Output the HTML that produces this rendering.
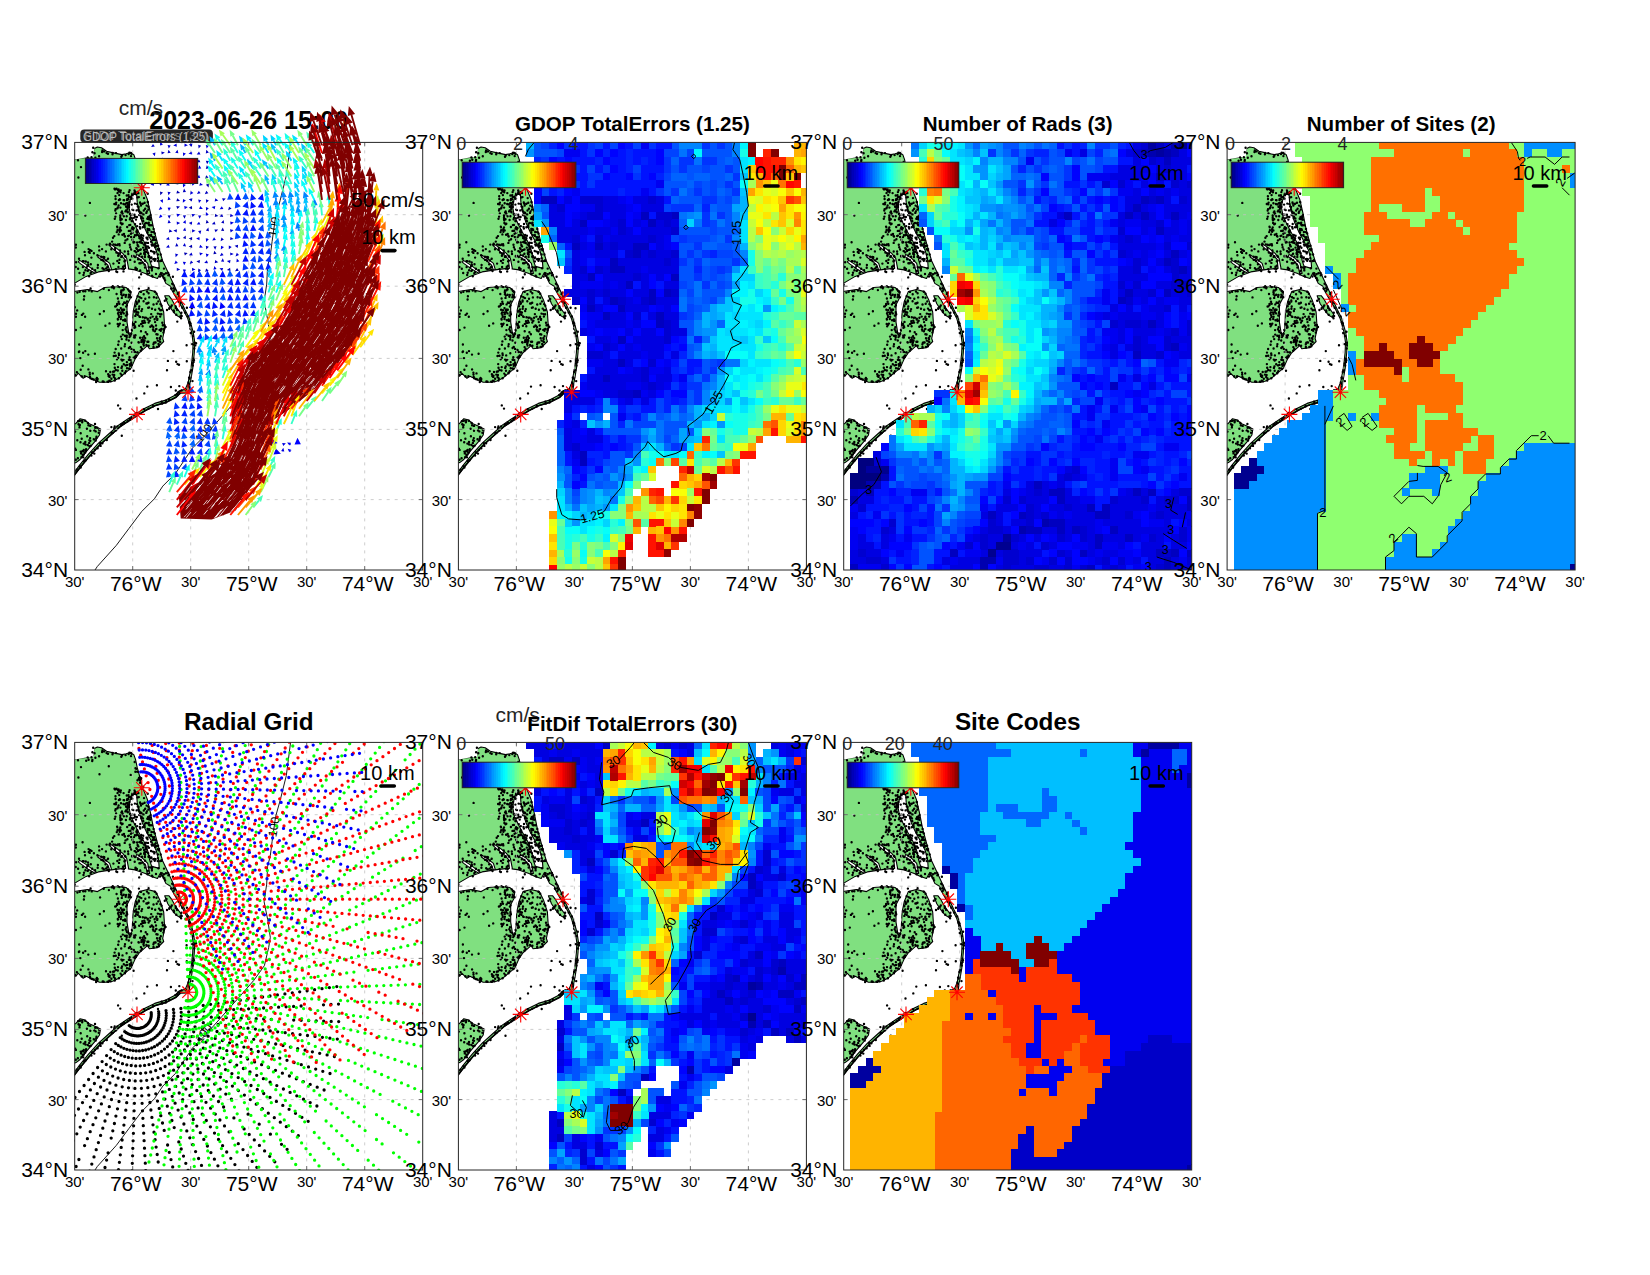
<!DOCTYPE html><html><head><meta charset="utf-8"><style>html,body{margin:0;padding:0;background:#fff;}svg{display:block}</style></head><body>
<svg width="1650" height="1275" viewBox="0 0 1650 1275" font-family="'Liberation Sans', Arial, Helvetica, sans-serif">
<rect width="1650" height="1275" fill="#fff"/>
<defs><clipPath id="pc"><rect x="0" y="0" width="348" height="427.6"/></clipPath><clipPath id="pc1"><rect x="0" y="-60" width="368" height="487.6"/></clipPath></defs>
<text x="248.7" y="129.3" font-size="25" font-weight="bold" text-anchor="middle">2023-06-26 15:00</text>
<text x="118.7" y="114.6" font-size="21" fill="#262626">cm/s</text>
<rect x="80.3" y="129.4" width="132.6" height="13.2" rx="4" fill="#262626"/>
<g font-size="13.5" fill="#d8d8d8" opacity="0.85"><text x="83" y="140.6" textLength="126" lengthAdjust="spacingAndGlyphs">GDOP TotalErrors (1.25)</text><text x="84" y="140.2" textLength="124" lengthAdjust="spacingAndGlyphs" opacity="0.6">FitDif TotalErrors (30)</text></g>
<text x="495.5" y="722.3" font-size="21" fill="#262626">cm/s</text>
<g transform="translate(74.7,142.4)">
<g clip-path="url(#pc)">
<path d="M51 126.1L50 117L46 112.5L40 108L35 103.5L36 102L42 106L48 111L52 116L54 126.5L53.6 126.5L60.4 127.5L70.6 131L76.7 134L82.8 136L86 130L88 134L91.1 141L96.2 144.1L96.2 146L101.3 155L108.5 167L113 176L117 190L118.4 200.2L118 210.4L116.3 225.5L113.5 240L110.5 247L104.5 248.5L100.3 252.9L90.2 258L80 261L69.7 266.1L61.5 271.2L53.4 276.3L44.2 282.5L34 291.6L23.8 300.8L13.6 312L4.5 323.2L-1 331L-1 333.6L5.4 325.2L14.6 314L24.8 302.8L35 293.6L45.2 284.5L54.4 278.3L62.5 273.2L70.7 268.1L80.9 263L91.1 260L101.3 254.9L105.3 250.8L114 250.5L114.4 248.6L115.5 241L118.1 225.7L119.6 210.4L120.1 200.2L118.6 190L114.5 175.7L110.4 167.5L106 158L102.3 149.2L99 142L99 142L96.2 136L92 127L88 118.6L86 112L82.9 101L78.8 85.7L75.8 70.4L72.7 57.1L70 50.5L67.6 44.9L66.5 40L64.6 32.6L62.5 25L60.8 17L59.1 12.2L55.7 10.1L51.4 11.4L47.2 12.2L38.7 10.5L31.9 8.8L26.8 5.4L22.6 4.6L19.2 6.3L18.4 13.1L13.3 14.8L9.5 15.3L4.8 15.6L-1 17.4L-1 141L1.3 140L11.5 134L23.7 129.5L36.7 127.5L35 127.5L33 122.5L29 119L23 114.6L24 113L30 117L35 121L37 127.5L40 127L50.2 126L51 126.1ZM72 90L77 99L81.5 108L84 118L84.5 126L77 124L75 118L73.5 110L71 102L67 95L63 88L59 80L56 74L54.5 66L55 60L57 52L62 52L62.5 60L64.5 70L67.5 80L72 90ZM22 130L20 130.6L13 126.5L6 121.5L3.5 119.5L5 118L12 122.5L18 127L22 130ZM68 116L73 121L75 131L72.5 131L71 123L67 118.5L61 114L62 112L68 116ZM94.1 153.3L90 153.3L93.1 161.4L97.2 167.5L101.3 172.6L106.4 175.7L106.4 171.6L101.3 164.5L97.2 157.3L94.1 153.3ZM24.8 239.9L31.9 239.9L38 238.9L44.2 235.9L50.3 230.8L56.4 225.7L60.5 216.5L64.6 210.4L72.7 203.2L74.7 206.3L82.9 205.3L89 199.1L88 196.1L90 185.9L89 169.6L85 157.3L80.9 149.2L72.7 147.1L64.6 149.2L60.5 159.4L58.4 169.6L57.4 189L54.4 193L52.3 179.8L52.3 162.4L55.4 156.3L56.4 149.2L51.3 145.1L42.1 144.1L29.9 145.1L22.8 149.2L12.6 147.1L-1 149.2L-1 233.8L1.3 233.8L3.4 230.8L8.5 235.9L11.5 233.8L17.7 236.9L24.8 239.9ZM19.7 283.5L14.6 281.4L9.5 277.3L5.4 276.3L0.8 281.4L-1 281.4L-1 321L1.3 320.2L5.4 317.1L12.6 307.9L19.7 299.8L24.8 292.6L25.8 286.5L19.7 283.5Z" fill="#80e080" fill-rule="evenodd" stroke="#000" stroke-width="1.1" stroke-linejoin="round"/>
<polygon points="-1,-1 20,-1 19.7,5.1 18.7,14.3 9.5,15.3 -1,17.4" fill="#fff"/>
<polyline points="105.3,250.8 101.3,254.9 91.1,260 80.9,263 70.7,268.1 62.5,273.2 54.4,278.3 45.2,284.5 35,293.6 24.8,302.8 14.6,314 5.4,325.2 -1,333.6" fill="none" stroke="#000" stroke-width="1.6"/>
<path d="M18.5 5.4h0m9.2 2.6h0m-14.7 7h0m3.8-0.2h0m0.9-5h0m2.2 1h0m4.5 3h0m3-4.2h0m2.1-0.6h0m2.4 1.7h0m1.4 0.6h0m4.5 0.6h0m0.2-1.3h0m3.3 0.1h0m5.3 3.6h0m0.7-1.2h0m3.6-0.4h0m3-1h0m0.8-1.4h0m1.5 0.3h0m0.1 3.1h0m0.7-2.4h0m-53.7 6.5h0m8.2 0.5h0m2.4-1h0m3.6 1.3h0m0.2-1h0m3-2.2h0m39.3 4.2h0m-53.7 5.1h0m27.8-0.9h0m26.7 2h0m0.7 0.5h0m-36.7 5.6h0m31.2 0.6h0m4.7-3.1h0m2.1-0.1h0m-59.1 5.8h0m59.1 2.8h0m1.1-1h0m0.4-1.4h0m0.8-0.7h0m0.3 3.1h0m0.8-1.1h0m0.3-0.9h0m-1.1 4.4h0m3.2 4.2h0m-28.8 1.8h0m0.6 0.7h0m1.4-0.6h0m1 4.3h0m0.2-3.4h0m0.9-0.2h0m0.1 1.8h0m1.8 1h0m0.3-1.8h0m2.8 2.6h0m5.3-1h0m0.7-1.9h0m4.9 0.2h0m0.2 2h0m0.2-0.9h0m1.5 1.8h0m1.1-1.4h0m0.9 1.2h0m3.3-4.4h0m-26.2 7.6h0m0.1 2.7h0m3.6-3.9h0m0.6 4.2h0m6.9-3.8h0m0.6 3.4h0m1.2 0.4h0m0-4h0m0.5 1.6h0m1.7 0h0m1.1 1.9h0m0.5-0.1h0m0.1-4.9h0m0.2 1.4h0m1.5-1.8h0m2.1 0.8h0m1.3 3.2h0m1.3-0.3h0m5.2 1h0m3.7-4.4h0m-57.8 9.2h0m24.5 1.1h0m1.5 0.2h0m0.3-1.6h0m2.4 2.8h0m0.3-5.4h0m1.2-0.4h0m0.9 3.7h0m2.5 0.7h0m0.1-3.9h0m0.5 0.2h0m0.9 4.1h0m1.4-1.1h0m0.6-3.3h0m0.1 3h0m0.2 0.3h0m0.3-0.1h0m0.6 1.3h0m1.2-2.5h0m2.3 2.6h0m3.2-1h0m2.1 0.5h0m3.1-1.7h0m0.3 1.1h0m2.3 0.3h0m1.9-1h0m3.1-0.8h0m0.2 0.3h0m-32.6 8.3h0m0.3-1.3h0m1.9-1.1h0m0.3-0.8h0m2.6 0.2h0m5.6 2.8h0m0.1-3.7h0m1 0h0m0.5 2h0m0-3h0m1.4 1.2h0m3.4 2.7h0m0.9 0.5h0m3.3 0.3h0m1.2-4h0m0.8 0.5h0m0 2.3h0m0.6 2.1h0m1.8-5.8h0m2.8 5h0m1.4-1.8h0m1.4-3.1h0m1.8 1.1h0m0 2.8h0m-63.1 6.1h0m30.1 1h0m0.7-3.1h0m4.2 3.9h0m0-2h0m1.1-3h0m0.6-0.9h0m0.4 1.8h0m0.4 0.9h0m1.1 2.1h0m1.5-4.9h0m0.5 0h0m0.8 4.8h0m1-4.8h0m0.1 0.9h0m2.2 1.7h0m0.7 0.6h0m1.7 0.1h0m2.1 0.1h0m0.6 1.8h0m1.8 0.4h0m2.3-2h0m0.8-0.2h0m0.5-2.4h0m0.8 0.2h0m0.2 0.6h0m0.1 3.6h0m1.9-2.4h0m2.8-1.5h0m0.5-1.5h0m1.2 5.9h0m1.1-0.5h0m0.2-0.4h0m0.2 0.5h0m1-1.9h0m-35.7 3.7h0m5.5 0.4h0m0.2 1.2h0m0.2 2.7h0m1.1-3.7h0m4.1 0.7h0m4-0.8h0m0.5-1.4h0m1.3 3.3h0m0.8 0.2h0m0.1-3.1h0m1.7-0.6h0m1.7 2h0m5.3-1.3h0m0.5-0.2h0m1.2 0.4h0m0 2.6h0m0.3 0.2h0m2.8 1.7h0m1.2-4.3h0m0.7 4.6h0m0.6-5.1h0m0.2 4.5h0m0.2-3.4h0m0.9-1.9h0m0.6 2.4h0m-33.4 6.9h0m0.2 0.5h0m2.3 1.9h0m0.7-1.6h0m1.5-3.2h0m0.8-0.6h0m4.6 3.3h0m2-1.9h0m1-0.2h0m1.7 3.6h0m0.5-1.3h0m0.2 0.3h0m1.2 0.6h0m1.3-4h0m2 2h0m2.7 0.8h0m0.4 1.6h0m0.1-4.6h0m2.4 3.4h0m1.8-1.8h0m0.2 1.4h0m0.2-3.3h0m2.7 5.3h0m1.3-4.2h0m0.2 4.5h0m0.6-3.8h0m0.5-0.2h0m1.8 0.1h0m1.6 3.6h0m-36.8 3.2h0m0.7-1.9h0m1.2 4.2h0m1-4.3h0m0 1.7h0m1.3-1.4h0m1.4 4.3h0m1.6-0.8h0m4.8-3h0m1.6-0.2h0m0.5 3h0m1.7-0.9h0m0.5-3.3h0m1.8 5.7h0m1.5-3.5h0m0.5-1.3h0m0 3.7h0m0.3-2.8h0m0.1 3.2h0m0.1-4.1h0m0 1.7h0m0.3 2.7h0m3.7 0.2h0m6.2-2.2h0m0-2.4h0m1.4 4.7h0m0.5-5h0m1.6 4.9h0m0.4-3h0m2 0.1h0m1.3 1.3h0m-41.8 4.4h0m1.3-1.7h0m10.3-0.2h0m0.4 0.6h0m0.5 3.9h0m1.9-1.1h0m0.8-3.3h0m0.7-0.4h0m2.2 1.4h0m1.3 2.7h0m1.6-2.6h0m1.8-1.7h0m3.3 0.9h0m0.3 1.7h0m0.8 0.5h0m0.6 2.6h0m0.1-4h0m1 2.9h0m0.8-1.8h0m0.5-2.4h0m3.3 1.9h0m1-0.1h0m0 1.6h0m3.7-3.3h0m1.6 3.9h0m0.1-2.5h0m0.9 0.8h0m0.4 1.7h0m0.1-2.7h0m1 2.6h0m0.7 0.7h0m-80.1 4.3h0m6.7-2.5h0m16.5 4.2h0m7.5-1.8h0m2.9 0.1h0m0.5-1.1h0m2.1-2h0m1.3 2.9h0m1.9 0.2h0m1.8 0.4h0m0.8-0.7h0m1.5-0.1h0m0.2 1.1h0m5.1-2.5h0m5.1 1.9h0m0.4 2.5h0m3.1-5.7h0m0.2 0.9h0m0.8-0.3h0m2.8 0.3h0m0.5 2.4h0m0.2 0.8h0m0.6 0.7h0m1-4.3h0m1.2 0.4h0m1.5 0.5h0m1.8 1.6h0m0.9-1.4h0m0.7 2.8h0m0.5-3.2h0m0.5 4.3h0m1.4-0.7h0m0.1-3.5h0m3.1-1.2h0m0.5 2.8h0m0.4 1h0m0.9-0.1h0m1.8-1.1h0m0.5 2.6h0m0.2-1.2h0m0.4-2.4h0m0.6 3h0m1.7-0.5h0m-82.3 1.7h0m8.8 4.4h0m4-2.8h0m0.2 2.8h0m0.9 1h0m0.5-2.7h0m1.3 0.7h0m2.4 2.3h0m5.4-2.8h0m2.8-1.3h0m3.8 2.3h0m5.4-2.1h0m3.8-1.4h0m0 2h0m1.3 2.6h0m3.6-2h0m0.1 2.6h0m4.6-1.6h0m3.4 0h0m3.1-2h0m3.4 1.6h0m0.4 0.1h0m1.3-3h0m0 4.2h0m0.6-3.3h0m1.1 1.8h0m1.1-0.8h0m1.1-0.4h0m0.6-0.3h0m2.3-1.8h0m1 5.5h0m0-3.2h0m0.6 1.9h0m1-3.7h0m0.4 1.3h0m0.3-1h0m0.1 3.5h0m1.7 1.4h0m0.8-5.5h0m2 3.2h0m1.9 0.6h0m1.8 0.7h0m2.9-3h0m1.2 0.9h0m0.3-1.1h0m-80.1 9.6h0m6-3.5h0m6.4 2.4h0m6-2.3h0m3.8 1.5h0m2.2 0.2h0m0.7 1.1h0m0.2-0.9h0m3.7 1.5h0m10.2-2.9h0m0.1-2.3h0m0.3 1.9h0m2.7 1.5h0m0.7-0.6h0m3-0.4h0m0.5 0.8h0m2.8-2.7h0m3.8 2h0m0 0.4h0m1.6-0.4h0m1.4 1.1h0m3 2.1h0m0.4-0.4h0m0.6-3.4h0m1.6-1.6h0m1.4 2.9h0m2.2-2.6h0m0.5-0.5h0m0.1 3.4h0m0.1-2.3h0m3.5 2.1h0m0.3-0.6h0m0.3-0.2h0m0.3 0.9h0m1.6 1.4h0m0.4-0.8h0m1.9 1.7h0m1-5.8h0m0.2 5.5h0m1 0.4h0m2.4-1h0m0-3.9h0m2.8 0.1h0m-84.6 7.7h0m6.7-1.1h0m0.7 0h0m2.3 0.4h0m2.2 1h0m0.2 2.4h0m2.6-0.7h0m7.1 0.8h0m3.4-5.2h0m1.5 0.3h0m0.8 0.9h0m1.9 3.3h0m0.7-3.8h0m7.2 3.1h0m3.9-2.6h0m1.7 1.9h0m0.5-3.1h0m4.9 1.5h0m0.9-0.7h0m4.9-0.7h0m4.5 1.8h0m4.7 1.6h0m1.2-0.1h0m0.1-3.2h0m1.9 2.6h0m1.9 1.9h0m0.6-3.7h0m6.1 0.6h0m3.6-0.6h0m2.9 0.3h0m2.5 0h0m1.3-0.9h0m0.3 0.6h0m-86.1 6.2h0m2.4 1.7h0m4.8-1.6h0m2.5 3.1h0m1.1-2.6h0m0.9-1.6h0m0.3 4.9h0m0.7-0.8h0m3.8-1.3h0m2.9 1.5h0m2.6-2.6h0m4.8 0.5h0m1.3 1.2h0m2.1-0.8h0m1.4-1.5h0m0.6 2.7h0m0-3h0m0.9 4.3h0m7.1-2h0m2.5-2.1h0m3.8 1.6h0m0.9-1.8h0m0.4 4.6h0m0.5-2.5h0m0.5-3.2h0m11 2.6h0m0-0.5h0m0 1.3h0m0.2-0.1h0m1.2 0h0m3.3 1.5h0m4.8-3h0m2.9 3.7h0m0.2-0.5h0m0.6-3.5h0m2 0.2h0m1.2 3h0m0-1.6h0m0.4-1.9h0m6.1 1.4h0m5.6 0.3h0m-84.5 4.4h0m4 2h0m0.5-2.2h0m5.1 3.5h0m1.5-3h0m0.7-1.1h0m25-0.7h0m0.9 0.5h0m22 5.4h0m1.9-3.2h0m6.5 0.1h0m4.4 1.5h0m0.6 0.8h0m3.4-2.6h0m4 2.6h0m1.1-2h0m0-0.5h0m0.7-0.8h0m0.7 2.7h0m1.5-1.7h0m2-1.1h0m2.2-0.3h0m0.1 2.3h0m0.7-0.4h0m3.9 1.9h0m-9.3 1h0m0.8 0.5h0m0.7 2.1h0m-90.4 4.4h0m15.9 3.8h0m13.1 0.3h0m8.2-1.6h0m0.9-0.9h0m1.1 1.9h0m0.2-0.5h0m3.7-1.4h0m1.6 0.8h0m3.1-0.7h0m0.8 0.5h0m0.3 0.6h0m15.3 1.1h0m9.7-0.3h0m22.6 0.3h0m0.3 0.2h0m0.7-5.1h0m1.4 2.9h0m0-1.1h0m0.2 3h0m0.1-2.3h0m-96.5 6.4h0m2.3-0.8h0m3.5-0.6h0m2.1 0h0m3.7-0.7h0m2.7 0.8h0m0 0.1h0m17.2-1.3h0m7.7 3.9h0m4.4-1.9h0m0.2 2.1h0m0.1-3.8h0m0 2.5h0m1.3-2.5h0m1.2-0.9h0m0 5.3h0m2.3 0.2h0m1.9-5.6h0m0.9 5.3h0m0.3-3.6h0m0.6 0.4h0m0.6 0.8h0m10.5-0.4h0m2.8 2.4h0m3.3-2.8h0m1.6 1.8h0m6.2-1.5h0m1.7 2h0m17.2-2.7h0m1.2-1.7h0m2.9 4.7h0m0.9-1.3h0m-94.8 6.7h0m0.3-3.2h0m15.9 1.1h0m17.8 1.1h0m3.9-0.6h0m0.5-2.3h0m3.4 1.1h0m1.3 4.7h0m1.6-4.2h0m0.7-1.4h0m0 0.8h0m1.6 0.7h0m6.7-1h0m1.3 4.2h0m0.8-3.2h0m1.6 0.8h0m2.3 3.2h0m1.7-2.6h0m3.9-1.3h0m4.7-0.1h0m2.6 0.4h0m1.8 3.7h0m6.5-0.7h0m1.7-1.8h0m12.8-2.5h0m0.9 3.7h0m-105.4 7.2h0m40.4-0.8h0m0.8-0.3h0m1.1-1.3h0m0-0.9h0m1.5-2.2h0m0.7 1.9h0m3.6 0.7h0m1.3-1.9h0m0.3 0.4h0m1.2 0h0m0.5 3.7h0m0.7-1.4h0m8.4 1h0m1.1-4.5h0m0.1 2.4h0m0.3-1.1h0m0.4 0.5h0m1.7-1.9h0m0.4 4.8h0m7.1-2.9h0m0.9 0.1h0m1.2-0.9h0m5 1.7h0m0.1 0.2h0m3.1-0.9h0m3.7 0.4h0m1.2 1.7h0m9.4 1h0m0.8-1.3h0m3.9 1h0m2.7-4.9h0m0.7 0.1h0m1.3 1.2h0m-103.2 7.5h0m26.7 0.8h0m13.5-1.4h0m0-0.2h0m1 2.9h0m0.9-2.4h0m1.3 2.3h0m0.2-4.3h0m1.3 1.8h0m0.3 2.2h0m0.4-2.3h0m0 0.6h0m0.4-0.8h0m0.6 3.8h0m0.3-3.7h0m2.6 2.5h0m0.1 1h0m7.2-1.7h0m0.7-0.6h0m0.9 0.6h0m0.7-2.1h0m0.7 2.7h0m1.2 0.4h0m0.8-3.8h0m2.5 2.3h0m0.6-1.9h0m6.1-1.3h0m0.9-0.4h0m2.9 1.4h0m3.2 0.9h0m3.8-1.1h0m1.3 1.7h0m1.5-0.2h0m5.2-0.1h0m2.2-1.2h0m0.1-0.7h0m4.5 2.4h0m0.1 1.5h0m0-0.7h0m1.8-3.4h0m1.3 1.8h0m4.4 3h0m0.9-4.9h0m2.7 4.8h0m0.2 0h0m1.7-4.9h0m4.9 0.5h0m-115.9 8.6h0m0.1-3.1h0m5.9 1.2h0m1.4-1.3h0m1.8 3.1h0m14.7-2.7h0m18 5h0m0.2-5.4h0m0.8 1.5h0m0.2 1.8h0m1.8 2.1h0m0.3-5.1h0m0.1 2.9h0m4.7-1.3h0m0.4 0.1h0m0.9-1.4h0m8.1 1.7h0m0.8-1.8h0m1.6 0.7h0m1.7 1.7h0m0.6 0.4h0m2.8 0.3h0m2.1 0.5h0m1-0.1h0m1.9 1h0m2.6-0.9h0m0.8-3.6h0m1.5 2.5h0m1.9 2.6h0m1.7-1.8h0m0.1-0.6h0m1 2.1h0m0.4-5.3h0m2 0.5h0m0.4 2.5h0m1.2-2.3h0m14.9 0.4h0m4 1.7h0m0.8 1.9h0m0.6-2.4h0m6.5 0.5h0m-78.7 7h0m8.2 0.5h0m0.2-4.3h0m1.2 5.2h0m0.8-1.2h0m3.2-3.3h0m0.3 4.6h0m1.6-5.4h0m0.2 1.4h0m0.3-0.1h0m7.5 3.1h0m0.9 0.7h0m0.2 0.6h0m0-1.2h0m1.4-2.1h0m5.6 2h0m0.8-0.3h0m0.4-2.3h0m1 1.6h0m1-2.3h0m0.8 1.9h0m2.6-2.9h0m0.9 2.9h0m1.1-1.7h0m2.1 4.6h0m3.3-3.3h0m2.1-2.2h0m5.1 2.9h0m0.5 2.5h0m1.6-0.3h0m0.1 0.2h0m12.8-3.6h0m12.1 0.8h0m0.2-0.4h0m0.2 1.3h0m0.2-0.3h0m0.5 0.5h0m-114.6 6.5h0m4.9-2.4h0m24.6-1.8h0m12.8 0.5h0m4.5 3.8h0m2.9-0.9h0m0.7-2h0m0.2 3.6h0m5.4-0.9h0m2.4-2.1h0m0.6-1.6h0m0.3 1h0m4-1.4h0m1.8 5.4h0m1.6-5h0m7.7 0.5h0m1.8-0.7h0m0.9 3.5h0m0.3-2.5h0m0 3.6h0m1.6 0.7h0m0.9-2h0m0.2-3.8h0m0.4 3.4h0m3.2 1h0m0.7-0.3h0m0.5 1.1h0m0.8-1.7h0m2.3 0.1h0m0 1.4h0m0.4-1.7h0m1.3-1.8h0m24.8 1.7h0m0.2-2.8h0m-69.6 10.7h0m1.8-2h0m2.1 1.1h0m1.8 1.5h0m0.1-1.5h0m0.2-3.6h0m1.7 1h0m0.8 4h0m0.9-1.3h0m0.9-1.8h0m2.6 3.3h0m0-1.5h0m1.6-0.6h0m8.6 1h0m1.6-3.9h0m1.5 2h0m9.2 0h0m1.2 0.2h0m3.2 1.8h0m2.6-3.7h0m27.4 0.3h0m0.2 0.4h0m2 2.8h0m1.1-4.4h0m-75.4 9.7h0m3.1-2.3h0m4.6 0.4h0m2.4 1h0m2.8 2.2h0m3.2-5.2h0m3.7 4.8h0m0.3 0.2h0m1.3-4.8h0m1.2 4.4h0m0.2-1.8h0m1.1-2.6h0m0.2 1.5h0m0.4 2.6h0m0.1-0.8h0m0.6 1.7h0m0.4-2.6h0m0.3 0.6h0m0.6-2.6h0m2.2 3.7h0m1 0h0m5.5 0.8h0m1.1-0.1h0m0.6 0h0m1.4-4.2h0m0.8 2.3h0m1.8-2.5h0m0.2 3.3h0m0.2-2.3h0m0.3 3h0m34.3 0.5h0m1.5 0.6h0m-116.9 1.3h0m36.5 4.5h0m2.5-4.2h0m3 3.7h0m3.5-2.3h0m0.3-2.1h0m3.9 3.9h0m1.2-1.1h0m1.3 2h0m9.5-1.8h0m1 1.6h0m1.5-4.6h0m0.4 1.4h0m2.6-0.5h0m2.3 0.8h0m4.7-1.6h0m0.1 3.3h0m0-0.6h0m0.2 0.7h0m3.2-0.7h0m1.6-2.9h0m0.4 2.2h0m0.1-0.9h0m27.6-0.1h0m5.5-1.1h0m1.8 0.5h0m0.4 3.9h0m1-3.1h0m-116.4 6.6h0m0.4-0.5h0m3.8 1.2h0m2.2-1.6h0m3 3.5h0m6.6-0.8h0m19.7-1.2h0m4.2 0.8h0m0.2 1.6h0m7.6-1.8h0m5.8-1.3h0m1.4-2h0m1.3 2.1h0m1 3.4h0m1.2-2.9h0m0.4-0.1h0m3-1.7h0m32.7 0.4h0m-93.1 7h0m33.5-2.1h0m2-0.3h0m1.2 3.5h0m1.2-1.5h0m3.2 1.9h0m0.9 0.9h0m0.2-5.1h0m1 4.2h0m5.4 0.2h0m0.7-2.5h0m0 0.3h0m1 2.5h0m3.1-2.4h0m0.8 0.3h0m0.6-1.6h0m0.8 0.4h0m32 4.1h0m18.9 0.3h0m6.3-0.6h0m0.4-1.8h0m0.5 1.5h0m-111.3 5.4h0m31.8-1.6h0m3.5 3h0m4-0.7h0m1.8-2.2h0m1.9 1.2h0m1.2-3.3h0m0.2 2.8h0m2.6-0.6h0m0.3 1.5h0m1.3-3.3h0m0.2 1.9h0m0.1 0.8h0m44.6-3.4h0m1.3 2.3h0m1.5 0.6h0m13.4-1.2h0m0.4 2.1h0m0.8-3.7h0m-116.7 10.3h0m3.8-2.4h0m7.7-0.4h0m1.3 3.3h0m16.3-1.5h0m4.3 0.8h0m2.8-0.2h0m1-0.3h0m0.7-3.8h0m1 2.3h0m2 0.5h0m3.7-2.6h0m0.8 2.8h0m2.4 2.3h0m0.2 0.3h0m1-2h0m1.1-3.1h0m2.1 0.3h0m0.6 0.5h0m3.9 1.8h0m33.4-0.5h0m23.4 1.7h0m0.5-1.9h0m0.7 0.1h0m-116.3 4.7h0m6.5 1.5h0m0.1 0h0m2.8-0.1h0m5.1-1.7h0m0.2 2.3h0m0.5 1.3h0m1.6 0.9h0m0.1-0.1h0m0.6-5.6h0m3.6 5.6h0m0.5-1h0m0.7 0.9h0m10.6-4.6h0m0.4 1.8h0m0.9 0.8h0m0.3-1.2h0m1.6 3h0m1.2-4.1h0m1.2 2.4h0m0.4-2.1h0m0.9 3.5h0m3.8-0.2h0m1.7-4.6h0m1.1 1.3h0m0 0.4h0m67.4 2.4h0m0.3 0.9h0m0.1-0.8h0m0.9-0.6h0m-96.7 2.3h0m2.4 2.5h0m1.2-1.2h0m5.4 0.7h0m1 0.3h0m0 0.1h0m3.8-0.3h0m0.6 0.3h0m1.2-1.2h0m1.3 0.7h0m4.2-0.8h0m42.1 4.7h0m31.2-0.3h0m0.3-2.5h0m0.8 1.4h0m3.3-2.8h0m-45.2 5.5h0m23.6 0.4h0m4.9 3.5h0m3.5-4.4h0m2.3 4.4h0m4.2-1.1h0m0 0.9h0m2.6-3.7h0m0.4 4.8h0m-44.5 2h0m31 1.7h0m1.7-1.1h0m0.7 1h0m0.4-2.6h0m1.5 0.8h0m0.4-0.9h0m-43.5 6.2h0m25.1 3.3h0m4.2 0.7h0m0.1-1.7h0m3.2-1.6h0m-51 6.2h0m2.2 3.2h0m23.8 0.5h0m4.5-0.5h0m4.5-2.2h0m0.1-0.8h0m4.8 3.4h0m4.2-5.5h0m-27.6 11.1h0m1.1-1.2h0m0.7-0.4h0m3.1 0.6h0m-61.4 7.7h0m1.9-0.6h0m2 0h0m0.4 0.2h0m2.8-0.1h0m42.5 0.5h0m1.9-2.4h0m1.9-1.3h0m1.4-2h0m-54.4 8.6h0m1 3.2h0m0.1-2h0m0.3-0.5h0m2.3-2.6h0m5.7 0.6h0m0.5 2.4h0m1.9 0.6h0m4.7-2h0m16.4 3.2h0m3.3-0.7h0m2.7 0h0m3.5-1.3h0m0.6-0.9h0m0.8-0.3h0m1.8-1.8h0m0.3 0.9h0m-49.3 8.6h0m5.6 1.6h0m6.2-4.5h0m3.4 2.1h0m4-0.4h0m0.9-2.6h0m0.5 3.6h0m0-4h0m1.5 0.4h0m1.5 4.9h0m0.4-3h0m12.5 3.6h0m1.2-0.6h0m1.4-4.6h0m0.7 1.1h0m1.2 1.1h0m-34.4 8.4h0m5.5-2.5h0m2.9 1.9h0m3.7 1.2h0m2.4-1.1h0m0.3-1.6h0m25.3-0.8h0m-44.5 4.5h0m3.2 2h0m3.2 1.3h0m1.6-1.6h0m0.2 2.5h0m2.3 0.5h0m1.4-2.1h0m0.2-2.7h0m0.9 0.5h0m5.4-0.2h0m4.4 2.5h0m2.3 0.2h0m4.4-3.2h0m-31.6 8.6h0m0.7 1.3h0m6.5 1.3h0m1.4-1.2h0m2.3 0.2h0m0-0.9h0m3.4-3.1h0m1.5-0.6h0m4 4.4h0m2.6-1.8h0m3-2.3h0m-19.9 5.7h0m0.4 1.8h0m0.3 3.9h0m1.3-2.3h0m0.6 2.3h0m0.5-2.9h0m0.7-2.1h0m0.7 0.2h0m6.2 3.1h0m0.7-3.2h0m0.1 0h0m2.1 1.2h0m-19.5 6.4h0m1-0.2h0m2.1-1.6h0m6.2 2.8h0m1.7-0.8h0m-5.8 6.1h0m0.5 0.7h0m0.2 0.5h0m-4 2.1h0" stroke="#000" stroke-width="2.4" stroke-linecap="round" fill="none"/>
<g stroke="#c0c0c0" stroke-width="0.8" stroke-dasharray="3,5" fill="none">
<line x1="0" y1="72.3" x2="348" y2="72.3"/>
<line x1="0" y1="143.8" x2="348" y2="143.8"/>
<line x1="0" y1="216" x2="348" y2="216"/>
<line x1="0" y1="287" x2="348" y2="287"/>
<line x1="0" y1="357.2" x2="348" y2="357.2"/>
<line x1="58" y1="0" x2="58" y2="427.6"/>
<line x1="116" y1="0" x2="116" y2="427.6"/>
<line x1="174" y1="0" x2="174" y2="427.6"/>
<line x1="232" y1="0" x2="232" y2="427.6"/>
<line x1="290" y1="0" x2="290" y2="427.6"/>
</g>
<g stroke="#555" stroke-width="0.8">
<line x1="0" y1="72.3" x2="4" y2="72.3"/><line x1="344" y1="72.3" x2="348" y2="72.3"/>
<line x1="0" y1="143.8" x2="4" y2="143.8"/><line x1="344" y1="143.8" x2="348" y2="143.8"/>
<line x1="0" y1="216" x2="4" y2="216"/><line x1="344" y1="216" x2="348" y2="216"/>
<line x1="0" y1="287" x2="4" y2="287"/><line x1="344" y1="287" x2="348" y2="287"/>
<line x1="0" y1="357.2" x2="4" y2="357.2"/><line x1="344" y1="357.2" x2="348" y2="357.2"/>
<line x1="58" y1="0" x2="58" y2="4"/><line x1="58" y1="423.6" x2="58" y2="427.6"/>
<line x1="116" y1="0" x2="116" y2="4"/><line x1="116" y1="423.6" x2="116" y2="427.6"/>
<line x1="174" y1="0" x2="174" y2="4"/><line x1="174" y1="423.6" x2="174" y2="427.6"/>
<line x1="232" y1="0" x2="232" y2="4"/><line x1="232" y1="423.6" x2="232" y2="427.6"/>
<line x1="290" y1="0" x2="290" y2="4"/><line x1="290" y1="423.6" x2="290" y2="427.6"/>
</g>
<polyline points="216,-1 211.6,33.3 205.4,58.2 200.9,74.2 197.4,99.1 195.6,113.3 192.9,123.9 192,141.7 189.4,159.4 193,177.2 195.6,195 194,205 189.7,223.2 179.1,238 164.3,254.9 147.4,273.9 130.4,293 117.7,305.7 100.8,331 88.1,343.7 79.7,356.4 67,369.1 54.3,386 41.6,403 22.6,424.1 19.4,429" fill="none" stroke="#000" stroke-width="0.9"/><text x="0" y="0" font-size="12" transform="translate(201.5,95) rotate(-80)" fill="#000">100</text><text x="0" y="0" font-size="12" transform="translate(126,301) rotate(-52)" fill="#000">100</text>
</g><g clip-path="url(#pc1)">
<polygon points="106,376 104,352 125,340 150,325 157,300 157,250 170,230 182,213 200,193 213,175 220,150 228,136 248,105 264,80 272,64 292,62 296,70 293,100 289,137 288,175 278,200 268,213 253,235 236,250 213,268 195,280 186,290 185,317 178,340 172,351 161,368 137,377" fill="#800000"/>
<path d="M276.5 87.5l1.5 -9.4M176.8 283.6l3.4 -7.8M177.7 297l2 -4.6M159.9 274.4l4.4 -10.3M158 317l2.4 -5.5M275.9 126l1.7 -3.7M233.4 247.9l7 -9.4M175.6 332.9l3.1 -7M265.9 143.6l2 -4M178.7 254.6l5.8 -12.4M190.7 283.7l4.6 -10.7M211.4 184.3l3.2 -4.8M109.5 374.8l8.1 -10M208.5 226.9l5.6 -7.5M278.6 82.7l1 -10.4M191.1 216.4l6.2 -8.3M175.6 338.8l2.6 -5.8M252.9 167.2l5.3 -10.6M105.6 362.5l6.2 -7.7M263.9 95.5l3.1 -6.8M175.5 295.4l3.5 -7.9M285.2 69l0.5 -5M152.2 330.3l4.1 -9.2M264.7 187.7l3.4 -5.1M221.2 241.1l5 -6.7M210.1 210.2l7.2 -10.4M166.1 324.6l3.7 -8.4M280.8 75.2l0.5 -5.5M228.6 186.6l7.1 -10.7M236.5 175.1l3.7 -5.6M190.7 276.1l2.5 -5.8M167.6 297.7l3 -6.8M219.4 233.8l8 -10.6M277.3 130.2l2.5 -5.5M235.7 195.3l6.9 -10.4M241.4 218.3l2.6 -3.8M259.2 187.5l4.8 -7.2M289.1 88.7l1.2 -7.4M290.1 120.7l3.8 -8.5M181.9 307.6l3.5 -7.8M289.2 75.2l0.6 -5.7M204.5 245l7.5 -10M286.3 171.3l1.9 -3.7M267.5 127l1.7 -3.8M283.8 178.6l4.6 -9.3M166 350.2l5.6 -7.7M240.3 174.8l5.3 -8M284.9 80.6l1 -9.7M173.9 270.7l5.1 -11.9M275.6 72.7l1.4 -13.7M159.2 313.3l3.8 -8.5M234.6 132.2l2.9 -5.9M287 119.6l4.3 -9.6M290.1 120.7l5.3 -11.7M205.2 270.8l2.1 -5M229.4 211.5l6.4 -9.6M227.7 160.9l5.8 -9.1M252.4 208l5.5 -8.2M225.8 212.2l2.7 -4.1M182.3 307.1l4.6 -10.3M216.8 229.9l3.3 -4.4M158.7 283.1l1.9 -4.4M250.9 115.5l1.7 -3.7M188.9 225.3l7 -9.3M175.5 305.4l2.3 -5.1M273.2 164.6l4.9 -9.8M270.3 152.5l3.9 -7.9M244.9 112.1l2 -4.4M278.6 92.4l4.8 -10.6M260.5 141l3.5 -6.9M198.7 231.3l4.8 -6.5M241.2 146.9l2.9 -5.8M237.7 142.3l6.2 -12.4M243.6 119.9l1.8 -3.8M200 251.1l7.3 -9.7M178.5 234l7.3 -9.7M259.3 174.8l6.2 -11.8M256.6 146.1l2.5 -5M261.4 100.6l2.6 -5.8M133.1 343.1l6.8 -8.4M278.1 102.5l4.6 -10.2M236.5 247.3l5.3 -7M174.6 342.6l3.9 -8.8M285.3 149.2l2.5 -5M227.6 233.4l5 -6.7M276.5 126.5l2 -4.5M263.5 120.2l4 -8.9M215.2 196.5l6.1 -9.2M243.9 203l5 -7.4M189 210.4l3.6 -4.9M190 210.3l5 -6.6M246.9 167.5l4.6 -9.1M262 84.1l0.7 -6.5M263.6 99.5l2.8 -6.2M116.9 357l8.7 -10.8M247.1 119.5l4.7 -10.3M279 187.2l3.1 -5.3M241.4 169.5l7.2 -11.5M225.5 171.6l4.9 -7.3M178.4 221.4l4.3 -5.8M217 233.8l3.5 -4.7M263.5 168.6l2.7 -5.4M234.2 242.6l6 -8M257.5 133.3l3.4 -6.8M157.9 334.4l1.6 -3.7M162.6 267.8l4.1 -9.5M262.9 208.7l5.8 -8.8M173.5 329.2l2 -4.6M270.4 139.7l4.1 -8.2M200.1 257.2l3 -4.1M233.9 232.3l6.7 -9M164.6 287.5l2.6 -5.9M248.9 112.4l4.3 -9.6M286.9 90.6l3.6 -13.5M217.1 206.4l5 -7.4M202.5 245.5l3.3 -4.4M242.1 144.6l1.9 -3.8M287.8 92.9l3.5 -11.5M251.3 196.9l5.6 -8.4M251.5 206.3l2.4 -3.6M165 259l2.2 -5M233.8 199.3l5.5 -8.2M252.6 219.3l4.8 -7.2M243.6 191.4l2.6 -3.9M257.7 108.5l2.8 -6.1M290.9 116.9l2.3 -5M256.7 136.3l4.4 -8.7M264.8 155.7l4.7 -9.4M118.1 372.9l3.1 -3.8M278.4 181.6l2.9 -5.8M176.2 339.9l4.3 -9.6M170.5 322l3.7 -8.2M204.3 252l6.5 -8.6M156.1 355.1l5.2 -6.4M215.4 242.9l4.4 -5.9M204.3 199.8l6.9 -10.4M248.9 221.5l4.8 -7.2M216.1 204.4l7.7 -11.5M268.3 189.9l5.7 -8.6M218.6 255.5l7.7 -10.3M179.8 274.1l5.3 -12.3M236.6 200.7l2.4 -3.6M220.2 157.8l5.6 -8.4M147.6 355.9l5.4 -6.6M231.3 232.1l5.2 -6.9M162.3 256.6l4.9 -11.5M165.6 241.1l2.2 -3.7M154.1 321l5.1 -11.4M225.1 186l5.4 -8.1M174.6 283.9l5 -11.8M162.1 293.7l2 -4.6M193.8 202.2l5.8 -7.8M257.3 120.4l3.3 -7.3M274.6 140.7l2 -4M269.6 118.3l2.1 -4.7M214.5 201.9l3.6 -5.4M232.7 202.7l3.7 -5.6M248.9 210.1l4.7 -7M187.2 280.6l3.4 -8M243.6 115.5l4.2 -9.2M167.2 309.1l3.7 -8.3M149.8 343.5l6.8 -8.4M207.3 229.1l8.3 -11.1M199.6 239l7.5 -10.1M214.1 233.3l7.1 -9.4M188.4 232.8l5.6 -7.5M254 113.4l5.2 -11.6M284.8 131.5l5.7 -12.7M169.5 271.2l5.3 -12.3M241 129.7l3.3 -6.5M283.2 66.9l0.9 -8.9M156.8 322.2l4.5 -10.1M258.7 210.9l5 -7.5M201.7 260l2.8 -3.7M204.4 272l2.7 -6.3M255.4 223.9l4.7 -7.1M280.4 71.9l1.3 -13.3M197.5 200l3.7 -5.6M169.2 278.6l2.7 -6.2M244.4 141.3l2.4 -4.8M277.8 176.8l4.2 -8.4M232.3 187.4l4.4 -6.5M168.8 276l5 -11.7M143.1 333.8l5.4 -6.6M257.5 115.5l4.7 -10.5M175.3 247.6l4.4 -7.6M274.4 182.1l5.1 -9.8M165.2 239.5l7 -11.5M137.7 341.2l7.5 -9.2M246.7 212.3l4.9 -7.3M274.7 65.3l1.3 -12.8M250 229l3.8 -5.7M144 347.1l5.5 -6.7M169.9 350.7l3 -4.9M218.5 184.9l3 -4.4M199.7 208.5l5.4 -7.2M171.5 347.5l5.1 -8.3M236.9 220.8l6.1 -9.1M190.8 282.2l4.8 -11.2M239.6 196.2l5 -7.6M183.7 214.4l2.5 -3.3M203.2 221.2l6.6 -8.8M227.8 170l2.4 -3.6M184.9 237.9l2.7 -3.6M281.6 78.8l0.9 -8.7M259.9 130.6l3 -6.1M202 193.6l5 -7.4M214.9 173.8l3 -4.5M164.8 342l4.5 -7.4M244.3 208l2.5 -3.8M258 157.8l3.6 -7.2M230.8 207.3l2.5 -3.8M270.9 119.1l5 -11M164.9 286.6l2.4 -5.6M210.3 196.7l2.9 -4.3M224.8 256.7l2.7 -3.6M246.2 139.6l3.4 -6.8M158.9 305l4.6 -10.3M170.2 275.3l4.1 -9.5M225.8 238.1l5.7 -7.7M126.1 362.6l4.1 -5.1M276.3 140l6.2 -12.3M246 156.6l2.4 -4.7M126.4 354.5l5 -6.2M231.6 240.2l5.5 -7.4M234.8 198.9l5.1 -7.7M218.9 244.8l6.9 -9.3M165.8 326.4l4.6 -10.4M206.1 212.8l2.6 -3.5M182.8 306.3l2.3 -5.2M151.8 350.8l2.8 -3.5M277 145.3l1.8 -3.6M252 229.7l3.2 -4.7M274.5 157.7l2.5 -5M264.8 118.8l5.5 -12.2M239 245.9l5.6 -7.5M217 185.9l4.1 -6.2M221.8 223l7.4 -10M232.3 197.5l3.4 -5.1M148.7 339l7.9 -9.7M263.6 134.3l3.1 -6.2M157.4 337.8l2.2 -3.8M192.8 221.6l8.1 -10.8M157.3 368.4l8.7 -10.7M153.5 316.3l4.7 -10.6M285.7 126.4l4 -8.8M219.2 201.1l7.1 -10.7M271.7 114.5l5.1 -11.2M164.3 318.7l2.6 -5.9M221.8 249l2.4 -3.2M111.1 350.4l2.9 -3.6M165 281.1l2.4 -5.7M123.7 358.3l6.2 -7.6M122.4 347.1l6 -7.4M263.3 150.7l4.6 -9.2M174.2 298l2 -4.5M260.3 183.5l7 -10.7M248.4 107.7l2.8 -6.3M182.3 214.9l2.8 -3.8M191.6 230.7l3.4 -4.5M254.6 172.3l6 -11.6M189.8 282.2l4.4 -10.2M132.3 349.4l6.3 -7.7M215.3 210.3l6.8 -10.1M206.7 212.7l6 -8.1M282.2 172l4 -8M236.9 149.9l4.3 -8.5M190.7 259l5.6 -11.1M287.4 101.1l4.8 -10.7M215.7 258.8l5.2 -6.9M231 147.6l1.9 -3.9M256.3 128.1l4.8 -9.7M251.1 206.6l4 -6M197.7 239.2l7.4 -9.8M207.2 242l3.2 -4.2M185 304.4l3 -6.7M241.7 120l3.5 -7.1M191.5 268.5l1.8 -4.3M233.3 232.9l4.2 -5.6M242.3 209.1l2.6 -3.9M290.4 98.5l4.4 -9.8M154.3 324.2l2.5 -5.6M280.1 82.1l0.7 -7M130.4 339l6.7 -8.2M163.8 254.3l2.3 -5.4M187.5 222.6l3.9 -5.3M154.5 359.3l7.7 -9.4M188.6 271l1.6 -3.7M213.5 255.8l6 -8M110.8 349.3l4.2 -5.2M276.8 156.7l2.7 -5.5M171.4 334.2l3.7 -8.3M214.2 177.6l4.5 -6.8M166.4 303.2l3 -6.6M184.6 301.1l3.7 -8.3M173.7 241.6l2.5 -3.4M238.6 129.3l2.3 -4.6M208.5 263.2l7.6 -10.1M257.8 100.9l2.6 -5.8M185.5 269.7l2.9 -6.8M163.7 254.1l4.5 -10.6M202.3 252.3l7.4 -9.9M228.8 235.3l7.7 -10.3M246.3 236.5l3.2 -4.5M230.4 252.2l4.3 -5.7M228 188.2l2.5 -3.7M224 189.3l6.6 -9.9M271.7 162.8l2.4 -4.9M158.9 314l2.1 -4.8M107.9 361.1l8.7 -10.7M166 288l2.8 -6.5M253.4 213.5l4.3 -6.5M286.4 63.3l0.5 -4.7M285.5 127.9l5.3 -11.7M181.2 222.1l3.5 -4.7M229.5 198.4l5.3 -7.9M282.3 166.8l3.8 -7.6M265.2 105.4l4.1 -9M271.3 103.4l1.9 -4.1M148.3 344.6l3.2 -4M267.3 159l2.7 -5.3M221.2 191.9l3.2 -4.8M264.1 96l2.6 -5.9M188.9 266.4l1.8 -4.1M173.8 282.9l2.3 -5.3M196.8 223.2l3.3 -4.4M148.1 340l7.2 -8.9M230 172.5l3.3 -4.9M256.4 139.3l5.1 -10.3M248.4 208.9l7.6 -11.3M154.4 332.7l4.7 -10.5M162.3 275.6l4.4 -10.3M281.6 64.3l1.2 -11.7M242.9 218l2.3 -3.4M272.5 111.6l2.6 -5.7M123.9 356.3l6.2 -7.7M176 330.7l2.3 -5.3M270.3 78.6l0.9 -8.8M220 163.9l2.8 -4.3M242.9 151.2l5.9 -11.8M164.3 339.7l2.7 -5.2M242.2 174.6l6.1 -9.1M262.6 193.3l6.6 -9.9M270.4 84.4l1 -10.2M169.3 343.1l5.1 -8.6M176.3 221.1l3.8 -5M167.2 320.7l3 -6.7M227.6 243.2l7.4 -9.8M223.9 197.1l5.3 -7.9M250.6 153.2l2.7 -5.4M255.3 115.6l3.5 -7.8M219.9 156.1l5.4 -8.4M183.1 298.3l3.5 -8M286.3 95l2.9 -6.5M275.9 102.3l4.5 -10.1M111.3 367l6.4 -7.9M155.1 335l2.3 -4.6M236.5 241.3l7.4 -9.8M146.5 351.5l7.1 -8.7M117.3 353.6l7.8 -9.6M233.1 135.3l3.9 -7.9M270.9 158.6l5.9 -11.9M267.6 114.3l3.1 -6.8M233.8 153.4l6 -12.1M273.2 93.8l2.2 -5M140.4 375.1l3.9 -4.8M227 162.8l5.2 -7.9M243.1 140.4l4.9 -9.8M181.3 220l4.4 -5.9M180.5 242.1l3.6 -4.8M249.1 145.2l4.5 -9M243.8 166.6l5.5 -10.7M279.9 153l4.6 -9.2M176.4 336.1l5.3 -12M239.8 158.1l2.7 -5.5M271.3 123.7l3.2 -7.1M227.9 183.2l6.2 -9.3M277.4 146.5l5.6 -11.2M160 287.3l5.4 -12.3M135.6 367l4.1 -5.1M282.2 170.6l4.2 -8.3M208.2 264.3l3.8 -5.1M180.8 288.4l3.6 -8.4M243 117.3l4.7 -10.3M276.1 83.7l1.2 -11.9M235.9 231.2l6.8 -9.5M128.7 362.6l4.1 -5M174.3 307.4l4.4 -9.8M228.2 250.4l3.7 -4.9M279.4 154.1l2.9 -5.8M214.8 204.6l4 -6M233.5 153.9l5.9 -11.9M141.8 359.3l3.8 -4.7M154.4 329.3l3.8 -8.6M230.6 150.2l3.6 -7.2M203 206.4l7.5 -10.8M204 260.8l4.2 -5.6M251 186.4l4.2 -6.3M126 345.7l4 -5M276.3 193.1l5.2 -8.2M186.3 209.2l5.9 -7.8M154.7 310l3.1 -7M111.7 375.3l4.5 -5.5M290.2 89l1.7 -9.8M235.8 245.7l5.5 -7.3M235.8 228.7l4.4 -6.3M282 176.5l2.9 -5.9M178.6 286.4l4.2 -9.9M240.6 148.1l5.7 -11.4M199.2 215.4l6.9 -9.2M157.3 300.2l3.9 -8.8M168.4 325.2l2.6 -5.9M251.4 126.6l3.7 -7.4M147.5 358.8l3.5 -4.3M287 99.3l5.6 -12.5M224.1 159.8l5.2 -7.9M225.9 169.5l7.6 -11.5M225 218.3l4 -6M291.2 79.1l0.9 -9.3M183 288.3l4.8 -11.3M224.9 178.1l5.1 -7.7M177.9 297.3l4.1 -9.2M173.3 282.3l5.3 -12.5M214.1 247.9l3.8 -5M247.2 237.6l2.5 -3.6M157 315.2l2.2 -4.9M254.7 218.7l2.3 -3.5M118.4 363.1l2.8 -3.4M111.6 364.5l2.7 -3.4M265.3 203.8l7 -10.6M291.4 93.3l2.3 -8.8M203.7 196.2l2.5 -3.7M276.6 71.1l0.7 -6.9M145.4 360.6l8.4 -10.3M152.5 358.5l5.9 -7.3M213.2 175.6l5.5 -8.3M230.1 232.5l4.5 -6M274.8 173.8l3 -6.1M179.3 252.4l2.8 -4.9M215.3 246.8l6.7 -9M211.3 217.7l3.4 -4.6M181.9 273.4l4 -9.3M269.9 192.6l4 -6.1M261.1 193.8l2.6 -3.9M236.9 175.9l7.1 -10.6M226.5 168.6l3.2 -4.8M230.7 152.9l2.5 -5M167.4 272.3l3.4 -7.9M281.1 118.3l3 -6.7M218.7 225.8l8.2 -10.9M283 108.1l2.6 -5.8M217.4 204.3l7.7 -11.5M229.4 203.5l4.7 -7.1M283.2 162l3 -5.9M281.9 171.6l6.2 -12.4M238.2 146.5l4.7 -9.3M192.2 239.8l5.3 -7.1M247.5 222.3l3 -4.5M216.4 251.6l4.4 -5.8M218.1 197.2l4.8 -7.2M232.8 177.3l2.4 -3.6M180.9 294.2l5.3 -12.3M272 64.8l1.1 -10.7M169.7 237l7.2 -9.6M160 308.4l4.4 -9.9M248.1 163.3l3.6 -7.3M190.3 276.6l2.1 -4.9M275.3 78.8l1.4 -13.6M181.6 319.5l3.5 -7.9M267.2 148.3l2.6 -5.2M287.6 149.7l5.5 -11M254.6 160.7l5.8 -11.6M105.1 364.1l8.7 -10.8M241.7 220l2.4 -3.6M224.2 237.4l3.7 -5M273.6 68.5l0.6 -6.4M269.5 165.1l3.3 -6.7M163.7 256.4l4 -9.3M234.3 170.3l5.9 -8.8M132.1 361.3l6.4 -7.9M269.4 207.4l2.4 -3.6M276.4 112.2l2.3 -5.2M248 175.6l7.1 -10.7M216.4 190l4.4 -6.6M260.6 156.3l4 -8M132.5 341l4.2 -5.2M124.6 358.3l4.5 -5.6M226.9 139.9l2.5 -5M204.7 203.9l5.1 -7.6M252.8 234.9l3 -4.5M260.4 148.1l4 -7.9M159.3 256.4l5.4 -12.5M279.8 102.8l3 -6.7M136.8 364.8l7.9 -9.7M141.4 374.8l7 -8.7M123.9 345.2l6.3 -7.8M227.9 148.2l2.9 -5.8M217.2 185.7l6.3 -9.4M166.9 267.1l1.7 -4M246.8 158.4l5 -10M118.3 344.7l6.7 -8.3M185.4 258.3l1.9 -4.4M241.9 141.2l5.7 -11.5M274 133.4l4.7 -10M194.7 210.8l3.6 -4.7M232.9 214.1l3.9 -5.9M238.2 185.1l5.6 -8.3M167.7 286.8l5.2 -12M294 69.5l0.8 -8.3M226.1 151.7l3.9 -7.8M265.3 215.4l6.1 -9.2M133.7 354.9l2.6 -3.2M123.1 343.1l4.2 -5.2M177.2 303.4l5.2 -11.7M252.8 178.5l4.3 -6.5M166.8 310.6l4.9 -11M276.2 169.3l4.1 -8.3M152.8 337.7l5 -7.9M231.8 149.7l4.4 -8.8M238.8 201.4l6.3 -9.4M284.7 101.2l4.7 -10.5M193.6 254.5l6 -8M277.2 186.4l4.5 -7.7M243.8 193.1l5.8 -8.8M195.9 215.2l3.2 -4.3M152 357.8l8.2 -10.1M234.5 227.2l2.7 -3.8M225.7 229.1l7.7 -10.3M245.5 202.7l4.5 -6.7M218.3 237.2l4.6 -6.1M278.6 108.1l3.3 -7.4M163.3 324l4.9 -11M209.2 189.8l5.9 -8.8M260.1 127.4l4.1 -8.8M291.8 66.8l1.2 -11.7M251.2 171.1l4.5 -8.5M277.5 91.2l4 -8.9M248.9 216.7l2.8 -4.1M200 242.3l5.7 -7.5M251.3 184.5l5.6 -8.4M240.5 205.1l2.7 -4M290.6 99.8l3.1 -6.9M133.1 365.9l5.1 -6.3M163.7 357l5.2 -6.4M221.7 246.6l2.8 -3.7M253.8 208.9l7.2 -10.8M122.3 343.9l7.2 -8.8M176.7 272.6l3.2 -7.4M176.7 311.9l4.6 -10.4M211.7 264.4l5 -6.7M239.4 125.7l5.5 -11M157.6 305.4l4.1 -9.2M171.6 325.9l3.8 -8.6M270.2 89.1l4.8 -10.7M286.5 73.9l1 -10.5M271.4 113.7l2.4 -5.4M284.6 95l5.3 -11.7M206.9 249.9l5.5 -7.4M275.1 109.3l2.2 -4.9M233.6 127.6l5 -10M283.9 133.2l2.2 -4.9M249.6 182l7 -10.5M270.5 164.5l4.9 -9.8M270.1 153.5l3.1 -6.3M265.4 156.5l4.9 -9.8M268.6 159.1l4 -7.9M248.4 178.3l3.9 -5.9M279 79.3l1.3 -12.9M272 132.5l2.5 -5.4M108.8 357.1l7.8 -9.6M230.5 216.3l5 -7.5M214.4 246.8l4.7 -6.3M188.1 234.3l4.2 -5.6M168.2 236.3l6.6 -8.8M271.5 167.2l2.1 -4.3M263 194.9l5 -7.5M209.5 220.8l5.3 -7M227.6 247.4l6.9 -9.2M240.1 181.3l2.2 -3.4M220.1 239.7l7.9 -10.5M249 177.8l4.1 -6.2M217.6 221.4l4.1 -5.5M257.7 213.4l6.6 -10M246.5 224.1l4 -5.9M168.6 269.2l4.8 -11.3M172.4 252.8l2.7 -6.1M239.9 212.1l7.3 -10.9M180.8 297.9l2.7 -6.1M231 141.4l2.6 -5.1M161.3 301.9l4.8 -10.7M144.2 329.5l4.9 -10.5M251.4 193.2l2.7 -4.1M211.1 221.2l4.8 -6.4M159.1 357.5l3.4 -4.2M171.2 325.2l3.8 -8.4M174.5 272.2l2 -4.7M280.2 179.7l4.2 -8.5M134.4 335.4l6.9 -8.5M171 247.6l6.8 -11.8M257.5 119l2 -4.3M151.4 346.8l6.5 -8M211.9 234l5.8 -7.7M106.4 367.7l7.7 -9.5M178.8 248.1l6.7 -9.8M271.3 193.1l5.3 -7.9M277.8 182.4l5.6 -11.1M218.5 228.7l7.9 -10.6M263 128.9l5 -10.5M172.9 237.7l6.7 -8.9M175.4 320.6l3 -6.8M154.4 343.4l2.9 -3.6M239.8 153.3l4.4 -8.8M170.9 258.7l4.8 -11.2M168.9 344.8l6.2 -10.1M240.4 177.9l4.2 -6.4M117.3 354.4l2.8 -3.5M250.4 189.3l5.8 -8.8M200.8 250.2l5.2 -7M241.6 137.1l2.5 -5.1M247.1 179.8l4.5 -6.7M274.2 190l6.8 -11.5M177.3 272.3l2.2 -5.2M278 161.7l3.3 -6.5M224.8 241.2l4.8 -6.4M144.3 374.2l8.4 -10.3M233 242.9l2.7 -3.6M204.2 219.4l3.7 -4.9M264 182.9l6.6 -11.3M251.3 147.6l3.2 -6.3M228.5 247l3 -4M279.2 178.9l6 -12.1M172.5 228.2l5.3 -7M189.3 265l4.7 -10.9M288.3 110.8l2.5 -5.5M116.7 356.7l7.6 -9.4M247.8 234.6l3.8 -5.6M155.8 369.9l3.8 -4.6M289.7 64.5l1.1 -10.5M287.2 141.1l4.7 -10M241.9 206l7.3 -11M200.2 240.3l4 -5.4M278.8 94l2.6 -5.8M248.2 153l2.4 -4.8M269.6 183.9l6.8 -11.7M205.4 222l6.1 -8.1M115 360.5l3.8 -4.7M199.9 203.6l6.1 -8.8M169 320.6l5.2 -11.7M234 214.3l6.2 -9.3M153.9 350.6l5.6 -6.9M225.1 145.2l4.2 -8.4M202.7 268.3l3.5 -8.1M227.9 207.7l7.3 -11M249.8 196.1l6.9 -10.4M176.9 241.7l4.5 -6M242.6 237.2l8.2 -11.3M232.7 194.7l5.1 -7.7M169.7 320.8l3.1 -7M275.7 152.3l6 -12.1M282.4 106.7l1.7 -3.8M227.3 140.1l2.9 -5.7M250.4 182.8l2.6 -3.9M150.7 322.5l5.5 -12.3M207.2 260.7l5.2 -6.9M241 165.6l5.5 -10.5M168.9 317.4l2.4 -5.4M268.2 207.5l5.6 -8.4M260 207.7l3.7 -5.5M265.1 154.1l3.1 -6.2M265.6 124.6l3.1 -6.9M229.6 191.7l2.7 -4.1M265.2 80.2l0.8 -8.2M233.5 127.7l4.6 -9.1M159.4 250.1l1.9 -4.5M222.2 248.5l4.5 -6M256.1 136.8l3 -6M283.4 175.2l5.7 -11.4M226.5 211.1l7.2 -10.8M231.7 217.6l6.6 -9.9M266 160.6l2.2 -4.3M168 305.3l3.8 -8.6M228.5 151.8l3.2 -6.3M256.1 191.1l2.7 -4M173.7 291.8l4.6 -10.6M284.4 107.9l5.6 -12.4M186.9 235.2l2.9 -3.8M278.8 147.1l4.1 -8.2M226.5 240.8l5 -6.6M259.8 128.4l5.2 -10.8M171.3 269.4l3.2 -7.4M231.8 172.2l4.2 -6.3M218.4 210.6l5.4 -8.1M144.7 337.9l8 -9.9M250.5 188.1l5.1 -7.6M232.7 192.7l4.5 -6.8M204.3 224.8l6.2 -8.3M258.6 148.9l2.3 -4.6M251.7 184.1l2.5 -3.8M261.9 139.6l4.1 -8.2M216.3 215.5l4.5 -6.4M246.4 176.3l5.3 -7.9M139.7 347.2l8.3 -10.3M135.6 354.1l5 -6.2M197.3 233.4l5.5 -7.4M132.8 347.2l4 -4.9M129.2 372.1l3.8 -4.6M198.7 251.7l6.7 -9M263.1 128.2l3.3 -7M256.6 167.6l6.2 -12.5M278.8 63.4l1.2 -12.5M141.8 350.4l8.1 -9.9M197.8 251.3l3.3 -4.4M143.8 362.4l6.5 -8M271.6 130l4.4 -9.8M139.8 331.6l4.9 -6.1M246.5 133.2l4 -8M209.1 211.8l7.2 -10M251.8 227.6l4.1 -6.2M268.9 180.6l4.1 -7.5M183.5 226.4l6.8 -9M167 356l4.2 -5.2M205.5 268.9l3.8 -8.9M172.7 234.7l2.7 -3.6M216.3 207.1l7.7 -11.5M258.2 186.7l6.9 -10.3M164.9 241.1l2.1 -3.7M278.5 75.1l0.8 -8.5M115.1 355.5l4.8 -6M168.7 351.4l4.7 -7M154.3 338.7l6.7 -10.8M229.3 226.4l8 -11.2M217.8 230.3l4 -5.3M217.5 178.5l3 -4.6M223.6 194.1l3.2 -4.8M240.2 132.4l3.5 -7.1M276.8 90.7l3.2 -7.2M211 209.8l6.8 -10M166.7 269.9l1.7 -4M207.6 231.9l3.3 -4.3M274 111.4l2.1 -4.6M139.8 375.5l6.7 -8.3M250.1 221.5l7.1 -10.6M121 349.2l4.7 -5.8M166.1 301.9l4.8 -10.9M142.9 352.7l3.4 -4.1M216.1 216.2l7.1 -10M193.7 238.6l5.6 -7.4M281.7 76.9l0.5 -4.7M229 210.3l7.7 -11.5M222.8 234.4l2.8 -3.7M273.2 170.9l4.1 -8.3" stroke="#fff" stroke-width="0.8" fill="none"/><path d="M121.7 118.8L125.3 117.7L124.8 120.9zM113 110.6L110.2 113.1L109.3 110.1zM87 30.6L88.4 34.1L85.2 33.9zM131.9 77.4L134.2 80.4L131.1 81.1zM97.8 25.8L94.7 27.8L94.3 24.6zM114 104.1L117.3 102.3L117.5 105.5zM132.1 22.8L134.2 25.9L131.1 26.5zM78.3 37.3L77.6 33.6L80.7 34.4zM85.6 52.8L85.3 49.1L88.3 50.2zM80.2 29.4L77.7 26.7L80.7 25.7zM139.6 108.3L141.9 111.3L138.7 111.9zM133.9 45L131.2 42.4L134.2 41.2zM153.5 67.9L154.3 64.3L156.9 66.2zM105.3 58.5L101.6 58.9L102.6 55.9zM105.4 50.5L101.7 51.2L102.5 48.1zM160.3 128.8L162.4 125.7L164.1 128.4zM130.5 129.7L131.4 126L133.9 128zM148.1 85L149.5 88.5L146.3 88.4zM152.2 127.5L155.4 125.4L155.8 128.6zM111 93L111.2 96.7L108.2 95.6zM102.5 38.4L103.7 42L100.5 41.6zM130.3 36.4L131.5 32.9L133.8 35.1zM143.7 73.5L140.1 74.6L140.5 71.4zM114 65.3L117.3 63.6L117.4 66.8zM114 96.2L117.4 94.6L117.4 97.8zM105.3 64.1L102.6 66.7L101.6 63.7z" fill="#0000b0"/>
<path d="M109.4 46.2L111.3 49.5L108.1 49.8zM140.5 107.3L138.7 104L141.9 103.8zM97.8 89.2L94.1 90L94.8 86.9zM94.6 76.4L92.9 73.1L96.1 72.9zM131.5 60.6L131.2 56.9L134.2 58zM145.9 98.9L146.7 95.2L149.2 97.1zM144.8 74.2L147.4 71.5L148.5 74.5zM98.7 88.2L102.2 86.8L102 90zM108.6 29.4L108.2 25.7L111.2 26.7zM97.8 34.8L94.1 35.6L94.8 32.4zM99.2 35.8L101.3 32.6L102.9 35.4zM90.2 10.2L87 12.2L86.6 9zM123.2 129.9L123.7 126.2L126.4 127.9zM122 19.9L124.3 17L125.7 19.8zM105.5 127L102.1 128.6L102.1 125.4zM151.1 56.2L148.5 58.9L147.4 55.9zM133.7 85.2L134.2 88.9L131.1 88zM137.1 81.8L139.8 79.2L140.8 82.2zM159 96.5L155.4 97.7L155.8 94.6zM109.9 76.4L108.1 73L111.3 72.9zM143.5 87.2L140.9 89.9L139.7 87zM131.6 7.4L134.2 10.1L131.1 11.1zM132.4 21.8L131.1 18.3L134.3 18.5zM93.8 7.3L96 10.3L92.9 10.9zM148.9 77.5L149.5 81.2L146.4 80.3zM114 56.8L117.7 55.8L117.1 59zM159.9 103.4L163.4 102.3L163 105.5zM130.1 51.8L131.6 48.4L133.7 50.8zM131.6 107.1L131.1 103.4L134.2 104.4zM101.9 100.5L103.7 103.8L100.5 104zM114.5 28L116.6 24.8L118.2 27.6zM123.9 6L123.5 2.3L126.5 3.3zM143.6 119.9L140 120.9L140.6 117.7z" fill="#0000c0"/>
<path d="M120.8 88.4L117.4 90L117.4 86.8zM154.1 106.9L154.1 103.2L157 104.6zM93.8 52.9L92.9 49.3L96 49.9zM83.7 40.5L87.4 40.3L86.2 43.3zM120.6 71.8L117.9 74.5L116.8 71.5zM102.8 7.3L103.7 10.9L100.5 10.3zM94.1 6.2L92.9 2.6L96 3zM91.3 105.1L93.9 102.4L95 105.4zM105.5 80.6L102.2 82.3L102 79.1zM114.2 112.9L116.8 110.1L118 113.1zM87.6 15.1L88.4 18.8L85.3 18zM122 12.2L124.3 9.2L125.8 12zM152.2 118.7L155.8 117.7L155.3 120.9zM159 111.5L155.6 113.2L155.5 110zM158.9 87.6L156 90L155.2 86.9zM115 121.7L116.3 118.2L118.5 120.4zM100.9 114.8L100.6 111L103.6 112.1zM114 2.2L117.7 1.2L117.1 4.4zM158.9 73.5L155.3 74.6L155.8 71.4zM110.1 100.5L111.3 104L108.1 103.7zM125.6 91.8L123.4 88.7L126.6 88.2zM120.8 34.1L117.4 35.6L117.4 32.4zM94.1 77.3L96.1 80.6L92.9 80.9zM128.3 42.6L124.6 43.4L125.4 40.3zM129.5 120.6L132.1 117.8L133.3 120.8zM148.1 115.9L149.5 119.4L146.3 119.2zM122.2 51.5L124.1 48.3L125.9 50.9zM76.4 4.7L78.3 1.5L80.1 4.1zM80.2 13.8L77.7 11.1L80.7 10.1zM110.4 85.1L111.3 88.7L108.2 88.2zM144.8 125.8L148.5 125.5L147.4 128.5zM143.6 58L140 59L140.6 55.8zM160.8 114L162.1 110.4L164.3 112.7zM120.8 127.2L117.3 128.6L117.4 125.4zM98.7 26L102.2 24.6L102 27.8zM75.8 42.3L79 40.2L79.4 43.4zM107.7 21.1L108.4 17.5L111 19.3zM131.4 68.4L131.2 64.6L134.1 65.8zM124.9 76.4L123.4 73L126.6 73zM91.1 96.8L94.1 94.6L94.8 97.7zM145.1 113.5L147 110.3L148.9 112.9zM114 80.6L117.4 79.1L117.3 82.3z" fill="#0000d0"/>
<path d="M117.4 49.6L117.4 49.6M140.3 127L140.3 127M125 34L125 34M125 26.2L125 26.1M94.5 18.4L94.4 18.5M109.7 2.8L109.8 2.8M109.7 119.3L109.7 119.4M94.5 65.2L94.5 65.3M102.1 2.8L102 2.8M86.8 65.2L86.7 65.3M79.2 18.4L79.1 18.6M132.7 96.2L132.6 96.4M102.1 73L102.3 72.9M208 309L208 308.8M155.6 80.7L155.8 80.7M102.1 96.2L102.3 96.1M86.8 2.8L86.7 2.6M117.4 10.6L117.2 10.6M109.7 127L109.7 127.3M109.7 41.8L109.6 42M125 96.2L124.8 96.2M86.8 26.2L87.1 26.1M132.7 73L132.6 72.7M147.9 103.9L147.8 104.1" stroke="#0000e1" stroke-width="1.9" fill="none"/>
<path d="M128.2 66.5L124.4 66.7L125.6 63.7zM136.9 64.7L140.6 63.6L140 66.8zM91.2 42.8L94 40.3L94.9 43.3zM114.5 20.2L116.5 17L118.2 19.8zM120.6 40.9L117.8 43.3L116.9 40.3zM108.1 60.4L108.3 56.7L111.2 58.2zM93.7 54.1L96 57.1L92.9 57.8zM131.9 114.9L131.1 111.2L134.2 112zM124.3 60.7L123.5 57.1L126.6 57.8zM162.1 116.1L164.7 118.8L161.7 119.8zM107.9 36.9L108.4 33.1L111.1 34.9zM128.2 105L124.5 105.4L125.5 102.4zM88.1 60.6L85.3 58L88.3 56.8zM132 6.1L131.1 2.5L134.2 3.1zM128.3 110.9L125.4 113.2L124.7 110zM113.1 64.7L110 66.8L109.5 63.6zM110.9 77.5L111.2 81.3L108.2 80.2zM99.6 121.6L101 118.1L103.2 120.5zM99.4 20.5L101.1 17.1L103.1 19.6zM145 66.9L147.1 63.8L148.7 66.6zM108.5 13.8L108.2 10L111.2 11.2zM122 82.2L124.3 79.3L125.7 82.2zM137.5 98.2L139.4 94.9L141.2 97.5zM211.2 300.8L208.6 303.5L207.4 300.5zM115.4 52.4L116.1 48.7L118.7 50.5zM139.7 123.7L141.9 126.7L138.7 127.3zM121.8 35.3L124.4 32.5L125.6 35.5zM124.7 22.8L126.6 26L123.4 26.3zM93.1 21.6L93 17.9L95.9 19.1zM113.2 2.9L109.8 4.4L109.9 1.2zM109.5 122.8L108.1 119.3L111.3 119.5zM94.3 68.7L92.9 65.3L96.1 65.4zM98.6 3.2L101.8 1.2L102.1 4.4zM84 67.5L85.7 64.1L87.7 66.6zM77.5 21.6L77.7 17.8L80.5 19.3zM131.4 99.5L131.1 95.8L134.1 96.9zM105.5 71.9L102.8 74.5L101.8 71.4zM208.6 305.4L209.6 309.1L206.5 308.5zM159.2 80.2L156 82.3L155.5 79.1zM105.7 95.8L102.5 97.7L102.2 94.5zM85.5 -0.6L88.2 2L85.3 3.2zM113.8 11.4L116.8 9.1L117.5 12.2zM109.6 130.7L108.1 127.2L111.3 127.3zM108.3 45.2L108.2 41.4L111.1 42.6zM121.4 96.2L124.7 94.6L124.8 97.8zM90.4 25.3L87.5 27.7L86.7 24.6zM131.2 69.6L134 72.1L131.1 73.4zM146.1 107.1L146.4 103.3L149.2 104.9z" fill="#0000e1"/>
<path d="M86.8 73L86.6 73.2M216 309L215.6 308.6M216 302L215.4 301.7" stroke="#0000f1" stroke-width="1.9" fill="none"/>
<path d="M84.3 75.7L85.5 72.1L87.8 74.3zM213 306.4L216.6 307.4L214.5 309.8zM212.4 300.2L216.2 300.3L214.7 303.1zM206.2 311.4L198.8 312L201.2 306z" fill="#0000f1"/>
<path d="M197.2 296L202.9 300.7L197.1 303.3zM222.8 295.4L226.2 301.9L219.8 302.1zM117.6 159.2L120.6 165.9L114.2 165.7zM145.9 159.5L151 164.8L144.9 166.8zM133.4 143.7L135.8 150.6L129.5 149.9z" fill="#0002ff"/>
<path d="M170.7 151.4L174.1 157.9L167.7 158.1zM163.4 50.8L166.4 57.5L160 57.3zM188.1 128.4L189.2 135.7L183.1 133.8zM178.4 81.8L181.7 88.4L175.3 88.5zM170.7 112.7L174.1 119.2L167.7 119.4zM188 51.1L189.2 58.3L183.1 56.5zM138.7 159.4L143.4 165L137.2 166.6zM119.6 128.5L120.4 135.8L114.4 133.7zM170.1 167.1L174 173.3L167.7 174zM170.4 89.6L174.1 96L167.7 96.4zM109.9 128.1L112.9 134.8L106.5 134.7zM169.3 97.5L174 103.1L167.7 104.6zM179.2 135.9L181.7 142.8L175.3 142.1zM176.4 59L181.5 64.2L175.5 66.3zM162.9 135.9L166.4 142.3L160 142.6zM126.8 298L128.1 305.2L121.9 303.5zM187 58.7L189.3 65.6L183 64.8zM110.6 259.7L112.9 266.7L106.6 265.8zM116.4 167.1L120.5 173.1L114.2 174.1zM122.9 260L128 265.2L122 267.3zM109.9 282.6L112.9 289.3L106.5 289.1zM142.4 151.8L143.3 159L137.3 157zM130.9 175L135.7 180.5L129.6 182.3zM146 175.1L151 180.5L144.9 182.3zM172.3 66.6L174 73.7L167.7 72.3zM179.3 167.1L181.7 174L175.3 173.2zM148 128.1L151.1 134.8L144.7 134.7zM117.5 312.9L120.6 319.6L114.2 319.5zM155.1 151.4L158.8 157.8L152.4 158.2zM115.1 151.8L120.4 156.9L114.4 159.1zM124 143.7L128.2 149.7L121.9 150.7z" fill="#0012ff"/>
<path d="M108 298L112.8 303.5L106.7 305.2zM101 328.2L105.3 334.1L98.9 335.2zM110.1 267.3L112.9 274.1L106.5 273.7zM109.5 312.9L112.9 319.4L106.5 319.7zM187.7 143.8L189.2 151L183 149.5zM193.4 120.4L197 126.8L190.6 127.2zM132.9 128.1L135.9 134.9L129.5 134.6zM171.2 105L174.1 111.8L167.7 111.4zM172.9 58.9L173.9 66.2L167.8 64.2zM134.6 305.6L135.7 312.9L129.6 311zM138.4 167.3L143.4 172.7L137.2 174.5zM153.7 167.3L158.7 172.7L152.5 174.5zM149.9 167.3L151 174.6L144.9 172.7zM178.6 66.4L181.7 73L175.3 73zM156.7 143.7L158.7 150.8L152.4 149.7zM126 190.5L128.2 197.5L121.9 196.5zM172.3 128.3L174 135.4L167.7 134zM134.6 159.5L135.7 166.8L129.6 164.9zM157.3 136.1L158.7 143.3L152.5 141.6zM126.4 282.8L128.1 289.9L121.9 288.5zM165.2 167.3L166.3 174.6L160.2 172.6zM176.6 51.1L181.6 56.5L175.4 58.3zM163.1 66.4L166.4 72.9L160 73.1zM107.7 136.2L112.8 141.5L106.7 143.5zM123.3 252.2L128.1 257.7L121.9 259.5zM163.7 143.6L166.4 150.5L160 150zM117.6 305.4L120.6 312.1L114.2 311.8zM187.7 105.2L189.2 112.4L183 110.8zM188 97.5L189.2 104.8L183.1 103zM126.1 275.1L128.2 282.1L121.9 281.1zM118 143.7L120.6 150.6L114.2 149.9zM147.9 182.6L151.1 189.2L144.7 189.2zM100.5 313.1L105.2 318.7L99 320.3zM126.3 313L128.2 320.1L121.9 318.9zM173 136.2L173.9 143.5L167.8 141.4zM100.2 267.6L105.2 273L99 274.9zM124.1 151.5L128.2 157.6L121.9 158.5zM184.9 89.7L189.3 95.5L183 96.8zM99.8 275.4L105.1 280.5L99.1 282.7z" fill="#0022ff"/>
<path d="M130.6 182.9L135.7 188.2L129.6 190.2zM123.1 167.3L128.1 172.7L122 174.6zM162.8 151.4L166.4 157.8L160 158.2zM172.8 159.5L173.9 166.7L167.8 164.9zM176.6 97.6L181.6 102.9L175.4 104.8zM139.1 275.1L143.4 281L137.2 282.2zM141.9 190.6L143.4 197.8L137.2 196.2zM164.6 159.4L166.3 166.5L160.1 165.1zM142 136.1L143.4 143.3L137.2 141.6zM141.1 282.7L143.5 289.6L137.1 288.8zM116.3 259.8L120.5 265.7L114.2 266.8zM147.6 143.6L151.1 150.1L144.7 150.4zM176.9 128.3L181.6 133.9L175.4 135.5zM124.7 128.1L128.2 134.6L121.8 134.9zM94.3 305.4L97.7 311.9L91.3 312zM141.4 143.7L143.5 150.8L137.1 149.7zM168.8 120.7L173.9 126L167.8 128zM194.6 105L197 112L190.6 111.2zM133.3 135.9L135.8 142.8L129.5 142.2zM100.5 259.9L105.2 265.5L99 267zM178 105L181.7 111.3L175.3 111.8zM93.9 320.5L97.6 326.8L91.3 327.4zM163.9 81.9L166.4 88.8L160 88.1zM156.8 159.3L158.7 166.4L152.4 165.2zM103.9 282.9L105.2 290.1L99 288.4zM126.8 305.6L128.1 312.8L121.9 311.1zM116 252.2L120.5 257.9L114.3 259.3zM178.7 159.2L181.7 165.9L175.3 165.7zM133 275L135.9 281.8L129.5 281.4zM126.1 174.9L128.2 181.9L121.9 180.9zM165.1 128.4L166.3 135.7L160.2 133.8zM187.2 120.5L189.3 127.5L183 126.5zM169.3 175L174 180.7L167.7 182.2zM195.4 112.9L196.9 120.1L190.7 118.5z" fill="#0033ff"/>
<path d="M132.7 197L132.7 197M178.5 150.2L178.5 150.2M170.9 88.4L170.9 88.4M94.5 319.5L94.4 319.4M170.9 80.7L170.8 80.6M117.4 142.5L117.3 142.4M186.1 119.3L186.1 119.2M132.7 289.2L132.7 289.1M132.7 158L132.6 157.9M94.5 334.7L94.4 334.5M178.5 80.7L178.5 80.5M186.1 142.5L186.2 142.3M170.9 150.2L170.9 150M102.1 304.4L102.2 304.2M125 142.5L125 142.2M186.1 73L186.2 72.8M163.2 96.2L163.2 95.9M178.5 158L178.5 157.8M163.2 65.2L163.1 65M94.5 304.4L94.5 304.1M155.6 189.2L155.6 188.9M155.6 57.4L155.6 57.1M102.1 327.1L102 326.8M117.4 281.6L117.5 281.3M109.7 281.6L109.8 281.3M140.3 296.8L140.2 296.5M125 296.8L125 296.5M109.7 312L109.7 311.6M117.4 273.9L117.5 273.6M132.7 304.4L132.7 304M132.7 296.8L132.8 296.5M125 189.2L125 188.8M125 273.9L125.1 273.5M109.7 150.2L109.8 149.8M155.6 181.4L155.5 181M186.1 88.4L186.3 88" stroke="#0043ff" stroke-width="1.9" fill="none"/>
<path d="M180.3 113L181.6 120.2L175.4 118.4zM111.5 320.8L112.8 328L106.7 326.2zM110.8 252.1L112.9 259.1L106.6 258.1zM131.5 167.1L135.8 173L129.5 174.2zM130.4 190.8L135.7 195.9L129.6 198.1zM176.5 143.9L181.5 149.2L175.4 151.2zM171.9 81.9L174 88.9L167.7 87.9zM93.5 312.9L97.6 319L91.3 319.9zM168.9 74.3L173.9 79.7L167.8 81.6zM115.6 136L120.4 141.5L114.3 143.2zM184.1 112.9L189.2 118.2L183 120.1zM134.7 282.8L135.8 290L129.6 288.1zM132.1 151.3L135.8 157.6L129.5 158.1zM93.3 328L97.6 333.9L91.3 335zM179.3 74L181.7 80.9L175.3 80.1zM187.2 135.7L189.3 142.8L183 141.7zM170.6 143.4L174 149.9L167.7 150.1zM103.6 297.7L105.3 304.9L99 303.4zM124.2 135.7L128.2 141.9L121.8 142.6zM187.5 66.3L189.3 73.4L183.1 72.1zM161.3 89.6L166.2 95L160.1 96.8zM179.4 151.2L181.7 158.2L175.4 157.3zM160.9 58.8L166.1 63.9L160.1 66.1zM95.1 297.5L97.7 304.4L91.3 303.8zM155.6 182.3L158.8 188.9L152.4 188.9zM155.1 50.5L158.8 56.9L152.4 57.3zM99.8 320.6L105 325.8L99 327.9zM119.7 275.1L120.5 282.4L114.5 280.2zM111.1 274.8L112.9 281.9L106.7 280.6zM138.6 290.1L143.3 295.7L137.1 297.3zM123.7 290L128.1 295.9L121.8 297.1zM108.3 305.2L112.8 311L106.5 312.3zM119.7 267.4L120.5 274.7L114.5 272.6zM134.4 297.6L135.9 304.8L129.6 303.2zM134.8 290.2L135.8 297.5L129.7 295.4zM124.8 182.2L128.2 188.7L121.8 188.9zM126.7 267.1L128.2 274.3L122 272.8zM110.5 143.3L113 150.2L106.6 149.5zM154.5 174.5L158.7 180.5L152.4 181.5zM188.4 81.8L189.3 89L183.2 87z" fill="#0043ff"/>
<path d="M186.1 158L186.2 157.5M163.2 181.4L163.1 180.9M94.5 281.6L94.5 281M193.8 103.9L193.7 103.3M109.7 296.8L109.6 296.2M102.1 312L102 311.4M147.9 158L148 157.4M155.6 134.7L155.5 134.1M147.9 142.5L147.8 141.8M163.2 80.7L163.1 80M178.5 96.2L178.3 95.5M117.4 296.8L117.6 296.1M155.6 197L155.8 196.3M186.1 80.7L186.3 80M125 165.8L125.2 165.1M94.5 289.2L94.6 288.4M178.5 127L178.4 126.2M140.3 134.7L140.3 133.9M140.3 181.4L140.5 180.6M193.8 96.2L193.6 95.3M170.9 57.4L170.9 56.6M117.4 250.9L117.2 250.1M140.3 189.2L140.4 188.2" stroke="#0053ff" stroke-width="1.9" fill="none"/>
<path d="M187 151L189.4 157.9L183 157.1zM160.9 174.7L166.1 179.9L160 181.9zM95.4 274.5L97.7 281.5L91.4 280.6zM192.3 96.9L196.8 102.6L190.5 104zM108.6 289.7L112.8 295.7L106.5 296.7zM101 304.8L105.2 310.9L98.8 311.9zM148.9 150.9L151.2 157.9L144.8 157zM155 127.5L158.7 133.8L152.3 134.3zM146.8 135.3L151 141.3L144.7 142.3zM162.1 73.5L166.3 79.5L160 80.5zM176.3 89.2L181.3 94.5L175.2 96.4zM119.4 289.8L120.7 297L114.5 295.2zM157.7 189.9L158.9 197.2L152.7 195.4zM188.2 73.6L189.4 80.9L183.3 79.1zM126.7 158.7L128.3 165.8L122.1 164.3zM95.4 281.9L97.7 288.8L91.4 288zM177.9 119.6L181.6 126L175.2 126.5zM139.9 127.3L143.5 133.8L137.1 134.1zM142.4 174.3L143.6 181.5L137.5 179.7zM192.6 88.8L196.8 94.8L190.5 95.8zM171 50L174.1 56.6L167.7 56.5zM115.5 243.7L120.2 249.3L114.1 250.9zM141.1 181.6L143.6 188.6L137.2 187.8z" fill="#0053ff"/>
<path d="M147.9 197L148.1 195.9M117.4 289.2L117.7 288.1M117.4 304.4L117.6 303.3M163.2 189.2L163.5 188M102.1 296.8L102.4 295.6M125 250.9L125.4 249.6M94.5 296.8L94.1 295.3" stroke="#0063ff" stroke-width="1.9" fill="none"/>
<path d="M149.2 189.4L151.3 196.4L145 195.4zM119.4 281.8L120.8 289L114.6 287.3zM119.2 296.8L120.8 304L114.5 302.5zM164.7 181.5L166.6 188.6L160.3 187.3zM104.2 289.2L105.5 296.4L99.4 294.7zM127 243.2L128.5 250.4L122.3 248.8zM92.7 288.9L97.3 294.6L91 296z" fill="#0063ff"/>
<path d="M201.4 103.9L202 101.6M140.3 212.6L139.9 210.3M239.6 65.2L239.7 62.8M132.7 235.6L133.3 233.3M201.4 65.2L201.3 62.8M209.1 57.4L208.9 54.9M232 57.4L231.2 55.1M201.4 57.4L201 55M216.7 57.4L216.3 54.9M125 212.6L124.7 210M224.3 88.4L223.8 85.8M209.1 65.2L209.6 62.5" stroke="#0084ff" stroke-width="1.9" fill="none"/>
<path d="M203.5 95.2L205.1 102.3L198.8 100.9zM138.6 203.8L143 209.7L136.7 210.9zM239.9 56.2L242.9 62.9L236.5 62.7zM135.1 226.9L136.4 234.1L130.3 232.4zM201 56.2L204.5 62.6L198.1 62.9zM208.4 48.4L212.1 54.7L205.7 55.2zM229.1 48.8L234.2 54L228.2 56.1zM199.8 48.5L204.1 54.4L197.8 55.5zM215.1 48.4L219.4 54.4L213.1 55.5zM124.1 203.4L127.9 209.6L121.6 210.3zM222.4 79.3L226.9 85.1L220.6 86.5zM211 56.1L212.8 63.2L206.5 61.9z" fill="#0084ff"/>
<path d="M201.4 119.3L201.9 116.5M224.3 73L223.8 70.1M209.1 80.7L209.1 77.5M209.1 111.6L209.3 108.4" stroke="#0094ff" stroke-width="1.9" fill="none"/>
<path d="M203.1 110L205.1 117.1L198.8 116zM222.6 63.6L227 69.5L220.7 70.7zM209.2 70.9L212.3 77.5L205.9 77.5zM209.9 101.8L212.5 108.6L206.1 108.1z" fill="#0094ff"/>
<path d="M209.1 88.4L209.5 85.1M147.9 212.6L148.9 209.1M224.3 65.2L223.6 61.6M140.3 18.4L138.4 15.2M125 235.6L125.8 232M193.8 88.4L194.6 84.8" stroke="#00a4ff" stroke-width="1.9" fill="none"/>
<path d="M210.4 78.6L212.7 85.6L206.3 84.7zM150.7 202.8L152 210L145.8 208.2zM222.3 55.1L226.2 61.1L221 62.1zM134.9 9.6L140.6 13.9L136.1 16.6zM127.3 225.5L128.4 232.5L123.3 231.4zM196.1 78.3L197.2 85.4L192 84.2z" fill="#00a4ff"/>
<path d="M193.8 73L194.6 69.1M232 73L231.1 69M193.8 41.8L192.3 38M224.3 57.4L222.6 53.6M140.3 2.8L138.1 -0.9M147.9 41.8L145.4 38.3M216.7 96.2L217.2 91.9M170.9 10.6L168.6 6.9" stroke="#00b4ff" stroke-width="1.9" fill="none"/>
<path d="M196 62.7L197.2 69.7L192.1 68.5zM229.8 62.6L233.7 68.5L228.6 69.6zM189.9 31.8L194.7 37L189.8 38.9zM219.9 47.6L225 52.5L220.2 54.7zM134.7 -6.5L140.3 -2.2L135.8 0.5zM141.6 33L147.6 36.8L143.3 39.9zM218.1 85.3L219.9 92.2L214.6 91.6zM165.2 1.2L170.8 5.5L166.3 8.2z" fill="#00b4ff"/>
<path d="M193.8 134.7L194.7 130.4M170.9 49.6L168.8 45.6M193.8 57.4L192.3 53.1M216.7 73L217.4 68.5M232 65.2L231.2 60.7M132.7 228L133.6 223.4M140.3 41.8L137.8 37.9M125 243.3L125.7 238.6M232 10.6L229.6 6.3M193.8 26.2L191 22.2M216.7 65.2L215.8 60.4M140.3 220.3L142.1 215.7M201.4 10.6L199.1 6.2" stroke="#00c4ff" stroke-width="1.9" fill="none"/>
<path d="M196 123.9L197.3 130.9L192.1 129.8zM165.9 39.7L171.2 44.4L166.5 46.7zM190.1 46.9L194.8 52.2L189.8 54zM218.4 61.9L220 68.9L214.8 68.1zM230 54.2L233.8 60.2L228.6 61.1zM135 217L136.2 224L131 222.9zM134.2 32.4L140 36.5L135.6 39.4zM126.6 232.1L128.3 239L123 238.2zM226.4 0.6L231.9 5.1L227.3 7.6zM187.1 16.8L193.1 20.7L188.8 23.8zM214.7 53.9L218.4 59.9L213.2 60.8zM144.6 209.6L144.6 216.7L139.7 214.7zM195.9 0.4L201.4 5L196.7 7.5z" fill="#00c4ff"/>
<path d="M201.4 41.8L199.5 37.1M140.3 204.8L142.4 200.2M224.3 49.6L222.1 45M178.5 26.2L175.7 21.9M170.9 2.8L167.9 -1.5M216.7 18.4L214.2 13.9M201.4 111.6L202.2 106.3M201.4 88.4L202.6 83.3M193.8 2.8L191.3 -1.9M232 34L229.7 29M201.4 2.8L198.8 -2M193.8 80.7L195 75.3M178.5 49.6L176 44.7M132.7 212.6L134.8 207.4" stroke="#00d4ff" stroke-width="1.9" fill="none"/>
<path d="M197.1 31L202 36.1L197.1 38.1zM145.1 194.1L144.8 201.2L140 199.1zM219.3 39.1L224.5 43.9L219.8 46.2zM172.1 16.4L177.9 20.5L173.5 23.4zM164.1 -6.9L170.1 -3L165.7 0zM210.9 8.1L216.5 12.6L211.9 15.2zM203.2 99.8L204.8 106.7L199.6 105.9zM204.2 76.9L205.2 83.9L200.1 82.7zM188.1 -7.7L193.6 -3.2L188.9 -0.6zM227 23L232.1 27.9L227.3 30.1zM195.7 -7.8L201.1 -3.3L196.5 -0.8zM196.4 68.9L197.6 75.9L192.4 74.8zM173.1 38.8L178.4 43.5L173.7 45.8zM137.3 201.3L137.2 208.5L132.3 206.4z" fill="#00d4ff"/>
<path d="M201.4 96.2L202.1 90.5M125 204.8L127 199.4M147.9 204.8L150.1 199.5M201.4 80.7L202.5 75.1M125 220.3L126.6 214.6M193.8 65.2L192.5 59.4M193.8 10.6L190.7 5.5M147.9 18.4L144.9 13.3M170.9 34L167.6 28.9M232 41.8L229.8 36.2M224.3 41.8L222 36.2M224.3 2.8L221 -2.3M201.4 73L202.6 67" stroke="#00e5ff" stroke-width="1.9" fill="none"/>
<path d="M202.9 84L204.7 90.9L199.5 90.2zM129.3 193.2L129.5 200.3L124.5 198.5zM152.6 193.4L152.6 200.5L147.7 198.5zM203.7 68.6L205.1 75.6L199.9 74.6zM128.3 208.3L129.1 215.3L124 213.9zM191.1 53L195.1 58.8L189.9 60zM187.3 -0.2L193 4.1L188.4 6.8zM141.5 7.6L147.2 11.9L142.6 14.6zM164.1 23.4L169.9 27.5L165.4 30.4zM227.5 30L232.3 35.2L227.4 37.1zM219.5 30.1L224.4 35.2L219.6 37.2zM217.3 -7.8L223.2 -3.8L218.8 -0.9zM203.9 60.5L205.2 67.5L200 66.5z" fill="#00e5ff"/>
<path d="M216.7 88.4L217.8 82.3M140.3 26.2L136.9 20.8M216.7 80.7L217.6 74.3M209.1 73L209.8 66.5M178.5 2.8L174.8 -2.6M132.7 204.8L134.9 198.5M224.3 26.2L221.1 20.3M132.7 220.3L134.4 213.8" stroke="#00f5ff" stroke-width="1.9" fill="none"/>
<path d="M218.9 75.8L220.4 82.7L215.2 81.8zM133.4 15.2L139.1 19.4L134.7 22.2zM218.5 67.7L220.2 74.6L215 73.9zM210.5 59.9L212.4 66.8L207.2 66.2zM171 -8.1L176.9 -4.1L172.6 -1.1zM137.1 192.3L137.4 199.4L132.4 197.7zM217.9 14.6L223.4 19.1L218.8 21.6zM136.2 207.4L137 214.5L131.9 213.1z" fill="#00f5ff"/>
<path d="M216.7 10.6L212.9 5M140.3 34L136.5 28.3M125 228L126.7 221.4M209.1 103.9L210.5 97.2M209.1 96.2L210.3 89.4M239.6 57.4L236.7 51.2M224.3 80.7L225.6 74M170.9 18.4L167.3 12.5M186.1 18.4L182.7 12.4M155.6 26.2L151.6 20.5M193.8 142.5L196.5 136M216.7 119.3L218.4 112.5M155.6 34L152.1 27.9M201.4 150.2L204 143.7M232 103.9L232.9 96.8M232 49.6L229.1 43.1M132.7 258.6L134.2 251.6M209.1 26.2L205.1 20.2M209.1 2.8L204.8 -3.1" stroke="#06fff9" stroke-width="1.9" fill="none"/>
<path d="M209.1 -0.4L215 3.5L210.7 6.5zM132.9 22.9L138.7 26.9L134.3 29.8zM128.3 215L129.3 222L124.1 220.7zM212 90.8L213.1 97.8L208 96.7zM211.5 82.9L212.9 89.9L207.7 89zM233.8 45.3L239.1 50.1L234.3 52.3zM226.7 67.5L228.2 74.4L223 73.5zM163.9 6.8L169.6 11.1L165 13.8zM179.5 6.6L185 11.1L180.4 13.6zM147.8 15.1L153.8 19L149.4 22zM199.1 129.9L198.9 137L194.1 135zM220.1 106.1L221 113.2L215.9 111.9zM148.7 22.2L154.3 26.6L149.8 29.2zM206.4 137.5L206.5 144.6L201.6 142.7zM233.7 90.2L235.5 97.1L230.3 96.4zM226.4 37L231.5 42L226.7 44.1zM135.6 245.1L136.8 252.2L131.6 251zM201.4 14.7L207.3 18.7L202.9 21.6zM200.9 -8.4L206.9 -4.6L202.7 -1.5z" fill="#06fff9"/>
<path d="M209.1 127L210.8 119.9M224.3 34L221.8 27.1M163.2 26.2L159.3 19.8M216.7 111.6L218.3 104.3M239.6 10.6L235.3 4.4M216.7 2.8L213.1 -3.8M140.3 243.3L141.4 235.7M254.9 65.2L254.3 57.6M109.7 334.7L112.6 327.6M216.7 103.9L217.7 96.3M170.9 41.8L166.6 35.4M132.7 243.3L133.3 235.6M193.8 150.2L195.9 142.8M239.6 88.4L241.1 80.8M232 88.4L232.9 80.7M147.9 2.8L143.4 -3.6" stroke="#16ffe9" stroke-width="1.9" fill="none"/>
<path d="M212.4 113.5L213.4 120.5L208.3 119.3zM219.6 20.9L224.3 26.2L219.3 28zM155.8 14.2L161.5 18.4L157 21.2zM219.7 97.8L220.9 104.8L215.7 103.7zM231.6 -1L237.5 2.9L233.2 5.9zM209.9 -9.6L215.4 -5.1L210.8 -2.6zM142.3 229.2L144 236.1L138.8 235.4zM253.7 51L256.9 57.4L251.6 57.8zM115 321.5L115 328.6L110.1 326.6zM218.6 89.7L220.4 96.6L215.1 95.9zM163 29.9L168.8 33.9L164.4 36.8zM133.9 229L136 235.8L130.7 235.3zM197.7 136.4L198.4 143.5L193.4 142.1zM242.3 74.3L243.7 81.3L238.5 80.3zM233.6 74.1L235.5 81L230.3 80.4zM139.7 -9L145.6 -5.1L141.3 -2.1z" fill="#16ffe9"/>
<path d="M186.1 165.8L188.7 158.4M140.3 228L142.9 220.4M155.6 18.4L151.6 11.4M216.7 49.6L213.2 42.4M147.9 296.8L149.4 288.9M201.4 49.6L198.7 42M186.1 26.2L181.5 19.5M94.5 342.3L97.6 334.7M163.2 10.6L159.1 3.5M201.4 289.2L204.5 281.6M232 96.2L233.3 88M209.1 119.3L210.6 111.1M147.9 235.6L150.7 227.8M140.3 312L141.5 303.7M132.7 319.5L134.5 311.4M147.9 228L150 219.8M209.1 41.8L206.2 33.9" stroke="#26ffd9" stroke-width="1.9" fill="none"/>
<path d="M190.8 152.1L191.2 159.2L186.2 157.5zM145.1 214.2L145.4 221.3L140.4 219.6zM148.4 5.7L153.9 10.1L149.3 12.7zM210.3 36.5L215.5 41.2L210.8 43.6zM150.7 282.4L152 289.4L146.8 288.4zM196.5 35.8L201.2 41.1L196.2 42.9zM177.8 14.1L183.7 18L179.4 21zM100.2 328.6L100.1 335.7L95.2 333.7zM155.7 -2.2L161.4 2.2L156.8 4.8zM207 275.5L207 282.6L202.1 280.6zM234.4 81.5L235.9 88.5L230.7 87.6zM211.8 104.6L213.2 111.6L208 110.6zM153 221.6L153.2 228.7L148.2 226.9zM142.5 297.2L144.1 304.1L138.9 303.3zM135.9 304.9L137 311.9L131.9 310.8zM151.6 213.4L152.5 220.4L147.4 219.1zM204 27.7L208.7 33L203.8 34.8z" fill="#26ffd9"/>
<path d="M247.3 73L246.5 64.6M140.3 250.9L142.2 242.6M239.6 41.8L235.9 34.1M209.1 18.4L204.6 11.1M170.9 189.2L174 181.2M201.4 142.5L203.7 134.2M147.9 34L143.3 26.7M147.9 220.3L151.5 212.4M216.7 281.6L219.9 273.6M201.4 127L202.8 118.5M178.5 181.4L181.6 173.3M170.9 26.2L166.2 18.8M193.8 327.1L197.7 319.3M186.1 34L181 26.9M216.7 41.8L213.4 33.6M102.1 342.3L105.8 334.1M232 26.2L227.1 18.6" stroke="#37ffc8" stroke-width="1.9" fill="none"/>
<path d="M245.9 58L249.1 64.4L243.9 64.8zM143.6 236.2L144.8 243.2L139.6 242zM233 28.2L238.3 33L233.5 35.3zM201.1 5.5L206.8 9.8L202.3 12.5zM176.4 175.1L176.4 182.2L171.5 180.3zM205.4 127.8L206.2 134.9L201.1 133.5zM139.8 21.1L145.5 25.3L141.1 28.1zM154.2 206.4L153.9 213.5L149.1 211.3zM222.4 267.4L222.4 274.5L217.5 272.6zM203.8 111.9L205.4 118.9L200.2 118zM184 167.1L184.1 174.2L179.1 172.3zM162.7 13.3L168.4 17.4L164 20.2zM200.6 313.4L200 320.5L195.3 318.1zM177.1 21.5L183.1 25.3L178.8 28.4zM210.9 27.4L215.8 32.6L210.9 34.5zM108.5 328.1L108.2 335.2L103.4 333zM223.6 13.1L229.4 17.2L224.9 20.1z" fill="#37ffc8"/>
<path d="M239.6 80.7L240.8 71.8M232 80.7L232.9 71.8M239.6 73L238.6 64M155.6 41.8L151 34M201.4 34L196.8 26.2M216.7 127L219.1 118.2M140.3 273.9L141.7 264.9M140.3 235.6L142.2 226.6M178.5 365L184.3 357.9M140.3 266.3L141.9 257.2M163.2 34L157.8 26.5M155.6 49.6L152.1 41.1M193.8 165.8L197.2 157.2M155.6 212.6L158.8 203.9M239.6 2.8L234.9 -5.2M178.5 41.8L173.5 33.9M186.1 173.6L188.7 164.6M163.2 212.6L166.8 203.8M132.7 250.9L134.6 241.7M209.1 49.6L205.3 40.9" stroke="#47ffb8" stroke-width="1.9" fill="none"/>
<path d="M241.6 65.3L243.4 72.1L238.1 71.5zM233.6 65.2L235.5 72L230.3 71.5zM237.8 57.5L241.2 63.7L236 64.3zM147.7 28.2L153.3 32.6L148.7 35.3zM193.5 20.5L199.1 24.8L194.5 27.5zM220.8 111.9L221.6 118.9L216.5 117.6zM142.7 258.4L144.3 265.3L139.1 264.5zM143.5 220.2L144.7 227.2L139.6 226.1zM188.4 352.7L186.3 359.5L182.2 356.2zM143.1 250.7L144.5 257.7L139.3 256.7zM154 21.2L160 25L155.7 28.1zM149.6 34.9L154.5 40.1L149.6 42.1zM199.7 151.1L199.7 158.2L194.8 156.3zM161.2 197.7L161.3 204.8L156.4 203zM231.6 -10.9L237.2 -6.5L232.6 -3.9zM170 28.3L175.8 32.5L171.3 35.3zM190.6 158.3L191.3 165.4L186.2 163.9zM169.3 197.7L169.3 204.8L164.4 202.8zM136 235.2L137.2 242.2L132 241.1zM202.7 34.8L207.7 39.8L202.9 41.9z" fill="#47ffb8"/>
<path d="M209.1 134.7L210.8 125.3M186.1 181.4L189.8 172.5M209.1 34L203.9 25.9M209.1 10.6L204.3 2.2M163.2 18.4L158.4 9.9M147.9 281.6L149.7 271.9M163.2 197L166.8 187.8M232 266.3L238.1 258.5M170.9 197L174.4 187.7M193.8 334.7L198.2 325.8" stroke="#57ffa8" stroke-width="1.9" fill="none"/>
<path d="M212 118.9L213.4 125.8L208.2 124.9zM192.3 166.4L192.2 173.5L187.3 171.5zM200.4 20.3L206.2 24.5L201.7 27.3zM201 -3.5L206.6 0.9L202 3.5zM155.1 4.2L160.7 8.6L156.1 11.2zM150.9 265.5L152.3 272.4L147.1 271.5zM169.3 181.7L169.3 188.8L164.4 186.9zM242.1 253.3L240.1 260.1L236 256.9zM176.7 181.5L176.9 188.6L171.9 186.8zM201.1 319.8L200.6 326.9L195.8 324.6z" fill="#57ffa8"/>
<path d="M178.5 189.2L181.8 179.6M140.3 10.6L134.7 2.2M232 18.4L226.8 9.6M94.5 349.8L98.5 340.4M147.9 289.2L150.4 279.2M132.7 266.3L134.1 255.9M155.6 10.6L149.8 1.9M125 327.1L129.5 317.6M163.2 204.8L166.7 194.8M239.6 18.4L233.6 9.7M140.3 304.4L141.9 293.9M178.5 18.4L173.3 9.1M247.3 258.6L253.3 249.8M163.2 49.6L158.9 39.9M186.1 10.6L180.3 1.7" stroke="#67ff98" stroke-width="1.9" fill="none"/>
<path d="M183.9 173.4L184.3 180.5L179.3 178.8zM131 -3.3L136.9 0.7L132.5 3.6zM223.5 3.9L229.1 8.3L224.6 10.9zM101.1 334.3L101 341.4L96.1 339.4zM151.9 272.8L152.9 279.8L147.8 278.6zM135 249.4L136.7 256.3L131.4 255.6zM146.1 -3.6L152 0.4L147.6 3.3zM132.4 311.7L131.9 318.8L127.2 316.5zM168.8 188.6L169.2 195.7L164.2 194zM229.9 4.3L235.8 8.2L231.4 11.2zM142.9 287.4L144.5 294.3L139.3 293.5zM170 3.4L175.6 7.8L171 10.4zM257 244.4L255.4 251.3L251.1 248.3zM156.3 33.8L161.4 38.8L156.5 40.9zM176.7 -3.8L182.5 0.2L178.1 3.1z" fill="#67ff98"/>
<path d="M247.3 65.2L244.9 54.7M117.4 334.7L121.5 324.7M193.8 49.6L188.9 39.9M254.9 250.9L261.5 242.4M224.3 273.9L230.5 265M193.8 158L197.9 148M163.2 2.8L158 -6.9M193.8 34L187.8 24.7M224.3 111.6L226.4 100.6M147.9 10.6L142.2 1" stroke="#77ff88" stroke-width="1.9" fill="none"/>
<path d="M243.5 48.3L247.5 54.1L242.4 55.3zM124 318.6L123.9 325.7L119 323.7zM185.9 34.1L191.2 38.7L186.5 41.1zM265.6 237.2L263.6 244L259.5 240.8zM234.3 259.5L232.7 266.5L228.3 263.5zM200.4 141.8L200.4 149L195.5 147zM154.9 -12.7L160.3 -8.1L155.7 -5.6zM184.3 19.2L190.1 23.3L185.6 26.2zM227.6 94.1L229 101.1L223.8 100.1zM138.8 -4.7L144.4 -0.4L139.9 2.4z" fill="#77ff88"/>
<path d="M140.3 49.6L134.2 40.1M224.3 96.2L226.8 85.1M232 2.8L226.1 -6.9M193.8 173.6L197.3 162.8M201.4 26.2L195.6 16.4M155.6 204.8L160.2 194.3M239.6 34L234.5 23.7M170.9 372.6L177.8 363.4M262.5 243.3L269 233.6M201.4 158L205.7 147.2M201.4 134.7L204 123.4M224.3 103.9L227.1 92.5M147.9 49.6L141.7 39.7" stroke="#88ff77" stroke-width="1.9" fill="none"/>
<path d="M130.7 34.6L136.5 38.7L132 41.5zM228.3 78.7L229.4 85.7L224.3 84.6zM222.6 -12.6L228.3 -8.3L223.8 -5.5zM199.3 156.5L199.8 163.6L194.8 162zM192.2 10.7L197.8 15L193.3 17.7zM162.8 188.2L162.6 195.3L157.7 193.2zM231.6 17.8L236.9 22.5L232.2 24.9zM181.8 358.1L179.9 365L175.7 361.8zM272.6 228.1L271.2 235.1L266.8 232.2zM208.2 141L208.2 148.2L203.3 146.2zM205.5 116.9L206.6 123.9L201.4 122.8zM228.6 86.1L229.6 93.1L224.5 91.9zM138.3 34.1L144 38.3L139.5 41.1z" fill="#88ff77"/>
<path d="M140.3 319.5L143 308M140.3 258.6L141.9 246.9M117.4 327.1L122.6 316.5M155.6 220.3L159.5 209.1M193.8 18.4L187.7 8.2M186.1 349.8L191.2 339.1M186.1 2.8L180 -7.4M163.2 41.8L156.4 32M239.6 49.6L234.4 38.8M132.7 273.9L134.6 262M186.1 49.6L181.4 38.5M216.7 34L210 23.7M216.7 26.2L210.2 15.7M178.5 34L172.5 23.2" stroke="#98ff67" stroke-width="1.9" fill="none"/>
<path d="M144.5 301.6L145.5 308.6L140.4 307.4zM142.8 240.3L144.5 247.2L139.3 246.5zM125.5 310.5L125 317.6L120.3 315.3zM161.7 202.8L162 209.9L157 208.2zM184.4 2.5L190 6.8L185.5 9.5zM193.9 333.1L193.5 340.2L188.8 337.9zM176.6 -13.1L182.2 -8.8L177.7 -6.1zM152.6 26.6L158.5 30.5L154.2 33.5zM231.6 32.9L236.8 37.7L232.1 40zM135.7 255.5L137.2 262.5L132 261.6zM178.8 32.4L183.9 37.5L179 39.5zM206.4 18.2L212.2 22.3L207.8 25.1zM206.7 10.1L212.5 14.3L208 17.1zM169.3 17.4L174.8 21.9L170.2 24.5z" fill="#98ff67"/>
<path d="M178.5 10.6L171.2 0.5M224.3 18.4L217.7 7.8M186.1 41.8L179.3 31.3M147.9 26.2L140.9 15.7M155.6 2.8L148 -7.6M201.4 18.4L195.3 7.1M239.6 26.2L232.8 15.3M224.3 10.6L217.6 -0.4" stroke="#a8ff57" stroke-width="1.9" fill="none"/>
<path d="M167.4 -4.8L173.4 -1L169.1 2.1zM214.1 2.2L219.9 6.4L215.4 9.2zM175.7 25.8L181.5 29.9L177.1 32.7zM137.2 10.2L143.1 14.2L138.7 17.1zM144.1 -12.9L150.2 -9.2L145.9 -6zM192.1 1.3L197.6 5.8L193 8.3zM229.3 9.7L235 13.9L230.5 16.7zM214.1 -6.1L219.8 -1.8L215.3 0.9z" fill="#a8ff57"/>
<path d="M300.7 73L302.5 59.1M193.8 319.5L199.1 306.5" stroke="#c8ff37" stroke-width="1.9" fill="none"/>
<path d="M303.3 52.6L305.1 59.5L299.9 58.8zM201.5 300.4L201.5 307.5L196.6 305.6z" fill="#c8ff37"/>
<path d="M178.5 357.4L186.3 345.5M186.1 334.7L191.4 321.3M147.9 243.3L154 230.1" stroke="#d9ff26" stroke-width="1.9" fill="none"/>
<path d="M189.9 340L188.5 346.9L184.1 344.1zM193.9 315.2L193.9 322.3L189 320.4zM156.7 224.1L156.4 231.2L151.6 229z" fill="#d9ff26"/>
<path d="M178.5 197L186.9 185M224.3 127L230.6 113.6M193.8 312L200.2 298.5M247.3 88.4L253.9 75M209.1 150.2L217.3 137.7M147.9 312L153.7 298.1M147.9 304.4L154.6 290.8M247.3 250.9L256.7 239.1M239.6 96.2L245 82M193.8 304.4L200.4 290.7" stroke="#e9ff16" stroke-width="1.9" fill="none"/>
<path d="M190.7 179.6L189.1 186.5L184.7 183.5zM233.4 107.6L233 114.7L228.2 112.5zM203 292.5L202.6 299.6L197.8 297.3zM256.8 69.1L256.3 76.2L251.5 73.8zM220.9 132.2L219.5 139.1L215.1 136.2zM156.2 292L156.1 299.1L151.2 297.1zM157.5 284.9L156.9 292L152.2 289.7zM260.9 234L258.8 240.8L254.7 237.5zM247.4 75.8L247.5 83L242.6 81.1zM203.2 284.8L202.7 291.9L198 289.6z" fill="#e9ff16"/>
<path d="M170.9 212.6L180.3 200.6M125 334.7L134.9 322.9M178.5 349.8L186 336.3M170.9 204.8L180.1 192.4M300.7 111.6L306.4 97.2M201.4 165.8L209.7 152.6" stroke="#f9ff06" stroke-width="1.9" fill="none"/>
<path d="M184.4 195.4L182.4 202.2L178.2 199zM139.1 317.9L136.9 324.6L132.9 321.2zM189.1 330.5L188.3 337.6L183.6 335.1zM184 187.1L182.2 194L177.9 190.8zM308.9 91L308.9 98.2L304 96.2zM213.2 147L211.9 154L207.4 151.2z" fill="#f9ff06"/>
<path d="M147.9 250.9L155.1 236.7M300.7 88.4L302.2 72.5" stroke="#fff500" stroke-width="1.9" fill="none"/>
<path d="M158.1 230.6L157.5 237.9L152.6 235.5zM302.9 65.6L305 72.7L299.5 72.2z" fill="#fff500"/>
<path d="M147.9 273.9L154.8 259.4M216.7 273.9L222.3 258.8M285.5 204.8L295.2 191.8M232 111.6L238.5 96.8M147.9 258.6L153.9 243.5M209.1 158L218.4 144.7M109.7 342.3L120.7 330.3M239.6 103.9L245.8 88.8M186.1 342.3L193.5 327.6M186.1 197L195.3 183.4M254.9 243.3L265.1 230.4" stroke="#ffe500" stroke-width="1.9" fill="none"/>
<path d="M157.8 253.2L157.3 260.6L152.3 258.2zM224.7 252.3L224.9 259.8L219.7 257.8zM299.4 186.3L297.4 193.5L293 190.2zM241.4 90.4L241.1 97.9L236 95.6zM156.4 237L156.5 244.5L151.3 242.5zM222.4 139L220.7 146.3L216.1 143.1zM125.4 325.1L122.8 332.1L118.7 328.4zM248.5 82.4L248.4 89.9L243.2 87.7zM196.6 321.3L196 328.9L191 326.3zM199.2 177.5L197.6 184.9L192.9 181.8zM269.5 224.9L267.3 232.2L262.9 228.7z" fill="#ffe500"/>
<path d="M193.8 189.2L202.5 175.1M224.3 119.3L232.6 104.9M209.1 281.6L216.3 266.6M178.5 204.8L187.7 190.9M277.8 212.6L287.6 198.9M193.8 296.8L201 281.6" stroke="#ffd500" stroke-width="1.9" fill="none"/>
<path d="M206.3 169.1L204.9 176.6L200.1 173.7zM236.1 98.7L235.1 106.3L230.1 103.5zM219.4 260.2L218.8 267.9L213.7 265.4zM191.7 184.9L190.1 192.5L185.4 189.3zM291.7 193.1L289.9 200.6L285.2 197.2zM204.1 275.2L203.6 282.9L198.4 280.4z" fill="#ffd500"/>
<path d="M270.2 220.3L278.7 205.6M285.5 197L293.6 182M239.6 258.6L250.4 245.4M247.3 80.7L255.1 65.6M293.1 173.6L300 158M209.1 142.5L216.5 127.1M300.7 96.2L305.9 79.8M201.4 173.6L210.9 159.2M300.7 65.2L301.6 48M293.1 181.4L300.7 165.9M300.7 80.7L303.4 63.7" stroke="#ffc400" stroke-width="1.9" fill="none"/>
<path d="M282.3 199.3L281.2 207.1L276.2 204.2zM297 175.5L296.1 183.4L291 180.6zM255 239.7L252.7 247.2L248.1 243.5zM258.5 59.1L257.7 66.9L252.5 64.2zM303 151.3L302.7 159.2L297.4 156.8zM219.8 120.5L219.2 128.4L213.9 125.8zM308.2 72.8L308.7 80.7L303.1 78.9zM214.9 153.1L213.3 160.9L208.4 157.6zM302 40.6L304.6 48.2L298.7 47.9zM303.9 159.3L303.3 167.2L298 164.6zM304.5 56.4L306.3 64.1L300.5 63.2z" fill="#ffc400"/>
<path d="M155.6 235.6L164.7 220.9M224.3 266.3L234.7 252.3M216.7 134.7L224 118.9M262.5 235.6L272.6 221.3M163.2 220.3L174 206.5M254.9 73L257.3 55.6" stroke="#ffb400" stroke-width="1.9" fill="none"/>
<path d="M168.7 214.6L167.3 222.5L162.2 219.4zM239.2 246.3L237.1 254.1L232.3 250.5zM227.1 112.1L226.7 120.2L221.2 117.7zM276.9 215.2L275 223L270.1 219.6zM178.7 200.6L176.4 208.3L171.7 204.6zM258.3 48.1L260.3 56L254.3 55.1z" fill="#ffb400"/>
<path d="M155.6 228L165.7 213.5M262.5 65.2L264.1 47.6M193.8 181.4L203.9 166.8M193.8 289.2L200.5 272.6M147.9 266.3L155.5 249.9M170.9 365L182.6 351.4M254.9 80.7L257 62.8" stroke="#ffa400" stroke-width="1.9" fill="none"/>
<path d="M170 207.2L168.1 215.2L163.2 211.7zM264.8 40L267.2 47.9L261.1 47.3zM208.2 160.5L206.4 168.5L201.4 165.1zM203.3 265.5L203.3 273.8L197.6 271.5zM158.7 242.9L158.3 251.2L152.7 248.6zM187.7 345.6L185 353.4L180.3 349.4zM257.9 55.2L260 63.2L253.9 62.5z" fill="#ffa400"/>
<path d="M186.1 189.2L195.2 173.5M132.7 327.1L144.8 313.4M163.2 372.6L175 358.5" stroke="#ff9400" stroke-width="1.9" fill="none"/>
<path d="M199.1 166.8L197.9 175.1L192.5 172zM150 307.5L147.1 315.4L142.4 311.3zM180.1 352.5L177.5 360.6L172.6 356.5z" fill="#ff9400"/>
<path d="M300.7 119.3L307.5 102" stroke="#ff8400" stroke-width="1.9" fill="none"/>
<path d="M310.4 94.5L310.5 103.1L304.6 100.8z" fill="#ff8400"/>
<path d="M300.7 103.9L307.9 86.4" stroke="#ff7300" stroke-width="1.9" fill="none"/>
<path d="M310.9 78.9L310.9 87.6L304.9 85.2z" fill="#ff7300"/>
<path d="M186.1 327.1L192.9 309.1M293.1 127L301.8 109.5" stroke="#ff6300" stroke-width="1.9" fill="none"/>
<path d="M195.8 301.4L196 310.2L189.8 307.9zM305.5 102L304.8 111L298.8 108z" fill="#ff6300"/>
<path d="M193.8 281.6L201.2 263.2" stroke="#ff5300" stroke-width="1.9" fill="none"/>
<path d="M204.4 255.3L204.4 264.5L198.1 261.9z" fill="#ff5300"/>
<path d="M270.2 212.6L281.3 195.8M163.2 365L176.5 349.8M186.1 312L193.9 293.3M293.1 111.6L300.2 92.6M277.8 204.8L288.3 187.4M285.5 189.2L294.2 170.9M155.6 296.8L162.5 277.6" stroke="#ff4300" stroke-width="1.9" fill="none"/>
<path d="M286.1 188.6L284.2 197.7L278.4 193.9zM182.2 343.3L179.1 352.1L173.9 347.6zM197.3 285.3L197.1 294.6L190.7 291.9zM303.2 84.5L303.4 93.8L296.9 91.4zM292.8 179.9L291.3 189.1L285.3 185.6zM298 163L297.4 172.4L291.1 169.4zM165.5 269.4L165.8 278.8L159.3 276.4z" fill="#ff4300"/>
<path d="M239.6 111.6L246.7 92.4M193.8 197L204.6 179.5M186.1 296.8L194.6 278.1M216.7 266.3L230.1 250.6M132.7 334.7L146.4 319.2M293.1 150.2L301.3 131.1" stroke="#ff3300" stroke-width="1.9" fill="none"/>
<path d="M249.7 84.2L250 93.6L243.4 91.2zM209.2 172L207.5 181.4L201.6 177.7zM198.2 270L197.8 279.5L191.4 276.6zM235.9 243.9L232.8 252.9L227.5 248.3zM152.3 312.6L149.1 321.6L143.8 316.9zM304.8 122.9L304.6 132.5L298 129.7z" fill="#ff3300"/>
<path d="M232 127L242.5 109M285.5 181.4L294.2 162.4M155.6 266.3L165.2 247.6M147.9 319.5L157.6 300.8M293.1 158L301.5 138.7M102.1 349.8L115.7 333.7M270.2 65.2L273.6 44.3M293.1 119.3L302 100.1" stroke="#ff2200" stroke-width="1.9" fill="none"/>
<path d="M246.9 101.2L245.6 110.8L239.4 107.2zM297.9 154.2L297.4 163.8L290.9 160.9zM169.3 239.5L168.4 249.2L162 245.9zM161.8 292.8L160.8 302.5L154.4 299.2zM305 130.4L304.8 140.1L298.2 137.3zM121.5 326.8L118.4 336L112.9 331.4zM275.1 35.4L277.2 44.9L270 43.8zM305.8 91.9L305.3 101.6L298.7 98.6z" fill="#ff2200"/>
<path d="M155.6 372.6L169.1 356.2M293.1 165.8L302.5 146.7M293.1 103.9L302.1 84.5M178.5 342.3L186.4 322.3M155.6 243.3L165 224M155.6 289.2L164 269.5M247.3 243.3L259.4 225.5M262.5 80.7L263.5 59.1" stroke="#ff1200" stroke-width="1.9" fill="none"/>
<path d="M174.9 349.1L171.9 358.5L166.3 353.9zM306.5 138.5L305.7 148.3L299.2 145.1zM305.9 76.3L305.4 86.1L298.8 83zM189.7 313.8L189.8 323.7L182.9 321zM169 215.8L168.3 225.6L161.7 222.4zM167.6 261L167.4 270.9L160.6 268zM264.6 217.9L262.4 227.6L256.3 223.4zM263.9 49.9L267.2 59.3L259.8 59z" fill="#ff1200"/>
<path d="M262.5 228L275.5 210.6M216.7 150.2L227.3 131.2M293.1 134.7L301.4 114.6M140.3 327.1L149.2 307.1M102.1 372.6L115.5 355.3M232 119.3L240.8 99.3M224.3 134.7L234.8 115.5M262.5 73L264.6 51.2M247.3 10.6L240.3 -10.3M254.9 235.6L267.2 217.4" stroke="#ff0200" stroke-width="1.9" fill="none"/>
<path d="M281 203.2L278.4 212.8L272.5 208.4zM231.8 123L230.5 133L224 129.4zM304.9 105.9L304.8 116L297.9 113.1zM153 298.5L152.6 308.6L145.7 305.6zM121.2 347.8L118.4 357.6L112.5 353zM244.6 90.7L244.2 100.8L237.4 97.8zM239.3 107.3L238.1 117.3L231.5 113.7zM265.5 41.8L268.4 51.5L260.9 50.8zM237.4 -19.2L243.9 -11.4L236.8 -9.1zM272.4 209.5L270.3 219.5L264 215.2z" fill="#ff0200"/>
<path d="M201.4 189.2L212.5 170.1M170.9 220.3L184.9 203.1M155.6 273.9L163.3 253M201.4 281.6L210.7 261.2M117.4 342.3L131 324.3M186.1 319.5L195.1 298.9" stroke="#f10000" stroke-width="1.9" fill="none"/>
<path d="M217.2 161.9L215.8 172L209.2 168.2zM190.9 195.8L187.8 205.5L181.9 200.7zM166.6 244L166.8 254.3L159.7 251.7zM214.6 252.6L214.1 262.8L207.2 259.7zM136.8 316.8L134 326.6L128 322zM198.8 290.1L198.6 300.4L191.6 297.4z" fill="#f10000"/>
<path d="M216.7 158L230.3 139.8M209.1 273.9L218.8 253.3M163.2 228L177.1 209.8M155.6 304.4L164.8 283.3M178.5 212.6L192.3 194.1" stroke="#e10000" stroke-width="1.9" fill="none"/>
<path d="M236 132.2L233.4 142.1L227.3 137.5zM222.9 244.7L222.2 255L215.4 251.7zM182.8 202.3L180.1 212.1L174.1 207.5zM168.7 274.6L168.3 284.8L161.4 281.8zM198 186.4L195.3 196.3L189.2 191.8z" fill="#e10000"/>
<path d="M254.9 88.4L265.3 67.8M102.1 357.4L116.4 339.2M186.1 204.8L199.6 185.9M247.3 103.9L256.4 82.5M254.9 26.2L251.4 3.2M155.6 258.6L164.8 237.1M102.1 365L117.4 347.3M293.1 142.5L302.4 120.9M163.2 235.6L175.6 215.6M209.1 165.8L220.9 145.5M247.3 96.2L255.8 74.2M254.9 2.8L247.6 -19.7" stroke="#d00000" stroke-width="1.9" fill="none"/>
<path d="M269.6 59.3L268.7 69.5L261.9 66.1zM122.2 331.7L119.4 341.5L113.4 336.8zM205.2 178.2L202.7 188.2L196.6 183.7zM260.2 73.8L259.9 84L252.9 81zM250 -6.2L255.1 2.6L247.6 3.8zM168.5 228.4L168.3 238.6L161.3 235.6zM123.6 340.1L120.3 349.8L114.5 344.8zM306.1 112.1L305.9 122.4L298.9 119.4zM180.6 207.5L178.8 217.6L172.3 213.6zM225.7 137.3L224.2 147.4L217.6 143.5zM259.3 65.4L259.4 75.6L252.3 72.8zM244.7 -28.7L251.2 -20.8L244 -18.5z" fill="#d00000"/>
<path d="M155.6 250.9L166.2 229.8M216.7 142.5L227.8 121.6M239.6 250.9L252.7 231.2M201.4 181.4L213.7 161.1M209.1 173.6L221 153M170.9 228L185.2 208.7M170.9 357.4L186.4 339.1M232 258.6L246.7 239.6M155.6 281.6L165.4 259.7" stroke="#c00000" stroke-width="1.9" fill="none"/>
<path d="M170.5 221.3L169.6 231.5L162.8 228.1zM232.3 113.2L231.2 123.3L224.4 119.8zM258 223.3L255.9 233.3L249.6 229.1zM218.6 153L216.9 163.1L210.4 159.1zM225.8 144.8L224.3 154.9L217.7 151.1zM190.9 201.1L188.2 211L182.1 206.5zM192.5 331.9L189.3 341.6L183.5 336.7zM252.6 232.1L249.7 242L243.7 237.3zM169.3 251L168.9 261.2L161.9 258.1z" fill="#c00000"/>
<path d="M254.9 49.6L251.2 25.6M186.1 304.4L195 281.7M262.5 2.8L256.5 -21" stroke="#b00000" stroke-width="1.9" fill="none"/>
<path d="M249.8 16.2L255 25L247.5 26.2zM198.5 272.9L198.6 283.1L191.5 280.3zM254.2 -30.2L260.2 -22L252.8 -20.1z" fill="#b00000"/>
<path d="M247.3 49.6L242.4 25.2M262.5 26.2L257.9 1.4" stroke="#a00000" stroke-width="1.9" fill="none"/>
<path d="M240.6 15.9L246.1 24.5L238.7 26zM256.2 -7.9L261.7 0.7L254.2 2.1z" fill="#a00000"/>
<path d="M254.9 57.4L249.8 32.6" stroke="#900000" stroke-width="1.9" fill="none"/>
<path d="M247.8 23.3L253.5 31.8L246 33.3z" fill="#900000"/>
<path d="M247.3 2.8L238.7 -21.7M247.3 41.8L244.2 15.8M247.3 57.4L243.4 31.1M270.2 18.4L262.5 -7.6M285.5 18.4L278.2 -8.1M262.5 34L258.6 6.7M270.2 34L264.7 6.7M254.9 142.5L268.4 118M285.5 158L296.7 132.4M254.9 197L270.7 173.9M277.8 65.2L280.7 37.3M262.5 204.8L278.1 181.4M232 150.2L245.6 125.6M262.5 127L274.6 101.5M262.5 10.6L255.7 -16.8M186.1 250.9L202.6 227.9M277.8 57.4L273.9 29.4M285.5 165.8L298.2 140.5M254.9 111.6L267.4 86.2M270.2 142.5L283 117.2M201.4 212.6L218.4 189.9M277.8 2.8L268.7 -24.1M262.5 212.6L279.2 189.4M293.1 88.4L295.4 60M209.1 220.3L226 197.3M140.3 342.3L158.8 320.5M170.9 289.2L183.5 263.5M125 365L141.9 341.9M262.5 119.3L274 93M270.2 165.8L283.5 140.4M201.4 235.6L218.4 212.4M186.1 243.3L204.6 221.2M163.2 357.4L182.9 336.3M254.9 119.3L266.2 92.8M232 165.8L248.8 142.3M254.9 204.8L272.4 181.7M285.5 88.4L288.6 59.7M285.5 73L288.8 44.2M147.9 365L166.8 343M247.3 18.4L239.1 -9.4M254.9 189.2L272.6 166.2M277.8 103.9L290.3 77.6M186.1 273.9L196.2 246.6M262.5 111.6L275.9 85.7M232 228L248.9 204.3M193.8 228L210.1 203.8M232 189.2L247.1 164.3M262.5 165.8L275.6 139.8M163.2 289.2L175.7 262.8M270.2 41.8L264.8 13.1M285.5 65.2L287.1 36.1M201.4 273.9L214.1 247.6M254.9 181.4L271.9 157.7M147.9 357.4L166.2 334.5M270.2 173.6L283 147.3M239.6 204.8L255.7 180.3M285.5 111.6L296.1 84.2M277.8 158L290.2 131.4M178.5 289.2L188.9 261.7M186.1 235.6L205.4 213.3M247.3 142.5L260.4 116.1M132.7 342.3L150.9 319M254.9 18.4L247 -10.1M285.5 57.4L282.4 28M262.5 134.7L274.2 107.5M285.5 49.6L281.8 20.2M163.2 258.6L176.3 232M277.8 119.3L288.6 91.7M170.9 342.3L184.4 315.8M163.2 266.3L175.3 239M270.2 10.6L260.2 -17.5M232 158L244.7 131M109.7 357.4L129.4 334.9M277.8 73L281.6 43.3M277.8 150.2L289.6 122.7M285.5 142.5L300.4 116.5M239.6 134.7L253.7 108.3M277.8 197L295 172.4M170.9 243.3L188.1 218.6M178.5 304.4L192.5 277.8M239.6 119.3L252 91.8M262.5 41.8L256.4 12.3M209.1 189.2L227.5 165.3M201.4 250.9L219.6 226.8M262.5 197L277.5 170.7M216.7 173.6L232.7 148M239.6 243.3L256.3 218M247.3 235.6L266.3 212M147.9 349.8L166.2 325.6M247.3 189.2L262.6 162.9M277.8 18.4L269.7 -10.9M216.7 228L234.3 203.1M239.6 158L253.9 131.1M277.8 189.2L291.9 162.1M170.9 319.5L184.3 292.1M247.3 34L242.4 3.8M224.3 173.6L242.4 148.9M178.5 281.6L191.3 253.8M155.6 334.7L168.3 306.8M239.6 228L255.4 201.7M163.2 304.4L175.1 276.1M247.3 26.2L237.4 -2.9M270.2 181.4L283.8 153.8M224.3 204.8L241.3 179.1M170.9 250.9L184.9 223.6M254.9 41.8L251 11.3M270.2 127L281.3 98.2M262.5 18.4L251.2 -10.3M270.2 204.8L285.6 178M247.3 197L263.1 170.5M285.5 41.8L281.8 11.1M193.8 258.6L211 232.9M270.2 197L286.4 170.6M293.1 80.7L295.2 49.8M170.9 235.6L189.4 210.7M254.9 165.8L269.5 138.4M216.7 235.6L236.9 212M163.2 243.3L178.8 216.3M201.4 228L221 203.8M232 197L249.7 171.4M285.5 10.6L274.6 -18.6M209.1 266.3L226.9 240.7M224.3 197L241.2 170.8M178.5 228L196.4 202.3M224.3 142.5L239.3 114.9M285.5 150.2L297.9 121.4M285.5 2.8L276.8 -27.4M125 342.3L144.8 317.9M132.7 372.6L153.7 349.3M193.8 250.9L211.5 225M270.2 57.4L263.4 26.6M293.1 65.2L294.8 33.7M186.1 228L203.3 201.4M285.5 173.6L300 145.5M262.5 158L275.1 129M178.5 319.5L192.9 291.3M201.4 197L220.6 171.8M132.7 349.8L152.8 325.3M209.1 250.9L227.2 225M163.2 296.8L175.1 267.4M270.2 111.6L282.5 82.4M254.9 34L252 2.4M285.5 103.9L297.9 74.7M277.8 41.8L272.3 10.5M163.2 334.7L175.7 305.5M186.1 281.6L196.8 251.6M262.5 173.6L276.6 144.8M239.6 165.8L254.2 137.3M277.8 181.4L293.9 153.6M216.7 250.9L237.5 226.5M277.8 34L271.1 2.6M254.9 127L267.9 97.6M239.6 235.6L257.2 208.6M224.3 243.3L244.9 218.4M285.5 34L282 1.9M155.6 365L175.8 339.8M277.8 26.2L270.9 -5.3M178.5 312L190.2 281.9M270.2 49.6L266.2 17.5M224.3 258.6L244.8 233.5M254.9 228L273.9 201.7M109.7 365L130.6 340.2M270.2 134.7L285 105.9M270.2 2.8L259.9 -28M224.3 189.2L240.6 161M178.5 258.6L190.2 228.2M163.2 319.5L176.6 289.8M109.7 372.6L131.9 348.6M117.4 349.8L137.6 324.2M155.6 319.5L170.5 290.4M216.7 258.6L237.9 233.7M209.1 181.4L226.5 153.7M193.8 204.8L213.5 178.6M224.3 235.6L243.3 208.9M224.3 150.2L239.1 121M277.8 142.5L290.9 112.4M178.5 243.3L196.6 215.9M186.1 220.3L206.3 194.3M209.1 197L228.6 170.5M209.1 258.6L229.4 232.8M170.9 349.8L187.9 321.7M285.5 119.3L299.7 89.7M262.5 220.3L281.4 193.3M170.9 296.8L182.4 266M163.2 281.6L176.9 251.5M232 173.6L249.7 145.7M232 142.5L247.6 113.4M247.3 127L260.4 96.7M239.6 173.6L259.3 147M277.8 127L293.2 97.7M262.5 103.9L278.1 74.6M293.1 96.2L306.2 65.6M209.1 235.6L228.8 208.9M254.9 158L271.2 128.9M270.2 73L271.6 39.7M277.8 10.6L265.9 -20.6M216.7 165.8L234.1 137.3M186.1 212.6L207.2 186.6M109.7 349.8L130.1 323.2M193.8 235.6L213.2 208.2M178.5 296.8L192.9 266.4M209.1 204.8L228.1 177.1M163.2 342.3L181 313.7M247.3 204.8L264.7 176M262.5 57.4L258 24.1M140.3 349.8L162.1 324.2M262.5 96.2L278.3 66.4M254.9 10.6L245.2 -21.6M247.3 111.6L261.4 81M262.5 49.6L256.9 16.4M247.3 173.6L265 145M193.8 243.3L213.3 215.7M178.5 273.9L192.2 242.9M232 243.3L251.2 215.3M270.2 26.2L264.2 -7.2M277.8 49.6L271 16.3M224.3 250.9L245.7 224.5M155.6 342.3L175.5 314.7M155.6 327.1L168.5 295.7M232 204.8L251.4 176.9M232 134.7L245.6 103.5M270.2 158L284.8 127.3M201.4 258.6L221.9 231.3M254.9 212.6L274.3 184.5M239.6 142.5L256.2 112.6M285.5 26.2L279.2 -7.4M224.3 212.6L243.8 184.4M262.5 150.2L275.7 118.7M201.4 266.3L215.9 235.3M293.1 73L298 39.1M270.2 119.3L284.9 88.4M216.7 181.4L234.1 151.9M277.8 88.4L287 55.4M147.9 372.6L169.1 345.6M125 349.8L148 324.4M170.9 281.6L184 249.9M224.3 228L244.8 200.4M186.1 258.6L199.2 226.8M170.9 266.3L183.5 234.2M140.3 334.7L163.4 309M216.7 204.8L235.1 175.5M254.9 173.6L272 143.5M209.1 212.6L228.8 184.1M163.2 327.1L177.3 295.4M216.7 243.3L235.7 214.3M224.3 165.8L244 137.2M239.6 220.3L259.4 191.8M232 212.6L252.9 184.9M125 372.6L148.1 346.6M163.2 349.8L184.2 322M216.7 212.6L235.5 183.2M270.2 80.7L273.9 46M170.9 312L183.6 279.4M285.5 134.7L298 102.1M193.8 220.3L216.6 193.7M270.2 103.9L282.7 71.1M247.3 212.6L265.6 182.7M155.6 357.4L176.3 329.1M125 357.4L146.7 329.8M239.6 212.6L259.9 183.9M186.1 266.3L198.3 233.3M201.4 243.3L220.7 213.9M224.3 158L242.7 128M277.8 80.7L280.7 45.6M254.9 150.2L272.2 119.6M147.9 334.7L168.7 306.1M163.2 250.9L175.2 217.7M262.5 181.4L280.1 150.8M247.3 134.7L261.3 102.3M193.8 273.9L207 241.1M262.5 189.2L283.9 160.9M216.7 197L236.8 167.7M170.9 273.9L185.1 241.4M224.3 220.3L244 190.6M239.6 150.2L256.1 118.6M247.3 158L261.9 125.4M232 220.3L251.9 190.6M262.5 142.5L280 111.3M254.9 103.9L268 70.5M232 235.6L252.4 206.2M232 181.4L253.7 152.8M247.3 228L265.5 197M216.7 189.2L235.5 158.5M239.6 127L257.5 95.8M178.5 334.7L193.7 302M117.4 372.6L138.6 343.5M201.4 220.3L224.4 192.4M285.5 96.2L298 62.3M262.5 88.4L278.3 56M254.9 96.2L267.5 62.3M277.8 111.6L292.6 78.5M193.8 266.3L207.1 232.4M247.3 150.2L264.1 117.9M270.2 189.2L291 159.3M163.2 312L180.2 279.7M201.4 204.8L221.4 174.3M239.6 197L261.2 167.4M247.3 165.8L264.9 133.7M247.3 181.4L269.7 152.4M277.8 134.7L291.7 100.8M178.5 220.3L199 189.9M247.3 220.3L268.5 190.4M147.9 342.3L172.6 315M270.2 96.2L283.3 61.8M277.8 173.6L293.4 140.2M270.2 150.2L288.9 118.4M224.3 181.4L244.3 150.3M285.5 80.7L287.7 43.8M209.1 243.3L233 215.1M178.5 266.3L193.6 232.5M140.3 357.4L164.3 329.2M178.5 250.9L197.9 219.2M178.5 235.6L202.5 207.2M170.9 334.7L185.7 300.5M216.7 220.3L240.8 192M277.8 165.8L295.1 132.8M155.6 349.8L177.6 319.7M270.2 88.4L287.6 55.5M117.4 365L140.9 336M170.9 258.6L183.4 223.4M232 250.9L252.4 219.6M140.3 365L162.4 334.8M170.9 304.4L185.9 270.1M147.9 327.1L163.4 293M239.6 181.4L259.9 149.9M140.3 372.6L162.1 342.1M209.1 228L230.9 197.5M170.9 327.1L188.5 294M285.5 127L300.7 92.7M247.3 119.3L261.4 84.5M186.1 289.2L200.9 254.7M132.7 365L157.2 336.5M163.2 273.9L178.2 239.4M193.8 212.6L216.8 182.8M254.9 220.3L275.8 188.8M277.8 96.2L291.8 61M155.6 312L170.3 277M117.4 357.4L140 327M239.6 189.2L259.8 157.1M178.5 327.1L196.1 293.4M254.9 134.7L270.2 99.9M132.7 357.4L157 328.2" stroke="#800000" stroke-width="1.9" fill="none"/>
<path d="M235.5 -30.6L242.3 -22.9L235.1 -20.4zM243.1 6.4L248 15.4L240.5 16.3zM242.1 21.7L247.2 30.6L239.7 31.7zM259.8 -16.7L266.1 -8.7L258.8 -6.5zM275.7 -17.3L281.8 -9.1L274.5 -7.1zM257.3 -2.7L262.4 6.1L254.9 7.2zM262.8 -2.6L268.4 5.9L261 7.4zM273 109.7L271.7 119.9L265.1 116.2zM300.6 123.7L300.2 134L293.2 130.9zM276.1 166L273.8 176L267.6 171.7zM281.7 27.8L284.5 37.7L276.9 36.9zM283.4 173.5L281.3 183.5L275 179.3zM250.2 117.3L248.9 127.4L242.3 123.8zM278.6 92.9L278 103.2L271.1 99.9zM253.4 -26L259.4 -17.7L252 -15.8zM208.2 220.2L205.7 230.2L199.5 225.7zM272.6 20L277.7 28.9L270.1 29.9zM302.4 132L301.6 142.2L294.8 138.8zM271.6 77.6L270.8 87.8L264 84.5zM287.3 108.7L286.4 118.9L279.6 115.5zM224.2 182.3L221.5 192.2L215.4 187.6zM265.6 -33.1L272.3 -25.3L265.1 -22.9zM284.7 181.7L282.3 191.6L276.1 187.2zM296.2 50.5L299.2 60.3L291.7 59.7zM231.6 189.6L229 199.5L222.9 195zM164.9 313.2L161.7 322.9L155.9 318zM187.7 255L186.9 265.2L180.1 261.9zM147.6 334.2L145 344.1L138.9 339.6zM277.9 84.3L277.5 94.5L270.6 91.5zM288 132L286.9 142.1L280.2 138.6zM224.1 204.8L221.5 214.7L215.4 210.2zM210.7 214L207.5 223.7L201.7 218.8zM189.3 329.4L185.6 338.9L180.1 333.8zM269.9 84.1L269.7 94.3L262.7 91.3zM254.3 134.6L251.8 144.5L245.7 140.1zM278.1 174.1L275.4 184L269.3 179.4zM289.6 50.2L292.4 60.1L284.8 59.2zM289.9 34.8L292.5 44.7L285 43.8zM172.9 335.8L169.6 345.4L163.9 340.5zM236.4 -18.5L242.7 -10.5L235.4 -8.3zM278.4 158.7L275.6 168.5L269.6 163.9zM294.3 69.1L293.7 79.3L286.8 76zM199.5 237.7L199.8 248L192.6 245.3zM280.3 77.3L279.3 87.5L272.5 84zM254.4 196.6L252 206.5L245.8 202.1zM215.4 196L213.2 206L206.9 201.7zM252 156.1L250.3 166.2L243.8 162.3zM279.9 131.3L279 141.5L272.3 138.1zM179.8 254.3L179.1 264.5L172.3 261.2zM263 3.8L268.5 12.4L261.1 13.8zM287.7 26.6L290.9 36.3L283.4 35.9zM218.2 239L217.5 249.3L210.7 246zM277.5 149.9L275 159.9L268.9 155.4zM172.1 327.1L169.1 336.9L163.2 332.2zM287.2 138.8L286.4 149L279.6 145.7zM260.9 172.4L258.8 182.4L252.5 178.2zM299.5 75.4L299.6 85.6L292.5 82.8zM294.2 122.8L293.6 133L286.7 129.8zM192.3 252.8L192.5 263.1L185.3 260.4zM211.6 206.1L208.2 215.8L202.5 210.8zM264.7 107.5L263.8 117.7L257 114.4zM156.8 311.6L153.9 321.4L147.9 316.7zM244.4 -19.3L250.6 -11.1L243.3 -9.1zM281.5 18.5L286.2 27.6L278.7 28.4zM278 98.8L277.7 109L270.7 106zM280.6 10.8L285.6 19.7L278 20.7zM180.5 223.5L179.7 233.7L172.9 230.3zM292.1 82.8L292.2 93L285.1 90.3zM188.8 307.4L187.8 317.6L181 314.1zM179.1 230.3L178.7 240.6L171.8 237.5zM257 -26.5L263.8 -18.8L256.6 -16.2zM248.7 122.4L248.1 132.6L241.2 129.4zM135.7 327.8L132.3 337.4L126.6 332.4zM282.8 33.9L285.4 43.8L277.8 42.8zM293.3 113.9L293.1 124.2L286.1 121.2zM305.2 108.3L303.7 118.4L297.1 114.6zM258.2 99.9L257.1 110.1L250.4 106.5zM300.5 164.6L298.1 174.6L291.9 170.2zM193.5 210.9L191.2 220.8L184.9 216.5zM197 269.4L195.9 279.6L189.2 276zM255.9 83.2L255.4 93.4L248.5 90.3zM254.4 3L260.1 11.5L252.6 13zM233.3 157.8L230.5 167.6L224.5 163zM225.3 219.2L222.6 229.1L216.6 224.5zM282.2 162.5L280.8 172.6L274.2 168.9zM237.7 139.9L235.9 150L229.5 146zM261.5 210L259.5 220.1L253.1 215.9zM272.3 204.6L269.3 214.4L263.3 209.6zM171.9 318L169.3 327.9L163.2 323.3zM267.3 154.7L265.9 164.8L259.3 161zM267.2 -20.1L273.4 -11.9L266 -9.9zM239.7 195.3L237.4 205.3L231.2 200.9zM258.4 122.8L257.3 132.9L250.6 129.4zM296.3 153.7L295.3 163.9L288.5 160.4zM188.4 283.5L187.7 293.8L180.8 290.4zM240.9 -5.5L246.2 3.2L238.7 4.4zM248.1 141.3L245.5 151.2L239.4 146.7zM195.2 245.1L194.7 255.3L187.8 252.2zM172.2 298.1L171.7 308.4L164.8 305.2zM260.2 193.5L258.6 203.6L252.1 199.7zM178.8 267.4L178.6 277.6L171.6 274.6zM234.4 -11.9L241 -4.1L233.8 -1.7zM288 145.3L287.2 155.5L280.4 152.2zM246.5 171.2L244.5 181.2L238.1 177zM189.2 215.1L188.2 225.3L181.5 221.8zM249.8 1.8L254.8 10.8L247.2 11.7zM284.7 89.4L284.8 99.6L277.7 96.9zM247.7 -19.2L254.7 -11.7L247.7 -8.9zM290.3 169.8L288.9 179.9L282.3 176.1zM268 162.3L266.4 172.4L259.9 168.5zM280.7 1.7L285.6 10.7L278.1 11.5zM216.3 225L214.2 235L207.9 230.8zM291.3 162.5L289.6 172.6L283.1 168.6zM295.8 40.3L299 50L291.4 49.5zM195 203.1L192.4 213L186.3 208.4zM273.9 130L272.8 140.2L266.1 136.6zM243 204.7L239.8 214.4L234 209.5zM183.5 208.1L182.1 218.2L175.5 214.4zM227 196.4L224 206.2L218.1 201.4zM255.2 163.6L252.9 173.6L246.6 169.2zM271.3 -27.6L278.2 -20L271.1 -17.3zM232.4 232.9L230.1 242.9L223.8 238.5zM246.4 162.8L244.4 172.8L238.1 168.7zM201.8 194.5L199.5 204.5L193.3 200.2zM243.8 106.5L242.6 116.7L235.9 113.1zM301.7 112.7L301.4 122.9L294.4 119.9zM274.1 -36.5L280.4 -28.4L273.1 -26.3zM150.8 310.5L147.8 320.3L141.9 315.5zM160.1 342.3L156.6 351.9L150.9 346.8zM216.8 217.1L214.6 227.1L208.3 222.8zM261.4 17.3L267.1 25.8L259.7 27.4zM295.3 24.2L298.6 33.9L291 33.5zM208.4 193.4L206.5 203.5L200.1 199.3zM304.4 137.1L303.4 147.3L296.6 143.8zM278.8 120.3L278.5 130.5L271.6 127.5zM197.2 282.9L196.3 293.1L189.5 289.6zM226.4 164.3L223.6 174.1L217.6 169.5zM158.8 318L155.7 327.7L149.8 322.9zM232.7 217.2L230.4 227.1L224.1 222.8zM178.7 258.6L178.6 268.8L171.6 266zM286.3 73.6L286 83.9L279 80.9zM251.1 -7L255.8 2.1L248.2 2.8zM301.7 66L301.4 76.2L294.5 73.2zM270.7 1.2L276.1 9.9L268.6 11.2zM179.4 296.7L179.2 306.9L172.2 304zM199.9 242.6L200.3 252.8L193.2 250.3zM280.7 136.3L280 146.5L273.2 143.1zM258.6 128.8L257.6 139L250.8 135.6zM298.6 145.4L297.2 155.5L290.6 151.7zM243.7 219.3L240.4 229L234.6 224zM269.2 -6.7L274.9 1.8L267.4 3.4zM271.8 89L271.4 99.2L264.5 96.1zM262.3 200.6L260.4 210.7L254 206.5zM250.9 211.1L247.8 220.8L242 216zM281 -7.5L285.8 1.5L278.2 2.4zM181.7 332.4L178.7 342.2L172.8 337.5zM268.9 -14.6L274.6 -6.1L267.2 -4.5zM193.7 273L193.8 283.2L186.7 280.5zM265 8.1L269.9 17L262.4 18zM250.8 226.2L247.8 235.9L241.9 231.1zM279.4 194L276.9 203.9L270.8 199.5zM136.7 333L133.5 342.7L127.7 337.8zM289.3 97.4L288.3 107.6L281.6 104.1zM256.9 -37L263.5 -29.2L256.3 -26.8zM245.3 152.8L243.9 162.9L237.3 159.1zM193.6 219.3L193.7 229.5L186.6 226.8zM180.6 281.1L180.1 291.3L173.2 288.2zM138.4 341.6L134.7 351.2L129.1 346zM143.5 316.7L140.6 326.5L134.7 321.8zM174.8 281.9L173.8 292.1L167.1 288.7zM244.1 226.5L240.8 236.2L235 231.2zM231.6 145.7L229.7 155.7L223.3 151.7zM219.2 171.1L216.5 180.9L210.5 176.4zM248.8 201.1L246.4 211.1L240.2 206.7zM243.4 112.5L242.5 122.7L235.7 119.3zM294.7 103.7L294.4 113.9L287.4 110.9zM201.8 207.9L199.7 218L193.4 213.8zM212.1 186.8L209.3 196.6L203.3 192zM234.2 162.9L231.6 172.8L225.5 168.3zM235.3 225.4L232.4 235.2L226.5 230.5zM192.8 313.5L191.1 323.6L184.6 319.7zM303.9 81.1L303.2 91.3L296.3 88zM286.9 185.5L284.5 195.5L278.3 191.1zM185.7 257.1L186 267.3L178.9 264.6zM180.8 242.9L180.3 253.1L173.4 250zM254.8 137.7L252.9 147.8L246.5 143.7zM252.1 105L251 115.2L244.3 111.6zM264.2 88L263.9 98.2L256.9 95.2zM264.9 139.4L262.3 149.3L256.2 144.8zM297.6 89.3L296.6 99.5L289.9 95.9zM282.6 66.2L281.5 76.4L274.8 72.8zM309.9 56.9L309.7 67.1L302.7 64.1zM234.5 201.3L231.9 211.2L225.8 206.7zM275.9 120.7L274.5 130.8L267.9 127.1zM272 30.2L275.4 39.8L267.8 39.5zM262.6 -29.5L269.5 -21.9L262.4 -19.2zM239.1 129.2L237.4 139.3L230.9 135.4zM213.1 179.3L210.1 189L204.2 184.2zM135.9 315.6L133.1 325.5L127.1 320.9zM218.7 200.5L216.3 210.4L210.1 206zM197 257.8L196.3 268.1L189.5 264.8zM233.5 169.3L231.2 179.2L225 174.9zM186 305.7L184.2 315.7L177.8 311.7zM269.6 167.9L267.9 178L261.4 174.1zM256.7 14.7L261.8 23.6L254.2 24.6zM168.2 317L165 326.7L159.2 321.7zM282.7 58L281.6 68.2L274.9 64.7zM242.4 -30.7L248.8 -22.7L241.6 -20.5zM265.3 72.4L264.8 82.6L257.9 79.4zM255.4 7L260.7 15.8L253.2 17zM270 136.9L268.3 147L261.8 143zM218.7 207.9L216.4 217.8L210.2 213.5zM196 234.2L195.7 244.4L188.7 241.4zM256.6 207.5L254.4 217.5L248.1 213.2zM262.6 -16.6L268 -7.9L260.5 -6.6zM269.1 7L274.7 15.6L267.3 17.1zM251.6 217.1L248.6 226.9L242.7 222.1zM181.1 307L178.6 317L172.4 312.5zM172.2 286.9L172.1 297.1L165 294.2zM256.9 169.1L254.5 179L248.3 174.7zM249.4 94.8L249.1 105L242.2 102zM288.9 118.7L288.3 128.9L281.4 125.6zM227.6 223.7L224.9 233.6L218.8 229.1zM279.7 176.6L277.5 186.6L271.2 182.3zM260.7 104.3L259.5 114.4L252.8 110.7zM277.4 -16.7L282.9 -8.1L275.5 -6.7zM249.2 176.6L246.9 186.6L240.6 182.3zM279.4 109.9L279.3 120.2L272.2 117.2zM220 226.7L219.4 236.9L212.5 233.7zM299.4 29.7L301.8 39.7L294.2 38.6zM289 79.8L288.3 90L281.5 86.8zM239 143.7L237.4 153.8L230.9 150zM289.5 46.3L290.6 56.4L283.3 54.4zM174.9 338.1L172.1 348L166.1 343.3zM154.4 317.3L150.8 326.9L145.2 321.8zM187.6 241.1L187.5 251.3L180.5 248.4zM250.5 192.8L247.9 202.7L241.8 198.2zM202.9 218L202.8 228.2L195.7 225.3zM187 225.4L187 235.6L180 232.8zM169.8 302L166.3 311.6L160.6 306.5zM240.2 167.5L238.3 177.5L231.9 173.5zM276.7 135.3L275.3 145.4L268.7 141.7zM234.2 176.3L231.9 186.3L225.7 181.9zM181.1 286.7L180.7 296.9L173.8 293.9zM240.9 206.3L238.9 216.4L232.5 212.2zM249.3 129.4L247.1 139.4L240.8 135.1zM264.8 184L262.5 194L256.3 189.6zM258.7 177.3L256 187.2L249.9 182.6zM154.4 339.5L150.9 349.1L145.2 344.1zM190 314.5L187.3 324.3L181.2 319.8zM240.6 175.2L238.7 185.2L232.3 181.1zM274.9 36.6L277.7 46.4L270.1 45.6zM187.1 270.5L187.2 280.8L180.1 278zM301.5 93.2L301.6 103.4L294.5 100.7zM222.7 186.5L219.4 196.1L213.7 191.2zM286.1 62.3L286.3 72.5L279.2 69.8zM270.6 174.6L268.8 184.6L262.4 180.7zM182 321.5L179.4 331.4L173.3 326.9zM152.6 322.4L149.7 332.2L143.7 327.5zM265.4 176.2L263 186.1L256.9 181.7zM201.6 224.4L201.9 234.6L194.8 232zM225.9 205.9L223.9 215.9L217.5 211.8zM247.7 119.9L245.9 130L239.5 126zM281.5 36.2L284.5 46L276.9 45.3zM276.8 111.3L275.5 121.4L268.9 117.7zM174.3 298.4L171.8 308.4L165.6 303.9zM178.4 208.8L178.7 219L171.6 216.4zM284.8 142.5L283.4 152.6L276.8 148.9zM265.1 93.6L264.8 103.8L257.8 100.8zM210.6 232.3L210.5 242.6L203.5 239.7zM289.6 153.3L286.9 163.2L280.9 158.6zM242.1 159.9L239.9 169.9L233.6 165.6zM188.9 232.6L188.6 242.9L181.6 239.8zM249.3 182.7L247.2 192.7L240.8 188.5zM260.5 110.1L259.5 120.3L252.8 116.8zM265.7 116.7L265.3 126.9L258.4 123.8zM257.2 182.7L255.1 192.8L248.8 188.5zM284.7 103L283.3 113.1L276.7 109.4zM271.5 61.7L271.5 71.9L264.4 69.2zM257.9 198.4L255.6 208.4L249.3 204zM259.5 145.3L256.7 155.1L250.7 150.5zM270.3 188.8L268.8 198.9L262.2 195.1zM240.4 150.4L238.7 160.5L232.2 156.6zM262.2 87.5L260.8 97.7L254.2 93.9zM197.8 293.4L197.2 303.6L190.3 300.4zM144.2 335.8L141.7 345.7L135.6 341.2zM230.4 185.1L227.3 194.9L221.4 190zM301.3 53.4L301.6 63.6L294.4 61zM282.5 47.4L281.7 57.6L274.9 54.3zM270.8 53.4L271.1 63.6L263.9 60.9zM296.5 69.9L296.1 80.1L289.1 77zM210.6 223.6L210.6 233.8L203.6 231zM268.4 109.5L267.4 119.7L260.7 116.2zM296.4 151.5L294.1 161.4L287.8 157.1zM184.6 271.3L183.6 281.5L176.8 278zM226.6 166.3L224.6 176.3L218.2 172.2zM266.7 159.7L264.2 169.6L258.1 165.1zM269.5 125.4L268.2 135.5L261.6 131.9zM275.5 144.9L272.7 154.7L266.6 150.1zM295.4 92.1L295.3 102.3L288.2 99.4zM204.3 182L202.2 192L195.9 187.8zM274 182.6L271.6 192.6L265.4 188.2zM179 308L175.5 317.6L169.8 312.5zM286.6 52.9L286.8 63.2L279.7 60.5zM297.4 131.6L296.8 141.8L290 138.6zM293.7 110.2L292.2 120.3L285.6 116.5zM249.4 142.3L247.5 152.4L241.1 148.3zM288.2 34.4L291.4 44.1L283.9 43.6zM239.2 207.9L235.9 217.6L230.1 212.7zM197.5 223.8L197.1 234.1L190.1 231zM170.4 322L167.2 331.7L161.4 326.7zM202.9 211.1L201.2 221.2L194.7 217.3zM208.6 199.9L205.4 209.6L199.6 204.7zM189.4 291.8L189.2 302.1L182.2 299zM247 184.7L243.7 194.4L238 189.5zM299.5 124.4L298.5 134.6L291.7 131.1zM183.2 312.1L180.7 322L174.5 317.5zM292.1 47.1L291 57.2L284.3 53.7zM146.9 328.6L143.9 338.4L137.9 333.6zM186.6 214.4L187 224.7L179.8 222.1zM257.6 211.6L255.6 221.7L249.2 217.5zM168 327.1L165.5 337L159.4 332.6zM189.7 261.4L189.4 271.6L182.4 268.6zM167.3 284.3L166.9 294.5L159.9 291.4zM265.1 141.9L263.1 152L256.7 147.8zM167.6 334.4L165.2 344.3L159 339.9zM236.5 189.8L234 199.7L227.9 195.3zM192.9 285.6L191.8 295.7L185.1 292.2zM304.6 84L304.2 94.3L297.2 91.2zM264.9 75.7L264.9 85.9L257.8 83.1zM204.7 245.9L204.4 256.2L197.4 253.2zM163.4 329.3L160.1 339L154.3 334zM182 230.7L181.7 240.9L174.7 237.9zM222.7 175.3L219.8 185.1L213.8 180.5zM281.1 180.9L279 190.9L272.7 186.7zM295.4 52.2L295.4 62.5L288.3 59.6zM174 268.3L173.8 278.5L166.8 275.5zM145.7 319.4L143.1 329.3L137 324.7zM264.9 149L263 159.1L256.6 155.1zM200.5 284.9L199.5 295.1L192.8 291.6zM274 91.2L273.6 101.4L266.7 98.3zM163.1 320.9L160 330.6L154.1 325.7z" fill="#800000"/>
</g><g>
<text x="276.3" y="64.4" font-size="21" fill="#000">50 cm/s</text>
<path d="M59.1 45.4L75.1 45.4M61.4 39.7L72.8 51.1M67.1 37.4L67.1 53.4M72.8 39.7L61.4 51.1" stroke="#ff0000" stroke-width="1.1" fill="none"/>
<path d="M96.6 156.8L112.6 156.8M98.9 151.1L110.3 162.5M104.6 148.8L104.6 164.8M110.3 151.1L98.9 162.5" stroke="#ff0000" stroke-width="1.1" fill="none"/>
<path d="M105.3 249.8L121.3 249.8M107.6 244.1L119 255.5M113.3 241.8L113.3 257.8M119 244.1L107.6 255.5" stroke="#ff0000" stroke-width="1.1" fill="none"/>
<path d="M54.3 272L70.3 272M56.6 266.3L68 277.7M62.3 264L62.3 280M68 266.3L56.6 277.7" stroke="#ff0000" stroke-width="1.1" fill="none"/>
</g>
<g shape-rendering="crispEdges">
<rect x="10.7" y="16" width="2" height="25.1" fill="#000087"/>
<rect x="12.5" y="16" width="2" height="25.1" fill="#000097"/>
<rect x="14.2" y="16" width="2" height="25.1" fill="#0000a7"/>
<rect x="16" y="16" width="2" height="25.1" fill="#0000b7"/>
<rect x="17.7" y="16" width="2" height="25.1" fill="#0000c7"/>
<rect x="19.5" y="16" width="2" height="25.1" fill="#0000d7"/>
<rect x="21.2" y="16" width="2" height="25.1" fill="#0000e7"/>
<rect x="23" y="16" width="2" height="25.1" fill="#0000f7"/>
<rect x="24.7" y="16" width="2" height="25.1" fill="#0008ff"/>
<rect x="26.5" y="16" width="2" height="25.1" fill="#0018ff"/>
<rect x="28.2" y="16" width="2" height="25.1" fill="#0028ff"/>
<rect x="30" y="16" width="2" height="25.1" fill="#0038ff"/>
<rect x="31.8" y="16" width="2" height="25.1" fill="#0048ff"/>
<rect x="33.5" y="16" width="2" height="25.1" fill="#0058ff"/>
<rect x="35.3" y="16" width="2" height="25.1" fill="#0068ff"/>
<rect x="37" y="16" width="2" height="25.1" fill="#0078ff"/>
<rect x="38.8" y="16" width="2" height="25.1" fill="#0087ff"/>
<rect x="40.5" y="16" width="2" height="25.1" fill="#0097ff"/>
<rect x="42.3" y="16" width="2" height="25.1" fill="#00a7ff"/>
<rect x="44" y="16" width="2" height="25.1" fill="#00b7ff"/>
<rect x="45.8" y="16" width="2" height="25.1" fill="#00c7ff"/>
<rect x="47.5" y="16" width="2" height="25.1" fill="#00d7ff"/>
<rect x="49.3" y="16" width="2" height="25.1" fill="#00e7ff"/>
<rect x="51.1" y="16" width="2" height="25.1" fill="#00f7ff"/>
<rect x="52.8" y="16" width="2" height="25.1" fill="#08fff7"/>
<rect x="54.6" y="16" width="2" height="25.1" fill="#18ffe7"/>
<rect x="56.3" y="16" width="2" height="25.1" fill="#28ffd7"/>
<rect x="58.1" y="16" width="2" height="25.1" fill="#38ffc7"/>
<rect x="59.8" y="16" width="2" height="25.1" fill="#48ffb7"/>
<rect x="61.6" y="16" width="2" height="25.1" fill="#58ffa7"/>
<rect x="63.3" y="16" width="2" height="25.1" fill="#68ff97"/>
<rect x="65.1" y="16" width="2" height="25.1" fill="#78ff87"/>
<rect x="66.8" y="16" width="2" height="25.1" fill="#87ff78"/>
<rect x="68.6" y="16" width="2" height="25.1" fill="#97ff68"/>
<rect x="70.4" y="16" width="2" height="25.1" fill="#a7ff58"/>
<rect x="72.1" y="16" width="2" height="25.1" fill="#b7ff48"/>
<rect x="73.9" y="16" width="2" height="25.1" fill="#c7ff38"/>
<rect x="75.6" y="16" width="2" height="25.1" fill="#d7ff28"/>
<rect x="77.4" y="16" width="2" height="25.1" fill="#e7ff18"/>
<rect x="79.1" y="16" width="2" height="25.1" fill="#f7ff08"/>
<rect x="80.9" y="16" width="2" height="25.1" fill="#fff700"/>
<rect x="82.6" y="16" width="2" height="25.1" fill="#ffe700"/>
<rect x="84.4" y="16" width="2" height="25.1" fill="#ffd700"/>
<rect x="86.2" y="16" width="2" height="25.1" fill="#ffc700"/>
<rect x="87.9" y="16" width="2" height="25.1" fill="#ffb700"/>
<rect x="89.7" y="16" width="2" height="25.1" fill="#ffa700"/>
<rect x="91.4" y="16" width="2" height="25.1" fill="#ff9700"/>
<rect x="93.2" y="16" width="2" height="25.1" fill="#ff8700"/>
<rect x="94.9" y="16" width="2" height="25.1" fill="#ff7800"/>
<rect x="96.7" y="16" width="2" height="25.1" fill="#ff6800"/>
<rect x="98.4" y="16" width="2" height="25.1" fill="#ff5800"/>
<rect x="100.2" y="16" width="2" height="25.1" fill="#ff4800"/>
<rect x="101.9" y="16" width="2" height="25.1" fill="#ff3800"/>
<rect x="103.7" y="16" width="2" height="25.1" fill="#ff2800"/>
<rect x="105.5" y="16" width="2" height="25.1" fill="#ff1800"/>
<rect x="107.2" y="16" width="2" height="25.1" fill="#ff0800"/>
<rect x="109" y="16" width="2" height="25.1" fill="#f70000"/>
<rect x="110.7" y="16" width="2" height="25.1" fill="#e70000"/>
<rect x="112.5" y="16" width="2" height="25.1" fill="#d70000"/>
<rect x="114.2" y="16" width="2" height="25.1" fill="#c70000"/>
<rect x="116" y="16" width="2" height="25.1" fill="#b70000"/>
<rect x="117.7" y="16" width="2" height="25.1" fill="#a70000"/>
<rect x="119.5" y="16" width="2" height="25.1" fill="#970000"/>
<rect x="121.2" y="16" width="2" height="25.1" fill="#870000"/>
</g>
<rect x="10.7" y="16" width="112.3" height="25.1" fill="none" stroke="#262626" stroke-width="1"/>
<text x="286.5" y="102.1" font-size="20" fill="#000">10 km</text><line x1="307.4" y1="108.2" x2="320.2" y2="108.2" stroke="#000" stroke-width="3.6" stroke-linecap="round"/>
</g>
<g transform="translate(458.4,142.4)">
<g clip-path="url(#pc)">
<path d="M51 126.1L50 117L46 112.5L40 108L35 103.5L36 102L42 106L48 111L52 116L54 126.5L53.6 126.5L60.4 127.5L70.6 131L76.7 134L82.8 136L86 130L88 134L91.1 141L96.2 144.1L96.2 146L101.3 155L108.5 167L113 176L117 190L118.4 200.2L118 210.4L116.3 225.5L113.5 240L110.5 247L104.5 248.5L100.3 252.9L90.2 258L80 261L69.7 266.1L61.5 271.2L53.4 276.3L44.2 282.5L34 291.6L23.8 300.8L13.6 312L4.5 323.2L-1 331L-1 333.6L5.4 325.2L14.6 314L24.8 302.8L35 293.6L45.2 284.5L54.4 278.3L62.5 273.2L70.7 268.1L80.9 263L91.1 260L101.3 254.9L105.3 250.8L114 250.5L114.4 248.6L115.5 241L118.1 225.7L119.6 210.4L120.1 200.2L118.6 190L114.5 175.7L110.4 167.5L106 158L102.3 149.2L99 142L99 142L96.2 136L92 127L88 118.6L86 112L82.9 101L78.8 85.7L75.8 70.4L72.7 57.1L70 50.5L67.6 44.9L66.5 40L64.6 32.6L62.5 25L60.8 17L59.1 12.2L55.7 10.1L51.4 11.4L47.2 12.2L38.7 10.5L31.9 8.8L26.8 5.4L22.6 4.6L19.2 6.3L18.4 13.1L13.3 14.8L9.5 15.3L4.8 15.6L-1 17.4L-1 141L1.3 140L11.5 134L23.7 129.5L36.7 127.5L35 127.5L33 122.5L29 119L23 114.6L24 113L30 117L35 121L37 127.5L40 127L50.2 126L51 126.1ZM72 90L77 99L81.5 108L84 118L84.5 126L77 124L75 118L73.5 110L71 102L67 95L63 88L59 80L56 74L54.5 66L55 60L57 52L62 52L62.5 60L64.5 70L67.5 80L72 90ZM22 130L20 130.6L13 126.5L6 121.5L3.5 119.5L5 118L12 122.5L18 127L22 130ZM68 116L73 121L75 131L72.5 131L71 123L67 118.5L61 114L62 112L68 116ZM94.1 153.3L90 153.3L93.1 161.4L97.2 167.5L101.3 172.6L106.4 175.7L106.4 171.6L101.3 164.5L97.2 157.3L94.1 153.3ZM24.8 239.9L31.9 239.9L38 238.9L44.2 235.9L50.3 230.8L56.4 225.7L60.5 216.5L64.6 210.4L72.7 203.2L74.7 206.3L82.9 205.3L89 199.1L88 196.1L90 185.9L89 169.6L85 157.3L80.9 149.2L72.7 147.1L64.6 149.2L60.5 159.4L58.4 169.6L57.4 189L54.4 193L52.3 179.8L52.3 162.4L55.4 156.3L56.4 149.2L51.3 145.1L42.1 144.1L29.9 145.1L22.8 149.2L12.6 147.1L-1 149.2L-1 233.8L1.3 233.8L3.4 230.8L8.5 235.9L11.5 233.8L17.7 236.9L24.8 239.9ZM19.7 283.5L14.6 281.4L9.5 277.3L5.4 276.3L0.8 281.4L-1 281.4L-1 321L1.3 320.2L5.4 317.1L12.6 307.9L19.7 299.8L24.8 292.6L25.8 286.5L19.7 283.5Z" fill="#80e080" fill-rule="evenodd" stroke="#000" stroke-width="1.1" stroke-linejoin="round"/>
<polygon points="-1,-1 20,-1 19.7,5.1 18.7,14.3 9.5,15.3 -1,17.4" fill="#fff"/>
<polyline points="105.3,250.8 101.3,254.9 91.1,260 80.9,263 70.7,268.1 62.5,273.2 54.4,278.3 45.2,284.5 35,293.6 24.8,302.8 14.6,314 5.4,325.2 -1,333.6" fill="none" stroke="#000" stroke-width="1.6"/>
<path d="M18.5 5.4h0m9.2 2.6h0m-14.7 7h0m3.8-0.2h0m0.9-5h0m2.2 1h0m4.5 3h0m3-4.2h0m2.1-0.6h0m2.4 1.7h0m1.4 0.6h0m4.5 0.6h0m0.2-1.3h0m3.3 0.1h0m5.3 3.6h0m0.7-1.2h0m3.6-0.4h0m3-1h0m0.8-1.4h0m1.5 0.3h0m0.1 3.1h0m0.7-2.4h0m-53.7 6.5h0m8.2 0.5h0m2.4-1h0m3.6 1.3h0m0.2-1h0m3-2.2h0m39.3 4.2h0m-53.7 5.1h0m27.8-0.9h0m26.7 2h0m0.7 0.5h0m-36.7 5.6h0m31.2 0.6h0m4.7-3.1h0m2.1-0.1h0m-59.1 5.8h0m59.1 2.8h0m1.1-1h0m0.4-1.4h0m0.8-0.7h0m0.3 3.1h0m0.8-1.1h0m0.3-0.9h0m-1.1 4.4h0m3.2 4.2h0m-28.8 1.8h0m0.6 0.7h0m1.4-0.6h0m1 4.3h0m0.2-3.4h0m0.9-0.2h0m0.1 1.8h0m1.8 1h0m0.3-1.8h0m2.8 2.6h0m5.3-1h0m0.7-1.9h0m4.9 0.2h0m0.2 2h0m0.2-0.9h0m1.5 1.8h0m1.1-1.4h0m0.9 1.2h0m3.3-4.4h0m-26.2 7.6h0m0.1 2.7h0m3.6-3.9h0m0.6 4.2h0m6.9-3.8h0m0.6 3.4h0m1.2 0.4h0m0-4h0m0.5 1.6h0m1.7 0h0m1.1 1.9h0m0.5-0.1h0m0.1-4.9h0m0.2 1.4h0m1.5-1.8h0m2.1 0.8h0m1.3 3.2h0m1.3-0.3h0m5.2 1h0m3.7-4.4h0m-57.8 9.2h0m24.5 1.1h0m1.5 0.2h0m0.3-1.6h0m2.4 2.8h0m0.3-5.4h0m1.2-0.4h0m0.9 3.7h0m2.5 0.7h0m0.1-3.9h0m0.5 0.2h0m0.9 4.1h0m1.4-1.1h0m0.6-3.3h0m0.1 3h0m0.2 0.3h0m0.3-0.1h0m0.6 1.3h0m1.2-2.5h0m2.3 2.6h0m3.2-1h0m2.1 0.5h0m3.1-1.7h0m0.3 1.1h0m2.3 0.3h0m1.9-1h0m3.1-0.8h0m0.2 0.3h0m-32.6 8.3h0m0.3-1.3h0m1.9-1.1h0m0.3-0.8h0m2.6 0.2h0m5.6 2.8h0m0.1-3.7h0m1 0h0m0.5 2h0m0-3h0m1.4 1.2h0m3.4 2.7h0m0.9 0.5h0m3.3 0.3h0m1.2-4h0m0.8 0.5h0m0 2.3h0m0.6 2.1h0m1.8-5.8h0m2.8 5h0m1.4-1.8h0m1.4-3.1h0m1.8 1.1h0m0 2.8h0m-63.1 6.1h0m30.1 1h0m0.7-3.1h0m4.2 3.9h0m0-2h0m1.1-3h0m0.6-0.9h0m0.4 1.8h0m0.4 0.9h0m1.1 2.1h0m1.5-4.9h0m0.5 0h0m0.8 4.8h0m1-4.8h0m0.1 0.9h0m2.2 1.7h0m0.7 0.6h0m1.7 0.1h0m2.1 0.1h0m0.6 1.8h0m1.8 0.4h0m2.3-2h0m0.8-0.2h0m0.5-2.4h0m0.8 0.2h0m0.2 0.6h0m0.1 3.6h0m1.9-2.4h0m2.8-1.5h0m0.5-1.5h0m1.2 5.9h0m1.1-0.5h0m0.2-0.4h0m0.2 0.5h0m1-1.9h0m-35.7 3.7h0m5.5 0.4h0m0.2 1.2h0m0.2 2.7h0m1.1-3.7h0m4.1 0.7h0m4-0.8h0m0.5-1.4h0m1.3 3.3h0m0.8 0.2h0m0.1-3.1h0m1.7-0.6h0m1.7 2h0m5.3-1.3h0m0.5-0.2h0m1.2 0.4h0m0 2.6h0m0.3 0.2h0m2.8 1.7h0m1.2-4.3h0m0.7 4.6h0m0.6-5.1h0m0.2 4.5h0m0.2-3.4h0m0.9-1.9h0m0.6 2.4h0m-33.4 6.9h0m0.2 0.5h0m2.3 1.9h0m0.7-1.6h0m1.5-3.2h0m0.8-0.6h0m4.6 3.3h0m2-1.9h0m1-0.2h0m1.7 3.6h0m0.5-1.3h0m0.2 0.3h0m1.2 0.6h0m1.3-4h0m2 2h0m2.7 0.8h0m0.4 1.6h0m0.1-4.6h0m2.4 3.4h0m1.8-1.8h0m0.2 1.4h0m0.2-3.3h0m2.7 5.3h0m1.3-4.2h0m0.2 4.5h0m0.6-3.8h0m0.5-0.2h0m1.8 0.1h0m1.6 3.6h0m-36.8 3.2h0m0.7-1.9h0m1.2 4.2h0m1-4.3h0m0 1.7h0m1.3-1.4h0m1.4 4.3h0m1.6-0.8h0m4.8-3h0m1.6-0.2h0m0.5 3h0m1.7-0.9h0m0.5-3.3h0m1.8 5.7h0m1.5-3.5h0m0.5-1.3h0m0 3.7h0m0.3-2.8h0m0.1 3.2h0m0.1-4.1h0m0 1.7h0m0.3 2.7h0m3.7 0.2h0m6.2-2.2h0m0-2.4h0m1.4 4.7h0m0.5-5h0m1.6 4.9h0m0.4-3h0m2 0.1h0m1.3 1.3h0m-41.8 4.4h0m1.3-1.7h0m10.3-0.2h0m0.4 0.6h0m0.5 3.9h0m1.9-1.1h0m0.8-3.3h0m0.7-0.4h0m2.2 1.4h0m1.3 2.7h0m1.6-2.6h0m1.8-1.7h0m3.3 0.9h0m0.3 1.7h0m0.8 0.5h0m0.6 2.6h0m0.1-4h0m1 2.9h0m0.8-1.8h0m0.5-2.4h0m3.3 1.9h0m1-0.1h0m0 1.6h0m3.7-3.3h0m1.6 3.9h0m0.1-2.5h0m0.9 0.8h0m0.4 1.7h0m0.1-2.7h0m1 2.6h0m0.7 0.7h0m-80.1 4.3h0m6.7-2.5h0m16.5 4.2h0m7.5-1.8h0m2.9 0.1h0m0.5-1.1h0m2.1-2h0m1.3 2.9h0m1.9 0.2h0m1.8 0.4h0m0.8-0.7h0m1.5-0.1h0m0.2 1.1h0m5.1-2.5h0m5.1 1.9h0m0.4 2.5h0m3.1-5.7h0m0.2 0.9h0m0.8-0.3h0m2.8 0.3h0m0.5 2.4h0m0.2 0.8h0m0.6 0.7h0m1-4.3h0m1.2 0.4h0m1.5 0.5h0m1.8 1.6h0m0.9-1.4h0m0.7 2.8h0m0.5-3.2h0m0.5 4.3h0m1.4-0.7h0m0.1-3.5h0m3.1-1.2h0m0.5 2.8h0m0.4 1h0m0.9-0.1h0m1.8-1.1h0m0.5 2.6h0m0.2-1.2h0m0.4-2.4h0m0.6 3h0m1.7-0.5h0m-82.3 1.7h0m8.8 4.4h0m4-2.8h0m0.2 2.8h0m0.9 1h0m0.5-2.7h0m1.3 0.7h0m2.4 2.3h0m5.4-2.8h0m2.8-1.3h0m3.8 2.3h0m5.4-2.1h0m3.8-1.4h0m0 2h0m1.3 2.6h0m3.6-2h0m0.1 2.6h0m4.6-1.6h0m3.4 0h0m3.1-2h0m3.4 1.6h0m0.4 0.1h0m1.3-3h0m0 4.2h0m0.6-3.3h0m1.1 1.8h0m1.1-0.8h0m1.1-0.4h0m0.6-0.3h0m2.3-1.8h0m1 5.5h0m0-3.2h0m0.6 1.9h0m1-3.7h0m0.4 1.3h0m0.3-1h0m0.1 3.5h0m1.7 1.4h0m0.8-5.5h0m2 3.2h0m1.9 0.6h0m1.8 0.7h0m2.9-3h0m1.2 0.9h0m0.3-1.1h0m-80.1 9.6h0m6-3.5h0m6.4 2.4h0m6-2.3h0m3.8 1.5h0m2.2 0.2h0m0.7 1.1h0m0.2-0.9h0m3.7 1.5h0m10.2-2.9h0m0.1-2.3h0m0.3 1.9h0m2.7 1.5h0m0.7-0.6h0m3-0.4h0m0.5 0.8h0m2.8-2.7h0m3.8 2h0m0 0.4h0m1.6-0.4h0m1.4 1.1h0m3 2.1h0m0.4-0.4h0m0.6-3.4h0m1.6-1.6h0m1.4 2.9h0m2.2-2.6h0m0.5-0.5h0m0.1 3.4h0m0.1-2.3h0m3.5 2.1h0m0.3-0.6h0m0.3-0.2h0m0.3 0.9h0m1.6 1.4h0m0.4-0.8h0m1.9 1.7h0m1-5.8h0m0.2 5.5h0m1 0.4h0m2.4-1h0m0-3.9h0m2.8 0.1h0m-84.6 7.7h0m6.7-1.1h0m0.7 0h0m2.3 0.4h0m2.2 1h0m0.2 2.4h0m2.6-0.7h0m7.1 0.8h0m3.4-5.2h0m1.5 0.3h0m0.8 0.9h0m1.9 3.3h0m0.7-3.8h0m7.2 3.1h0m3.9-2.6h0m1.7 1.9h0m0.5-3.1h0m4.9 1.5h0m0.9-0.7h0m4.9-0.7h0m4.5 1.8h0m4.7 1.6h0m1.2-0.1h0m0.1-3.2h0m1.9 2.6h0m1.9 1.9h0m0.6-3.7h0m6.1 0.6h0m3.6-0.6h0m2.9 0.3h0m2.5 0h0m1.3-0.9h0m0.3 0.6h0m-86.1 6.2h0m2.4 1.7h0m4.8-1.6h0m2.5 3.1h0m1.1-2.6h0m0.9-1.6h0m0.3 4.9h0m0.7-0.8h0m3.8-1.3h0m2.9 1.5h0m2.6-2.6h0m4.8 0.5h0m1.3 1.2h0m2.1-0.8h0m1.4-1.5h0m0.6 2.7h0m0-3h0m0.9 4.3h0m7.1-2h0m2.5-2.1h0m3.8 1.6h0m0.9-1.8h0m0.4 4.6h0m0.5-2.5h0m0.5-3.2h0m11 2.6h0m0-0.5h0m0 1.3h0m0.2-0.1h0m1.2 0h0m3.3 1.5h0m4.8-3h0m2.9 3.7h0m0.2-0.5h0m0.6-3.5h0m2 0.2h0m1.2 3h0m0-1.6h0m0.4-1.9h0m6.1 1.4h0m5.6 0.3h0m-84.5 4.4h0m4 2h0m0.5-2.2h0m5.1 3.5h0m1.5-3h0m0.7-1.1h0m25-0.7h0m0.9 0.5h0m22 5.4h0m1.9-3.2h0m6.5 0.1h0m4.4 1.5h0m0.6 0.8h0m3.4-2.6h0m4 2.6h0m1.1-2h0m0-0.5h0m0.7-0.8h0m0.7 2.7h0m1.5-1.7h0m2-1.1h0m2.2-0.3h0m0.1 2.3h0m0.7-0.4h0m3.9 1.9h0m-9.3 1h0m0.8 0.5h0m0.7 2.1h0m-90.4 4.4h0m15.9 3.8h0m13.1 0.3h0m8.2-1.6h0m0.9-0.9h0m1.1 1.9h0m0.2-0.5h0m3.7-1.4h0m1.6 0.8h0m3.1-0.7h0m0.8 0.5h0m0.3 0.6h0m15.3 1.1h0m9.7-0.3h0m22.6 0.3h0m0.3 0.2h0m0.7-5.1h0m1.4 2.9h0m0-1.1h0m0.2 3h0m0.1-2.3h0m-96.5 6.4h0m2.3-0.8h0m3.5-0.6h0m2.1 0h0m3.7-0.7h0m2.7 0.8h0m0 0.1h0m17.2-1.3h0m7.7 3.9h0m4.4-1.9h0m0.2 2.1h0m0.1-3.8h0m0 2.5h0m1.3-2.5h0m1.2-0.9h0m0 5.3h0m2.3 0.2h0m1.9-5.6h0m0.9 5.3h0m0.3-3.6h0m0.6 0.4h0m0.6 0.8h0m10.5-0.4h0m2.8 2.4h0m3.3-2.8h0m1.6 1.8h0m6.2-1.5h0m1.7 2h0m17.2-2.7h0m1.2-1.7h0m2.9 4.7h0m0.9-1.3h0m-94.8 6.7h0m0.3-3.2h0m15.9 1.1h0m17.8 1.1h0m3.9-0.6h0m0.5-2.3h0m3.4 1.1h0m1.3 4.7h0m1.6-4.2h0m0.7-1.4h0m0 0.8h0m1.6 0.7h0m6.7-1h0m1.3 4.2h0m0.8-3.2h0m1.6 0.8h0m2.3 3.2h0m1.7-2.6h0m3.9-1.3h0m4.7-0.1h0m2.6 0.4h0m1.8 3.7h0m6.5-0.7h0m1.7-1.8h0m12.8-2.5h0m0.9 3.7h0m-105.4 7.2h0m40.4-0.8h0m0.8-0.3h0m1.1-1.3h0m0-0.9h0m1.5-2.2h0m0.7 1.9h0m3.6 0.7h0m1.3-1.9h0m0.3 0.4h0m1.2 0h0m0.5 3.7h0m0.7-1.4h0m8.4 1h0m1.1-4.5h0m0.1 2.4h0m0.3-1.1h0m0.4 0.5h0m1.7-1.9h0m0.4 4.8h0m7.1-2.9h0m0.9 0.1h0m1.2-0.9h0m5 1.7h0m0.1 0.2h0m3.1-0.9h0m3.7 0.4h0m1.2 1.7h0m9.4 1h0m0.8-1.3h0m3.9 1h0m2.7-4.9h0m0.7 0.1h0m1.3 1.2h0m-103.2 7.5h0m26.7 0.8h0m13.5-1.4h0m0-0.2h0m1 2.9h0m0.9-2.4h0m1.3 2.3h0m0.2-4.3h0m1.3 1.8h0m0.3 2.2h0m0.4-2.3h0m0 0.6h0m0.4-0.8h0m0.6 3.8h0m0.3-3.7h0m2.6 2.5h0m0.1 1h0m7.2-1.7h0m0.7-0.6h0m0.9 0.6h0m0.7-2.1h0m0.7 2.7h0m1.2 0.4h0m0.8-3.8h0m2.5 2.3h0m0.6-1.9h0m6.1-1.3h0m0.9-0.4h0m2.9 1.4h0m3.2 0.9h0m3.8-1.1h0m1.3 1.7h0m1.5-0.2h0m5.2-0.1h0m2.2-1.2h0m0.1-0.7h0m4.5 2.4h0m0.1 1.5h0m0-0.7h0m1.8-3.4h0m1.3 1.8h0m4.4 3h0m0.9-4.9h0m2.7 4.8h0m0.2 0h0m1.7-4.9h0m4.9 0.5h0m-115.9 8.6h0m0.1-3.1h0m5.9 1.2h0m1.4-1.3h0m1.8 3.1h0m14.7-2.7h0m18 5h0m0.2-5.4h0m0.8 1.5h0m0.2 1.8h0m1.8 2.1h0m0.3-5.1h0m0.1 2.9h0m4.7-1.3h0m0.4 0.1h0m0.9-1.4h0m8.1 1.7h0m0.8-1.8h0m1.6 0.7h0m1.7 1.7h0m0.6 0.4h0m2.8 0.3h0m2.1 0.5h0m1-0.1h0m1.9 1h0m2.6-0.9h0m0.8-3.6h0m1.5 2.5h0m1.9 2.6h0m1.7-1.8h0m0.1-0.6h0m1 2.1h0m0.4-5.3h0m2 0.5h0m0.4 2.5h0m1.2-2.3h0m14.9 0.4h0m4 1.7h0m0.8 1.9h0m0.6-2.4h0m6.5 0.5h0m-78.7 7h0m8.2 0.5h0m0.2-4.3h0m1.2 5.2h0m0.8-1.2h0m3.2-3.3h0m0.3 4.6h0m1.6-5.4h0m0.2 1.4h0m0.3-0.1h0m7.5 3.1h0m0.9 0.7h0m0.2 0.6h0m0-1.2h0m1.4-2.1h0m5.6 2h0m0.8-0.3h0m0.4-2.3h0m1 1.6h0m1-2.3h0m0.8 1.9h0m2.6-2.9h0m0.9 2.9h0m1.1-1.7h0m2.1 4.6h0m3.3-3.3h0m2.1-2.2h0m5.1 2.9h0m0.5 2.5h0m1.6-0.3h0m0.1 0.2h0m12.8-3.6h0m12.1 0.8h0m0.2-0.4h0m0.2 1.3h0m0.2-0.3h0m0.5 0.5h0m-114.6 6.5h0m4.9-2.4h0m24.6-1.8h0m12.8 0.5h0m4.5 3.8h0m2.9-0.9h0m0.7-2h0m0.2 3.6h0m5.4-0.9h0m2.4-2.1h0m0.6-1.6h0m0.3 1h0m4-1.4h0m1.8 5.4h0m1.6-5h0m7.7 0.5h0m1.8-0.7h0m0.9 3.5h0m0.3-2.5h0m0 3.6h0m1.6 0.7h0m0.9-2h0m0.2-3.8h0m0.4 3.4h0m3.2 1h0m0.7-0.3h0m0.5 1.1h0m0.8-1.7h0m2.3 0.1h0m0 1.4h0m0.4-1.7h0m1.3-1.8h0m24.8 1.7h0m0.2-2.8h0m-69.6 10.7h0m1.8-2h0m2.1 1.1h0m1.8 1.5h0m0.1-1.5h0m0.2-3.6h0m1.7 1h0m0.8 4h0m0.9-1.3h0m0.9-1.8h0m2.6 3.3h0m0-1.5h0m1.6-0.6h0m8.6 1h0m1.6-3.9h0m1.5 2h0m9.2 0h0m1.2 0.2h0m3.2 1.8h0m2.6-3.7h0m27.4 0.3h0m0.2 0.4h0m2 2.8h0m1.1-4.4h0m-75.4 9.7h0m3.1-2.3h0m4.6 0.4h0m2.4 1h0m2.8 2.2h0m3.2-5.2h0m3.7 4.8h0m0.3 0.2h0m1.3-4.8h0m1.2 4.4h0m0.2-1.8h0m1.1-2.6h0m0.2 1.5h0m0.4 2.6h0m0.1-0.8h0m0.6 1.7h0m0.4-2.6h0m0.3 0.6h0m0.6-2.6h0m2.2 3.7h0m1 0h0m5.5 0.8h0m1.1-0.1h0m0.6 0h0m1.4-4.2h0m0.8 2.3h0m1.8-2.5h0m0.2 3.3h0m0.2-2.3h0m0.3 3h0m34.3 0.5h0m1.5 0.6h0m-116.9 1.3h0m36.5 4.5h0m2.5-4.2h0m3 3.7h0m3.5-2.3h0m0.3-2.1h0m3.9 3.9h0m1.2-1.1h0m1.3 2h0m9.5-1.8h0m1 1.6h0m1.5-4.6h0m0.4 1.4h0m2.6-0.5h0m2.3 0.8h0m4.7-1.6h0m0.1 3.3h0m0-0.6h0m0.2 0.7h0m3.2-0.7h0m1.6-2.9h0m0.4 2.2h0m0.1-0.9h0m27.6-0.1h0m5.5-1.1h0m1.8 0.5h0m0.4 3.9h0m1-3.1h0m-116.4 6.6h0m0.4-0.5h0m3.8 1.2h0m2.2-1.6h0m3 3.5h0m6.6-0.8h0m19.7-1.2h0m4.2 0.8h0m0.2 1.6h0m7.6-1.8h0m5.8-1.3h0m1.4-2h0m1.3 2.1h0m1 3.4h0m1.2-2.9h0m0.4-0.1h0m3-1.7h0m32.7 0.4h0m-93.1 7h0m33.5-2.1h0m2-0.3h0m1.2 3.5h0m1.2-1.5h0m3.2 1.9h0m0.9 0.9h0m0.2-5.1h0m1 4.2h0m5.4 0.2h0m0.7-2.5h0m0 0.3h0m1 2.5h0m3.1-2.4h0m0.8 0.3h0m0.6-1.6h0m0.8 0.4h0m32 4.1h0m18.9 0.3h0m6.3-0.6h0m0.4-1.8h0m0.5 1.5h0m-111.3 5.4h0m31.8-1.6h0m3.5 3h0m4-0.7h0m1.8-2.2h0m1.9 1.2h0m1.2-3.3h0m0.2 2.8h0m2.6-0.6h0m0.3 1.5h0m1.3-3.3h0m0.2 1.9h0m0.1 0.8h0m44.6-3.4h0m1.3 2.3h0m1.5 0.6h0m13.4-1.2h0m0.4 2.1h0m0.8-3.7h0m-116.7 10.3h0m3.8-2.4h0m7.7-0.4h0m1.3 3.3h0m16.3-1.5h0m4.3 0.8h0m2.8-0.2h0m1-0.3h0m0.7-3.8h0m1 2.3h0m2 0.5h0m3.7-2.6h0m0.8 2.8h0m2.4 2.3h0m0.2 0.3h0m1-2h0m1.1-3.1h0m2.1 0.3h0m0.6 0.5h0m3.9 1.8h0m33.4-0.5h0m23.4 1.7h0m0.5-1.9h0m0.7 0.1h0m-116.3 4.7h0m6.5 1.5h0m0.1 0h0m2.8-0.1h0m5.1-1.7h0m0.2 2.3h0m0.5 1.3h0m1.6 0.9h0m0.1-0.1h0m0.6-5.6h0m3.6 5.6h0m0.5-1h0m0.7 0.9h0m10.6-4.6h0m0.4 1.8h0m0.9 0.8h0m0.3-1.2h0m1.6 3h0m1.2-4.1h0m1.2 2.4h0m0.4-2.1h0m0.9 3.5h0m3.8-0.2h0m1.7-4.6h0m1.1 1.3h0m0 0.4h0m67.4 2.4h0m0.3 0.9h0m0.1-0.8h0m0.9-0.6h0m-96.7 2.3h0m2.4 2.5h0m1.2-1.2h0m5.4 0.7h0m1 0.3h0m0 0.1h0m3.8-0.3h0m0.6 0.3h0m1.2-1.2h0m1.3 0.7h0m4.2-0.8h0m42.1 4.7h0m31.2-0.3h0m0.3-2.5h0m0.8 1.4h0m3.3-2.8h0m-45.2 5.5h0m23.6 0.4h0m4.9 3.5h0m3.5-4.4h0m2.3 4.4h0m4.2-1.1h0m0 0.9h0m2.6-3.7h0m0.4 4.8h0m-44.5 2h0m31 1.7h0m1.7-1.1h0m0.7 1h0m0.4-2.6h0m1.5 0.8h0m0.4-0.9h0m-43.5 6.2h0m25.1 3.3h0m4.2 0.7h0m0.1-1.7h0m3.2-1.6h0m-51 6.2h0m2.2 3.2h0m23.8 0.5h0m4.5-0.5h0m4.5-2.2h0m0.1-0.8h0m4.8 3.4h0m4.2-5.5h0m-27.6 11.1h0m1.1-1.2h0m0.7-0.4h0m3.1 0.6h0m-61.4 7.7h0m1.9-0.6h0m2 0h0m0.4 0.2h0m2.8-0.1h0m42.5 0.5h0m1.9-2.4h0m1.9-1.3h0m1.4-2h0m-54.4 8.6h0m1 3.2h0m0.1-2h0m0.3-0.5h0m2.3-2.6h0m5.7 0.6h0m0.5 2.4h0m1.9 0.6h0m4.7-2h0m16.4 3.2h0m3.3-0.7h0m2.7 0h0m3.5-1.3h0m0.6-0.9h0m0.8-0.3h0m1.8-1.8h0m0.3 0.9h0m-49.3 8.6h0m5.6 1.6h0m6.2-4.5h0m3.4 2.1h0m4-0.4h0m0.9-2.6h0m0.5 3.6h0m0-4h0m1.5 0.4h0m1.5 4.9h0m0.4-3h0m12.5 3.6h0m1.2-0.6h0m1.4-4.6h0m0.7 1.1h0m1.2 1.1h0m-34.4 8.4h0m5.5-2.5h0m2.9 1.9h0m3.7 1.2h0m2.4-1.1h0m0.3-1.6h0m25.3-0.8h0m-44.5 4.5h0m3.2 2h0m3.2 1.3h0m1.6-1.6h0m0.2 2.5h0m2.3 0.5h0m1.4-2.1h0m0.2-2.7h0m0.9 0.5h0m5.4-0.2h0m4.4 2.5h0m2.3 0.2h0m4.4-3.2h0m-31.6 8.6h0m0.7 1.3h0m6.5 1.3h0m1.4-1.2h0m2.3 0.2h0m0-0.9h0m3.4-3.1h0m1.5-0.6h0m4 4.4h0m2.6-1.8h0m3-2.3h0m-19.9 5.7h0m0.4 1.8h0m0.3 3.9h0m1.3-2.3h0m0.6 2.3h0m0.5-2.9h0m0.7-2.1h0m0.7 0.2h0m6.2 3.1h0m0.7-3.2h0m0.1 0h0m2.1 1.2h0m-19.5 6.4h0m1-0.2h0m2.1-1.6h0m6.2 2.8h0m1.7-0.8h0m-5.8 6.1h0m0.5 0.7h0m0.2 0.5h0m-4 2.1h0" stroke="#000" stroke-width="2.4" stroke-linecap="round" fill="none"/>
<g stroke="#c0c0c0" stroke-width="0.8" stroke-dasharray="3,5" fill="none">
<line x1="0" y1="72.3" x2="348" y2="72.3"/>
<line x1="0" y1="143.8" x2="348" y2="143.8"/>
<line x1="0" y1="216" x2="348" y2="216"/>
<line x1="0" y1="287" x2="348" y2="287"/>
<line x1="0" y1="357.2" x2="348" y2="357.2"/>
<line x1="58" y1="0" x2="58" y2="427.6"/>
<line x1="116" y1="0" x2="116" y2="427.6"/>
<line x1="174" y1="0" x2="174" y2="427.6"/>
<line x1="232" y1="0" x2="232" y2="427.6"/>
<line x1="290" y1="0" x2="290" y2="427.6"/>
</g>
<g stroke="#555" stroke-width="0.8">
<line x1="0" y1="72.3" x2="4" y2="72.3"/><line x1="344" y1="72.3" x2="348" y2="72.3"/>
<line x1="0" y1="143.8" x2="4" y2="143.8"/><line x1="344" y1="143.8" x2="348" y2="143.8"/>
<line x1="0" y1="216" x2="4" y2="216"/><line x1="344" y1="216" x2="348" y2="216"/>
<line x1="0" y1="287" x2="4" y2="287"/><line x1="344" y1="287" x2="348" y2="287"/>
<line x1="0" y1="357.2" x2="4" y2="357.2"/><line x1="344" y1="357.2" x2="348" y2="357.2"/>
<line x1="58" y1="0" x2="58" y2="4"/><line x1="58" y1="423.6" x2="58" y2="427.6"/>
<line x1="116" y1="0" x2="116" y2="4"/><line x1="116" y1="423.6" x2="116" y2="427.6"/>
<line x1="174" y1="0" x2="174" y2="4"/><line x1="174" y1="423.6" x2="174" y2="427.6"/>
<line x1="232" y1="0" x2="232" y2="4"/><line x1="232" y1="423.6" x2="232" y2="427.6"/>
<line x1="290" y1="0" x2="290" y2="4"/><line x1="290" y1="423.6" x2="290" y2="427.6"/>
</g>
<g shape-rendering="crispEdges"><path fill="#00b4ff" d="M67.7 -1.1h7.9v8.1h-7.9zM281.6 53.5h7.9v8.1h-7.9zM281.6 61.3h7.9v8.1h-7.9zM281.6 100h7.9v8h-7.9zM243.4 169.7h7.9v8.1h-7.9zM258.7 169.7h7.9v8.1h-7.9zM243.4 177.5h7.9v8.1h-7.9zM251.1 200.9h7.9v8.1h-7.9zM243.4 208.7h7.9v8.1h-7.9zM258.7 231.8h7.9v8h-7.9zM258.7 239.4h7.9v8h-7.9zM251.1 247.1h7.9v8h-7.9zM235.8 262.4h7.9v8h-7.9zM235.8 270.1h7.9v8h-7.9zM144.1 277.8h7.9v8h-7.9zM228.2 277.8h7.9v8h-7.9zM190 285.4h7.9v7.9h-7.9zM228.2 293h7.9v7.9h-7.9zM197.6 300.6h7.9v7.9h-7.9zM98.3 338.5h7.9v7.9h-7.9zM159.4 338.5h7.9v7.9h-7.9zM136.5 346h7.9v7.9h-7.9zM144.1 353.6h7.9v7.9h-7.9zM105.9 361.2h7.9v7.9h-7.9zM136.5 361.2h7.9v7.9h-7.9zM121.2 368.8h7.9v7.9h-7.9z"/><path fill="#0053ff" d="M75.4 -1.1h7.9v8.1h-7.9zM212.9 -1.1h7.9v8.1h-7.9zM251.1 -1.1h7.9v8.1h-7.9zM266.4 -1.1h7.9v8.1h-7.9zM75.4 6.7h23.2v8.1h-23.2zM243.4 6.7h30.9v8.1h-30.9zM258.7 14.5h7.9v8.1h-7.9zM274 14.5h7.9v8.1h-7.9zM212.9 22.3h7.9v8.1h-7.9zM228.2 22.3h15.6v8.1h-15.6zM251.1 22.3h15.6v8.1h-15.6zM274 22.3h7.9v8.1h-7.9zM228.2 30.1h7.9v8.1h-7.9zM251.1 30.1h15.6v8.1h-15.6zM205.2 37.9h23.2v8.1h-23.2zM243.4 37.9h7.9v8.1h-7.9zM258.7 37.9h7.9v8.1h-7.9zM274 37.9h7.9v8.1h-7.9zM205.2 45.7h7.9v8.1h-7.9zM228.2 45.7h7.9v8.1h-7.9zM243.4 45.7h7.9v8.1h-7.9zM266.4 45.7h7.9v8.1h-7.9zM220.5 53.5h23.2v8.1h-23.2zM258.7 53.5h7.9v8.1h-7.9zM258.7 61.3h15.6v8.1h-15.6zM83 69.1h7.9v8.1h-7.9zM266.4 69.1h7.9v8.1h-7.9zM266.4 76.9h7.9v8h-7.9zM220.5 84.6h30.9v8h-30.9zM258.7 84.6h15.6v8h-15.6zM251.1 92.3h7.9v8h-7.9zM220.5 100h15.6v8h-15.6zM258.7 100h15.6v8h-15.6zM105.9 107.7h7.9v8h-7.9zM220.5 107.7h7.9v8h-7.9zM235.8 107.7h7.9v8h-7.9zM274 107.7h7.9v8h-7.9zM228.2 115.4h7.9v8h-7.9zM251.1 115.4h23.2v8h-23.2zM220.5 123.2h15.6v8h-15.6zM243.4 123.2h7.9v8h-7.9zM220.5 130.9h15.6v8h-15.6zM243.4 130.9h7.9v8h-7.9zM258.7 130.9h7.9v8h-7.9zM228.2 138.6h7.9v8h-7.9zM266.4 138.6h7.9v8h-7.9zM243.4 146.3h23.2v8.1h-23.2zM228.2 154.1h7.9v8.1h-7.9zM243.4 154.1h7.9v8.1h-7.9zM235.8 161.9h7.9v8.1h-7.9zM220.5 177.5h15.6v8.1h-15.6zM228.2 185.3h7.9v8.1h-7.9zM228.2 200.9h7.9v8.1h-7.9zM228.2 208.7h7.9v8.1h-7.9zM243.4 216.5h7.9v8h-7.9zM243.4 224.1h7.9v8h-7.9zM228.2 247.1h7.9v8h-7.9zM228.2 254.8h7.9v8h-7.9zM128.8 270.1h7.9v8h-7.9zM151.8 270.1h7.9v8h-7.9zM197.6 270.1h7.9v8h-7.9zM151.8 277.8h7.9v8h-7.9zM205.2 277.8h23.2v8h-23.2zM98.3 285.4h7.9v7.9h-7.9zM144.1 285.4h38.5v7.9h-38.5zM205.2 285.4h15.6v7.9h-15.6zM228.2 285.4h7.9v7.9h-7.9zM174.7 300.6h7.9v7.9h-7.9zM151.8 308.2h15.6v7.9h-15.6zM151.8 315.7h15.6v7.9h-15.6zM151.8 323.3h7.9v7.9h-7.9zM105.9 330.9h7.9v7.9h-7.9zM128.8 330.9h7.9v7.9h-7.9zM144.1 330.9h7.9v7.9h-7.9zM105.9 338.5h7.9v7.9h-7.9zM136.5 338.5h7.9v7.9h-7.9zM113.6 353.6h7.9v7.9h-7.9z"/><path fill="#0043ff" d="M83 -1.1h7.9v8.1h-7.9zM136.5 -1.1h7.9v8.1h-7.9zM151.8 -1.1h7.9v8.1h-7.9zM174.7 -1.1h7.9v8.1h-7.9zM98.3 6.7h7.9v8.1h-7.9zM205.2 6.7h15.6v8.1h-15.6zM228.2 6.7h7.9v8.1h-7.9zM98.3 22.3h7.9v8.1h-7.9zM128.8 22.3h7.9v8.1h-7.9zM174.7 22.3h7.9v8.1h-7.9zM243.4 22.3h7.9v8.1h-7.9zM67.7 30.1h7.9v8.1h-7.9zM205.2 30.1h7.9v8.1h-7.9zM235.8 37.9h7.9v8.1h-7.9zM251.1 37.9h7.9v8.1h-7.9zM83 45.7h7.9v8.1h-7.9zM251.1 45.7h7.9v8.1h-7.9zM266.4 53.5h7.9v8.1h-7.9zM205.2 61.3h7.9v8.1h-7.9zM251.1 76.9h7.9v8h-7.9zM251.1 84.6h7.9v8h-7.9zM212.9 92.3h7.9v8h-7.9zM228.2 92.3h23.2v8h-23.2zM258.7 107.7h15.6v8h-15.6zM251.1 123.2h7.9v8h-7.9zM266.4 123.2h7.9v8h-7.9zM251.1 130.9h7.9v8h-7.9zM220.5 138.6h7.9v8h-7.9zM258.7 138.6h7.9v8h-7.9zM228.2 146.3h7.9v8.1h-7.9zM251.1 154.1h7.9v8.1h-7.9zM228.2 161.9h7.9v8.1h-7.9zM228.2 169.7h7.9v8.1h-7.9zM220.5 216.5h7.9v8h-7.9zM251.1 216.5h7.9v8h-7.9zM228.2 231.8h7.9v8h-7.9zM197.6 254.8h7.9v8h-7.9zM197.6 262.4h7.9v8h-7.9zM220.5 262.4h7.9v8h-7.9zM182.3 270.1h7.9v8h-7.9zM174.7 277.8h23.2v8h-23.2zM205.2 293h7.9v7.9h-7.9zM220.5 300.6h7.9v7.9h-7.9zM144.1 315.7h7.9v7.9h-7.9zM113.6 346h7.9v7.9h-7.9z"/><path fill="#0022ff" d="M90.6 -1.1h7.9v8.1h-7.9zM144.1 6.7h7.9v8.1h-7.9zM167 6.7h7.9v8.1h-7.9zM75.4 14.5h7.9v8.1h-7.9zM136.5 14.5h7.9v8.1h-7.9zM167 14.5h7.9v8.1h-7.9zM182.3 14.5h7.9v8.1h-7.9zM105.9 22.3h7.9v8.1h-7.9zM167 22.3h7.9v8.1h-7.9zM197.6 30.1h7.9v8.1h-7.9zM90.6 37.9h7.9v8.1h-7.9zM98.3 45.7h7.9v8.1h-7.9zM159.4 45.7h7.9v8.1h-7.9zM243.4 61.3h7.9v8.1h-7.9zM251.1 107.7h7.9v8h-7.9zM105.9 123.2h7.9v8h-7.9zM235.8 123.2h7.9v8h-7.9zM235.8 193.1h7.9v8.1h-7.9zM220.5 208.7h7.9v8.1h-7.9zM212.9 224.1h7.9v8h-7.9zM235.8 224.1h7.9v8h-7.9zM205.2 247.1h7.9v8h-7.9zM151.8 254.8h7.9v8h-7.9zM205.2 254.8h7.9v8h-7.9zM220.5 254.8h7.9v8h-7.9zM121.2 262.4h7.9v8h-7.9zM136.5 262.4h7.9v8h-7.9zM205.2 262.4h7.9v8h-7.9zM167 270.1h7.9v8h-7.9zM98.3 277.8h7.9v8h-7.9zM121.2 277.8h7.9v8h-7.9zM159.4 277.8h7.9v8h-7.9zM167 300.6h7.9v7.9h-7.9zM128.8 308.2h15.6v7.9h-15.6zM136.5 315.7h7.9v7.9h-7.9zM113.6 330.9h7.9v7.9h-7.9z"/><path fill="#0002ff" d="M98.3 -1.1h7.9v8.1h-7.9zM159.4 -1.1h7.9v8.1h-7.9zM136.5 6.7h7.9v8.1h-7.9zM151.8 6.7h7.9v8.1h-7.9zM197.6 6.7h7.9v8.1h-7.9zM90.6 14.5h7.9v8.1h-7.9zM105.9 14.5h7.9v8.1h-7.9zM144.1 14.5h7.9v8.1h-7.9zM197.6 14.5h7.9v8.1h-7.9zM83 22.3h15.6v8.1h-15.6zM151.8 22.3h7.9v8.1h-7.9zM98.3 30.1h7.9v8.1h-7.9zM144.1 30.1h7.9v8.1h-7.9zM167 30.1h7.9v8.1h-7.9zM190 30.1h7.9v8.1h-7.9zM75.4 45.7h7.9v8.1h-7.9zM105.9 45.7h7.9v8.1h-7.9zM75.4 53.5h7.9v8.1h-7.9zM98.3 53.5h7.9v8.1h-7.9zM113.6 53.5h7.9v8.1h-7.9zM167 53.5h7.9v8.1h-7.9zM105.9 61.3h15.6v8.1h-15.6zM174.7 61.3h7.9v8.1h-7.9zM105.9 69.1h7.9v8.1h-7.9zM144.1 69.1h7.9v8.1h-7.9zM167 69.1h7.9v8.1h-7.9zM105.9 76.9h7.9v8h-7.9zM128.8 76.9h15.6v8h-15.6zM167 76.9h7.9v8h-7.9zM174.7 84.6h7.9v8h-7.9zM190 100h7.9v8h-7.9zM212.9 100h7.9v8h-7.9zM128.8 123.2h7.9v8h-7.9zM136.5 130.9h7.9v8h-7.9zM190 130.9h7.9v8h-7.9zM205.2 130.9h7.9v8h-7.9zM190 138.6h7.9v8h-7.9zM167 146.3h7.9v8.1h-7.9zM197.6 146.3h7.9v8.1h-7.9zM121.2 154.1h7.9v8.1h-7.9zM144.1 161.9h15.6v8.1h-15.6zM190 161.9h7.9v8.1h-7.9zM212.9 161.9h7.9v8.1h-7.9zM121.2 169.7h7.9v8.1h-7.9zM167 169.7h7.9v8.1h-7.9zM182.3 177.5h15.6v8.1h-15.6zM136.5 185.3h7.9v8.1h-7.9zM159.4 185.3h7.9v8.1h-7.9zM174.7 185.3h7.9v8.1h-7.9zM197.6 185.3h7.9v8.1h-7.9zM167 193.1h7.9v8.1h-7.9zM212.9 193.1h7.9v8.1h-7.9zM136.5 200.9h7.9v8.1h-7.9zM159.4 200.9h7.9v8.1h-7.9zM205.2 200.9h7.9v8.1h-7.9zM220.5 200.9h7.9v8.1h-7.9zM182.3 216.5h7.9v8h-7.9zM197.6 216.5h7.9v8h-7.9zM159.4 224.1h7.9v8h-7.9zM190 231.8h7.9v8h-7.9zM121.2 247.1h15.6v8h-15.6zM197.6 247.1h7.9v8h-7.9zM212.9 247.1h15.6v8h-15.6zM105.9 270.1h7.9v8h-7.9zM121.2 285.4h7.9v7.9h-7.9zM136.5 300.6h7.9v7.9h-7.9zM151.8 300.6h7.9v7.9h-7.9zM113.6 323.3h7.9v7.9h-7.9zM136.5 323.3h7.9v7.9h-7.9zM121.2 330.9h7.9v7.9h-7.9zM113.6 338.5h7.9v7.9h-7.9z"/><path fill="#0033ff" d="M105.9 -1.1h7.9v8.1h-7.9zM128.8 -1.1h7.9v8.1h-7.9zM190 -1.1h7.9v8.1h-7.9zM243.4 -1.1h7.9v8.1h-7.9zM258.7 -1.1h7.9v8.1h-7.9zM128.8 6.7h7.9v8.1h-7.9zM83 14.5h7.9v8.1h-7.9zM205.2 14.5h7.9v8.1h-7.9zM220.5 14.5h15.6v8.1h-15.6zM243.4 14.5h15.6v8.1h-15.6zM67.7 22.3h7.9v8.1h-7.9zM113.6 22.3h7.9v8.1h-7.9zM144.1 22.3h7.9v8.1h-7.9zM205.2 22.3h7.9v8.1h-7.9zM220.5 22.3h7.9v8.1h-7.9zM266.4 22.3h7.9v8.1h-7.9zM83 30.1h7.9v8.1h-7.9zM128.8 30.1h15.6v8.1h-15.6zM174.7 30.1h7.9v8.1h-7.9zM274 30.1h7.9v8.1h-7.9zM113.6 37.9h7.9v8.1h-7.9zM128.8 37.9h7.9v8.1h-7.9zM266.4 37.9h7.9v8.1h-7.9zM197.6 45.7h7.9v8.1h-7.9zM212.9 45.7h7.9v8.1h-7.9zM235.8 45.7h7.9v8.1h-7.9zM274 45.7h7.9v8.1h-7.9zM243.4 53.5h15.6v8.1h-15.6zM212.9 61.3h23.2v8.1h-23.2zM243.4 69.1h7.9v8.1h-7.9zM258.7 69.1h7.9v8.1h-7.9zM243.4 76.9h7.9v8h-7.9zM220.5 92.3h7.9v8h-7.9zM266.4 92.3h7.9v8h-7.9zM235.8 100h7.9v8h-7.9zM228.2 107.7h7.9v8h-7.9zM243.4 107.7h7.9v8h-7.9zM105.9 115.4h7.9v8h-7.9zM220.5 115.4h7.9v8h-7.9zM235.8 115.4h7.9v8h-7.9zM274 115.4h7.9v8h-7.9zM258.7 123.2h7.9v8h-7.9zM235.8 130.9h7.9v8h-7.9zM243.4 138.6h7.9v8h-7.9zM220.5 169.7h7.9v8.1h-7.9zM258.7 216.5h7.9v8h-7.9zM220.5 224.1h7.9v8h-7.9zM251.1 224.1h7.9v8h-7.9zM243.4 231.8h7.9v8h-7.9zM212.9 239.4h7.9v8h-7.9zM228.2 239.4h15.6v8h-15.6zM235.8 247.1h7.9v8h-7.9zM235.8 254.8h7.9v8h-7.9zM167 262.4h15.6v8h-15.6zM113.6 270.1h7.9v8h-7.9zM151.8 293h7.9v7.9h-7.9zM167 293h15.6v7.9h-15.6zM212.9 300.6h7.9v7.9h-7.9zM167 308.2h7.9v7.9h-7.9zM128.8 323.3h7.9v7.9h-7.9z"/><path fill="#0012ff" d="M113.6 -1.1h15.6v8.1h-15.6zM144.1 -1.1h7.9v8.1h-7.9zM167 -1.1h7.9v8.1h-7.9zM197.6 -1.1h15.6v8.1h-15.6zM121.2 6.7h7.9v8.1h-7.9zM159.4 6.7h7.9v8.1h-7.9zM174.7 6.7h23.2v8.1h-23.2zM98.3 14.5h7.9v8.1h-7.9zM113.6 14.5h23.2v8.1h-23.2zM151.8 14.5h15.6v8.1h-15.6zM174.7 14.5h7.9v8.1h-7.9zM190 14.5h7.9v8.1h-7.9zM75.4 22.3h7.9v8.1h-7.9zM121.2 22.3h7.9v8.1h-7.9zM136.5 22.3h7.9v8.1h-7.9zM159.4 22.3h7.9v8.1h-7.9zM182.3 22.3h23.2v8.1h-23.2zM75.4 30.1h7.9v8.1h-7.9zM90.6 30.1h7.9v8.1h-7.9zM113.6 30.1h15.6v8.1h-15.6zM151.8 30.1h15.6v8.1h-15.6zM182.3 30.1h7.9v8.1h-7.9zM98.3 37.9h15.6v8.1h-15.6zM121.2 37.9h7.9v8.1h-7.9zM136.5 37.9h61.4v8.1h-61.4zM90.6 45.7h7.9v8.1h-7.9zM121.2 45.7h38.5v8.1h-38.5zM167 45.7h15.6v8.1h-15.6zM190 45.7h7.9v8.1h-7.9zM205.2 53.5h7.9v8.1h-7.9zM190 69.1h7.9v8.1h-7.9zM128.8 92.3h7.9v8h-7.9zM105.9 100h7.9v8h-7.9zM159.4 107.7h7.9v8h-7.9zM128.8 115.4h7.9v8h-7.9zM174.7 138.6h7.9v8h-7.9zM197.6 138.6h7.9v8h-7.9zM136.5 154.1h7.9v8.1h-7.9zM182.3 169.7h7.9v8.1h-7.9zM121.2 177.5h7.9v8.1h-7.9zM128.8 193.1h7.9v8.1h-7.9zM220.5 193.1h7.9v8.1h-7.9zM212.9 200.9h7.9v8.1h-7.9zM151.8 208.7h7.9v8.1h-7.9zM205.2 208.7h7.9v8.1h-7.9zM174.7 216.5h7.9v8h-7.9zM212.9 216.5h7.9v8h-7.9zM228.2 216.5h15.6v8h-15.6zM128.8 224.1h7.9v8h-7.9zM228.2 224.1h7.9v8h-7.9zM121.2 231.8h7.9v8h-7.9zM212.9 231.8h7.9v8h-7.9zM220.5 239.4h7.9v8h-7.9zM136.5 254.8h7.9v8h-7.9zM174.7 254.8h7.9v8h-7.9zM190 254.8h7.9v8h-7.9zM212.9 254.8h7.9v8h-7.9zM113.6 262.4h7.9v8h-7.9zM128.8 262.4h7.9v8h-7.9zM159.4 262.4h7.9v8h-7.9zM182.3 262.4h15.6v8h-15.6zM174.7 270.1h7.9v8h-7.9zM136.5 285.4h7.9v7.9h-7.9zM144.1 293h7.9v7.9h-7.9zM159.4 293h7.9v7.9h-7.9zM144.1 300.6h7.9v7.9h-7.9zM159.4 300.6h7.9v7.9h-7.9zM105.9 308.2h7.9v7.9h-7.9zM144.1 308.2h7.9v7.9h-7.9zM105.9 315.7h7.9v7.9h-7.9zM128.8 315.7h7.9v7.9h-7.9zM121.2 323.3h7.9v7.9h-7.9zM121.2 338.5h7.9v7.9h-7.9z"/><path fill="#0000f1" d="M182.3 -1.1h7.9v8.1h-7.9zM105.9 6.7h15.6v8.1h-15.6zM105.9 30.1h7.9v8.1h-7.9zM67.7 37.9h23.2v8.1h-23.2zM197.6 37.9h7.9v8.1h-7.9zM113.6 45.7h7.9v8.1h-7.9zM182.3 45.7h7.9v8.1h-7.9zM159.4 53.5h7.9v8.1h-7.9zM121.2 61.3h15.6v8.1h-15.6zM167 61.3h7.9v8.1h-7.9zM113.6 69.1h7.9v8.1h-7.9zM174.7 69.1h7.9v8.1h-7.9zM144.1 76.9h7.9v8h-7.9zM182.3 76.9h7.9v8h-7.9zM128.8 84.6h7.9v8h-7.9zM151.8 84.6h7.9v8h-7.9zM121.2 92.3h7.9v8h-7.9zM144.1 92.3h7.9v8h-7.9zM205.2 92.3h7.9v8h-7.9zM128.8 100h7.9v8h-7.9zM205.2 100h7.9v8h-7.9zM121.2 107.7h15.6v8h-15.6zM121.2 115.4h7.9v8h-7.9zM136.5 115.4h15.6v8h-15.6zM182.3 123.2h7.9v8h-7.9zM121.2 138.6h23.2v8h-23.2zM151.8 138.6h7.9v8h-7.9zM174.7 154.1h7.9v8.1h-7.9zM121.2 161.9h7.9v8.1h-7.9zM197.6 161.9h7.9v8.1h-7.9zM128.8 169.7h15.6v8.1h-15.6zM128.8 177.5h7.9v8.1h-7.9zM167 177.5h7.9v8.1h-7.9zM128.8 185.3h7.9v8.1h-7.9zM144.1 185.3h15.6v8.1h-15.6zM151.8 193.1h7.9v8.1h-7.9zM128.8 200.9h7.9v8.1h-7.9zM174.7 200.9h7.9v8.1h-7.9zM182.3 208.7h7.9v8.1h-7.9zM128.8 216.5h15.6v8h-15.6zM205.2 216.5h7.9v8h-7.9zM167 224.1h7.9v8h-7.9zM190 224.1h15.6v8h-15.6zM220.5 231.8h7.9v8h-7.9zM121.2 239.4h7.9v8h-7.9zM167 239.4h15.6v8h-15.6zM205.2 239.4h7.9v8h-7.9zM136.5 247.1h7.9v8h-7.9zM182.3 247.1h7.9v8h-7.9zM159.4 254.8h7.9v8h-7.9zM159.4 270.1h7.9v8h-7.9zM105.9 277.8h7.9v8h-7.9zM113.6 285.4h7.9v7.9h-7.9zM113.6 293h15.6v7.9h-15.6zM121.2 300.6h15.6v7.9h-15.6zM113.6 315.7h7.9v7.9h-7.9z"/><path fill="#0084ff" d="M220.5 -1.1h23.2v8.1h-23.2zM274 -1.1h7.9v8.1h-7.9zM274 6.7h7.9v8.1h-7.9zM75.4 61.3h7.9v8.1h-7.9zM228.2 69.1h7.9v8.1h-7.9zM274 69.1h7.9v8.1h-7.9zM274 76.9h7.9v8h-7.9zM90.6 84.6h7.9v8h-7.9zM274 92.3h7.9v8h-7.9zM281.6 107.7h7.9v8h-7.9zM266.4 146.3h7.9v8.1h-7.9zM235.8 177.5h7.9v8.1h-7.9zM235.8 185.3h7.9v8.1h-7.9zM235.8 208.7h7.9v8.1h-7.9zM251.1 239.4h7.9v8h-7.9zM243.4 247.1h7.9v8h-7.9zM144.1 254.8h7.9v8h-7.9zM243.4 254.8h7.9v8h-7.9zM144.1 262.4h15.6v8h-15.6zM228.2 262.4h7.9v8h-7.9zM190 270.1h7.9v8h-7.9zM212.9 270.1h7.9v8h-7.9zM174.7 308.2h7.9v7.9h-7.9zM98.3 323.3h7.9v7.9h-7.9zM159.4 323.3h7.9v7.9h-7.9zM105.9 346h7.9v7.9h-7.9zM121.2 346h7.9v7.9h-7.9zM144.1 346h7.9v7.9h-7.9zM105.9 353.6h7.9v7.9h-7.9zM121.2 353.6h7.9v7.9h-7.9z"/><path fill="#00f5ff" d="M281.6 -1.1h7.9v8.1h-7.9zM235.8 6.7h7.9v8.1h-7.9zM289.3 14.5h7.9v8.1h-7.9zM281.6 138.6h7.9v8h-7.9zM274 146.3h15.6v8.1h-15.6zM304.6 146.3h7.9v8.1h-7.9zM296.9 154.1h7.9v8.1h-7.9zM281.6 161.9h7.9v8.1h-7.9zM312.2 161.9h7.9v8.1h-7.9zM281.6 177.5h7.9v8.1h-7.9zM304.6 177.5h7.9v8.1h-7.9zM289.3 185.3h7.9v8.1h-7.9zM274 200.9h7.9v8.1h-7.9zM289.3 216.5h7.9v8h-7.9zM296.9 224.1h7.9v8h-7.9zM281.6 231.8h7.9v8h-7.9zM281.6 239.4h7.9v8h-7.9zM251.1 277.8h7.9v8h-7.9zM243.4 308.2h7.9v7.9h-7.9zM182.3 323.3h7.9v7.9h-7.9zM98.3 368.8h15.6v7.9h-15.6zM136.5 376.4h7.9v7.9h-7.9zM159.4 376.4h7.9v7.9h-7.9zM144.1 391.6h7.9v7.9h-7.9z"/><path fill="#800000" d="M289.3 -1.1h7.9v8.1h-7.9zM289.3 6.7h7.9v8.1h-7.9zM312.2 6.7h7.9v8.1h-7.9zM319.8 22.3h7.9v8.1h-7.9zM319.8 30.1h7.9v8.1h-7.9zM335.1 30.1h7.9v8.1h-7.9zM251.1 330.9h7.9v7.9h-7.9zM243.4 346h7.9v7.9h-7.9zM243.4 353.6h7.9v7.9h-7.9zM228.2 361.2h7.9v7.9h-7.9zM228.2 376.4h7.9v7.9h-7.9zM159.4 414.4h7.9v7.9h-7.9zM159.4 422h7.9v7.9h-7.9z"/><path fill="#ffb400" d="M335.1 -1.1h15.6v8.1h-15.6zM335.1 6.7h7.9v8.1h-7.9zM335.1 22.3h7.9v8.1h-7.9zM296.9 30.1h7.9v8.1h-7.9zM342.8 45.7h7.9v8.1h-7.9zM342.8 100h7.9v8h-7.9zM312.2 270.1h15.6v8h-15.6zM327.5 293h15.6v7.9h-15.6zM266.4 315.7h7.9v7.9h-7.9zM228.2 330.9h7.9v7.9h-7.9zM174.7 353.6h7.9v7.9h-7.9zM205.2 353.6h7.9v7.9h-7.9zM167 368.8h7.9v7.9h-7.9zM174.7 384h7.9v7.9h-7.9zM190 384h7.9v7.9h-7.9zM205.2 399.2h7.9v7.9h-7.9zM90.6 406.8h7.9v7.9h-7.9z"/><path fill="#0094ff" d="M67.7 6.7h7.9v8.1h-7.9zM235.8 69.1h7.9v8.1h-7.9zM83 76.9h7.9v8h-7.9zM274 123.2h7.9v8h-7.9zM304.6 161.9h7.9v8.1h-7.9zM251.1 177.5h7.9v8.1h-7.9zM243.4 185.3h15.6v8.1h-15.6zM258.7 224.1h7.9v8h-7.9zM266.4 254.8h7.9v8h-7.9zM136.5 277.8h7.9v8h-7.9zM235.8 277.8h7.9v8h-7.9zM258.7 277.8h7.9v8h-7.9zM182.3 285.4h7.9v7.9h-7.9zM174.7 315.7h7.9v7.9h-7.9zM98.3 330.9h7.9v7.9h-7.9zM151.8 330.9h7.9v7.9h-7.9zM167 330.9h7.9v7.9h-7.9zM128.8 346h7.9v7.9h-7.9zM151.8 346h7.9v7.9h-7.9zM128.8 353.6h7.9v7.9h-7.9zM144.1 361.2h7.9v7.9h-7.9zM113.6 376.4h7.9v7.9h-7.9z"/><path fill="#0073ff" d="M220.5 6.7h7.9v8.1h-7.9zM235.8 14.5h7.9v8.1h-7.9zM220.5 45.7h7.9v8.1h-7.9zM220.5 69.1h7.9v8.1h-7.9zM251.1 69.1h7.9v8.1h-7.9zM235.8 76.9h7.9v8h-7.9zM258.7 76.9h7.9v8h-7.9zM235.8 138.6h7.9v8h-7.9zM235.8 146.3h7.9v8.1h-7.9zM220.5 154.1h7.9v8.1h-7.9zM258.7 154.1h7.9v8.1h-7.9zM220.5 161.9h7.9v8.1h-7.9zM228.2 193.1h7.9v8.1h-7.9zM243.4 193.1h7.9v8.1h-7.9zM266.4 216.5h15.6v8h-15.6zM251.1 231.8h7.9v8h-7.9zM243.4 239.4h7.9v8h-7.9zM212.9 262.4h7.9v8h-7.9zM228.2 270.1h7.9v8h-7.9zM167 277.8h7.9v8h-7.9zM197.6 277.8h7.9v8h-7.9zM197.6 285.4h7.9v7.9h-7.9zM182.3 293h7.9v7.9h-7.9zM197.6 293h7.9v7.9h-7.9zM159.4 330.9h7.9v7.9h-7.9zM128.8 338.5h7.9v7.9h-7.9zM151.8 353.6h7.9v7.9h-7.9zM113.6 361.2h7.9v7.9h-7.9z"/><path fill="#16ffe9" d="M281.6 6.7h7.9v8.1h-7.9zM83 92.3h7.9v8h-7.9zM289.3 107.7h7.9v8h-7.9zM289.3 115.4h7.9v8h-7.9zM289.3 146.3h7.9v8.1h-7.9zM319.8 146.3h7.9v8.1h-7.9zM281.6 154.1h15.6v8.1h-15.6zM327.5 154.1h7.9v8.1h-7.9zM319.8 161.9h7.9v8.1h-7.9zM312.2 185.3h7.9v8.1h-7.9zM296.9 200.9h7.9v8.1h-7.9zM319.8 216.5h7.9v8h-7.9zM312.2 224.1h7.9v8h-7.9zM304.6 231.8h7.9v8h-7.9zM274 239.4h7.9v8h-7.9zM289.3 239.4h7.9v8h-7.9zM281.6 247.1h7.9v8h-7.9zM289.3 262.4h7.9v8h-7.9zM274 270.1h15.6v8h-15.6zM274 277.8h15.6v8h-15.6zM258.7 285.4h7.9v7.9h-7.9zM274 285.4h15.6v7.9h-15.6zM190 308.2h7.9v7.9h-7.9zM174.7 323.3h7.9v7.9h-7.9zM159.4 353.6h7.9v7.9h-7.9zM144.1 368.8h7.9v7.9h-7.9zM136.5 384h7.9v7.9h-7.9zM105.9 391.6h7.9v7.9h-7.9zM128.8 391.6h7.9v7.9h-7.9zM105.9 399.2h7.9v7.9h-7.9zM105.9 414.4h7.9v7.9h-7.9zM121.2 414.4h7.9v7.9h-7.9z"/><path fill="#ff2200" d="M304.6 6.7h7.9v8.1h-7.9zM312.2 14.5h15.6v8.1h-15.6zM243.4 293h7.9v7.9h-7.9zM220.5 323.3h7.9v7.9h-7.9zM190 346h7.9v7.9h-7.9zM159.4 406.8h7.9v7.9h-7.9z"/><path fill="#ffa400" d="M342.8 6.7h7.9v8.1h-7.9zM289.3 45.7h7.9v8.1h-7.9zM319.8 61.3h7.9v8.1h-7.9zM83 84.6h7.9v8h-7.9zM342.8 92.3h7.9v8h-7.9zM304.6 285.4h7.9v7.9h-7.9zM289.3 300.6h7.9v7.9h-7.9zM235.8 338.5h7.9v7.9h-7.9zM144.1 414.4h7.9v7.9h-7.9z"/><path fill="#0063ff" d="M212.9 14.5h7.9v8.1h-7.9zM266.4 14.5h7.9v8.1h-7.9zM212.9 30.1h15.6v8.1h-15.6zM235.8 30.1h15.6v8.1h-15.6zM266.4 30.1h7.9v8.1h-7.9zM228.2 37.9h7.9v8.1h-7.9zM258.7 45.7h7.9v8.1h-7.9zM212.9 53.5h7.9v8.1h-7.9zM274 53.5h7.9v8.1h-7.9zM83 61.3h7.9v8.1h-7.9zM235.8 61.3h7.9v8.1h-7.9zM251.1 61.3h7.9v8.1h-7.9zM220.5 76.9h7.9v8h-7.9zM274 84.6h7.9v8h-7.9zM90.6 92.3h7.9v8h-7.9zM258.7 92.3h7.9v8h-7.9zM98.3 100h7.9v8h-7.9zM243.4 100h15.6v8h-15.6zM274 100h7.9v8h-7.9zM243.4 115.4h7.9v8h-7.9zM281.6 115.4h7.9v8h-7.9zM266.4 130.9h7.9v8h-7.9zM251.1 138.6h7.9v8h-7.9zM220.5 146.3h7.9v8.1h-7.9zM235.8 154.1h7.9v8.1h-7.9zM243.4 161.9h7.9v8.1h-7.9zM235.8 169.7h7.9v8.1h-7.9zM258.7 177.5h7.9v8.1h-7.9zM235.8 200.9h7.9v8.1h-7.9zM235.8 231.8h7.9v8h-7.9zM136.5 270.1h7.9v8h-7.9zM205.2 270.1h7.9v8h-7.9zM220.5 270.1h7.9v8h-7.9zM98.3 293h7.9v7.9h-7.9zM212.9 293h7.9v7.9h-7.9zM98.3 300.6h7.9v7.9h-7.9zM205.2 300.6h7.9v7.9h-7.9zM98.3 308.2h7.9v7.9h-7.9zM98.3 315.7h7.9v7.9h-7.9zM105.9 323.3h7.9v7.9h-7.9zM144.1 323.3h7.9v7.9h-7.9zM136.5 330.9h7.9v7.9h-7.9zM144.1 338.5h15.6v7.9h-15.6z"/><path fill="#00e5ff" d="M281.6 14.5h7.9v8.1h-7.9zM281.6 22.3h7.9v8.1h-7.9zM75.4 76.9h7.9v8h-7.9zM281.6 76.9h7.9v8h-7.9zM281.6 84.6h7.9v8h-7.9zM281.6 92.3h7.9v8h-7.9zM98.3 107.7h7.9v8h-7.9zM281.6 123.2h7.9v8h-7.9zM289.3 138.6h7.9v8h-7.9zM304.6 154.1h7.9v8.1h-7.9zM274 161.9h7.9v8.1h-7.9zM289.3 161.9h7.9v8.1h-7.9zM266.4 169.7h7.9v8.1h-7.9zM281.6 169.7h23.2v8.1h-23.2zM266.4 177.5h15.6v8.1h-15.6zM289.3 177.5h7.9v8.1h-7.9zM258.7 185.3h7.9v8.1h-7.9zM274 185.3h15.6v8.1h-15.6zM296.9 185.3h7.9v8.1h-7.9zM258.7 193.1h15.6v8.1h-15.6zM289.3 193.1h7.9v8.1h-7.9zM258.7 200.9h15.6v8.1h-15.6zM281.6 200.9h15.6v8.1h-15.6zM289.3 208.7h7.9v8.1h-7.9zM296.9 216.5h15.6v8h-15.6zM281.6 224.1h15.6v8h-15.6zM274 231.8h7.9v8h-7.9zM296.9 231.8h7.9v8h-7.9zM266.4 239.4h7.9v8h-7.9zM266.4 247.1h7.9v8h-7.9zM289.3 254.8h7.9v8h-7.9zM251.1 262.4h23.2v8h-23.2zM281.6 262.4h7.9v8h-7.9zM243.4 277.8h7.9v8h-7.9zM258.7 293h7.9v7.9h-7.9zM190 300.6h7.9v7.9h-7.9zM228.2 300.6h7.9v7.9h-7.9zM205.2 308.2h15.6v7.9h-15.6zM98.3 353.6h7.9v7.9h-7.9zM98.3 361.2h7.9v7.9h-7.9zM151.8 361.2h7.9v7.9h-7.9zM121.2 376.4h15.6v7.9h-15.6zM121.2 384h7.9v7.9h-7.9z"/><path fill="#ff0200" d="M296.9 14.5h7.9v8.1h-7.9zM296.9 22.3h7.9v8.1h-7.9zM327.5 37.9h7.9v8.1h-7.9zM205.2 384h7.9v7.9h-7.9zM90.6 422h7.9v7.9h-7.9z"/><path fill="#ff1200" d="M304.6 14.5h7.9v8.1h-7.9zM304.6 22.3h15.6v8.1h-15.6zM304.6 30.1h7.9v8.1h-7.9zM335.1 37.9h7.9v8.1h-7.9zM312.2 285.4h7.9v7.9h-7.9zM342.8 293h7.9v7.9h-7.9zM281.6 308.2h15.6v7.9h-15.6zM258.7 323.3h7.9v7.9h-7.9zM274 323.3h7.9v7.9h-7.9zM212.9 338.5h7.9v7.9h-7.9zM197.6 346h7.9v7.9h-7.9zM235.8 346h7.9v7.9h-7.9zM190 376.4h15.6v7.9h-15.6zM220.5 384h7.9v7.9h-7.9zM190 391.6h7.9v7.9h-7.9zM190 399.2h7.9v7.9h-7.9zM190 406.8h15.6v7.9h-15.6zM151.8 414.4h7.9v7.9h-7.9z"/><path fill="#ff9400" d="M327.5 14.5h7.9v8.1h-7.9zM296.9 37.9h7.9v8.1h-7.9zM335.1 69.1h7.9v8.1h-7.9zM342.8 285.4h7.9v7.9h-7.9zM182.3 346h7.9v7.9h-7.9zM167 361.2h7.9v7.9h-7.9zM90.6 368.8h7.9v7.9h-7.9zM212.9 384h7.9v7.9h-7.9zM197.6 391.6h7.9v7.9h-7.9z"/><path fill="#ffe500" d="M335.1 14.5h7.9v8.1h-7.9zM289.3 30.1h7.9v8.1h-7.9zM296.9 45.7h7.9v8.1h-7.9zM304.6 53.5h7.9v8.1h-7.9zM327.5 61.3h7.9v8.1h-7.9zM304.6 69.1h7.9v8.1h-7.9zM327.5 69.1h7.9v8.1h-7.9zM312.2 76.9h7.9v8h-7.9zM342.8 76.9h7.9v8h-7.9zM342.8 84.6h7.9v8h-7.9zM342.8 239.4h7.9v8h-7.9zM319.8 262.4h7.9v8h-7.9zM335.1 270.1h7.9v8h-7.9zM335.1 277.8h7.9v8h-7.9zM335.1 285.4h7.9v7.9h-7.9zM228.2 315.7h7.9v7.9h-7.9zM235.8 353.6h7.9v7.9h-7.9zM220.5 361.2h7.9v7.9h-7.9zM190 368.8h7.9v7.9h-7.9zM205.2 368.8h7.9v7.9h-7.9zM220.5 368.8h7.9v7.9h-7.9zM90.6 399.2h7.9v7.9h-7.9z"/><path fill="#fff500" d="M342.8 14.5h7.9v8.1h-7.9zM312.2 53.5h7.9v8.1h-7.9zM296.9 61.3h7.9v8.1h-7.9zM342.8 69.1h7.9v8.1h-7.9zM335.1 92.3h7.9v8h-7.9zM327.5 247.1h7.9v8h-7.9zM205.2 361.2h7.9v7.9h-7.9zM159.4 399.2h7.9v7.9h-7.9z"/><path fill="#ffc400" d="M289.3 22.3h7.9v8.1h-7.9zM342.8 22.3h7.9v8.1h-7.9zM327.5 30.1h7.9v8.1h-7.9zM304.6 37.9h7.9v8.1h-7.9zM327.5 45.7h7.9v8.1h-7.9zM319.8 53.5h7.9v8.1h-7.9zM342.8 53.5h7.9v8.1h-7.9zM319.8 69.1h7.9v8.1h-7.9zM319.8 76.9h7.9v8h-7.9zM296.9 84.6h7.9v8h-7.9zM235.8 300.6h7.9v7.9h-7.9zM190 323.3h7.9v7.9h-7.9zM228.2 338.5h7.9v7.9h-7.9zM174.7 361.2h7.9v7.9h-7.9zM197.6 361.2h7.9v7.9h-7.9zM205.2 376.4h7.9v7.9h-7.9zM197.6 384h7.9v7.9h-7.9zM90.6 391.6h7.9v7.9h-7.9zM144.1 422h7.9v7.9h-7.9z"/><path fill="#ff6300" d="M327.5 22.3h7.9v8.1h-7.9zM312.2 30.1h7.9v8.1h-7.9zM228.2 308.2h7.9v7.9h-7.9zM220.5 330.9h7.9v7.9h-7.9zM190 353.6h7.9v7.9h-7.9z"/><path fill="#00c4ff" d="M281.6 30.1h7.9v8.1h-7.9zM281.6 45.7h7.9v8.1h-7.9zM281.6 69.1h7.9v8.1h-7.9zM98.3 115.4h7.9v8h-7.9zM266.4 154.1h7.9v8.1h-7.9zM258.7 161.9h15.6v8.1h-15.6zM251.1 193.1h7.9v8.1h-7.9zM281.6 193.1h7.9v8.1h-7.9zM304.6 193.1h7.9v8.1h-7.9zM243.4 200.9h7.9v8.1h-7.9zM258.7 208.7h7.9v8.1h-7.9zM274 247.1h7.9v8h-7.9zM281.6 254.8h7.9v8h-7.9zM128.8 277.8h7.9v8h-7.9zM235.8 293h7.9v7.9h-7.9zM182.3 300.6h7.9v7.9h-7.9zM258.7 308.2h7.9v7.9h-7.9zM167 315.7h7.9v7.9h-7.9zM159.4 346h7.9v7.9h-7.9zM136.5 353.6h7.9v7.9h-7.9zM121.2 361.2h7.9v7.9h-7.9zM128.8 368.8h7.9v7.9h-7.9z"/><path fill="#06fff9" d="M281.6 37.9h7.9v8.1h-7.9zM296.9 161.9h7.9v8.1h-7.9zM312.2 193.1h7.9v8.1h-7.9zM266.4 208.7h23.2v8.1h-23.2zM312.2 216.5h7.9v8h-7.9zM274 224.1h7.9v8h-7.9zM304.6 224.1h7.9v8h-7.9zM266.4 231.8h7.9v8h-7.9zM289.3 231.8h7.9v8h-7.9zM274 254.8h7.9v8h-7.9zM296.9 254.8h7.9v8h-7.9zM274 262.4h7.9v8h-7.9zM266.4 277.8h7.9v8h-7.9zM197.6 308.2h7.9v7.9h-7.9zM220.5 308.2h7.9v7.9h-7.9zM251.1 308.2h7.9v7.9h-7.9zM190 315.7h7.9v7.9h-7.9zM167 338.5h7.9v7.9h-7.9zM136.5 368.8h7.9v7.9h-7.9zM105.9 384h15.6v7.9h-15.6zM128.8 384h7.9v7.9h-7.9zM144.1 384h7.9v7.9h-7.9zM121.2 406.8h7.9v7.9h-7.9z"/><path fill="#a8ff57" d="M289.3 37.9h7.9v8.1h-7.9zM312.2 107.7h7.9v8h-7.9zM335.1 107.7h7.9v8h-7.9zM327.5 115.4h15.6v8h-15.6zM342.8 123.2h7.9v8h-7.9zM327.5 138.6h7.9v8h-7.9zM342.8 161.9h7.9v8.1h-7.9zM342.8 177.5h7.9v8.1h-7.9zM335.1 185.3h7.9v8.1h-7.9zM319.8 239.4h7.9v8h-7.9zM174.7 368.8h15.6v7.9h-15.6zM98.3 406.8h7.9v7.9h-7.9z"/><path fill="#e9ff16" d="M312.2 37.9h7.9v8.1h-7.9zM304.6 45.7h7.9v8.1h-7.9zM289.3 53.5h7.9v8.1h-7.9zM304.6 61.3h7.9v8.1h-7.9zM289.3 69.1h15.6v8.1h-15.6zM335.1 84.6h7.9v8h-7.9zM304.6 92.3h7.9v8h-7.9zM304.6 100h7.9v8h-7.9zM327.5 100h7.9v8h-7.9zM342.8 146.3h7.9v8.1h-7.9zM327.5 239.4h15.6v8h-15.6zM312.2 262.4h7.9v8h-7.9zM327.5 262.4h15.6v8h-15.6zM327.5 277.8h7.9v8h-7.9zM281.6 300.6h7.9v7.9h-7.9zM197.6 368.8h7.9v7.9h-7.9zM212.9 368.8h7.9v7.9h-7.9zM90.6 376.4h7.9v7.9h-7.9z"/><path fill="#ff7300" d="M319.8 37.9h7.9v8.1h-7.9zM304.6 277.8h7.9v8h-7.9zM243.4 300.6h7.9v7.9h-7.9zM197.6 315.7h7.9v7.9h-7.9zM205.2 391.6h7.9v7.9h-7.9z"/><path fill="#d9ff26" d="M312.2 45.7h7.9v8.1h-7.9zM296.9 53.5h7.9v8.1h-7.9zM327.5 76.9h7.9v8h-7.9zM312.2 92.3h7.9v8h-7.9zM327.5 92.3h7.9v8h-7.9zM342.8 115.4h7.9v8h-7.9zM342.8 185.3h7.9v8.1h-7.9zM342.8 200.9h7.9v8.1h-7.9zM335.1 224.1h7.9v8h-7.9zM342.8 231.8h7.9v8h-7.9zM327.5 285.4h7.9v7.9h-7.9zM243.4 323.3h7.9v7.9h-7.9zM190 330.9h7.9v7.9h-7.9zM151.8 391.6h7.9v7.9h-7.9z"/><path fill="#f9ff06" d="M319.8 45.7h7.9v8.1h-7.9zM335.1 45.7h7.9v8.1h-7.9zM312.2 61.3h7.9v8.1h-7.9zM335.1 61.3h15.6v8.1h-15.6zM296.9 76.9h7.9v8h-7.9zM304.6 84.6h7.9v8h-7.9zM319.8 92.3h7.9v8h-7.9zM342.8 193.1h7.9v8.1h-7.9zM335.1 208.7h7.9v8.1h-7.9zM342.8 247.1h7.9v8h-7.9zM274 300.6h7.9v7.9h-7.9zM212.9 346h15.6v7.9h-15.6zM90.6 384h7.9v7.9h-7.9zM144.1 406.8h7.9v7.9h-7.9z"/><path fill="#0000c0" d="M83 53.5h15.6v8.1h-15.6zM182.3 69.1h7.9v8.1h-7.9zM212.9 69.1h7.9v8.1h-7.9zM121.2 76.9h7.9v8h-7.9zM190 76.9h7.9v8h-7.9zM113.6 100h7.9v8h-7.9zM136.5 100h7.9v8h-7.9zM174.7 100h15.6v8h-15.6zM174.7 107.7h7.9v8h-7.9zM151.8 115.4h7.9v8h-7.9zM151.8 123.2h15.6v8h-15.6zM128.8 130.9h7.9v8h-7.9zM212.9 130.9h7.9v8h-7.9zM167 138.6h7.9v8h-7.9zM190 146.3h7.9v8.1h-7.9zM205.2 146.3h7.9v8.1h-7.9zM151.8 154.1h7.9v8.1h-7.9zM190 154.1h7.9v8.1h-7.9zM128.8 161.9h7.9v8.1h-7.9zM159.4 161.9h7.9v8.1h-7.9zM144.1 169.7h7.9v8.1h-7.9zM197.6 169.7h7.9v8.1h-7.9zM197.6 177.5h7.9v8.1h-7.9zM159.4 193.1h7.9v8.1h-7.9zM159.4 216.5h7.9v8h-7.9zM144.1 231.8h7.9v8h-7.9zM174.7 247.1h7.9v8h-7.9zM121.2 308.2h7.9v7.9h-7.9zM121.2 315.7h7.9v7.9h-7.9z"/><path fill="#0000e1" d="M105.9 53.5h7.9v8.1h-7.9zM144.1 53.5h15.6v8.1h-15.6zM174.7 53.5h15.6v8.1h-15.6zM197.6 53.5h7.9v8.1h-7.9zM90.6 61.3h7.9v8.1h-7.9zM144.1 61.3h23.2v8.1h-23.2zM182.3 61.3h23.2v8.1h-23.2zM90.6 69.1h15.6v8.1h-15.6zM121.2 69.1h7.9v8.1h-7.9zM151.8 69.1h15.6v8.1h-15.6zM90.6 76.9h15.6v8h-15.6zM113.6 76.9h7.9v8h-7.9zM151.8 76.9h7.9v8h-7.9zM174.7 76.9h7.9v8h-7.9zM197.6 76.9h7.9v8h-7.9zM212.9 76.9h7.9v8h-7.9zM98.3 84.6h30.9v8h-30.9zM136.5 84.6h15.6v8h-15.6zM167 84.6h7.9v8h-7.9zM182.3 84.6h30.9v8h-30.9zM98.3 92.3h15.6v8h-15.6zM151.8 92.3h38.5v8h-38.5zM197.6 92.3h7.9v8h-7.9zM121.2 100h7.9v8h-7.9zM144.1 100h7.9v8h-7.9zM159.4 100h15.6v8h-15.6zM197.6 100h7.9v8h-7.9zM113.6 107.7h7.9v8h-7.9zM136.5 107.7h23.2v8h-23.2zM182.3 107.7h7.9v8h-7.9zM197.6 107.7h15.6v8h-15.6zM113.6 115.4h7.9v8h-7.9zM159.4 115.4h46.1v8h-46.1zM212.9 115.4h7.9v8h-7.9zM113.6 123.2h7.9v8h-7.9zM144.1 123.2h7.9v8h-7.9zM167 123.2h15.6v8h-15.6zM190 123.2h30.9v8h-30.9zM113.6 130.9h15.6v8h-15.6zM144.1 130.9h30.9v8h-30.9zM182.3 130.9h7.9v8h-7.9zM197.6 130.9h7.9v8h-7.9zM113.6 138.6h7.9v8h-7.9zM144.1 138.6h7.9v8h-7.9zM159.4 138.6h7.9v8h-7.9zM182.3 138.6h7.9v8h-7.9zM205.2 138.6h15.6v8h-15.6zM105.9 146.3h23.2v8.1h-23.2zM136.5 146.3h7.9v8.1h-7.9zM151.8 146.3h15.6v8.1h-15.6zM174.7 146.3h15.6v8.1h-15.6zM144.1 154.1h7.9v8.1h-7.9zM167 154.1h7.9v8.1h-7.9zM197.6 154.1h23.2v8.1h-23.2zM136.5 161.9h7.9v8.1h-7.9zM167 161.9h23.2v8.1h-23.2zM205.2 161.9h7.9v8.1h-7.9zM151.8 169.7h15.6v8.1h-15.6zM190 169.7h7.9v8.1h-7.9zM205.2 169.7h15.6v8.1h-15.6zM136.5 177.5h30.9v8.1h-30.9zM174.7 177.5h7.9v8.1h-7.9zM212.9 177.5h7.9v8.1h-7.9zM121.2 185.3h7.9v8.1h-7.9zM167 185.3h7.9v8.1h-7.9zM182.3 185.3h15.6v8.1h-15.6zM212.9 185.3h15.6v8.1h-15.6zM136.5 193.1h15.6v8.1h-15.6zM174.7 193.1h30.9v8.1h-30.9zM151.8 200.9h7.9v8.1h-7.9zM167 200.9h7.9v8.1h-7.9zM182.3 200.9h23.2v8.1h-23.2zM144.1 208.7h7.9v8.1h-7.9zM159.4 208.7h23.2v8.1h-23.2zM190 208.7h15.6v8.1h-15.6zM212.9 208.7h7.9v8.1h-7.9zM144.1 216.5h15.6v8h-15.6zM167 216.5h7.9v8h-7.9zM136.5 224.1h23.2v8h-23.2zM174.7 224.1h7.9v8h-7.9zM205.2 224.1h7.9v8h-7.9zM128.8 231.8h15.6v8h-15.6zM151.8 231.8h30.9v8h-30.9zM197.6 231.8h15.6v8h-15.6zM128.8 239.4h38.5v8h-38.5zM182.3 239.4h7.9v8h-7.9zM197.6 239.4h7.9v8h-7.9zM105.9 247.1h15.6v8h-15.6zM144.1 247.1h15.6v8h-15.6zM190 247.1h7.9v8h-7.9zM105.9 254.8h30.9v8h-30.9zM167 254.8h7.9v8h-7.9zM182.3 254.8h7.9v8h-7.9zM105.9 262.4h7.9v8h-7.9zM113.6 277.8h7.9v8h-7.9zM105.9 285.4h7.9v7.9h-7.9zM128.8 285.4h7.9v7.9h-7.9zM105.9 293h7.9v7.9h-7.9zM128.8 293h15.6v7.9h-15.6zM105.9 300.6h7.9v7.9h-7.9zM113.6 308.2h7.9v7.9h-7.9z"/><path fill="#0000d0" d="M121.2 53.5h23.2v8.1h-23.2zM190 53.5h7.9v8.1h-7.9zM98.3 61.3h7.9v8.1h-7.9zM136.5 61.3h7.9v8.1h-7.9zM128.8 69.1h15.6v8.1h-15.6zM197.6 69.1h15.6v8.1h-15.6zM159.4 76.9h7.9v8h-7.9zM205.2 76.9h7.9v8h-7.9zM159.4 84.6h7.9v8h-7.9zM212.9 84.6h7.9v8h-7.9zM113.6 92.3h7.9v8h-7.9zM136.5 92.3h7.9v8h-7.9zM190 92.3h7.9v8h-7.9zM151.8 100h7.9v8h-7.9zM167 107.7h7.9v8h-7.9zM190 107.7h7.9v8h-7.9zM212.9 107.7h7.9v8h-7.9zM205.2 115.4h7.9v8h-7.9zM121.2 123.2h7.9v8h-7.9zM136.5 123.2h7.9v8h-7.9zM174.7 130.9h7.9v8h-7.9zM128.8 146.3h7.9v8.1h-7.9zM144.1 146.3h7.9v8.1h-7.9zM212.9 146.3h7.9v8.1h-7.9zM113.6 154.1h7.9v8.1h-7.9zM128.8 154.1h7.9v8.1h-7.9zM159.4 154.1h7.9v8.1h-7.9zM182.3 154.1h7.9v8.1h-7.9zM174.7 169.7h7.9v8.1h-7.9zM205.2 177.5h7.9v8.1h-7.9zM205.2 185.3h7.9v8.1h-7.9zM205.2 193.1h7.9v8.1h-7.9zM144.1 200.9h7.9v8.1h-7.9zM128.8 208.7h15.6v8.1h-15.6zM190 216.5h7.9v8h-7.9zM182.3 224.1h7.9v8h-7.9zM182.3 231.8h7.9v8h-7.9zM190 239.4h7.9v8h-7.9zM159.4 247.1h15.6v8h-15.6zM113.6 300.6h7.9v7.9h-7.9z"/><path fill="#ff3300" d="M327.5 53.5h7.9v8.1h-7.9zM274 315.7h7.9v7.9h-7.9zM212.9 353.6h7.9v7.9h-7.9zM212.9 399.2h7.9v7.9h-7.9zM151.8 422h7.9v7.9h-7.9z"/><path fill="#ff5300" d="M335.1 53.5h7.9v8.1h-7.9zM312.2 277.8h7.9v8h-7.9zM296.9 293h7.9v7.9h-7.9zM266.4 323.3h7.9v7.9h-7.9zM243.4 338.5h7.9v7.9h-7.9zM174.7 376.4h7.9v7.9h-7.9z"/><path fill="#00a4ff" d="M274 61.3h7.9v8.1h-7.9zM75.4 69.1h7.9v8.1h-7.9zM274 138.6h7.9v8h-7.9zM251.1 161.9h7.9v8.1h-7.9zM251.1 169.7h7.9v8.1h-7.9zM251.1 208.7h7.9v8.1h-7.9zM251.1 254.8h7.9v8h-7.9zM243.4 270.1h7.9v8h-7.9zM220.5 285.4h7.9v7.9h-7.9zM190 293h7.9v7.9h-7.9zM220.5 293h7.9v7.9h-7.9zM167 323.3h7.9v7.9h-7.9zM128.8 361.2h7.9v7.9h-7.9z"/><path fill="#b8ff47" d="M289.3 61.3h7.9v8.1h-7.9zM312.2 69.1h7.9v8.1h-7.9zM304.6 76.9h7.9v8h-7.9zM289.3 84.6h7.9v8h-7.9zM289.3 92.3h7.9v8h-7.9zM296.9 100h7.9v8h-7.9zM335.1 100h7.9v8h-7.9zM304.6 107.7h7.9v8h-7.9zM319.8 107.7h7.9v8h-7.9zM342.8 107.7h7.9v8h-7.9zM327.5 123.2h7.9v8h-7.9zM342.8 154.1h7.9v8.1h-7.9zM327.5 208.7h7.9v8.1h-7.9zM327.5 231.8h7.9v8h-7.9zM296.9 285.4h7.9v7.9h-7.9zM258.7 315.7h7.9v7.9h-7.9zM251.1 323.3h7.9v7.9h-7.9zM182.3 353.6h7.9v7.9h-7.9zM182.3 361.2h15.6v7.9h-15.6zM151.8 406.8h7.9v7.9h-7.9zM136.5 414.4h7.9v7.9h-7.9zM105.9 422h7.9v7.9h-7.9zM136.5 422h7.9v7.9h-7.9z"/><path fill="#00d4ff" d="M228.2 76.9h7.9v8h-7.9zM274 130.9h23.2v8h-23.2zM296.9 146.3h7.9v8.1h-7.9zM274 154.1h7.9v8.1h-7.9zM274 169.7h7.9v8.1h-7.9zM296.9 177.5h7.9v8.1h-7.9zM266.4 185.3h7.9v8.1h-7.9zM274 193.1h7.9v8.1h-7.9zM281.6 216.5h7.9v8h-7.9zM266.4 224.1h7.9v8h-7.9zM258.7 247.1h7.9v8h-7.9zM258.7 254.8h7.9v8h-7.9zM243.4 262.4h7.9v8h-7.9zM251.1 270.1h7.9v8h-7.9zM235.8 285.4h7.9v7.9h-7.9zM98.3 346h7.9v7.9h-7.9zM113.6 368.8h7.9v7.9h-7.9zM105.9 376.4h7.9v7.9h-7.9zM144.1 376.4h7.9v7.9h-7.9z"/><path fill="#c8ff37" d="M289.3 76.9h7.9v8h-7.9zM319.8 84.6h7.9v8h-7.9zM319.8 100h7.9v8h-7.9zM342.8 138.6h7.9v8h-7.9zM335.1 177.5h7.9v8.1h-7.9zM335.1 200.9h7.9v8.1h-7.9zM342.8 208.7h7.9v8.1h-7.9zM335.1 231.8h7.9v8h-7.9zM319.8 247.1h7.9v8h-7.9zM342.8 262.4h7.9v8h-7.9zM258.7 270.1h7.9v8h-7.9zM289.3 285.4h7.9v7.9h-7.9zM228.2 353.6h7.9v7.9h-7.9zM212.9 376.4h7.9v7.9h-7.9zM128.8 414.4h7.9v7.9h-7.9zM121.2 422h7.9v7.9h-7.9z"/><path fill="#ff8400" d="M335.1 76.9h7.9v8h-7.9zM342.8 277.8h7.9v8h-7.9zM228.2 368.8h7.9v7.9h-7.9zM220.5 376.4h7.9v7.9h-7.9z"/><path fill="#88ff77" d="M312.2 84.6h7.9v8h-7.9zM296.9 92.3h7.9v8h-7.9zM289.3 100h7.9v8h-7.9zM312.2 100h7.9v8h-7.9zM296.9 107.7h7.9v8h-7.9zM296.9 115.4h7.9v8h-7.9zM296.9 123.2h7.9v8h-7.9zM327.5 130.9h15.6v8h-15.6zM335.1 146.3h7.9v8.1h-7.9zM335.1 154.1h7.9v8.1h-7.9zM335.1 161.9h7.9v8.1h-7.9zM327.5 185.3h7.9v8.1h-7.9zM319.8 231.8h7.9v8h-7.9zM312.2 239.4h7.9v8h-7.9zM243.4 285.4h7.9v7.9h-7.9zM274 308.2h7.9v7.9h-7.9zM205.2 315.7h7.9v7.9h-7.9zM174.7 338.5h7.9v7.9h-7.9zM167 353.6h7.9v7.9h-7.9zM159.4 361.2h7.9v7.9h-7.9zM151.8 368.8h15.6v7.9h-15.6zM167 376.4h7.9v7.9h-7.9zM159.4 391.6h7.9v7.9h-7.9zM128.8 399.2h7.9v7.9h-7.9zM151.8 399.2h7.9v7.9h-7.9zM128.8 406.8h7.9v7.9h-7.9zM98.3 414.4h7.9v7.9h-7.9zM113.6 414.4h7.9v7.9h-7.9zM128.8 422h7.9v7.9h-7.9z"/><path fill="#ffd500" d="M327.5 84.6h7.9v8h-7.9zM342.8 270.1h7.9v8h-7.9zM319.8 277.8h7.9v8h-7.9zM319.8 285.4h7.9v7.9h-7.9zM235.8 330.9h7.9v7.9h-7.9zM220.5 338.5h7.9v7.9h-7.9zM220.5 353.6h7.9v7.9h-7.9zM212.9 361.2h7.9v7.9h-7.9zM90.6 414.4h7.9v7.9h-7.9z"/><path fill="#98ff67" d="M90.6 100h7.9v8h-7.9zM327.5 107.7h7.9v8h-7.9zM312.2 115.4h7.9v8h-7.9zM342.8 130.9h7.9v8h-7.9zM327.5 193.1h15.6v8.1h-15.6zM342.8 216.5h7.9v8h-7.9zM335.1 247.1h7.9v8h-7.9zM304.6 262.4h7.9v8h-7.9zM289.3 293h7.9v7.9h-7.9zM228.2 346h7.9v7.9h-7.9zM113.6 406.8h7.9v7.9h-7.9zM98.3 422h7.9v7.9h-7.9zM113.6 422h7.9v7.9h-7.9z"/><path fill="#67ff98" d="M304.6 115.4h7.9v8h-7.9zM319.8 123.2h7.9v8h-7.9zM312.2 130.9h7.9v8h-7.9zM335.1 138.6h7.9v8h-7.9zM312.2 146.3h7.9v8.1h-7.9zM319.8 169.7h15.6v8.1h-15.6zM319.8 185.3h7.9v8.1h-7.9zM312.2 208.7h7.9v8.1h-7.9zM319.8 254.8h15.6v8h-15.6zM342.8 254.8h7.9v8h-7.9zM327.5 270.1h7.9v8h-7.9zM251.1 285.4h7.9v7.9h-7.9zM281.6 293h7.9v7.9h-7.9zM251.1 300.6h7.9v7.9h-7.9zM235.8 323.3h7.9v7.9h-7.9zM182.3 330.9h7.9v7.9h-7.9zM98.3 376.4h7.9v7.9h-7.9z"/><path fill="#77ff88" d="M319.8 115.4h7.9v8h-7.9zM312.2 123.2h7.9v8h-7.9zM319.8 138.6h7.9v8h-7.9zM327.5 146.3h7.9v8.1h-7.9zM319.8 154.1h7.9v8.1h-7.9zM296.9 247.1h7.9v8h-7.9zM312.2 247.1h7.9v8h-7.9zM304.6 270.1h7.9v8h-7.9zM251.1 293h7.9v7.9h-7.9zM266.4 308.2h7.9v7.9h-7.9zM243.4 315.7h7.9v7.9h-7.9zM167 384h7.9v7.9h-7.9zM113.6 399.2h7.9v7.9h-7.9zM136.5 399.2h7.9v7.9h-7.9z"/><path fill="#37ffc8" d="M289.3 123.2h7.9v8h-7.9zM296.9 130.9h7.9v8h-7.9zM296.9 138.6h7.9v8h-7.9zM312.2 154.1h7.9v8.1h-7.9zM312.2 169.7h7.9v8.1h-7.9zM319.8 177.5h7.9v8.1h-7.9zM296.9 193.1h7.9v8.1h-7.9zM304.6 200.9h7.9v8.1h-7.9zM296.9 208.7h7.9v8.1h-7.9zM304.6 254.8h7.9v8h-7.9zM335.1 254.8h7.9v8h-7.9zM289.3 277.8h7.9v8h-7.9zM266.4 285.4h7.9v7.9h-7.9zM266.4 300.6h7.9v7.9h-7.9zM235.8 308.2h7.9v7.9h-7.9zM151.8 384h7.9v7.9h-7.9zM136.5 391.6h7.9v7.9h-7.9z"/><path fill="#47ffb8" d="M304.6 123.2h7.9v8h-7.9zM304.6 130.9h7.9v8h-7.9zM304.6 138.6h7.9v8h-7.9zM327.5 161.9h7.9v8.1h-7.9zM319.8 193.1h7.9v8.1h-7.9zM312.2 200.9h7.9v8.1h-7.9zM304.6 208.7h7.9v8.1h-7.9zM327.5 216.5h7.9v8h-7.9zM319.8 224.1h7.9v8h-7.9zM342.8 224.1h7.9v8h-7.9zM304.6 239.4h7.9v8h-7.9zM304.6 247.1h7.9v8h-7.9zM296.9 262.4h7.9v8h-7.9zM296.9 270.1h7.9v8h-7.9zM296.9 277.8h7.9v8h-7.9zM266.4 293h15.6v7.9h-15.6zM258.7 300.6h7.9v7.9h-7.9zM182.3 308.2h7.9v7.9h-7.9zM235.8 315.7h7.9v7.9h-7.9zM174.7 330.9h7.9v7.9h-7.9zM167 346h7.9v7.9h-7.9zM98.3 384h7.9v7.9h-7.9zM159.4 384h7.9v7.9h-7.9zM98.3 391.6h7.9v7.9h-7.9zM121.2 391.6h7.9v7.9h-7.9zM98.3 399.2h7.9v7.9h-7.9zM144.1 399.2h7.9v7.9h-7.9zM136.5 406.8h7.9v7.9h-7.9z"/><path fill="#57ffa8" d="M335.1 123.2h7.9v8h-7.9zM335.1 169.7h15.6v8.1h-15.6zM312.2 177.5h7.9v8.1h-7.9zM327.5 177.5h7.9v8.1h-7.9zM327.5 200.9h7.9v8.1h-7.9zM319.8 208.7h7.9v8.1h-7.9zM327.5 224.1h7.9v8h-7.9zM312.2 231.8h7.9v8h-7.9zM220.5 315.7h7.9v7.9h-7.9zM251.1 315.7h7.9v7.9h-7.9zM182.3 376.4h7.9v7.9h-7.9z"/><path fill="#26ffd9" d="M319.8 130.9h7.9v8h-7.9zM312.2 138.6h7.9v8h-7.9zM304.6 169.7h7.9v8.1h-7.9zM304.6 185.3h7.9v8.1h-7.9zM319.8 200.9h7.9v8.1h-7.9zM335.1 216.5h7.9v8h-7.9zM296.9 239.4h7.9v8h-7.9zM289.3 247.1h7.9v8h-7.9zM312.2 254.8h7.9v8h-7.9zM266.4 270.1h7.9v8h-7.9zM289.3 270.1h7.9v8h-7.9zM182.3 315.7h7.9v7.9h-7.9zM151.8 376.4h7.9v7.9h-7.9zM113.6 391.6h7.9v7.9h-7.9zM121.2 399.2h7.9v7.9h-7.9zM105.9 406.8h7.9v7.9h-7.9z"/><path fill="#ff4300" d="M212.9 315.7h7.9v7.9h-7.9zM197.6 353.6h7.9v7.9h-7.9z"/><path fill="#c00000" d="M228.2 323.3h7.9v7.9h-7.9z"/><path fill="#a00000" d="M243.4 330.9h7.9v7.9h-7.9zM251.1 338.5h7.9v7.9h-7.9z"/><path fill="#900000" d="M235.8 361.2h7.9v7.9h-7.9zM235.8 368.8h7.9v7.9h-7.9zM205.2 406.8h7.9v7.9h-7.9z"/><path fill="#f10000" d="M167 391.6h7.9v7.9h-7.9z"/><path fill="#b00000" d="M212.9 391.6h15.6v7.9h-15.6z"/><path fill="#e10000" d="M167 399.2h7.9v7.9h-7.9zM197.6 399.2h7.9v7.9h-7.9z"/></g><polyline points="276.3,-0.5 274.5,7.2 281.4,17.4 284.8,32.8 288.2,49.9 290,63.6 284.8,72.1 281.4,84.1" fill="none" stroke="#000" stroke-width="1.0" stroke-linejoin="round"/>\n<polyline points="279.7,99 279.7,101.2 277.1,108.1 284.8,116.6 290,123.4 283.1,133.7 277.1,140.6 281.4,147.4 272.8,152.5 274.5,159.4 283.1,162.8 279.7,169.6 276.3,176.5 281.4,179.9 272,188.4 274.5,197 283.1,200.4 272.8,205.5 267.7,216.7 265.1,219 260,225.8 270.3,232.6 265.1,242.9 260,251.4 256.6,258.2 249.8,263.3 244.7,271.8 236.2,278.6 229.4,283.7 231.1,292.2 224.3,300.8 222.6,308.4 217.5,311 205.5,314.4 197,307.6 189.4,299.1 186.8,304.2 178.3,312.7 173.2,319.5 166.4,322.9 165.5,334.8 162.9,345 152.7,357 145.9,368.9 140,372" fill="none" stroke="#000" stroke-width="1.0" stroke-linejoin="round"/>\n<polyline points="128,377 122.1,377.4 110.2,376.5 103.4,372.3 98.3,355.2 98.3,346.7" fill="none" stroke="#000" stroke-width="1.0" stroke-linejoin="round"/>\n<text font-size="12.5" fill="#000" transform="translate(282.5,90.5) rotate(-90)" text-anchor="middle">1.25</text>\n<text font-size="12.5" fill="#000" transform="translate(135,378) rotate(-15)" text-anchor="middle">1.25</text>\n<text font-size="12.5" fill="#000" transform="translate(259,262) rotate(-60)" text-anchor="middle">1.25</text>\n<polyline points="67,14 70,7 75.6,0.3" fill="none" stroke="#000" stroke-width="1.0" stroke-linejoin="round"/>\n<polyline points="83.3,79 88,86 93,98 98,110 101.2,126" fill="none" stroke="#000" stroke-width="1.0" stroke-linejoin="round"/>\n<path d="M233 14l2.3-2.3 2.3 2.3-2.3 2.3z M225.2 85l2.3-2.3 2.3 2.3-2.3 2.3z" fill="none" stroke="#000" stroke-width="1"/>
<path d="M59.1 45.4L75.1 45.4M61.4 39.7L72.8 51.1M67.1 37.4L67.1 53.4M72.8 39.7L61.4 51.1" stroke="#ff0000" stroke-width="1.1" fill="none"/>
<path d="M96.6 156.8L112.6 156.8M98.9 151.1L110.3 162.5M104.6 148.8L104.6 164.8M110.3 151.1L98.9 162.5" stroke="#ff0000" stroke-width="1.1" fill="none"/>
<path d="M105.3 249.8L121.3 249.8M107.6 244.1L119 255.5M113.3 241.8L113.3 257.8M119 244.1L107.6 255.5" stroke="#ff0000" stroke-width="1.1" fill="none"/>
<path d="M54.3 272L70.3 272M56.6 266.3L68 277.7M62.3 264L62.3 280M68 266.3L56.6 277.7" stroke="#ff0000" stroke-width="1.1" fill="none"/>
</g>
<g shape-rendering="crispEdges">
<rect x="3.8" y="19.8" width="2" height="25.5" fill="#000087"/>
<rect x="5.6" y="19.8" width="2" height="25.5" fill="#000097"/>
<rect x="7.4" y="19.8" width="2" height="25.5" fill="#0000a7"/>
<rect x="9.1" y="19.8" width="2" height="25.5" fill="#0000b7"/>
<rect x="10.9" y="19.8" width="2" height="25.5" fill="#0000c7"/>
<rect x="12.7" y="19.8" width="2" height="25.5" fill="#0000d7"/>
<rect x="14.5" y="19.8" width="2" height="25.5" fill="#0000e7"/>
<rect x="16.2" y="19.8" width="2" height="25.5" fill="#0000f7"/>
<rect x="18" y="19.8" width="2" height="25.5" fill="#0008ff"/>
<rect x="19.8" y="19.8" width="2" height="25.5" fill="#0018ff"/>
<rect x="21.6" y="19.8" width="2" height="25.5" fill="#0028ff"/>
<rect x="23.3" y="19.8" width="2" height="25.5" fill="#0038ff"/>
<rect x="25.1" y="19.8" width="2" height="25.5" fill="#0048ff"/>
<rect x="26.9" y="19.8" width="2" height="25.5" fill="#0058ff"/>
<rect x="28.7" y="19.8" width="2" height="25.5" fill="#0068ff"/>
<rect x="30.4" y="19.8" width="2" height="25.5" fill="#0078ff"/>
<rect x="32.2" y="19.8" width="2" height="25.5" fill="#0087ff"/>
<rect x="34" y="19.8" width="2" height="25.5" fill="#0097ff"/>
<rect x="35.8" y="19.8" width="2" height="25.5" fill="#00a7ff"/>
<rect x="37.6" y="19.8" width="2" height="25.5" fill="#00b7ff"/>
<rect x="39.3" y="19.8" width="2" height="25.5" fill="#00c7ff"/>
<rect x="41.1" y="19.8" width="2" height="25.5" fill="#00d7ff"/>
<rect x="42.9" y="19.8" width="2" height="25.5" fill="#00e7ff"/>
<rect x="44.7" y="19.8" width="2" height="25.5" fill="#00f7ff"/>
<rect x="46.4" y="19.8" width="2" height="25.5" fill="#08fff7"/>
<rect x="48.2" y="19.8" width="2" height="25.5" fill="#18ffe7"/>
<rect x="50" y="19.8" width="2" height="25.5" fill="#28ffd7"/>
<rect x="51.8" y="19.8" width="2" height="25.5" fill="#38ffc7"/>
<rect x="53.5" y="19.8" width="2" height="25.5" fill="#48ffb7"/>
<rect x="55.3" y="19.8" width="2" height="25.5" fill="#58ffa7"/>
<rect x="57.1" y="19.8" width="2" height="25.5" fill="#68ff97"/>
<rect x="58.9" y="19.8" width="2" height="25.5" fill="#78ff87"/>
<rect x="60.6" y="19.8" width="2" height="25.5" fill="#87ff78"/>
<rect x="62.4" y="19.8" width="2" height="25.5" fill="#97ff68"/>
<rect x="64.2" y="19.8" width="2" height="25.5" fill="#a7ff58"/>
<rect x="66" y="19.8" width="2" height="25.5" fill="#b7ff48"/>
<rect x="67.8" y="19.8" width="2" height="25.5" fill="#c7ff38"/>
<rect x="69.5" y="19.8" width="2" height="25.5" fill="#d7ff28"/>
<rect x="71.3" y="19.8" width="2" height="25.5" fill="#e7ff18"/>
<rect x="73.1" y="19.8" width="2" height="25.5" fill="#f7ff08"/>
<rect x="74.9" y="19.8" width="2" height="25.5" fill="#fff700"/>
<rect x="76.6" y="19.8" width="2" height="25.5" fill="#ffe700"/>
<rect x="78.4" y="19.8" width="2" height="25.5" fill="#ffd700"/>
<rect x="80.2" y="19.8" width="2" height="25.5" fill="#ffc700"/>
<rect x="82" y="19.8" width="2" height="25.5" fill="#ffb700"/>
<rect x="83.7" y="19.8" width="2" height="25.5" fill="#ffa700"/>
<rect x="85.5" y="19.8" width="2" height="25.5" fill="#ff9700"/>
<rect x="87.3" y="19.8" width="2" height="25.5" fill="#ff8700"/>
<rect x="89.1" y="19.8" width="2" height="25.5" fill="#ff7800"/>
<rect x="90.9" y="19.8" width="2" height="25.5" fill="#ff6800"/>
<rect x="92.6" y="19.8" width="2" height="25.5" fill="#ff5800"/>
<rect x="94.4" y="19.8" width="2" height="25.5" fill="#ff4800"/>
<rect x="96.2" y="19.8" width="2" height="25.5" fill="#ff3800"/>
<rect x="98" y="19.8" width="2" height="25.5" fill="#ff2800"/>
<rect x="99.7" y="19.8" width="2" height="25.5" fill="#ff1800"/>
<rect x="101.5" y="19.8" width="2" height="25.5" fill="#ff0800"/>
<rect x="103.3" y="19.8" width="2" height="25.5" fill="#f70000"/>
<rect x="105.1" y="19.8" width="2" height="25.5" fill="#e70000"/>
<rect x="106.8" y="19.8" width="2" height="25.5" fill="#d70000"/>
<rect x="108.6" y="19.8" width="2" height="25.5" fill="#c70000"/>
<rect x="110.4" y="19.8" width="2" height="25.5" fill="#b70000"/>
<rect x="112.2" y="19.8" width="2" height="25.5" fill="#a70000"/>
<rect x="113.9" y="19.8" width="2" height="25.5" fill="#970000"/>
<rect x="115.7" y="19.8" width="2" height="25.5" fill="#870000"/>
</g>
<rect x="3.8" y="19.8" width="113.7" height="25.5" fill="none" stroke="#262626" stroke-width="1"/>
<text x="2.8" y="7.3" font-size="18" fill="#262626" text-anchor="middle">0</text>
<text x="59.6" y="7.3" font-size="18" fill="#262626" text-anchor="middle">2</text>
<text x="115.1" y="7.3" font-size="18" fill="#262626" text-anchor="middle">4</text>
<text x="285.4" y="37.2" font-size="20" fill="#000">10 km</text><line x1="306.4" y1="43.6" x2="319.6" y2="43.6" stroke="#000" stroke-width="3.6" stroke-linecap="round"/>
</g>
<g transform="translate(843.7,142.4)">
<g clip-path="url(#pc)">
<path d="M51 126.1L50 117L46 112.5L40 108L35 103.5L36 102L42 106L48 111L52 116L54 126.5L53.6 126.5L60.4 127.5L70.6 131L76.7 134L82.8 136L86 130L88 134L91.1 141L96.2 144.1L96.2 146L101.3 155L108.5 167L113 176L117 190L118.4 200.2L118 210.4L116.3 225.5L113.5 240L110.5 247L104.5 248.5L100.3 252.9L90.2 258L80 261L69.7 266.1L61.5 271.2L53.4 276.3L44.2 282.5L34 291.6L23.8 300.8L13.6 312L4.5 323.2L-1 331L-1 333.6L5.4 325.2L14.6 314L24.8 302.8L35 293.6L45.2 284.5L54.4 278.3L62.5 273.2L70.7 268.1L80.9 263L91.1 260L101.3 254.9L105.3 250.8L114 250.5L114.4 248.6L115.5 241L118.1 225.7L119.6 210.4L120.1 200.2L118.6 190L114.5 175.7L110.4 167.5L106 158L102.3 149.2L99 142L99 142L96.2 136L92 127L88 118.6L86 112L82.9 101L78.8 85.7L75.8 70.4L72.7 57.1L70 50.5L67.6 44.9L66.5 40L64.6 32.6L62.5 25L60.8 17L59.1 12.2L55.7 10.1L51.4 11.4L47.2 12.2L38.7 10.5L31.9 8.8L26.8 5.4L22.6 4.6L19.2 6.3L18.4 13.1L13.3 14.8L9.5 15.3L4.8 15.6L-1 17.4L-1 141L1.3 140L11.5 134L23.7 129.5L36.7 127.5L35 127.5L33 122.5L29 119L23 114.6L24 113L30 117L35 121L37 127.5L40 127L50.2 126L51 126.1ZM72 90L77 99L81.5 108L84 118L84.5 126L77 124L75 118L73.5 110L71 102L67 95L63 88L59 80L56 74L54.5 66L55 60L57 52L62 52L62.5 60L64.5 70L67.5 80L72 90ZM22 130L20 130.6L13 126.5L6 121.5L3.5 119.5L5 118L12 122.5L18 127L22 130ZM68 116L73 121L75 131L72.5 131L71 123L67 118.5L61 114L62 112L68 116ZM94.1 153.3L90 153.3L93.1 161.4L97.2 167.5L101.3 172.6L106.4 175.7L106.4 171.6L101.3 164.5L97.2 157.3L94.1 153.3ZM24.8 239.9L31.9 239.9L38 238.9L44.2 235.9L50.3 230.8L56.4 225.7L60.5 216.5L64.6 210.4L72.7 203.2L74.7 206.3L82.9 205.3L89 199.1L88 196.1L90 185.9L89 169.6L85 157.3L80.9 149.2L72.7 147.1L64.6 149.2L60.5 159.4L58.4 169.6L57.4 189L54.4 193L52.3 179.8L52.3 162.4L55.4 156.3L56.4 149.2L51.3 145.1L42.1 144.1L29.9 145.1L22.8 149.2L12.6 147.1L-1 149.2L-1 233.8L1.3 233.8L3.4 230.8L8.5 235.9L11.5 233.8L17.7 236.9L24.8 239.9ZM19.7 283.5L14.6 281.4L9.5 277.3L5.4 276.3L0.8 281.4L-1 281.4L-1 321L1.3 320.2L5.4 317.1L12.6 307.9L19.7 299.8L24.8 292.6L25.8 286.5L19.7 283.5Z" fill="#80e080" fill-rule="evenodd" stroke="#000" stroke-width="1.1" stroke-linejoin="round"/>
<polygon points="-1,-1 20,-1 19.7,5.1 18.7,14.3 9.5,15.3 -1,17.4" fill="#fff"/>
<polyline points="105.3,250.8 101.3,254.9 91.1,260 80.9,263 70.7,268.1 62.5,273.2 54.4,278.3 45.2,284.5 35,293.6 24.8,302.8 14.6,314 5.4,325.2 -1,333.6" fill="none" stroke="#000" stroke-width="1.6"/>
<path d="M18.5 5.4h0m9.2 2.6h0m-14.7 7h0m3.8-0.2h0m0.9-5h0m2.2 1h0m4.5 3h0m3-4.2h0m2.1-0.6h0m2.4 1.7h0m1.4 0.6h0m4.5 0.6h0m0.2-1.3h0m3.3 0.1h0m5.3 3.6h0m0.7-1.2h0m3.6-0.4h0m3-1h0m0.8-1.4h0m1.5 0.3h0m0.1 3.1h0m0.7-2.4h0m-53.7 6.5h0m8.2 0.5h0m2.4-1h0m3.6 1.3h0m0.2-1h0m3-2.2h0m39.3 4.2h0m-53.7 5.1h0m27.8-0.9h0m26.7 2h0m0.7 0.5h0m-36.7 5.6h0m31.2 0.6h0m4.7-3.1h0m2.1-0.1h0m-59.1 5.8h0m59.1 2.8h0m1.1-1h0m0.4-1.4h0m0.8-0.7h0m0.3 3.1h0m0.8-1.1h0m0.3-0.9h0m-1.1 4.4h0m3.2 4.2h0m-28.8 1.8h0m0.6 0.7h0m1.4-0.6h0m1 4.3h0m0.2-3.4h0m0.9-0.2h0m0.1 1.8h0m1.8 1h0m0.3-1.8h0m2.8 2.6h0m5.3-1h0m0.7-1.9h0m4.9 0.2h0m0.2 2h0m0.2-0.9h0m1.5 1.8h0m1.1-1.4h0m0.9 1.2h0m3.3-4.4h0m-26.2 7.6h0m0.1 2.7h0m3.6-3.9h0m0.6 4.2h0m6.9-3.8h0m0.6 3.4h0m1.2 0.4h0m0-4h0m0.5 1.6h0m1.7 0h0m1.1 1.9h0m0.5-0.1h0m0.1-4.9h0m0.2 1.4h0m1.5-1.8h0m2.1 0.8h0m1.3 3.2h0m1.3-0.3h0m5.2 1h0m3.7-4.4h0m-57.8 9.2h0m24.5 1.1h0m1.5 0.2h0m0.3-1.6h0m2.4 2.8h0m0.3-5.4h0m1.2-0.4h0m0.9 3.7h0m2.5 0.7h0m0.1-3.9h0m0.5 0.2h0m0.9 4.1h0m1.4-1.1h0m0.6-3.3h0m0.1 3h0m0.2 0.3h0m0.3-0.1h0m0.6 1.3h0m1.2-2.5h0m2.3 2.6h0m3.2-1h0m2.1 0.5h0m3.1-1.7h0m0.3 1.1h0m2.3 0.3h0m1.9-1h0m3.1-0.8h0m0.2 0.3h0m-32.6 8.3h0m0.3-1.3h0m1.9-1.1h0m0.3-0.8h0m2.6 0.2h0m5.6 2.8h0m0.1-3.7h0m1 0h0m0.5 2h0m0-3h0m1.4 1.2h0m3.4 2.7h0m0.9 0.5h0m3.3 0.3h0m1.2-4h0m0.8 0.5h0m0 2.3h0m0.6 2.1h0m1.8-5.8h0m2.8 5h0m1.4-1.8h0m1.4-3.1h0m1.8 1.1h0m0 2.8h0m-63.1 6.1h0m30.1 1h0m0.7-3.1h0m4.2 3.9h0m0-2h0m1.1-3h0m0.6-0.9h0m0.4 1.8h0m0.4 0.9h0m1.1 2.1h0m1.5-4.9h0m0.5 0h0m0.8 4.8h0m1-4.8h0m0.1 0.9h0m2.2 1.7h0m0.7 0.6h0m1.7 0.1h0m2.1 0.1h0m0.6 1.8h0m1.8 0.4h0m2.3-2h0m0.8-0.2h0m0.5-2.4h0m0.8 0.2h0m0.2 0.6h0m0.1 3.6h0m1.9-2.4h0m2.8-1.5h0m0.5-1.5h0m1.2 5.9h0m1.1-0.5h0m0.2-0.4h0m0.2 0.5h0m1-1.9h0m-35.7 3.7h0m5.5 0.4h0m0.2 1.2h0m0.2 2.7h0m1.1-3.7h0m4.1 0.7h0m4-0.8h0m0.5-1.4h0m1.3 3.3h0m0.8 0.2h0m0.1-3.1h0m1.7-0.6h0m1.7 2h0m5.3-1.3h0m0.5-0.2h0m1.2 0.4h0m0 2.6h0m0.3 0.2h0m2.8 1.7h0m1.2-4.3h0m0.7 4.6h0m0.6-5.1h0m0.2 4.5h0m0.2-3.4h0m0.9-1.9h0m0.6 2.4h0m-33.4 6.9h0m0.2 0.5h0m2.3 1.9h0m0.7-1.6h0m1.5-3.2h0m0.8-0.6h0m4.6 3.3h0m2-1.9h0m1-0.2h0m1.7 3.6h0m0.5-1.3h0m0.2 0.3h0m1.2 0.6h0m1.3-4h0m2 2h0m2.7 0.8h0m0.4 1.6h0m0.1-4.6h0m2.4 3.4h0m1.8-1.8h0m0.2 1.4h0m0.2-3.3h0m2.7 5.3h0m1.3-4.2h0m0.2 4.5h0m0.6-3.8h0m0.5-0.2h0m1.8 0.1h0m1.6 3.6h0m-36.8 3.2h0m0.7-1.9h0m1.2 4.2h0m1-4.3h0m0 1.7h0m1.3-1.4h0m1.4 4.3h0m1.6-0.8h0m4.8-3h0m1.6-0.2h0m0.5 3h0m1.7-0.9h0m0.5-3.3h0m1.8 5.7h0m1.5-3.5h0m0.5-1.3h0m0 3.7h0m0.3-2.8h0m0.1 3.2h0m0.1-4.1h0m0 1.7h0m0.3 2.7h0m3.7 0.2h0m6.2-2.2h0m0-2.4h0m1.4 4.7h0m0.5-5h0m1.6 4.9h0m0.4-3h0m2 0.1h0m1.3 1.3h0m-41.8 4.4h0m1.3-1.7h0m10.3-0.2h0m0.4 0.6h0m0.5 3.9h0m1.9-1.1h0m0.8-3.3h0m0.7-0.4h0m2.2 1.4h0m1.3 2.7h0m1.6-2.6h0m1.8-1.7h0m3.3 0.9h0m0.3 1.7h0m0.8 0.5h0m0.6 2.6h0m0.1-4h0m1 2.9h0m0.8-1.8h0m0.5-2.4h0m3.3 1.9h0m1-0.1h0m0 1.6h0m3.7-3.3h0m1.6 3.9h0m0.1-2.5h0m0.9 0.8h0m0.4 1.7h0m0.1-2.7h0m1 2.6h0m0.7 0.7h0m-80.1 4.3h0m6.7-2.5h0m16.5 4.2h0m7.5-1.8h0m2.9 0.1h0m0.5-1.1h0m2.1-2h0m1.3 2.9h0m1.9 0.2h0m1.8 0.4h0m0.8-0.7h0m1.5-0.1h0m0.2 1.1h0m5.1-2.5h0m5.1 1.9h0m0.4 2.5h0m3.1-5.7h0m0.2 0.9h0m0.8-0.3h0m2.8 0.3h0m0.5 2.4h0m0.2 0.8h0m0.6 0.7h0m1-4.3h0m1.2 0.4h0m1.5 0.5h0m1.8 1.6h0m0.9-1.4h0m0.7 2.8h0m0.5-3.2h0m0.5 4.3h0m1.4-0.7h0m0.1-3.5h0m3.1-1.2h0m0.5 2.8h0m0.4 1h0m0.9-0.1h0m1.8-1.1h0m0.5 2.6h0m0.2-1.2h0m0.4-2.4h0m0.6 3h0m1.7-0.5h0m-82.3 1.7h0m8.8 4.4h0m4-2.8h0m0.2 2.8h0m0.9 1h0m0.5-2.7h0m1.3 0.7h0m2.4 2.3h0m5.4-2.8h0m2.8-1.3h0m3.8 2.3h0m5.4-2.1h0m3.8-1.4h0m0 2h0m1.3 2.6h0m3.6-2h0m0.1 2.6h0m4.6-1.6h0m3.4 0h0m3.1-2h0m3.4 1.6h0m0.4 0.1h0m1.3-3h0m0 4.2h0m0.6-3.3h0m1.1 1.8h0m1.1-0.8h0m1.1-0.4h0m0.6-0.3h0m2.3-1.8h0m1 5.5h0m0-3.2h0m0.6 1.9h0m1-3.7h0m0.4 1.3h0m0.3-1h0m0.1 3.5h0m1.7 1.4h0m0.8-5.5h0m2 3.2h0m1.9 0.6h0m1.8 0.7h0m2.9-3h0m1.2 0.9h0m0.3-1.1h0m-80.1 9.6h0m6-3.5h0m6.4 2.4h0m6-2.3h0m3.8 1.5h0m2.2 0.2h0m0.7 1.1h0m0.2-0.9h0m3.7 1.5h0m10.2-2.9h0m0.1-2.3h0m0.3 1.9h0m2.7 1.5h0m0.7-0.6h0m3-0.4h0m0.5 0.8h0m2.8-2.7h0m3.8 2h0m0 0.4h0m1.6-0.4h0m1.4 1.1h0m3 2.1h0m0.4-0.4h0m0.6-3.4h0m1.6-1.6h0m1.4 2.9h0m2.2-2.6h0m0.5-0.5h0m0.1 3.4h0m0.1-2.3h0m3.5 2.1h0m0.3-0.6h0m0.3-0.2h0m0.3 0.9h0m1.6 1.4h0m0.4-0.8h0m1.9 1.7h0m1-5.8h0m0.2 5.5h0m1 0.4h0m2.4-1h0m0-3.9h0m2.8 0.1h0m-84.6 7.7h0m6.7-1.1h0m0.7 0h0m2.3 0.4h0m2.2 1h0m0.2 2.4h0m2.6-0.7h0m7.1 0.8h0m3.4-5.2h0m1.5 0.3h0m0.8 0.9h0m1.9 3.3h0m0.7-3.8h0m7.2 3.1h0m3.9-2.6h0m1.7 1.9h0m0.5-3.1h0m4.9 1.5h0m0.9-0.7h0m4.9-0.7h0m4.5 1.8h0m4.7 1.6h0m1.2-0.1h0m0.1-3.2h0m1.9 2.6h0m1.9 1.9h0m0.6-3.7h0m6.1 0.6h0m3.6-0.6h0m2.9 0.3h0m2.5 0h0m1.3-0.9h0m0.3 0.6h0m-86.1 6.2h0m2.4 1.7h0m4.8-1.6h0m2.5 3.1h0m1.1-2.6h0m0.9-1.6h0m0.3 4.9h0m0.7-0.8h0m3.8-1.3h0m2.9 1.5h0m2.6-2.6h0m4.8 0.5h0m1.3 1.2h0m2.1-0.8h0m1.4-1.5h0m0.6 2.7h0m0-3h0m0.9 4.3h0m7.1-2h0m2.5-2.1h0m3.8 1.6h0m0.9-1.8h0m0.4 4.6h0m0.5-2.5h0m0.5-3.2h0m11 2.6h0m0-0.5h0m0 1.3h0m0.2-0.1h0m1.2 0h0m3.3 1.5h0m4.8-3h0m2.9 3.7h0m0.2-0.5h0m0.6-3.5h0m2 0.2h0m1.2 3h0m0-1.6h0m0.4-1.9h0m6.1 1.4h0m5.6 0.3h0m-84.5 4.4h0m4 2h0m0.5-2.2h0m5.1 3.5h0m1.5-3h0m0.7-1.1h0m25-0.7h0m0.9 0.5h0m22 5.4h0m1.9-3.2h0m6.5 0.1h0m4.4 1.5h0m0.6 0.8h0m3.4-2.6h0m4 2.6h0m1.1-2h0m0-0.5h0m0.7-0.8h0m0.7 2.7h0m1.5-1.7h0m2-1.1h0m2.2-0.3h0m0.1 2.3h0m0.7-0.4h0m3.9 1.9h0m-9.3 1h0m0.8 0.5h0m0.7 2.1h0m-90.4 4.4h0m15.9 3.8h0m13.1 0.3h0m8.2-1.6h0m0.9-0.9h0m1.1 1.9h0m0.2-0.5h0m3.7-1.4h0m1.6 0.8h0m3.1-0.7h0m0.8 0.5h0m0.3 0.6h0m15.3 1.1h0m9.7-0.3h0m22.6 0.3h0m0.3 0.2h0m0.7-5.1h0m1.4 2.9h0m0-1.1h0m0.2 3h0m0.1-2.3h0m-96.5 6.4h0m2.3-0.8h0m3.5-0.6h0m2.1 0h0m3.7-0.7h0m2.7 0.8h0m0 0.1h0m17.2-1.3h0m7.7 3.9h0m4.4-1.9h0m0.2 2.1h0m0.1-3.8h0m0 2.5h0m1.3-2.5h0m1.2-0.9h0m0 5.3h0m2.3 0.2h0m1.9-5.6h0m0.9 5.3h0m0.3-3.6h0m0.6 0.4h0m0.6 0.8h0m10.5-0.4h0m2.8 2.4h0m3.3-2.8h0m1.6 1.8h0m6.2-1.5h0m1.7 2h0m17.2-2.7h0m1.2-1.7h0m2.9 4.7h0m0.9-1.3h0m-94.8 6.7h0m0.3-3.2h0m15.9 1.1h0m17.8 1.1h0m3.9-0.6h0m0.5-2.3h0m3.4 1.1h0m1.3 4.7h0m1.6-4.2h0m0.7-1.4h0m0 0.8h0m1.6 0.7h0m6.7-1h0m1.3 4.2h0m0.8-3.2h0m1.6 0.8h0m2.3 3.2h0m1.7-2.6h0m3.9-1.3h0m4.7-0.1h0m2.6 0.4h0m1.8 3.7h0m6.5-0.7h0m1.7-1.8h0m12.8-2.5h0m0.9 3.7h0m-105.4 7.2h0m40.4-0.8h0m0.8-0.3h0m1.1-1.3h0m0-0.9h0m1.5-2.2h0m0.7 1.9h0m3.6 0.7h0m1.3-1.9h0m0.3 0.4h0m1.2 0h0m0.5 3.7h0m0.7-1.4h0m8.4 1h0m1.1-4.5h0m0.1 2.4h0m0.3-1.1h0m0.4 0.5h0m1.7-1.9h0m0.4 4.8h0m7.1-2.9h0m0.9 0.1h0m1.2-0.9h0m5 1.7h0m0.1 0.2h0m3.1-0.9h0m3.7 0.4h0m1.2 1.7h0m9.4 1h0m0.8-1.3h0m3.9 1h0m2.7-4.9h0m0.7 0.1h0m1.3 1.2h0m-103.2 7.5h0m26.7 0.8h0m13.5-1.4h0m0-0.2h0m1 2.9h0m0.9-2.4h0m1.3 2.3h0m0.2-4.3h0m1.3 1.8h0m0.3 2.2h0m0.4-2.3h0m0 0.6h0m0.4-0.8h0m0.6 3.8h0m0.3-3.7h0m2.6 2.5h0m0.1 1h0m7.2-1.7h0m0.7-0.6h0m0.9 0.6h0m0.7-2.1h0m0.7 2.7h0m1.2 0.4h0m0.8-3.8h0m2.5 2.3h0m0.6-1.9h0m6.1-1.3h0m0.9-0.4h0m2.9 1.4h0m3.2 0.9h0m3.8-1.1h0m1.3 1.7h0m1.5-0.2h0m5.2-0.1h0m2.2-1.2h0m0.1-0.7h0m4.5 2.4h0m0.1 1.5h0m0-0.7h0m1.8-3.4h0m1.3 1.8h0m4.4 3h0m0.9-4.9h0m2.7 4.8h0m0.2 0h0m1.7-4.9h0m4.9 0.5h0m-115.9 8.6h0m0.1-3.1h0m5.9 1.2h0m1.4-1.3h0m1.8 3.1h0m14.7-2.7h0m18 5h0m0.2-5.4h0m0.8 1.5h0m0.2 1.8h0m1.8 2.1h0m0.3-5.1h0m0.1 2.9h0m4.7-1.3h0m0.4 0.1h0m0.9-1.4h0m8.1 1.7h0m0.8-1.8h0m1.6 0.7h0m1.7 1.7h0m0.6 0.4h0m2.8 0.3h0m2.1 0.5h0m1-0.1h0m1.9 1h0m2.6-0.9h0m0.8-3.6h0m1.5 2.5h0m1.9 2.6h0m1.7-1.8h0m0.1-0.6h0m1 2.1h0m0.4-5.3h0m2 0.5h0m0.4 2.5h0m1.2-2.3h0m14.9 0.4h0m4 1.7h0m0.8 1.9h0m0.6-2.4h0m6.5 0.5h0m-78.7 7h0m8.2 0.5h0m0.2-4.3h0m1.2 5.2h0m0.8-1.2h0m3.2-3.3h0m0.3 4.6h0m1.6-5.4h0m0.2 1.4h0m0.3-0.1h0m7.5 3.1h0m0.9 0.7h0m0.2 0.6h0m0-1.2h0m1.4-2.1h0m5.6 2h0m0.8-0.3h0m0.4-2.3h0m1 1.6h0m1-2.3h0m0.8 1.9h0m2.6-2.9h0m0.9 2.9h0m1.1-1.7h0m2.1 4.6h0m3.3-3.3h0m2.1-2.2h0m5.1 2.9h0m0.5 2.5h0m1.6-0.3h0m0.1 0.2h0m12.8-3.6h0m12.1 0.8h0m0.2-0.4h0m0.2 1.3h0m0.2-0.3h0m0.5 0.5h0m-114.6 6.5h0m4.9-2.4h0m24.6-1.8h0m12.8 0.5h0m4.5 3.8h0m2.9-0.9h0m0.7-2h0m0.2 3.6h0m5.4-0.9h0m2.4-2.1h0m0.6-1.6h0m0.3 1h0m4-1.4h0m1.8 5.4h0m1.6-5h0m7.7 0.5h0m1.8-0.7h0m0.9 3.5h0m0.3-2.5h0m0 3.6h0m1.6 0.7h0m0.9-2h0m0.2-3.8h0m0.4 3.4h0m3.2 1h0m0.7-0.3h0m0.5 1.1h0m0.8-1.7h0m2.3 0.1h0m0 1.4h0m0.4-1.7h0m1.3-1.8h0m24.8 1.7h0m0.2-2.8h0m-69.6 10.7h0m1.8-2h0m2.1 1.1h0m1.8 1.5h0m0.1-1.5h0m0.2-3.6h0m1.7 1h0m0.8 4h0m0.9-1.3h0m0.9-1.8h0m2.6 3.3h0m0-1.5h0m1.6-0.6h0m8.6 1h0m1.6-3.9h0m1.5 2h0m9.2 0h0m1.2 0.2h0m3.2 1.8h0m2.6-3.7h0m27.4 0.3h0m0.2 0.4h0m2 2.8h0m1.1-4.4h0m-75.4 9.7h0m3.1-2.3h0m4.6 0.4h0m2.4 1h0m2.8 2.2h0m3.2-5.2h0m3.7 4.8h0m0.3 0.2h0m1.3-4.8h0m1.2 4.4h0m0.2-1.8h0m1.1-2.6h0m0.2 1.5h0m0.4 2.6h0m0.1-0.8h0m0.6 1.7h0m0.4-2.6h0m0.3 0.6h0m0.6-2.6h0m2.2 3.7h0m1 0h0m5.5 0.8h0m1.1-0.1h0m0.6 0h0m1.4-4.2h0m0.8 2.3h0m1.8-2.5h0m0.2 3.3h0m0.2-2.3h0m0.3 3h0m34.3 0.5h0m1.5 0.6h0m-116.9 1.3h0m36.5 4.5h0m2.5-4.2h0m3 3.7h0m3.5-2.3h0m0.3-2.1h0m3.9 3.9h0m1.2-1.1h0m1.3 2h0m9.5-1.8h0m1 1.6h0m1.5-4.6h0m0.4 1.4h0m2.6-0.5h0m2.3 0.8h0m4.7-1.6h0m0.1 3.3h0m0-0.6h0m0.2 0.7h0m3.2-0.7h0m1.6-2.9h0m0.4 2.2h0m0.1-0.9h0m27.6-0.1h0m5.5-1.1h0m1.8 0.5h0m0.4 3.9h0m1-3.1h0m-116.4 6.6h0m0.4-0.5h0m3.8 1.2h0m2.2-1.6h0m3 3.5h0m6.6-0.8h0m19.7-1.2h0m4.2 0.8h0m0.2 1.6h0m7.6-1.8h0m5.8-1.3h0m1.4-2h0m1.3 2.1h0m1 3.4h0m1.2-2.9h0m0.4-0.1h0m3-1.7h0m32.7 0.4h0m-93.1 7h0m33.5-2.1h0m2-0.3h0m1.2 3.5h0m1.2-1.5h0m3.2 1.9h0m0.9 0.9h0m0.2-5.1h0m1 4.2h0m5.4 0.2h0m0.7-2.5h0m0 0.3h0m1 2.5h0m3.1-2.4h0m0.8 0.3h0m0.6-1.6h0m0.8 0.4h0m32 4.1h0m18.9 0.3h0m6.3-0.6h0m0.4-1.8h0m0.5 1.5h0m-111.3 5.4h0m31.8-1.6h0m3.5 3h0m4-0.7h0m1.8-2.2h0m1.9 1.2h0m1.2-3.3h0m0.2 2.8h0m2.6-0.6h0m0.3 1.5h0m1.3-3.3h0m0.2 1.9h0m0.1 0.8h0m44.6-3.4h0m1.3 2.3h0m1.5 0.6h0m13.4-1.2h0m0.4 2.1h0m0.8-3.7h0m-116.7 10.3h0m3.8-2.4h0m7.7-0.4h0m1.3 3.3h0m16.3-1.5h0m4.3 0.8h0m2.8-0.2h0m1-0.3h0m0.7-3.8h0m1 2.3h0m2 0.5h0m3.7-2.6h0m0.8 2.8h0m2.4 2.3h0m0.2 0.3h0m1-2h0m1.1-3.1h0m2.1 0.3h0m0.6 0.5h0m3.9 1.8h0m33.4-0.5h0m23.4 1.7h0m0.5-1.9h0m0.7 0.1h0m-116.3 4.7h0m6.5 1.5h0m0.1 0h0m2.8-0.1h0m5.1-1.7h0m0.2 2.3h0m0.5 1.3h0m1.6 0.9h0m0.1-0.1h0m0.6-5.6h0m3.6 5.6h0m0.5-1h0m0.7 0.9h0m10.6-4.6h0m0.4 1.8h0m0.9 0.8h0m0.3-1.2h0m1.6 3h0m1.2-4.1h0m1.2 2.4h0m0.4-2.1h0m0.9 3.5h0m3.8-0.2h0m1.7-4.6h0m1.1 1.3h0m0 0.4h0m67.4 2.4h0m0.3 0.9h0m0.1-0.8h0m0.9-0.6h0m-96.7 2.3h0m2.4 2.5h0m1.2-1.2h0m5.4 0.7h0m1 0.3h0m0 0.1h0m3.8-0.3h0m0.6 0.3h0m1.2-1.2h0m1.3 0.7h0m4.2-0.8h0m42.1 4.7h0m31.2-0.3h0m0.3-2.5h0m0.8 1.4h0m3.3-2.8h0m-45.2 5.5h0m23.6 0.4h0m4.9 3.5h0m3.5-4.4h0m2.3 4.4h0m4.2-1.1h0m0 0.9h0m2.6-3.7h0m0.4 4.8h0m-44.5 2h0m31 1.7h0m1.7-1.1h0m0.7 1h0m0.4-2.6h0m1.5 0.8h0m0.4-0.9h0m-43.5 6.2h0m25.1 3.3h0m4.2 0.7h0m0.1-1.7h0m3.2-1.6h0m-51 6.2h0m2.2 3.2h0m23.8 0.5h0m4.5-0.5h0m4.5-2.2h0m0.1-0.8h0m4.8 3.4h0m4.2-5.5h0m-27.6 11.1h0m1.1-1.2h0m0.7-0.4h0m3.1 0.6h0m-61.4 7.7h0m1.9-0.6h0m2 0h0m0.4 0.2h0m2.8-0.1h0m42.5 0.5h0m1.9-2.4h0m1.9-1.3h0m1.4-2h0m-54.4 8.6h0m1 3.2h0m0.1-2h0m0.3-0.5h0m2.3-2.6h0m5.7 0.6h0m0.5 2.4h0m1.9 0.6h0m4.7-2h0m16.4 3.2h0m3.3-0.7h0m2.7 0h0m3.5-1.3h0m0.6-0.9h0m0.8-0.3h0m1.8-1.8h0m0.3 0.9h0m-49.3 8.6h0m5.6 1.6h0m6.2-4.5h0m3.4 2.1h0m4-0.4h0m0.9-2.6h0m0.5 3.6h0m0-4h0m1.5 0.4h0m1.5 4.9h0m0.4-3h0m12.5 3.6h0m1.2-0.6h0m1.4-4.6h0m0.7 1.1h0m1.2 1.1h0m-34.4 8.4h0m5.5-2.5h0m2.9 1.9h0m3.7 1.2h0m2.4-1.1h0m0.3-1.6h0m25.3-0.8h0m-44.5 4.5h0m3.2 2h0m3.2 1.3h0m1.6-1.6h0m0.2 2.5h0m2.3 0.5h0m1.4-2.1h0m0.2-2.7h0m0.9 0.5h0m5.4-0.2h0m4.4 2.5h0m2.3 0.2h0m4.4-3.2h0m-31.6 8.6h0m0.7 1.3h0m6.5 1.3h0m1.4-1.2h0m2.3 0.2h0m0-0.9h0m3.4-3.1h0m1.5-0.6h0m4 4.4h0m2.6-1.8h0m3-2.3h0m-19.9 5.7h0m0.4 1.8h0m0.3 3.9h0m1.3-2.3h0m0.6 2.3h0m0.5-2.9h0m0.7-2.1h0m0.7 0.2h0m6.2 3.1h0m0.7-3.2h0m0.1 0h0m2.1 1.2h0m-19.5 6.4h0m1-0.2h0m2.1-1.6h0m6.2 2.8h0m1.7-0.8h0m-5.8 6.1h0m0.5 0.7h0m0.2 0.5h0m-4 2.1h0" stroke="#000" stroke-width="2.4" stroke-linecap="round" fill="none"/>
<g stroke="#c0c0c0" stroke-width="0.8" stroke-dasharray="3,5" fill="none">
<line x1="0" y1="72.3" x2="348" y2="72.3"/>
<line x1="0" y1="143.8" x2="348" y2="143.8"/>
<line x1="0" y1="216" x2="348" y2="216"/>
<line x1="0" y1="287" x2="348" y2="287"/>
<line x1="0" y1="357.2" x2="348" y2="357.2"/>
<line x1="58" y1="0" x2="58" y2="427.6"/>
<line x1="116" y1="0" x2="116" y2="427.6"/>
<line x1="174" y1="0" x2="174" y2="427.6"/>
<line x1="232" y1="0" x2="232" y2="427.6"/>
<line x1="290" y1="0" x2="290" y2="427.6"/>
</g>
<g stroke="#555" stroke-width="0.8">
<line x1="0" y1="72.3" x2="4" y2="72.3"/><line x1="344" y1="72.3" x2="348" y2="72.3"/>
<line x1="0" y1="143.8" x2="4" y2="143.8"/><line x1="344" y1="143.8" x2="348" y2="143.8"/>
<line x1="0" y1="216" x2="4" y2="216"/><line x1="344" y1="216" x2="348" y2="216"/>
<line x1="0" y1="287" x2="4" y2="287"/><line x1="344" y1="287" x2="348" y2="287"/>
<line x1="0" y1="357.2" x2="4" y2="357.2"/><line x1="344" y1="357.2" x2="348" y2="357.2"/>
<line x1="58" y1="0" x2="58" y2="4"/><line x1="58" y1="423.6" x2="58" y2="427.6"/>
<line x1="116" y1="0" x2="116" y2="4"/><line x1="116" y1="423.6" x2="116" y2="427.6"/>
<line x1="174" y1="0" x2="174" y2="4"/><line x1="174" y1="423.6" x2="174" y2="427.6"/>
<line x1="232" y1="0" x2="232" y2="4"/><line x1="232" y1="423.6" x2="232" y2="427.6"/>
<line x1="290" y1="0" x2="290" y2="4"/><line x1="290" y1="423.6" x2="290" y2="427.6"/>
</g>
<g shape-rendering="crispEdges"><path fill="#0073ff" d="M67.7 -1.1h7.9v8.1h-7.9zM182.3 -1.1h7.9v8.1h-7.9zM197.6 -1.1h7.9v8.1h-7.9zM266.4 6.7h7.9v8.1h-7.9zM243.4 14.5h7.9v8.1h-7.9zM182.3 30.1h7.9v8.1h-7.9zM205.2 37.9h7.9v8.1h-7.9zM182.3 53.5h7.9v8.1h-7.9zM190 61.3h7.9v8.1h-7.9zM151.8 69.1h7.9v8.1h-7.9zM251.1 69.1h7.9v8.1h-7.9zM144.1 76.9h7.9v8h-7.9zM182.3 76.9h7.9v8h-7.9zM90.6 92.3h7.9v8h-7.9zM228.2 92.3h7.9v8h-7.9zM190 107.7h7.9v8h-7.9zM190 115.4h7.9v8h-7.9zM212.9 115.4h7.9v8h-7.9zM243.4 130.9h7.9v8h-7.9zM121.2 193.1h7.9v8.1h-7.9zM220.5 193.1h7.9v8.1h-7.9zM220.5 200.9h15.6v8.1h-15.6zM228.2 216.5h7.9v8h-7.9zM212.9 231.8h7.9v8h-7.9zM98.3 254.8h7.9v8h-7.9zM228.2 262.4h7.9v8h-7.9zM190 270.1h7.9v8h-7.9zM182.3 277.8h7.9v8h-7.9zM44.8 293h7.9v7.9h-7.9zM197.6 293h7.9v7.9h-7.9zM44.8 300.6h7.9v7.9h-7.9zM67.7 308.2h7.9v7.9h-7.9zM67.7 315.7h7.9v7.9h-7.9zM75.4 323.3h7.9v7.9h-7.9zM52.4 330.9h7.9v7.9h-7.9zM98.3 330.9h7.9v7.9h-7.9zM105.9 346h7.9v7.9h-7.9zM90.6 361.2h7.9v7.9h-7.9z"/><path fill="#00d4ff" d="M75.4 -1.1h7.9v8.1h-7.9zM121.2 14.5h7.9v8.1h-7.9zM105.9 22.3h7.9v8.1h-7.9zM144.1 30.1h7.9v8.1h-7.9zM121.2 45.7h7.9v8.1h-7.9zM128.8 61.3h7.9v8.1h-7.9zM83 69.1h7.9v8.1h-7.9zM83 76.9h7.9v8h-7.9zM105.9 84.6h15.6v8h-15.6zM144.1 92.3h7.9v8h-7.9zM128.8 100h7.9v8h-7.9zM144.1 107.7h7.9v8h-7.9zM197.6 138.6h7.9v8h-7.9zM182.3 154.1h7.9v8.1h-7.9zM205.2 154.1h7.9v8.1h-7.9zM190 169.7h7.9v8.1h-7.9zM205.2 177.5h7.9v8.1h-7.9zM197.6 193.1h7.9v8.1h-7.9zM205.2 200.9h7.9v8.1h-7.9zM212.9 208.7h7.9v8.1h-7.9zM190 216.5h15.6v8h-15.6zM182.3 224.1h7.9v8h-7.9zM197.6 239.4h7.9v8h-7.9zM90.6 262.4h7.9v8h-7.9zM105.9 262.4h7.9v8h-7.9zM174.7 262.4h7.9v8h-7.9zM113.6 270.1h7.9v8h-7.9zM113.6 277.8h7.9v8h-7.9zM167 277.8h7.9v8h-7.9zM144.1 285.4h7.9v7.9h-7.9zM159.4 285.4h7.9v7.9h-7.9zM144.1 308.2h7.9v7.9h-7.9zM113.6 315.7h7.9v7.9h-7.9zM136.5 323.3h7.9v7.9h-7.9z"/><path fill="#16ffe9" d="M83 -1.1h15.6v8.1h-15.6zM105.9 53.5h7.9v8.1h-7.9zM105.9 61.3h7.9v8.1h-7.9zM128.8 84.6h7.9v8h-7.9zM105.9 92.3h7.9v8h-7.9zM113.6 100h7.9v8h-7.9zM121.2 115.4h7.9v8h-7.9zM167 146.3h7.9v8.1h-7.9zM174.7 177.5h7.9v8.1h-7.9zM128.8 185.3h7.9v8.1h-7.9zM174.7 185.3h7.9v8.1h-7.9zM167 193.1h7.9v8.1h-7.9zM174.7 216.5h7.9v8h-7.9zM167 224.1h7.9v8h-7.9zM174.7 231.8h7.9v8h-7.9zM159.4 254.8h7.9v8h-7.9zM174.7 254.8h7.9v8h-7.9zM144.1 262.4h7.9v8h-7.9zM90.6 270.1h7.9v8h-7.9zM136.5 270.1h7.9v8h-7.9zM159.4 270.1h7.9v8h-7.9zM90.6 285.4h7.9v7.9h-7.9zM113.6 285.4h7.9v7.9h-7.9zM113.6 293h7.9v7.9h-7.9zM136.5 293h7.9v7.9h-7.9zM136.5 300.6h7.9v7.9h-7.9zM121.2 308.2h15.6v7.9h-15.6zM128.8 315.7h7.9v7.9h-7.9z"/><path fill="#00e5ff" d="M98.3 -1.1h7.9v8.1h-7.9zM113.6 -1.1h7.9v8.1h-7.9zM105.9 6.7h7.9v8.1h-7.9zM105.9 14.5h15.6v8.1h-15.6zM121.2 22.3h7.9v8.1h-7.9zM144.1 22.3h7.9v8.1h-7.9zM98.3 30.1h7.9v8.1h-7.9zM121.2 30.1h15.6v8.1h-15.6zM113.6 37.9h7.9v8.1h-7.9zM113.6 45.7h7.9v8.1h-7.9zM144.1 45.7h7.9v8.1h-7.9zM151.8 53.5h7.9v8.1h-7.9zM75.4 61.3h7.9v8.1h-7.9zM121.2 61.3h7.9v8.1h-7.9zM121.2 69.1h7.9v8.1h-7.9zM136.5 69.1h7.9v8.1h-7.9zM105.9 76.9h7.9v8h-7.9zM128.8 76.9h7.9v8h-7.9zM113.6 92.3h7.9v8h-7.9zM128.8 92.3h7.9v8h-7.9zM98.3 100h7.9v8h-7.9zM144.1 100h7.9v8h-7.9zM98.3 107.7h7.9v8h-7.9zM128.8 107.7h15.6v8h-15.6zM159.4 107.7h7.9v8h-7.9zM128.8 115.4h15.6v8h-15.6zM151.8 115.4h7.9v8h-7.9zM144.1 123.2h7.9v8h-7.9zM159.4 123.2h15.6v8h-15.6zM174.7 130.9h7.9v8h-7.9zM190 138.6h7.9v8h-7.9zM174.7 146.3h7.9v8.1h-7.9zM174.7 161.9h23.2v8.1h-23.2zM174.7 169.7h7.9v8.1h-7.9zM121.2 177.5h7.9v8.1h-7.9zM182.3 177.5h15.6v8.1h-15.6zM182.3 185.3h7.9v8.1h-7.9zM128.8 193.1h7.9v8.1h-7.9zM182.3 193.1h7.9v8.1h-7.9zM128.8 208.7h7.9v8.1h-7.9zM190 208.7h7.9v8.1h-7.9zM182.3 216.5h7.9v8h-7.9zM197.6 224.1h7.9v8h-7.9zM182.3 231.8h15.6v8h-15.6zM105.9 254.8h7.9v8h-7.9zM182.3 254.8h7.9v8h-7.9zM144.1 270.1h15.6v8h-15.6zM52.4 277.8h7.9v8h-7.9zM105.9 285.4h7.9v7.9h-7.9zM52.4 293h7.9v7.9h-7.9zM90.6 293h7.9v7.9h-7.9zM60.1 300.6h23.2v7.9h-23.2zM105.9 300.6h7.9v7.9h-7.9zM144.1 300.6h7.9v7.9h-7.9zM136.5 315.7h7.9v7.9h-7.9zM121.2 323.3h7.9v7.9h-7.9z"/><path fill="#00f5ff" d="M105.9 -1.1h7.9v8.1h-7.9zM128.8 14.5h7.9v8.1h-7.9zM98.3 37.9h7.9v8.1h-7.9zM113.6 53.5h7.9v8.1h-7.9zM113.6 61.3h7.9v8.1h-7.9zM121.2 92.3h7.9v8h-7.9zM128.8 123.2h7.9v8h-7.9zM174.7 123.2h7.9v8h-7.9zM174.7 138.6h15.6v8h-15.6zM182.3 146.3h7.9v8.1h-7.9zM174.7 154.1h7.9v8.1h-7.9zM182.3 169.7h7.9v8.1h-7.9zM174.7 200.9h7.9v8.1h-7.9zM182.3 208.7h7.9v8.1h-7.9zM128.8 216.5h7.9v8h-7.9zM174.7 239.4h15.6v8h-15.6zM182.3 247.1h7.9v8h-7.9zM98.3 285.4h7.9v7.9h-7.9zM105.9 293h7.9v7.9h-7.9zM105.9 308.2h15.6v7.9h-15.6zM128.8 323.3h7.9v7.9h-7.9z"/><path fill="#0094ff" d="M121.2 -1.1h7.9v8.1h-7.9zM144.1 -1.1h7.9v8.1h-7.9zM67.7 6.7h7.9v8.1h-7.9zM128.8 22.3h15.6v8.1h-15.6zM136.5 30.1h7.9v8.1h-7.9zM151.8 37.9h7.9v8.1h-7.9zM182.3 37.9h7.9v8.1h-7.9zM136.5 61.3h15.6v8.1h-15.6zM159.4 61.3h15.6v8.1h-15.6zM121.2 84.6h7.9v8h-7.9zM159.4 84.6h7.9v8h-7.9zM167 92.3h23.2v8h-23.2zM151.8 100h7.9v8h-7.9zM182.3 107.7h7.9v8h-7.9zM197.6 146.3h7.9v8.1h-7.9zM212.9 169.7h7.9v8.1h-7.9zM212.9 177.5h15.6v8.1h-15.6zM197.6 185.3h7.9v8.1h-7.9zM197.6 200.9h7.9v8.1h-7.9zM205.2 239.4h7.9v8h-7.9zM190 262.4h7.9v8h-7.9zM159.4 277.8h7.9v8h-7.9zM167 285.4h7.9v7.9h-7.9zM83 300.6h7.9v7.9h-7.9zM151.8 300.6h15.6v7.9h-15.6zM144.1 323.3h7.9v7.9h-7.9zM105.9 330.9h7.9v7.9h-7.9zM128.8 330.9h15.6v7.9h-15.6zM113.6 361.2h7.9v7.9h-7.9z"/><path fill="#0063ff" d="M128.8 -1.1h7.9v8.1h-7.9zM205.2 -1.1h7.9v8.1h-7.9zM159.4 6.7h7.9v8.1h-7.9zM174.7 6.7h7.9v8.1h-7.9zM258.7 6.7h7.9v8.1h-7.9zM205.2 22.3h7.9v8.1h-7.9zM167 30.1h15.6v8.1h-15.6zM190 30.1h7.9v8.1h-7.9zM167 45.7h7.9v8.1h-7.9zM258.7 45.7h7.9v8.1h-7.9zM220.5 53.5h7.9v8.1h-7.9zM75.4 69.1h7.9v8.1h-7.9zM182.3 69.1h7.9v8.1h-7.9zM174.7 84.6h7.9v8h-7.9zM205.2 92.3h7.9v8h-7.9zM197.6 107.7h7.9v8h-7.9zM212.9 107.7h7.9v8h-7.9zM205.2 115.4h7.9v8h-7.9zM220.5 115.4h7.9v8h-7.9zM235.8 115.4h7.9v8h-7.9zM190 123.2h7.9v8h-7.9zM205.2 123.2h7.9v8h-7.9zM220.5 123.2h7.9v8h-7.9zM235.8 123.2h7.9v8h-7.9zM205.2 130.9h7.9v8h-7.9zM212.9 146.3h7.9v8.1h-7.9zM228.2 161.9h7.9v8.1h-7.9zM228.2 169.7h7.9v8.1h-7.9zM228.2 193.1h7.9v8.1h-7.9zM212.9 200.9h7.9v8.1h-7.9zM121.2 208.7h7.9v8.1h-7.9zM220.5 208.7h15.6v8.1h-15.6zM296.9 216.5h7.9v8h-7.9zM243.4 224.1h7.9v8h-7.9zM220.5 231.8h7.9v8h-7.9zM205.2 247.1h7.9v8h-7.9zM212.9 254.8h7.9v8h-7.9zM197.6 262.4h7.9v8h-7.9zM212.9 270.1h7.9v8h-7.9zM205.2 277.8h15.6v8h-15.6zM174.7 285.4h7.9v7.9h-7.9zM197.6 285.4h7.9v7.9h-7.9zM220.5 285.4h7.9v7.9h-7.9zM98.3 315.7h7.9v7.9h-7.9zM52.4 323.3h7.9v7.9h-7.9zM83 323.3h7.9v7.9h-7.9zM98.3 323.3h7.9v7.9h-7.9zM98.3 338.5h7.9v7.9h-7.9zM121.2 361.2h15.6v7.9h-15.6zM90.6 384h7.9v7.9h-7.9zM98.3 391.6h7.9v7.9h-7.9zM83 399.2h7.9v7.9h-7.9z"/><path fill="#00a4ff" d="M136.5 -1.1h7.9v8.1h-7.9zM159.4 22.3h7.9v8.1h-7.9zM159.4 30.1h7.9v8.1h-7.9zM136.5 53.5h7.9v8.1h-7.9zM159.4 53.5h7.9v8.1h-7.9zM167 69.1h7.9v8.1h-7.9zM136.5 76.9h7.9v8h-7.9zM182.3 100h7.9v8h-7.9zM167 107.7h7.9v8h-7.9zM197.6 115.4h7.9v8h-7.9zM182.3 123.2h7.9v8h-7.9zM205.2 169.7h7.9v8.1h-7.9zM205.2 185.3h7.9v8.1h-7.9zM205.2 224.1h7.9v8h-7.9zM190 254.8h7.9v8h-7.9zM220.5 254.8h7.9v8h-7.9zM151.8 285.4h7.9v7.9h-7.9zM52.4 300.6h7.9v7.9h-7.9zM98.3 300.6h7.9v7.9h-7.9zM75.4 308.2h7.9v7.9h-7.9zM121.2 330.9h7.9v7.9h-7.9zM105.9 338.5h7.9v7.9h-7.9zM105.9 361.2h7.9v7.9h-7.9zM98.3 368.8h7.9v7.9h-7.9z"/><path fill="#0084ff" d="M151.8 -1.1h7.9v8.1h-7.9zM174.7 -1.1h7.9v8.1h-7.9zM243.4 -1.1h7.9v8.1h-7.9zM128.8 6.7h7.9v8.1h-7.9zM151.8 6.7h7.9v8.1h-7.9zM136.5 14.5h7.9v8.1h-7.9zM159.4 14.5h15.6v8.1h-15.6zM220.5 14.5h7.9v8.1h-7.9zM159.4 45.7h7.9v8.1h-7.9zM167 53.5h7.9v8.1h-7.9zM151.8 61.3h7.9v8.1h-7.9zM174.7 61.3h7.9v8.1h-7.9zM159.4 69.1h7.9v8.1h-7.9zM174.7 69.1h7.9v8.1h-7.9zM159.4 76.9h7.9v8h-7.9zM151.8 84.6h7.9v8h-7.9zM159.4 92.3h7.9v8h-7.9zM174.7 100h7.9v8h-7.9zM98.3 123.2h7.9v8h-7.9zM212.9 123.2h7.9v8h-7.9zM220.5 130.9h7.9v8h-7.9zM205.2 138.6h15.6v8h-15.6zM220.5 146.3h7.9v8.1h-7.9zM220.5 154.1h7.9v8.1h-7.9zM212.9 161.9h7.9v8.1h-7.9zM121.2 185.3h7.9v8.1h-7.9zM212.9 185.3h15.6v8.1h-15.6zM212.9 193.1h7.9v8.1h-7.9zM121.2 200.9h7.9v8.1h-7.9zM212.9 216.5h7.9v8h-7.9zM205.2 231.8h7.9v8h-7.9zM197.6 247.1h7.9v8h-7.9zM212.9 247.1h7.9v8h-7.9zM98.3 262.4h7.9v8h-7.9zM182.3 270.1h7.9v8h-7.9zM174.7 277.8h7.9v8h-7.9zM212.9 285.4h7.9v7.9h-7.9zM167 293h7.9v7.9h-7.9zM52.4 308.2h15.6v7.9h-15.6zM83 308.2h7.9v7.9h-7.9zM98.3 308.2h7.9v7.9h-7.9zM151.8 308.2h7.9v7.9h-7.9zM83 315.7h7.9v7.9h-7.9zM151.8 315.7h7.9v7.9h-7.9zM90.6 323.3h7.9v7.9h-7.9zM121.2 346h7.9v7.9h-7.9zM98.3 353.6h7.9v7.9h-7.9zM113.6 353.6h7.9v7.9h-7.9zM105.9 368.8h7.9v7.9h-7.9zM98.3 376.4h7.9v7.9h-7.9z"/><path fill="#0053ff" d="M159.4 -1.1h15.6v8.1h-15.6zM190 -1.1h7.9v8.1h-7.9zM266.4 -1.1h7.9v8.1h-7.9zM205.2 6.7h7.9v8.1h-7.9zM174.7 14.5h7.9v8.1h-7.9zM190 14.5h7.9v8.1h-7.9zM205.2 14.5h15.6v8.1h-15.6zM235.8 14.5h7.9v8.1h-7.9zM258.7 14.5h15.6v8.1h-15.6zM167 22.3h7.9v8.1h-7.9zM182.3 22.3h7.9v8.1h-7.9zM197.6 22.3h7.9v8.1h-7.9zM212.9 22.3h7.9v8.1h-7.9zM235.8 22.3h15.6v8.1h-15.6zM205.2 30.1h15.6v8.1h-15.6zM235.8 30.1h7.9v8.1h-7.9zM159.4 37.9h15.6v8.1h-15.6zM190 37.9h7.9v8.1h-7.9zM212.9 37.9h7.9v8.1h-7.9zM182.3 45.7h7.9v8.1h-7.9zM205.2 45.7h15.6v8.1h-15.6zM243.4 45.7h7.9v8.1h-7.9zM174.7 53.5h7.9v8.1h-7.9zM212.9 53.5h7.9v8.1h-7.9zM182.3 61.3h7.9v8.1h-7.9zM228.2 61.3h7.9v8.1h-7.9zM258.7 61.3h7.9v8.1h-7.9zM75.4 76.9h7.9v8h-7.9zM167 76.9h15.6v8h-15.6zM228.2 76.9h7.9v8h-7.9zM83 84.6h7.9v8h-7.9zM167 84.6h7.9v8h-7.9zM190 84.6h7.9v8h-7.9zM190 92.3h7.9v8h-7.9zM235.8 92.3h7.9v8h-7.9zM90.6 100h7.9v8h-7.9zM205.2 100h15.6v8h-15.6zM205.2 107.7h7.9v8h-7.9zM228.2 107.7h15.6v8h-15.6zM235.8 130.9h7.9v8h-7.9zM228.2 138.6h23.2v8h-23.2zM228.2 146.3h23.2v8.1h-23.2zM228.2 154.1h7.9v8.1h-7.9zM220.5 161.9h7.9v8.1h-7.9zM228.2 177.5h7.9v8.1h-7.9zM228.2 185.3h15.6v8.1h-15.6zM121.2 216.5h7.9v8h-7.9zM220.5 216.5h7.9v8h-7.9zM235.8 216.5h7.9v8h-7.9zM304.6 216.5h7.9v8h-7.9zM220.5 224.1h7.9v8h-7.9zM212.9 239.4h23.2v8h-23.2zM220.5 247.1h7.9v8h-7.9zM235.8 247.1h7.9v8h-7.9zM251.1 247.1h7.9v8h-7.9zM212.9 262.4h7.9v8h-7.9zM197.6 270.1h15.6v8h-15.6zM220.5 270.1h7.9v8h-7.9zM190 277.8h15.6v8h-15.6zM220.5 277.8h7.9v8h-7.9zM182.3 285.4h15.6v7.9h-15.6zM205.2 285.4h7.9v7.9h-7.9zM174.7 293h15.6v7.9h-15.6zM167 300.6h15.6v7.9h-15.6zM44.8 308.2h7.9v7.9h-7.9zM52.4 315.7h15.6v7.9h-15.6zM75.4 315.7h7.9v7.9h-7.9zM90.6 315.7h7.9v7.9h-7.9zM159.4 315.7h7.9v7.9h-7.9zM60.1 323.3h15.6v7.9h-15.6zM151.8 323.3h7.9v7.9h-7.9zM60.1 330.9h15.6v7.9h-15.6zM83 330.9h15.6v7.9h-15.6zM44.8 338.5h7.9v7.9h-7.9zM60.1 338.5h7.9v7.9h-7.9zM90.6 338.5h7.9v7.9h-7.9zM121.2 338.5h23.2v7.9h-23.2zM98.3 346h7.9v7.9h-7.9zM128.8 346h7.9v7.9h-7.9zM90.6 353.6h7.9v7.9h-7.9zM121.2 353.6h15.6v7.9h-15.6zM113.6 368.8h7.9v7.9h-7.9zM105.9 376.4h7.9v7.9h-7.9zM105.9 384h7.9v7.9h-7.9zM90.6 391.6h7.9v7.9h-7.9zM75.4 399.2h7.9v7.9h-7.9zM90.6 399.2h7.9v7.9h-7.9zM75.4 406.8h15.6v7.9h-15.6zM75.4 414.4h15.6v7.9h-15.6zM67.7 422h15.6v7.9h-15.6z"/><path fill="#0012ff" d="M212.9 -1.1h7.9v8.1h-7.9zM228.2 -1.1h7.9v8.1h-7.9zM281.6 -1.1h7.9v8.1h-7.9zM228.2 6.7h7.9v8.1h-7.9zM274 14.5h15.6v8.1h-15.6zM258.7 22.3h15.6v8.1h-15.6zM342.8 22.3h7.9v8.1h-7.9zM220.5 37.9h15.6v8.1h-15.6zM243.4 37.9h7.9v8.1h-7.9zM289.3 37.9h7.9v8.1h-7.9zM319.8 37.9h7.9v8.1h-7.9zM190 53.5h7.9v8.1h-7.9zM228.2 53.5h7.9v8.1h-7.9zM243.4 53.5h7.9v8.1h-7.9zM258.7 53.5h7.9v8.1h-7.9zM274 53.5h7.9v8.1h-7.9zM327.5 53.5h7.9v8.1h-7.9zM212.9 61.3h7.9v8.1h-7.9zM235.8 61.3h7.9v8.1h-7.9zM251.1 61.3h7.9v8.1h-7.9zM274 61.3h7.9v8.1h-7.9zM197.6 69.1h15.6v8.1h-15.6zM228.2 69.1h7.9v8.1h-7.9zM243.4 69.1h7.9v8.1h-7.9zM190 76.9h15.6v8h-15.6zM243.4 76.9h7.9v8h-7.9zM258.7 76.9h7.9v8h-7.9zM205.2 84.6h15.6v8h-15.6zM235.8 84.6h15.6v8h-15.6zM220.5 92.3h7.9v8h-7.9zM243.4 92.3h7.9v8h-7.9zM258.7 92.3h7.9v8h-7.9zM228.2 100h15.6v8h-15.6zM266.4 100h7.9v8h-7.9zM220.5 107.7h7.9v8h-7.9zM258.7 107.7h7.9v8h-7.9zM251.1 115.4h23.2v8h-23.2zM228.2 123.2h7.9v8h-7.9zM296.9 123.2h7.9v8h-7.9zM258.7 130.9h7.9v8h-7.9zM258.7 138.6h15.6v8h-15.6zM266.4 146.3h7.9v8.1h-7.9zM243.4 154.1h15.6v8.1h-15.6zM266.4 154.1h7.9v8.1h-7.9zM289.3 161.9h7.9v8.1h-7.9zM327.5 161.9h7.9v8.1h-7.9zM342.8 161.9h7.9v8.1h-7.9zM327.5 169.7h7.9v8.1h-7.9zM251.1 177.5h7.9v8.1h-7.9zM327.5 177.5h7.9v8.1h-7.9zM243.4 185.3h7.9v8.1h-7.9zM243.4 193.1h7.9v8.1h-7.9zM251.1 200.9h7.9v8.1h-7.9zM274 200.9h7.9v8.1h-7.9zM243.4 208.7h15.6v8.1h-15.6zM281.6 208.7h7.9v8.1h-7.9zM266.4 216.5h7.9v8h-7.9zM281.6 216.5h7.9v8h-7.9zM312.2 216.5h7.9v8h-7.9zM258.7 224.1h7.9v8h-7.9zM289.3 224.1h7.9v8h-7.9zM304.6 224.1h7.9v8h-7.9zM327.5 224.1h7.9v8h-7.9zM342.8 224.1h7.9v8h-7.9zM235.8 231.8h7.9v8h-7.9zM251.1 231.8h15.6v8h-15.6zM281.6 231.8h7.9v8h-7.9zM296.9 231.8h7.9v8h-7.9zM243.4 239.4h7.9v8h-7.9zM258.7 239.4h7.9v8h-7.9zM274 239.4h15.6v8h-15.6zM312.2 239.4h7.9v8h-7.9zM327.5 239.4h23.2v8h-23.2zM243.4 247.1h7.9v8h-7.9zM266.4 247.1h15.6v8h-15.6zM319.8 247.1h7.9v8h-7.9zM342.8 247.1h7.9v8h-7.9zM274 254.8h7.9v8h-7.9zM304.6 254.8h7.9v8h-7.9zM319.8 254.8h23.2v8h-23.2zM235.8 262.4h7.9v8h-7.9zM251.1 262.4h7.9v8h-7.9zM312.2 262.4h7.9v8h-7.9zM327.5 262.4h7.9v8h-7.9zM228.2 270.1h15.6v8h-15.6zM266.4 270.1h23.2v8h-23.2zM312.2 270.1h7.9v8h-7.9zM335.1 270.1h7.9v8h-7.9zM266.4 277.8h15.6v8h-15.6zM289.3 277.8h7.9v8h-7.9zM304.6 277.8h15.6v8h-15.6zM327.5 277.8h15.6v8h-15.6zM228.2 285.4h15.6v7.9h-15.6zM266.4 285.4h7.9v7.9h-7.9zM304.6 285.4h7.9v7.9h-7.9zM327.5 285.4h7.9v7.9h-7.9zM342.8 285.4h7.9v7.9h-7.9zM212.9 293h7.9v7.9h-7.9zM243.4 293h7.9v7.9h-7.9zM274 293h7.9v7.9h-7.9zM289.3 293h7.9v7.9h-7.9zM319.8 293h30.9v7.9h-30.9zM228.2 300.6h7.9v7.9h-7.9zM251.1 300.6h23.2v7.9h-23.2zM312.2 300.6h7.9v7.9h-7.9zM335.1 300.6h15.6v7.9h-15.6zM182.3 308.2h15.6v7.9h-15.6zM212.9 308.2h7.9v7.9h-7.9zM228.2 308.2h30.9v7.9h-30.9zM266.4 308.2h15.6v7.9h-15.6zM304.6 308.2h7.9v7.9h-7.9zM319.8 308.2h15.6v7.9h-15.6zM190 315.7h7.9v7.9h-7.9zM251.1 315.7h15.6v7.9h-15.6zM281.6 315.7h7.9v7.9h-7.9zM296.9 315.7h7.9v7.9h-7.9zM319.8 315.7h7.9v7.9h-7.9zM44.8 323.3h7.9v7.9h-7.9zM159.4 323.3h7.9v7.9h-7.9zM174.7 323.3h15.6v7.9h-15.6zM197.6 323.3h15.6v7.9h-15.6zM251.1 323.3h15.6v7.9h-15.6zM304.6 323.3h15.6v7.9h-15.6zM335.1 323.3h15.6v7.9h-15.6zM44.8 330.9h7.9v7.9h-7.9zM167 330.9h23.2v7.9h-23.2zM197.6 330.9h7.9v7.9h-7.9zM243.4 330.9h7.9v7.9h-7.9zM258.7 330.9h7.9v7.9h-7.9zM274 330.9h30.9v7.9h-30.9zM312.2 330.9h7.9v7.9h-7.9zM327.5 330.9h7.9v7.9h-7.9zM342.8 330.9h7.9v7.9h-7.9zM37.2 338.5h7.9v7.9h-7.9zM144.1 338.5h7.9v7.9h-7.9zM174.7 338.5h7.9v7.9h-7.9zM220.5 338.5h7.9v7.9h-7.9zM243.4 338.5h30.9v7.9h-30.9zM296.9 338.5h7.9v7.9h-7.9zM319.8 338.5h7.9v7.9h-7.9zM335.1 338.5h15.6v7.9h-15.6zM29.5 346h15.6v7.9h-15.6zM90.6 346h7.9v7.9h-7.9zM144.1 346h7.9v7.9h-7.9zM243.4 346h7.9v7.9h-7.9zM258.7 346h7.9v7.9h-7.9zM312.2 346h7.9v7.9h-7.9zM29.5 353.6h7.9v7.9h-7.9zM44.8 353.6h15.6v7.9h-15.6zM67.7 353.6h15.6v7.9h-15.6zM251.1 353.6h15.6v7.9h-15.6zM304.6 353.6h7.9v7.9h-7.9zM21.9 361.2h23.2v7.9h-23.2zM67.7 361.2h7.9v7.9h-7.9zM83 361.2h7.9v7.9h-7.9zM144.1 361.2h7.9v7.9h-7.9zM251.1 361.2h7.9v7.9h-7.9zM14.2 368.8h7.9v7.9h-7.9zM44.8 368.8h7.9v7.9h-7.9zM60.1 368.8h7.9v7.9h-7.9zM83 368.8h7.9v7.9h-7.9zM159.4 368.8h7.9v7.9h-7.9zM29.5 376.4h7.9v7.9h-7.9zM60.1 376.4h15.6v7.9h-15.6zM83 376.4h7.9v7.9h-7.9zM159.4 376.4h7.9v7.9h-7.9zM327.5 376.4h7.9v7.9h-7.9zM21.9 384h15.6v7.9h-15.6zM121.2 384h7.9v7.9h-7.9zM21.9 391.6h7.9v7.9h-7.9zM52.4 391.6h7.9v7.9h-7.9zM67.7 391.6h15.6v7.9h-15.6zM29.5 399.2h7.9v7.9h-7.9zM105.9 399.2h7.9v7.9h-7.9zM190 399.2h7.9v7.9h-7.9zM289.3 399.2h7.9v7.9h-7.9zM319.8 399.2h7.9v7.9h-7.9zM44.8 406.8h7.9v7.9h-7.9zM60.1 406.8h7.9v7.9h-7.9zM90.6 406.8h15.6v7.9h-15.6zM113.6 406.8h7.9v7.9h-7.9zM197.6 406.8h7.9v7.9h-7.9zM52.4 414.4h15.6v7.9h-15.6zM90.6 414.4h7.9v7.9h-7.9zM296.9 414.4h7.9v7.9h-7.9zM83 422h7.9v7.9h-7.9zM98.3 422h7.9v7.9h-7.9zM251.1 422h7.9v7.9h-7.9zM281.6 422h7.9v7.9h-7.9z"/><path fill="#0033ff" d="M220.5 -1.1h7.9v8.1h-7.9zM251.1 -1.1h15.6v8.1h-15.6zM144.1 6.7h7.9v8.1h-7.9zM167 6.7h7.9v8.1h-7.9zM182.3 6.7h7.9v8.1h-7.9zM197.6 14.5h7.9v8.1h-7.9zM190 22.3h7.9v8.1h-7.9zM220.5 22.3h7.9v8.1h-7.9zM220.5 30.1h7.9v8.1h-7.9zM174.7 37.9h7.9v8.1h-7.9zM197.6 37.9h7.9v8.1h-7.9zM235.8 37.9h7.9v8.1h-7.9zM251.1 37.9h7.9v8.1h-7.9zM190 45.7h7.9v8.1h-7.9zM220.5 45.7h7.9v8.1h-7.9zM251.1 45.7h7.9v8.1h-7.9zM266.4 45.7h7.9v8.1h-7.9zM197.6 53.5h7.9v8.1h-7.9zM243.4 61.3h7.9v8.1h-7.9zM190 69.1h7.9v8.1h-7.9zM258.7 69.1h15.6v8.1h-15.6zM251.1 76.9h7.9v8h-7.9zM182.3 84.6h7.9v8h-7.9zM197.6 100h7.9v8h-7.9zM251.1 107.7h7.9v8h-7.9zM266.4 107.7h7.9v8h-7.9zM243.4 115.4h7.9v8h-7.9zM243.4 123.2h7.9v8h-7.9zM266.4 123.2h7.9v8h-7.9zM228.2 130.9h7.9v8h-7.9zM235.8 154.1h7.9v8.1h-7.9zM243.4 161.9h7.9v8.1h-7.9zM220.5 169.7h7.9v8.1h-7.9zM243.4 177.5h7.9v8.1h-7.9zM251.1 185.3h7.9v8.1h-7.9zM243.4 200.9h7.9v8.1h-7.9zM243.4 216.5h15.6v8h-15.6zM274 216.5h7.9v8h-7.9zM342.8 216.5h7.9v8h-7.9zM228.2 224.1h7.9v8h-7.9zM251.1 224.1h7.9v8h-7.9zM274 224.1h15.6v8h-15.6zM296.9 224.1h7.9v8h-7.9zM312.2 231.8h7.9v8h-7.9zM289.3 239.4h7.9v8h-7.9zM319.8 239.4h7.9v8h-7.9zM90.6 247.1h15.6v8h-15.6zM312.2 247.1h7.9v8h-7.9zM258.7 254.8h7.9v8h-7.9zM281.6 254.8h7.9v8h-7.9zM342.8 254.8h7.9v8h-7.9zM220.5 262.4h7.9v8h-7.9zM319.8 262.4h7.9v8h-7.9zM251.1 270.1h15.6v8h-15.6zM296.9 270.1h7.9v8h-7.9zM235.8 277.8h7.9v8h-7.9zM251.1 277.8h7.9v8h-7.9zM281.6 277.8h7.9v8h-7.9zM319.8 277.8h7.9v8h-7.9zM274 285.4h7.9v7.9h-7.9zM220.5 293h7.9v7.9h-7.9zM266.4 293h7.9v7.9h-7.9zM281.6 293h7.9v7.9h-7.9zM304.6 293h7.9v7.9h-7.9zM182.3 300.6h7.9v7.9h-7.9zM212.9 300.6h15.6v7.9h-15.6zM90.6 308.2h7.9v7.9h-7.9zM167 308.2h15.6v7.9h-15.6zM197.6 308.2h15.6v7.9h-15.6zM44.8 315.7h7.9v7.9h-7.9zM174.7 315.7h7.9v7.9h-7.9zM197.6 315.7h7.9v7.9h-7.9zM220.5 315.7h7.9v7.9h-7.9zM304.6 315.7h7.9v7.9h-7.9zM167 323.3h7.9v7.9h-7.9zM327.5 323.3h7.9v7.9h-7.9zM205.2 330.9h7.9v7.9h-7.9zM319.8 330.9h7.9v7.9h-7.9zM52.4 338.5h7.9v7.9h-7.9zM83 338.5h7.9v7.9h-7.9zM167 338.5h7.9v7.9h-7.9zM228.2 338.5h7.9v7.9h-7.9zM312.2 338.5h7.9v7.9h-7.9zM83 346h7.9v7.9h-7.9zM251.1 346h7.9v7.9h-7.9zM266.4 346h7.9v7.9h-7.9zM60.1 353.6h7.9v7.9h-7.9zM98.3 361.2h7.9v7.9h-7.9zM37.2 368.8h7.9v7.9h-7.9zM52.4 368.8h7.9v7.9h-7.9zM52.4 376.4h7.9v7.9h-7.9zM121.2 376.4h15.6v7.9h-15.6zM52.4 384h7.9v7.9h-7.9zM67.7 384h15.6v7.9h-15.6zM98.3 384h7.9v7.9h-7.9zM113.6 384h7.9v7.9h-7.9zM83 391.6h7.9v7.9h-7.9zM67.7 399.2h7.9v7.9h-7.9zM44.8 414.4h7.9v7.9h-7.9zM52.4 422h7.9v7.9h-7.9z"/><path fill="#0022ff" d="M235.8 -1.1h7.9v8.1h-7.9zM274 -1.1h7.9v8.1h-7.9zM190 6.7h15.6v8.1h-15.6zM251.1 6.7h7.9v8.1h-7.9zM174.7 22.3h7.9v8.1h-7.9zM174.7 45.7h7.9v8.1h-7.9zM228.2 45.7h7.9v8.1h-7.9zM205.2 53.5h7.9v8.1h-7.9zM220.5 61.3h7.9v8.1h-7.9zM220.5 76.9h7.9v8h-7.9zM235.8 76.9h7.9v8h-7.9zM258.7 84.6h15.6v8h-15.6zM251.1 100h7.9v8h-7.9zM228.2 115.4h7.9v8h-7.9zM258.7 123.2h7.9v8h-7.9zM212.9 130.9h7.9v8h-7.9zM251.1 130.9h7.9v8h-7.9zM266.4 130.9h7.9v8h-7.9zM220.5 138.6h7.9v8h-7.9zM251.1 146.3h7.9v8.1h-7.9zM251.1 161.9h15.6v8.1h-15.6zM235.8 169.7h7.9v8.1h-7.9zM235.8 193.1h7.9v8.1h-7.9zM251.1 193.1h7.9v8.1h-7.9zM235.8 200.9h7.9v8.1h-7.9zM235.8 208.7h7.9v8.1h-7.9zM258.7 216.5h7.9v8h-7.9zM335.1 216.5h7.9v8h-7.9zM212.9 224.1h7.9v8h-7.9zM235.8 224.1h7.9v8h-7.9zM312.2 224.1h7.9v8h-7.9zM335.1 224.1h7.9v8h-7.9zM258.7 247.1h7.9v8h-7.9zM304.6 247.1h7.9v8h-7.9zM228.2 254.8h7.9v8h-7.9zM266.4 254.8h7.9v8h-7.9zM296.9 254.8h7.9v8h-7.9zM274 262.4h7.9v8h-7.9zM335.1 262.4h7.9v8h-7.9zM289.3 270.1h7.9v8h-7.9zM319.8 270.1h7.9v8h-7.9zM243.4 277.8h7.9v8h-7.9zM296.9 277.8h7.9v8h-7.9zM251.1 285.4h7.9v7.9h-7.9zM281.6 285.4h7.9v7.9h-7.9zM319.8 285.4h7.9v7.9h-7.9zM228.2 293h7.9v7.9h-7.9zM258.7 293h7.9v7.9h-7.9zM296.9 293h7.9v7.9h-7.9zM312.2 293h7.9v7.9h-7.9zM205.2 300.6h7.9v7.9h-7.9zM281.6 300.6h15.6v7.9h-15.6zM220.5 308.2h7.9v7.9h-7.9zM258.7 308.2h7.9v7.9h-7.9zM281.6 308.2h7.9v7.9h-7.9zM312.2 308.2h7.9v7.9h-7.9zM335.1 308.2h7.9v7.9h-7.9zM167 315.7h7.9v7.9h-7.9zM212.9 315.7h7.9v7.9h-7.9zM235.8 315.7h15.6v7.9h-15.6zM312.2 315.7h7.9v7.9h-7.9zM327.5 315.7h7.9v7.9h-7.9zM342.8 315.7h7.9v7.9h-7.9zM190 323.3h7.9v7.9h-7.9zM243.4 323.3h7.9v7.9h-7.9zM319.8 323.3h7.9v7.9h-7.9zM190 330.9h7.9v7.9h-7.9zM251.1 330.9h7.9v7.9h-7.9zM151.8 338.5h7.9v7.9h-7.9zM274 338.5h23.2v7.9h-23.2zM52.4 346h15.6v7.9h-15.6zM136.5 346h7.9v7.9h-7.9zM151.8 346h7.9v7.9h-7.9zM228.2 346h7.9v7.9h-7.9zM37.2 353.6h7.9v7.9h-7.9zM44.8 361.2h15.6v7.9h-15.6zM21.9 368.8h7.9v7.9h-7.9zM67.7 368.8h15.6v7.9h-15.6zM83 384h7.9v7.9h-7.9zM29.5 391.6h7.9v7.9h-7.9zM105.9 391.6h7.9v7.9h-7.9zM67.7 406.8h7.9v7.9h-7.9zM67.7 414.4h7.9v7.9h-7.9z"/><path fill="#0000e1" d="M289.3 -1.1h7.9v8.1h-7.9zM319.8 -1.1h7.9v8.1h-7.9zM235.8 6.7h7.9v8.1h-7.9zM281.6 6.7h7.9v8.1h-7.9zM335.1 6.7h7.9v8.1h-7.9zM289.3 14.5h7.9v8.1h-7.9zM312.2 14.5h7.9v8.1h-7.9zM327.5 14.5h23.2v8.1h-23.2zM274 22.3h30.9v8.1h-30.9zM312.2 22.3h7.9v8.1h-7.9zM327.5 22.3h15.6v8.1h-15.6zM266.4 30.1h30.9v8.1h-30.9zM327.5 30.1h15.6v8.1h-15.6zM296.9 37.9h7.9v8.1h-7.9zM312.2 37.9h7.9v8.1h-7.9zM335.1 37.9h7.9v8.1h-7.9zM289.3 45.7h7.9v8.1h-7.9zM304.6 45.7h7.9v8.1h-7.9zM319.8 45.7h7.9v8.1h-7.9zM335.1 45.7h15.6v8.1h-15.6zM281.6 53.5h15.6v8.1h-15.6zM319.8 53.5h7.9v8.1h-7.9zM342.8 53.5h7.9v8.1h-7.9zM281.6 61.3h7.9v8.1h-7.9zM296.9 61.3h7.9v8.1h-7.9zM319.8 61.3h30.9v8.1h-30.9zM212.9 69.1h7.9v8.1h-7.9zM274 69.1h7.9v8.1h-7.9zM289.3 69.1h7.9v8.1h-7.9zM304.6 69.1h7.9v8.1h-7.9zM319.8 69.1h7.9v8.1h-7.9zM335.1 69.1h7.9v8.1h-7.9zM205.2 76.9h7.9v8h-7.9zM274 76.9h7.9v8h-7.9zM296.9 76.9h15.6v8h-15.6zM327.5 76.9h7.9v8h-7.9zM342.8 76.9h7.9v8h-7.9zM296.9 84.6h7.9v8h-7.9zM319.8 84.6h15.6v8h-15.6zM342.8 84.6h7.9v8h-7.9zM274 92.3h7.9v8h-7.9zM289.3 92.3h7.9v8h-7.9zM319.8 92.3h7.9v8h-7.9zM335.1 92.3h15.6v8h-15.6zM274 100h38.5v8h-38.5zM281.6 107.7h7.9v8h-7.9zM296.9 107.7h7.9v8h-7.9zM319.8 107.7h7.9v8h-7.9zM335.1 107.7h7.9v8h-7.9zM296.9 115.4h7.9v8h-7.9zM312.2 115.4h7.9v8h-7.9zM274 123.2h15.6v8h-15.6zM319.8 123.2h7.9v8h-7.9zM342.8 123.2h7.9v8h-7.9zM274 130.9h30.9v8h-30.9zM335.1 130.9h15.6v8h-15.6zM312.2 138.6h15.6v8h-15.6zM342.8 138.6h7.9v8h-7.9zM274 146.3h7.9v8.1h-7.9zM289.3 146.3h15.6v8.1h-15.6zM327.5 146.3h15.6v8.1h-15.6zM296.9 154.1h7.9v8.1h-7.9zM312.2 154.1h7.9v8.1h-7.9zM335.1 154.1h15.6v8.1h-15.6zM266.4 161.9h7.9v8.1h-7.9zM281.6 161.9h7.9v8.1h-7.9zM304.6 161.9h15.6v8.1h-15.6zM335.1 161.9h7.9v8.1h-7.9zM258.7 169.7h7.9v8.1h-7.9zM274 169.7h23.2v8.1h-23.2zM312.2 169.7h7.9v8.1h-7.9zM274 177.5h7.9v8.1h-7.9zM296.9 177.5h7.9v8.1h-7.9zM312.2 177.5h7.9v8.1h-7.9zM274 185.3h7.9v8.1h-7.9zM289.3 185.3h23.2v8.1h-23.2zM319.8 185.3h7.9v8.1h-7.9zM274 193.1h7.9v8.1h-7.9zM296.9 193.1h7.9v8.1h-7.9zM327.5 193.1h23.2v8.1h-23.2zM266.4 200.9h7.9v8.1h-7.9zM281.6 200.9h7.9v8.1h-7.9zM296.9 200.9h15.6v8.1h-15.6zM342.8 200.9h7.9v8.1h-7.9zM266.4 208.7h7.9v8.1h-7.9zM296.9 208.7h15.6v8.1h-15.6zM335.1 208.7h15.6v8.1h-15.6zM289.3 231.8h7.9v8h-7.9zM304.6 239.4h7.9v8h-7.9zM29.5 308.2h7.9v7.9h-7.9zM220.5 323.3h7.9v7.9h-7.9zM212.9 330.9h7.9v7.9h-7.9zM228.2 330.9h7.9v7.9h-7.9zM182.3 338.5h7.9v7.9h-7.9zM197.6 338.5h7.9v7.9h-7.9zM212.9 338.5h7.9v7.9h-7.9zM14.2 346h7.9v7.9h-7.9zM159.4 346h7.9v7.9h-7.9zM182.3 346h7.9v7.9h-7.9zM197.6 346h7.9v7.9h-7.9zM220.5 346h7.9v7.9h-7.9zM281.6 346h7.9v7.9h-7.9zM296.9 346h7.9v7.9h-7.9zM327.5 346h7.9v7.9h-7.9zM14.2 353.6h15.6v7.9h-15.6zM182.3 353.6h23.2v7.9h-23.2zM220.5 353.6h15.6v7.9h-15.6zM274 353.6h23.2v7.9h-23.2zM312.2 353.6h7.9v7.9h-7.9zM151.8 361.2h23.2v7.9h-23.2zM190 361.2h7.9v7.9h-7.9zM205.2 361.2h15.6v7.9h-15.6zM228.2 361.2h15.6v7.9h-15.6zM266.4 361.2h38.5v7.9h-38.5zM312.2 361.2h30.9v7.9h-30.9zM6.6 368.8h7.9v7.9h-7.9zM136.5 368.8h7.9v7.9h-7.9zM151.8 368.8h7.9v7.9h-7.9zM190 368.8h7.9v7.9h-7.9zM212.9 368.8h7.9v7.9h-7.9zM228.2 368.8h23.2v7.9h-23.2zM266.4 368.8h15.6v7.9h-15.6zM304.6 368.8h7.9v7.9h-7.9zM319.8 368.8h23.2v7.9h-23.2zM151.8 376.4h7.9v7.9h-7.9zM167 376.4h15.6v7.9h-15.6zM220.5 376.4h30.9v7.9h-30.9zM258.7 376.4h38.5v7.9h-38.5zM319.8 376.4h7.9v7.9h-7.9zM342.8 376.4h7.9v7.9h-7.9zM44.8 384h7.9v7.9h-7.9zM136.5 384h7.9v7.9h-7.9zM159.4 384h7.9v7.9h-7.9zM197.6 384h15.6v7.9h-15.6zM220.5 384h7.9v7.9h-7.9zM243.4 384h7.9v7.9h-7.9zM274 384h53.8v7.9h-53.8zM14.2 391.6h7.9v7.9h-7.9zM37.2 391.6h7.9v7.9h-7.9zM128.8 391.6h7.9v7.9h-7.9zM144.1 391.6h15.6v7.9h-15.6zM174.7 391.6h7.9v7.9h-7.9zM190 391.6h7.9v7.9h-7.9zM220.5 391.6h7.9v7.9h-7.9zM243.4 391.6h7.9v7.9h-7.9zM258.7 391.6h23.2v7.9h-23.2zM289.3 391.6h7.9v7.9h-7.9zM312.2 391.6h7.9v7.9h-7.9zM327.5 391.6h7.9v7.9h-7.9zM14.2 399.2h15.6v7.9h-15.6zM37.2 399.2h7.9v7.9h-7.9zM144.1 399.2h7.9v7.9h-7.9zM167 399.2h7.9v7.9h-7.9zM182.3 399.2h7.9v7.9h-7.9zM205.2 399.2h7.9v7.9h-7.9zM243.4 399.2h7.9v7.9h-7.9zM274 399.2h7.9v7.9h-7.9zM296.9 399.2h23.2v7.9h-23.2zM327.5 399.2h15.6v7.9h-15.6zM6.6 406.8h7.9v7.9h-7.9zM21.9 406.8h15.6v7.9h-15.6zM136.5 406.8h7.9v7.9h-7.9zM151.8 406.8h7.9v7.9h-7.9zM174.7 406.8h23.2v7.9h-23.2zM220.5 406.8h7.9v7.9h-7.9zM243.4 406.8h7.9v7.9h-7.9zM258.7 406.8h15.6v7.9h-15.6zM296.9 406.8h15.6v7.9h-15.6zM6.6 414.4h15.6v7.9h-15.6zM37.2 414.4h7.9v7.9h-7.9zM98.3 414.4h7.9v7.9h-7.9zM113.6 414.4h23.2v7.9h-23.2zM174.7 414.4h7.9v7.9h-7.9zM251.1 414.4h7.9v7.9h-7.9zM289.3 414.4h7.9v7.9h-7.9zM304.6 414.4h15.6v7.9h-15.6zM327.5 414.4h7.9v7.9h-7.9zM105.9 422h23.2v7.9h-23.2zM151.8 422h7.9v7.9h-7.9zM167 422h23.2v7.9h-23.2zM205.2 422h15.6v7.9h-15.6zM258.7 422h7.9v7.9h-7.9zM274 422h7.9v7.9h-7.9zM304.6 422h7.9v7.9h-7.9zM335.1 422h15.6v7.9h-15.6z"/><path fill="#0000d0" d="M296.9 -1.1h7.9v8.1h-7.9zM289.3 6.7h7.9v8.1h-7.9zM304.6 14.5h7.9v8.1h-7.9zM319.8 22.3h7.9v8.1h-7.9zM258.7 37.9h7.9v8.1h-7.9zM274 37.9h7.9v8.1h-7.9zM327.5 37.9h7.9v8.1h-7.9zM342.8 37.9h7.9v8.1h-7.9zM304.6 53.5h7.9v8.1h-7.9zM335.1 53.5h7.9v8.1h-7.9zM312.2 76.9h7.9v8h-7.9zM274 84.6h7.9v8h-7.9zM281.6 92.3h7.9v8h-7.9zM319.8 100h7.9v8h-7.9zM342.8 100h7.9v8h-7.9zM274 107.7h7.9v8h-7.9zM289.3 115.4h7.9v8h-7.9zM327.5 115.4h7.9v8h-7.9zM289.3 123.2h7.9v8h-7.9zM327.5 123.2h7.9v8h-7.9zM327.5 130.9h7.9v8h-7.9zM274 138.6h7.9v8h-7.9zM289.3 138.6h7.9v8h-7.9zM327.5 138.6h7.9v8h-7.9zM304.6 146.3h7.9v8.1h-7.9zM342.8 146.3h7.9v8.1h-7.9zM281.6 154.1h7.9v8.1h-7.9zM319.8 161.9h7.9v8.1h-7.9zM266.4 177.5h7.9v8.1h-7.9zM281.6 177.5h15.6v8.1h-15.6zM342.8 177.5h7.9v8.1h-7.9zM327.5 185.3h7.9v8.1h-7.9zM342.8 185.3h7.9v8.1h-7.9zM289.3 193.1h7.9v8.1h-7.9zM319.8 193.1h7.9v8.1h-7.9zM289.3 200.9h7.9v8.1h-7.9zM319.8 200.9h7.9v8.1h-7.9zM312.2 208.7h7.9v8.1h-7.9zM29.5 315.7h7.9v7.9h-7.9zM228.2 323.3h7.9v7.9h-7.9zM220.5 330.9h7.9v7.9h-7.9zM6.6 346h7.9v7.9h-7.9zM190 346h7.9v7.9h-7.9zM335.1 346h15.6v7.9h-15.6zM159.4 353.6h7.9v7.9h-7.9zM174.7 353.6h7.9v7.9h-7.9zM266.4 353.6h7.9v7.9h-7.9zM296.9 353.6h7.9v7.9h-7.9zM319.8 353.6h15.6v7.9h-15.6zM14.2 361.2h7.9v7.9h-7.9zM182.3 361.2h7.9v7.9h-7.9zM220.5 361.2h7.9v7.9h-7.9zM182.3 368.8h7.9v7.9h-7.9zM197.6 368.8h7.9v7.9h-7.9zM281.6 368.8h7.9v7.9h-7.9zM312.2 368.8h7.9v7.9h-7.9zM44.8 376.4h7.9v7.9h-7.9zM144.1 376.4h7.9v7.9h-7.9zM182.3 376.4h7.9v7.9h-7.9zM37.2 384h7.9v7.9h-7.9zM144.1 384h15.6v7.9h-15.6zM235.8 384h7.9v7.9h-7.9zM335.1 384h7.9v7.9h-7.9zM136.5 391.6h7.9v7.9h-7.9zM167 391.6h7.9v7.9h-7.9zM212.9 391.6h7.9v7.9h-7.9zM235.8 391.6h7.9v7.9h-7.9zM304.6 391.6h7.9v7.9h-7.9zM335.1 391.6h7.9v7.9h-7.9zM121.2 399.2h7.9v7.9h-7.9zM136.5 399.2h7.9v7.9h-7.9zM197.6 399.2h7.9v7.9h-7.9zM14.2 406.8h7.9v7.9h-7.9zM159.4 406.8h15.6v7.9h-15.6zM212.9 406.8h7.9v7.9h-7.9zM319.8 406.8h7.9v7.9h-7.9zM21.9 414.4h15.6v7.9h-15.6zM159.4 414.4h15.6v7.9h-15.6zM182.3 414.4h7.9v7.9h-7.9zM205.2 414.4h7.9v7.9h-7.9zM220.5 414.4h7.9v7.9h-7.9zM258.7 414.4h7.9v7.9h-7.9zM274 414.4h7.9v7.9h-7.9zM342.8 414.4h7.9v7.9h-7.9zM37.2 422h7.9v7.9h-7.9zM159.4 422h7.9v7.9h-7.9zM190 422h15.6v7.9h-15.6zM220.5 422h7.9v7.9h-7.9zM235.8 422h7.9v7.9h-7.9zM266.4 422h7.9v7.9h-7.9zM312.2 422h7.9v7.9h-7.9zM327.5 422h7.9v7.9h-7.9z"/><path fill="#0000a0" d="M304.6 -1.1h7.9v8.1h-7.9zM312.2 6.7h7.9v8.1h-7.9zM21.9 323.3h15.6v7.9h-15.6zM159.4 391.6h7.9v7.9h-7.9z"/><path fill="#0000c0" d="M312.2 -1.1h7.9v8.1h-7.9zM296.9 6.7h7.9v8.1h-7.9zM327.5 6.7h7.9v8.1h-7.9zM319.8 14.5h7.9v8.1h-7.9zM312.2 30.1h7.9v8.1h-7.9zM296.9 53.5h7.9v8.1h-7.9zM312.2 53.5h7.9v8.1h-7.9zM289.3 61.3h7.9v8.1h-7.9zM220.5 69.1h7.9v8.1h-7.9zM281.6 69.1h7.9v8.1h-7.9zM296.9 69.1h7.9v8.1h-7.9zM327.5 69.1h7.9v8.1h-7.9zM312.2 84.6h7.9v8h-7.9zM327.5 107.7h7.9v8h-7.9zM319.8 115.4h7.9v8h-7.9zM335.1 123.2h7.9v8h-7.9zM335.1 138.6h7.9v8h-7.9zM281.6 146.3h7.9v8.1h-7.9zM319.8 146.3h7.9v8.1h-7.9zM274 154.1h7.9v8.1h-7.9zM304.6 177.5h7.9v8.1h-7.9zM327.5 200.9h7.9v8.1h-7.9zM289.3 208.7h7.9v8.1h-7.9zM266.4 239.4h7.9v8h-7.9zM29.5 338.5h7.9v7.9h-7.9zM190 338.5h7.9v7.9h-7.9zM21.9 346h7.9v7.9h-7.9zM205.2 346h15.6v7.9h-15.6zM289.3 346h7.9v7.9h-7.9zM304.6 346h7.9v7.9h-7.9zM212.9 353.6h7.9v7.9h-7.9zM342.8 353.6h7.9v7.9h-7.9zM243.4 361.2h7.9v7.9h-7.9zM258.7 361.2h7.9v7.9h-7.9zM342.8 361.2h7.9v7.9h-7.9zM144.1 368.8h7.9v7.9h-7.9zM174.7 368.8h7.9v7.9h-7.9zM251.1 368.8h15.6v7.9h-15.6zM205.2 376.4h15.6v7.9h-15.6zM182.3 384h15.6v7.9h-15.6zM212.9 384h7.9v7.9h-7.9zM228.2 384h7.9v7.9h-7.9zM266.4 384h7.9v7.9h-7.9zM251.1 391.6h7.9v7.9h-7.9zM281.6 391.6h7.9v7.9h-7.9zM251.1 399.2h7.9v7.9h-7.9zM105.9 406.8h7.9v7.9h-7.9zM235.8 406.8h7.9v7.9h-7.9zM312.2 406.8h7.9v7.9h-7.9zM327.5 406.8h7.9v7.9h-7.9zM342.8 406.8h7.9v7.9h-7.9zM319.8 414.4h7.9v7.9h-7.9zM6.6 422h7.9v7.9h-7.9zM243.4 422h7.9v7.9h-7.9zM319.8 422h7.9v7.9h-7.9z"/><path fill="#0000b0" d="M327.5 -1.1h7.9v8.1h-7.9zM304.6 6.7h7.9v8.1h-7.9zM319.8 6.7h7.9v8.1h-7.9zM37.2 330.9h7.9v7.9h-7.9zM21.9 338.5h7.9v7.9h-7.9zM6.6 353.6h7.9v7.9h-7.9zM197.6 376.4h7.9v7.9h-7.9zM174.7 384h7.9v7.9h-7.9zM136.5 414.4h15.6v7.9h-15.6zM136.5 422h7.9v7.9h-7.9z"/><path fill="#000090" d="M335.1 -1.1h7.9v8.1h-7.9zM37.2 323.3h7.9v7.9h-7.9zM151.8 399.2h15.6v7.9h-15.6zM144.1 406.8h7.9v7.9h-7.9z"/><path fill="#0000f1" d="M342.8 -1.1h7.9v8.1h-7.9zM220.5 6.7h7.9v8.1h-7.9zM182.3 14.5h7.9v8.1h-7.9zM243.4 30.1h23.2v8.1h-23.2zM296.9 30.1h15.6v8.1h-15.6zM319.8 30.1h7.9v8.1h-7.9zM281.6 37.9h7.9v8.1h-7.9zM274 45.7h15.6v8.1h-15.6zM312.2 45.7h7.9v8.1h-7.9zM327.5 45.7h7.9v8.1h-7.9zM304.6 61.3h7.9v8.1h-7.9zM342.8 69.1h7.9v8.1h-7.9zM266.4 76.9h7.9v8h-7.9zM281.6 76.9h15.6v8h-15.6zM335.1 76.9h7.9v8h-7.9zM304.6 84.6h7.9v8h-7.9zM335.1 84.6h7.9v8h-7.9zM266.4 92.3h7.9v8h-7.9zM304.6 92.3h7.9v8h-7.9zM327.5 92.3h7.9v8h-7.9zM312.2 100h7.9v8h-7.9zM289.3 107.7h7.9v8h-7.9zM304.6 107.7h7.9v8h-7.9zM342.8 107.7h7.9v8h-7.9zM281.6 115.4h7.9v8h-7.9zM342.8 115.4h7.9v8h-7.9zM304.6 123.2h7.9v8h-7.9zM281.6 138.6h7.9v8h-7.9zM258.7 146.3h7.9v8.1h-7.9zM258.7 154.1h7.9v8.1h-7.9zM289.3 154.1h7.9v8.1h-7.9zM319.8 154.1h15.6v8.1h-15.6zM296.9 161.9h7.9v8.1h-7.9zM251.1 169.7h7.9v8.1h-7.9zM266.4 169.7h7.9v8.1h-7.9zM296.9 169.7h15.6v8.1h-15.6zM335.1 169.7h7.9v8.1h-7.9zM335.1 177.5h7.9v8.1h-7.9zM258.7 185.3h15.6v8.1h-15.6zM312.2 185.3h7.9v8.1h-7.9zM335.1 185.3h7.9v8.1h-7.9zM266.4 193.1h7.9v8.1h-7.9zM258.7 200.9h7.9v8.1h-7.9zM335.1 200.9h7.9v8.1h-7.9zM327.5 208.7h7.9v8.1h-7.9zM319.8 216.5h15.6v8h-15.6zM274 231.8h7.9v8h-7.9zM342.8 231.8h7.9v8h-7.9zM289.3 247.1h7.9v8h-7.9zM251.1 254.8h7.9v8h-7.9zM243.4 262.4h7.9v8h-7.9zM266.4 262.4h7.9v8h-7.9zM296.9 262.4h7.9v8h-7.9zM243.4 270.1h7.9v8h-7.9zM258.7 277.8h7.9v8h-7.9zM251.1 293h7.9v7.9h-7.9zM319.8 300.6h15.6v7.9h-15.6zM289.3 308.2h15.6v7.9h-15.6zM37.2 315.7h7.9v7.9h-7.9zM266.4 315.7h7.9v7.9h-7.9zM266.4 323.3h7.9v7.9h-7.9zM296.9 323.3h7.9v7.9h-7.9zM235.8 330.9h7.9v7.9h-7.9zM266.4 330.9h7.9v7.9h-7.9zM335.1 330.9h7.9v7.9h-7.9zM159.4 338.5h7.9v7.9h-7.9zM205.2 338.5h7.9v7.9h-7.9zM67.7 346h15.6v7.9h-15.6zM174.7 346h7.9v7.9h-7.9zM274 346h7.9v7.9h-7.9zM235.8 353.6h15.6v7.9h-15.6zM6.6 361.2h7.9v7.9h-7.9zM136.5 361.2h7.9v7.9h-7.9zM304.6 361.2h7.9v7.9h-7.9zM29.5 368.8h7.9v7.9h-7.9zM205.2 368.8h7.9v7.9h-7.9zM220.5 368.8h7.9v7.9h-7.9zM289.3 368.8h7.9v7.9h-7.9zM342.8 368.8h7.9v7.9h-7.9zM251.1 376.4h7.9v7.9h-7.9zM304.6 376.4h15.6v7.9h-15.6zM6.6 384h7.9v7.9h-7.9zM251.1 384h7.9v7.9h-7.9zM342.8 384h7.9v7.9h-7.9zM6.6 391.6h7.9v7.9h-7.9zM44.8 391.6h7.9v7.9h-7.9zM60.1 391.6h7.9v7.9h-7.9zM121.2 391.6h7.9v7.9h-7.9zM205.2 391.6h7.9v7.9h-7.9zM296.9 391.6h7.9v7.9h-7.9zM342.8 391.6h7.9v7.9h-7.9zM6.6 399.2h7.9v7.9h-7.9zM113.6 399.2h7.9v7.9h-7.9zM174.7 399.2h7.9v7.9h-7.9zM228.2 399.2h15.6v7.9h-15.6zM258.7 399.2h15.6v7.9h-15.6zM52.4 406.8h7.9v7.9h-7.9zM121.2 406.8h15.6v7.9h-15.6zM251.1 406.8h7.9v7.9h-7.9zM274 406.8h15.6v7.9h-15.6zM105.9 414.4h7.9v7.9h-7.9zM151.8 414.4h7.9v7.9h-7.9zM197.6 414.4h7.9v7.9h-7.9zM243.4 414.4h7.9v7.9h-7.9zM281.6 414.4h7.9v7.9h-7.9zM335.1 414.4h7.9v7.9h-7.9zM14.2 422h23.2v7.9h-23.2zM228.2 422h7.9v7.9h-7.9zM289.3 422h7.9v7.9h-7.9z"/><path fill="#47ffb8" d="M75.4 6.7h7.9v8.1h-7.9zM83 30.1h7.9v8.1h-7.9zM105.9 45.7h7.9v8.1h-7.9zM98.3 61.3h7.9v8.1h-7.9zM98.3 76.9h7.9v8h-7.9zM105.9 100h7.9v8h-7.9zM144.1 130.9h7.9v8h-7.9zM151.8 138.6h7.9v8h-7.9zM167 154.1h7.9v8.1h-7.9zM159.4 185.3h15.6v8.1h-15.6zM159.4 193.1h7.9v8.1h-7.9zM159.4 247.1h7.9v8h-7.9zM159.4 262.4h7.9v8h-7.9zM128.8 270.1h7.9v8h-7.9zM60.1 277.8h7.9v8h-7.9zM121.2 277.8h15.6v8h-15.6zM67.7 293h7.9v7.9h-7.9zM121.2 300.6h7.9v7.9h-7.9z"/><path fill="#b8ff47" d="M83 6.7h7.9v8.1h-7.9zM144.1 154.1h7.9v8.1h-7.9zM144.1 185.3h7.9v8.1h-7.9zM144.1 208.7h7.9v8.1h-7.9zM136.5 216.5h7.9v8h-7.9zM67.7 270.1h7.9v8h-7.9z"/><path fill="#77ff88" d="M90.6 6.7h7.9v8.1h-7.9zM98.3 45.7h7.9v8.1h-7.9zM75.4 53.5h7.9v8.1h-7.9zM113.6 123.2h7.9v8h-7.9zM151.8 154.1h7.9v8.1h-7.9zM151.8 161.9h7.9v8.1h-7.9zM128.8 177.5h7.9v8.1h-7.9zM167 200.9h7.9v8.1h-7.9zM151.8 239.4h7.9v8h-7.9zM60.1 285.4h7.9v7.9h-7.9z"/><path fill="#06fff9" d="M98.3 6.7h7.9v8.1h-7.9zM113.6 22.3h7.9v8.1h-7.9zM67.7 30.1h7.9v8.1h-7.9zM105.9 30.1h15.6v8.1h-15.6zM121.2 37.9h7.9v8.1h-7.9zM136.5 37.9h7.9v8.1h-7.9zM113.6 69.1h7.9v8.1h-7.9zM113.6 76.9h7.9v8h-7.9zM90.6 84.6h15.6v8h-15.6zM136.5 123.2h7.9v8h-7.9zM159.4 130.9h15.6v8h-15.6zM167 138.6h7.9v8h-7.9zM197.6 154.1h7.9v8.1h-7.9zM167 161.9h7.9v8.1h-7.9zM167 177.5h7.9v8.1h-7.9zM190 185.3h7.9v8.1h-7.9zM190 193.1h7.9v8.1h-7.9zM128.8 200.9h7.9v8.1h-7.9zM182.3 200.9h15.6v8.1h-15.6zM197.6 208.7h7.9v8.1h-7.9zM121.2 224.1h7.9v8h-7.9zM174.7 224.1h7.9v8h-7.9zM190 224.1h7.9v8h-7.9zM105.9 247.1h7.9v8h-7.9zM113.6 262.4h7.9v8h-7.9zM151.8 262.4h7.9v8h-7.9zM98.3 270.1h7.9v8h-7.9zM167 270.1h7.9v8h-7.9zM90.6 277.8h7.9v8h-7.9zM136.5 277.8h7.9v8h-7.9zM151.8 277.8h7.9v8h-7.9zM60.1 293h7.9v7.9h-7.9zM136.5 308.2h7.9v7.9h-7.9zM121.2 315.7h7.9v7.9h-7.9z"/><path fill="#00c4ff" d="M113.6 6.7h7.9v8.1h-7.9zM136.5 6.7h7.9v8.1h-7.9zM98.3 22.3h7.9v8.1h-7.9zM151.8 22.3h7.9v8.1h-7.9zM105.9 37.9h7.9v8.1h-7.9zM144.1 37.9h7.9v8.1h-7.9zM128.8 45.7h7.9v8.1h-7.9zM121.2 53.5h15.6v8.1h-15.6zM144.1 84.6h7.9v8h-7.9zM121.2 100h7.9v8h-7.9zM159.4 100h7.9v8h-7.9zM151.8 107.7h7.9v8h-7.9zM174.7 107.7h7.9v8h-7.9zM144.1 115.4h7.9v8h-7.9zM174.7 115.4h15.6v8h-15.6zM197.6 123.2h7.9v8h-7.9zM182.3 130.9h7.9v8h-7.9zM190 146.3h7.9v8.1h-7.9zM205.2 146.3h7.9v8.1h-7.9zM190 154.1h7.9v8.1h-7.9zM197.6 177.5h7.9v8.1h-7.9zM205.2 208.7h7.9v8.1h-7.9zM197.6 231.8h7.9v8h-7.9zM190 239.4h7.9v8h-7.9zM182.3 262.4h7.9v8h-7.9zM98.3 277.8h7.9v8h-7.9zM144.1 277.8h7.9v8h-7.9zM144.1 293h7.9v7.9h-7.9zM159.4 293h7.9v7.9h-7.9z"/><path fill="#00b4ff" d="M121.2 6.7h7.9v8.1h-7.9zM144.1 14.5h15.6v8.1h-15.6zM151.8 30.1h7.9v8.1h-7.9zM128.8 37.9h7.9v8.1h-7.9zM136.5 45.7h7.9v8.1h-7.9zM151.8 45.7h7.9v8.1h-7.9zM144.1 53.5h7.9v8.1h-7.9zM128.8 69.1h7.9v8.1h-7.9zM144.1 69.1h7.9v8.1h-7.9zM121.2 76.9h7.9v8h-7.9zM151.8 76.9h7.9v8h-7.9zM136.5 84.6h7.9v8h-7.9zM136.5 92.3h7.9v8h-7.9zM151.8 92.3h7.9v8h-7.9zM136.5 100h7.9v8h-7.9zM167 100h7.9v8h-7.9zM98.3 115.4h7.9v8h-7.9zM159.4 115.4h15.6v8h-15.6zM190 130.9h15.6v8h-15.6zM212.9 154.1h7.9v8.1h-7.9zM197.6 161.9h15.6v8.1h-15.6zM197.6 169.7h7.9v8.1h-7.9zM205.2 193.1h7.9v8.1h-7.9zM205.2 216.5h7.9v8h-7.9zM190 247.1h7.9v8h-7.9zM197.6 254.8h15.6v8h-15.6zM83 262.4h7.9v8h-7.9zM105.9 270.1h7.9v8h-7.9zM174.7 270.1h7.9v8h-7.9zM105.9 277.8h7.9v8h-7.9zM98.3 293h7.9v7.9h-7.9zM151.8 293h7.9v7.9h-7.9zM90.6 300.6h7.9v7.9h-7.9zM105.9 315.7h7.9v7.9h-7.9zM144.1 315.7h7.9v7.9h-7.9zM105.9 323.3h15.6v7.9h-15.6zM113.6 330.9h7.9v7.9h-7.9zM113.6 338.5h7.9v7.9h-7.9zM113.6 346h7.9v7.9h-7.9zM105.9 353.6h7.9v7.9h-7.9z"/><path fill="#0043ff" d="M212.9 6.7h7.9v8.1h-7.9zM243.4 6.7h7.9v8.1h-7.9zM228.2 14.5h7.9v8.1h-7.9zM251.1 14.5h7.9v8.1h-7.9zM251.1 22.3h7.9v8.1h-7.9zM235.8 53.5h7.9v8.1h-7.9zM197.6 61.3h7.9v8.1h-7.9zM235.8 69.1h7.9v8.1h-7.9zM197.6 84.6h7.9v8h-7.9zM220.5 84.6h15.6v8h-15.6zM251.1 84.6h7.9v8h-7.9zM197.6 92.3h7.9v8h-7.9zM190 100h7.9v8h-7.9zM243.4 100h7.9v8h-7.9zM258.7 100h7.9v8h-7.9zM251.1 123.2h7.9v8h-7.9zM251.1 138.6h7.9v8h-7.9zM235.8 161.9h7.9v8.1h-7.9zM235.8 177.5h7.9v8.1h-7.9zM258.7 177.5h7.9v8.1h-7.9zM266.4 224.1h7.9v8h-7.9zM266.4 231.8h7.9v8h-7.9zM335.1 231.8h7.9v8h-7.9zM228.2 247.1h7.9v8h-7.9zM327.5 247.1h15.6v8h-15.6zM235.8 254.8h15.6v8h-15.6zM205.2 262.4h7.9v8h-7.9zM258.7 262.4h7.9v8h-7.9zM281.6 262.4h7.9v8h-7.9zM304.6 262.4h7.9v8h-7.9zM289.3 285.4h7.9v7.9h-7.9zM190 293h7.9v7.9h-7.9zM205.2 293h7.9v7.9h-7.9zM190 300.6h7.9v7.9h-7.9zM296.9 300.6h15.6v7.9h-15.6zM37.2 308.2h7.9v7.9h-7.9zM159.4 308.2h7.9v7.9h-7.9zM342.8 308.2h7.9v7.9h-7.9zM274 315.7h7.9v7.9h-7.9zM274 323.3h15.6v7.9h-15.6zM75.4 330.9h7.9v7.9h-7.9zM144.1 330.9h15.6v7.9h-15.6zM304.6 330.9h7.9v7.9h-7.9zM67.7 338.5h15.6v7.9h-15.6zM235.8 338.5h7.9v7.9h-7.9zM83 353.6h7.9v7.9h-7.9zM144.1 353.6h7.9v7.9h-7.9zM75.4 361.2h7.9v7.9h-7.9zM90.6 368.8h7.9v7.9h-7.9zM121.2 368.8h15.6v7.9h-15.6zM90.6 376.4h7.9v7.9h-7.9zM113.6 376.4h7.9v7.9h-7.9zM113.6 391.6h7.9v7.9h-7.9z"/><path fill="#0002ff" d="M274 6.7h7.9v8.1h-7.9zM342.8 6.7h7.9v8.1h-7.9zM296.9 14.5h7.9v8.1h-7.9zM228.2 22.3h7.9v8.1h-7.9zM304.6 22.3h7.9v8.1h-7.9zM197.6 30.1h7.9v8.1h-7.9zM228.2 30.1h7.9v8.1h-7.9zM342.8 30.1h7.9v8.1h-7.9zM266.4 37.9h7.9v8.1h-7.9zM304.6 37.9h7.9v8.1h-7.9zM197.6 45.7h7.9v8.1h-7.9zM235.8 45.7h7.9v8.1h-7.9zM296.9 45.7h7.9v8.1h-7.9zM251.1 53.5h7.9v8.1h-7.9zM266.4 53.5h7.9v8.1h-7.9zM205.2 61.3h7.9v8.1h-7.9zM266.4 61.3h7.9v8.1h-7.9zM312.2 61.3h7.9v8.1h-7.9zM312.2 69.1h7.9v8.1h-7.9zM212.9 76.9h7.9v8h-7.9zM319.8 76.9h7.9v8h-7.9zM281.6 84.6h15.6v8h-15.6zM212.9 92.3h7.9v8h-7.9zM251.1 92.3h7.9v8h-7.9zM296.9 92.3h7.9v8h-7.9zM312.2 92.3h7.9v8h-7.9zM220.5 100h7.9v8h-7.9zM327.5 100h15.6v8h-15.6zM243.4 107.7h7.9v8h-7.9zM312.2 107.7h7.9v8h-7.9zM274 115.4h7.9v8h-7.9zM304.6 115.4h7.9v8h-7.9zM335.1 115.4h7.9v8h-7.9zM312.2 123.2h7.9v8h-7.9zM304.6 130.9h23.2v8h-23.2zM296.9 138.6h15.6v8h-15.6zM312.2 146.3h7.9v8.1h-7.9zM304.6 154.1h7.9v8.1h-7.9zM274 161.9h7.9v8.1h-7.9zM243.4 169.7h7.9v8.1h-7.9zM319.8 169.7h7.9v8.1h-7.9zM342.8 169.7h7.9v8.1h-7.9zM319.8 177.5h7.9v8.1h-7.9zM281.6 185.3h7.9v8.1h-7.9zM258.7 193.1h7.9v8.1h-7.9zM281.6 193.1h7.9v8.1h-7.9zM304.6 193.1h15.6v8.1h-15.6zM312.2 200.9h7.9v8.1h-7.9zM258.7 208.7h7.9v8.1h-7.9zM274 208.7h7.9v8.1h-7.9zM319.8 208.7h7.9v8.1h-7.9zM289.3 216.5h7.9v8h-7.9zM319.8 224.1h7.9v8h-7.9zM228.2 231.8h7.9v8h-7.9zM243.4 231.8h7.9v8h-7.9zM304.6 231.8h7.9v8h-7.9zM319.8 231.8h15.6v8h-15.6zM235.8 239.4h7.9v8h-7.9zM251.1 239.4h7.9v8h-7.9zM296.9 239.4h7.9v8h-7.9zM281.6 247.1h7.9v8h-7.9zM296.9 247.1h7.9v8h-7.9zM90.6 254.8h7.9v8h-7.9zM289.3 254.8h7.9v8h-7.9zM312.2 254.8h7.9v8h-7.9zM289.3 262.4h7.9v8h-7.9zM342.8 262.4h7.9v8h-7.9zM304.6 270.1h7.9v8h-7.9zM327.5 270.1h7.9v8h-7.9zM342.8 270.1h7.9v8h-7.9zM228.2 277.8h7.9v8h-7.9zM342.8 277.8h7.9v8h-7.9zM243.4 285.4h7.9v7.9h-7.9zM258.7 285.4h7.9v7.9h-7.9zM296.9 285.4h7.9v7.9h-7.9zM312.2 285.4h7.9v7.9h-7.9zM335.1 285.4h7.9v7.9h-7.9zM235.8 293h7.9v7.9h-7.9zM37.2 300.6h7.9v7.9h-7.9zM197.6 300.6h7.9v7.9h-7.9zM235.8 300.6h15.6v7.9h-15.6zM274 300.6h7.9v7.9h-7.9zM182.3 315.7h7.9v7.9h-7.9zM205.2 315.7h7.9v7.9h-7.9zM228.2 315.7h7.9v7.9h-7.9zM289.3 315.7h7.9v7.9h-7.9zM335.1 315.7h7.9v7.9h-7.9zM212.9 323.3h7.9v7.9h-7.9zM235.8 323.3h7.9v7.9h-7.9zM289.3 323.3h7.9v7.9h-7.9zM159.4 330.9h7.9v7.9h-7.9zM304.6 338.5h7.9v7.9h-7.9zM327.5 338.5h7.9v7.9h-7.9zM44.8 346h7.9v7.9h-7.9zM167 346h7.9v7.9h-7.9zM235.8 346h7.9v7.9h-7.9zM319.8 346h7.9v7.9h-7.9zM136.5 353.6h7.9v7.9h-7.9zM151.8 353.6h7.9v7.9h-7.9zM167 353.6h7.9v7.9h-7.9zM205.2 353.6h7.9v7.9h-7.9zM335.1 353.6h7.9v7.9h-7.9zM60.1 361.2h7.9v7.9h-7.9zM174.7 361.2h7.9v7.9h-7.9zM197.6 361.2h7.9v7.9h-7.9zM167 368.8h7.9v7.9h-7.9zM296.9 368.8h7.9v7.9h-7.9zM6.6 376.4h23.2v7.9h-23.2zM37.2 376.4h7.9v7.9h-7.9zM75.4 376.4h7.9v7.9h-7.9zM136.5 376.4h7.9v7.9h-7.9zM190 376.4h7.9v7.9h-7.9zM296.9 376.4h7.9v7.9h-7.9zM335.1 376.4h7.9v7.9h-7.9zM14.2 384h7.9v7.9h-7.9zM60.1 384h7.9v7.9h-7.9zM128.8 384h7.9v7.9h-7.9zM167 384h7.9v7.9h-7.9zM258.7 384h7.9v7.9h-7.9zM327.5 384h7.9v7.9h-7.9zM182.3 391.6h7.9v7.9h-7.9zM197.6 391.6h7.9v7.9h-7.9zM228.2 391.6h7.9v7.9h-7.9zM319.8 391.6h7.9v7.9h-7.9zM44.8 399.2h23.2v7.9h-23.2zM98.3 399.2h7.9v7.9h-7.9zM128.8 399.2h7.9v7.9h-7.9zM212.9 399.2h15.6v7.9h-15.6zM281.6 399.2h7.9v7.9h-7.9zM342.8 399.2h7.9v7.9h-7.9zM37.2 406.8h7.9v7.9h-7.9zM205.2 406.8h7.9v7.9h-7.9zM228.2 406.8h7.9v7.9h-7.9zM289.3 406.8h7.9v7.9h-7.9zM335.1 406.8h7.9v7.9h-7.9zM190 414.4h7.9v7.9h-7.9zM212.9 414.4h7.9v7.9h-7.9zM228.2 414.4h15.6v7.9h-15.6zM266.4 414.4h7.9v7.9h-7.9zM44.8 422h7.9v7.9h-7.9zM60.1 422h7.9v7.9h-7.9zM90.6 422h7.9v7.9h-7.9zM128.8 422h7.9v7.9h-7.9zM144.1 422h7.9v7.9h-7.9zM296.9 422h7.9v7.9h-7.9z"/><path fill="#26ffd9" d="M75.4 14.5h7.9v8.1h-7.9zM67.7 22.3h7.9v8.1h-7.9zM90.6 22.3h7.9v8.1h-7.9zM90.6 30.1h7.9v8.1h-7.9zM75.4 45.7h7.9v8.1h-7.9zM98.3 69.1h15.6v8.1h-15.6zM90.6 76.9h7.9v8h-7.9zM98.3 92.3h7.9v8h-7.9zM121.2 107.7h7.9v8h-7.9zM151.8 123.2h7.9v8h-7.9zM151.8 130.9h7.9v8h-7.9zM159.4 138.6h7.9v8h-7.9zM151.8 146.3h7.9v8.1h-7.9zM159.4 177.5h7.9v8.1h-7.9zM174.7 193.1h7.9v8.1h-7.9zM167 231.8h7.9v8h-7.9zM167 262.4h7.9v8h-7.9zM121.2 270.1h7.9v8h-7.9zM52.4 285.4h7.9v7.9h-7.9zM83 293h7.9v7.9h-7.9zM113.6 300.6h7.9v7.9h-7.9z"/><path fill="#ffd500" d="M83 14.5h7.9v8.1h-7.9zM105.9 138.6h7.9v8h-7.9zM128.8 138.6h7.9v8h-7.9zM105.9 146.3h7.9v8.1h-7.9zM128.8 154.1h7.9v8.1h-7.9zM67.7 285.4h7.9v7.9h-7.9z"/><path fill="#88ff77" d="M90.6 14.5h7.9v8.1h-7.9zM75.4 37.9h15.6v8.1h-15.6zM98.3 53.5h7.9v8.1h-7.9zM144.1 138.6h7.9v8h-7.9zM144.1 146.3h7.9v8.1h-7.9zM136.5 185.3h7.9v8.1h-7.9zM144.1 200.9h7.9v8.1h-7.9zM159.4 200.9h7.9v8.1h-7.9zM159.4 216.5h7.9v8h-7.9zM121.2 231.8h7.9v8h-7.9zM144.1 239.4h7.9v8h-7.9zM151.8 247.1h7.9v8h-7.9zM136.5 262.4h7.9v8h-7.9zM83 285.4h7.9v7.9h-7.9zM128.8 285.4h7.9v7.9h-7.9z"/><path fill="#67ff98" d="M98.3 14.5h7.9v8.1h-7.9zM75.4 30.1h7.9v8.1h-7.9zM90.6 69.1h7.9v8.1h-7.9zM105.9 107.7h7.9v8h-7.9zM121.2 123.2h7.9v8h-7.9zM105.9 130.9h7.9v8h-7.9zM136.5 130.9h7.9v8h-7.9zM159.4 154.1h7.9v8.1h-7.9zM159.4 169.7h7.9v8.1h-7.9zM151.8 185.3h7.9v8.1h-7.9zM136.5 193.1h7.9v8.1h-7.9zM136.5 208.7h7.9v8.1h-7.9zM167 216.5h7.9v8h-7.9zM159.4 231.8h7.9v8h-7.9zM167 239.4h7.9v8h-7.9zM151.8 254.8h7.9v8h-7.9zM167 254.8h7.9v8h-7.9zM75.4 293h7.9v7.9h-7.9zM128.8 293h7.9v7.9h-7.9z"/><path fill="#57ffa8" d="M75.4 22.3h15.6v8.1h-15.6zM67.7 37.9h7.9v8.1h-7.9zM90.6 61.3h7.9v8.1h-7.9zM105.9 115.4h15.6v8h-15.6zM159.4 161.9h7.9v8.1h-7.9zM174.7 208.7h7.9v8.1h-7.9zM144.1 254.8h7.9v8h-7.9zM60.1 270.1h7.9v8h-7.9zM83 277.8h7.9v8h-7.9z"/><path fill="#37ffc8" d="M90.6 37.9h7.9v8.1h-7.9zM113.6 107.7h7.9v8h-7.9zM159.4 146.3h7.9v8.1h-7.9zM167 169.7h7.9v8.1h-7.9zM136.5 200.9h7.9v8.1h-7.9zM174.7 247.1h7.9v8h-7.9zM136.5 285.4h7.9v7.9h-7.9zM121.2 293h7.9v7.9h-7.9zM128.8 300.6h7.9v7.9h-7.9z"/><path fill="#ff8400" d="M83 45.7h7.9v8.1h-7.9z"/><path fill="#ff7300" d="M90.6 45.7h7.9v8.1h-7.9zM136.5 231.8h7.9v8h-7.9z"/><path fill="#ffe500" d="M83 53.5h7.9v8.1h-7.9zM136.5 161.9h7.9v8.1h-7.9zM128.8 169.7h15.6v8.1h-15.6zM75.4 285.4h7.9v7.9h-7.9z"/><path fill="#d9ff26" d="M90.6 53.5h7.9v8.1h-7.9zM121.2 161.9h7.9v8.1h-7.9zM121.2 169.7h7.9v8.1h-7.9zM144.1 169.7h7.9v8.1h-7.9zM159.4 208.7h7.9v8.1h-7.9zM144.1 224.1h7.9v8h-7.9z"/><path fill="#a8ff57" d="M83 61.3h7.9v8.1h-7.9zM128.8 130.9h7.9v8h-7.9zM136.5 146.3h7.9v8.1h-7.9zM113.6 161.9h7.9v8.1h-7.9zM151.8 169.7h7.9v8.1h-7.9zM151.8 177.5h7.9v8.1h-7.9zM151.8 193.1h7.9v8.1h-7.9zM151.8 208.7h7.9v8.1h-7.9zM167 208.7h7.9v8.1h-7.9zM159.4 239.4h7.9v8h-7.9zM75.4 270.1h15.6v8h-15.6z"/><path fill="#c8ff37" d="M105.9 123.2h7.9v8h-7.9zM151.8 200.9h7.9v8.1h-7.9zM144.1 216.5h7.9v8h-7.9zM128.8 224.1h7.9v8h-7.9zM151.8 231.8h7.9v8h-7.9z"/><path fill="#ff6300" d="M113.6 130.9h7.9v8h-7.9zM67.7 277.8h7.9v8h-7.9z"/><path fill="#e9ff16" d="M121.2 130.9h7.9v8h-7.9zM151.8 216.5h7.9v8h-7.9zM144.1 231.8h7.9v8h-7.9z"/><path fill="#f10000" d="M113.6 138.6h7.9v8h-7.9zM121.2 154.1h7.9v8.1h-7.9z"/><path fill="#ff0200" d="M121.2 138.6h7.9v8h-7.9zM113.6 154.1h7.9v8.1h-7.9zM121.2 254.8h7.9v8h-7.9z"/><path fill="#98ff67" d="M136.5 138.6h7.9v8h-7.9zM144.1 161.9h7.9v8.1h-7.9zM136.5 177.5h15.6v8.1h-15.6zM144.1 193.1h7.9v8.1h-7.9zM159.4 224.1h7.9v8h-7.9zM144.1 247.1h7.9v8h-7.9zM121.2 285.4h7.9v7.9h-7.9z"/><path fill="#a00000" d="M113.6 146.3h7.9v8.1h-7.9zM128.8 247.1h7.9v8h-7.9z"/><path fill="#800000" d="M121.2 146.3h7.9v8.1h-7.9z"/><path fill="#ff9400" d="M128.8 146.3h7.9v8.1h-7.9zM113.6 247.1h7.9v8h-7.9z"/><path fill="#f9ff06" d="M136.5 154.1h7.9v8.1h-7.9zM136.5 224.1h7.9v8h-7.9zM151.8 224.1h7.9v8h-7.9zM136.5 254.8h7.9v8h-7.9z"/><path fill="#ffb400" d="M128.8 161.9h7.9v8.1h-7.9zM128.8 231.8h7.9v8h-7.9zM113.6 254.8h7.9v8h-7.9z"/><path fill="#ff4300" d="M121.2 239.4h7.9v8h-7.9z"/><path fill="#d00000" d="M128.8 239.4h7.9v8h-7.9z"/><path fill="#ffa400" d="M136.5 239.4h7.9v8h-7.9z"/><path fill="#e10000" d="M121.2 247.1h7.9v8h-7.9z"/><path fill="#ffc400" d="M136.5 247.1h7.9v8h-7.9zM128.8 262.4h7.9v8h-7.9z"/><path fill="#fff500" d="M167 247.1h7.9v8h-7.9zM121.2 262.4h7.9v8h-7.9z"/><path fill="#ff1200" d="M128.8 254.8h7.9v8h-7.9z"/><path fill="#ff2200" d="M75.4 277.8h7.9v8h-7.9z"/><path fill="#000080" d="M14.2 315.7h15.6v7.9h-15.6zM14.2 323.3h7.9v7.9h-7.9zM6.6 330.9h30.9v7.9h-30.9zM6.6 338.5h15.6v7.9h-15.6z"/></g><polyline points="32.3,314.6 37.7,329.5 30.2,342.2 19.6,350.7 6.8,363.5" fill="none" stroke="#000" stroke-width="1.0" stroke-linejoin="round"/>\n<text font-size="12.5" fill="#000" transform="translate(24.9,352) rotate(0)" text-anchor="middle">3</text>\n<polyline points="285.5,-0.1 290,8 296.1,15.6" fill="none" stroke="#000" stroke-width="1.0" stroke-linejoin="round"/>\n<polyline points="304,10 306.7,8.2 321.6,5 330.1,-0.3" fill="none" stroke="#000" stroke-width="1.0" stroke-linejoin="round"/>\n<text font-size="12.5" fill="#000" transform="translate(300.4,17) rotate(0)" text-anchor="middle">3</text>\n<polyline points="330.1,355 327,367.8 334,372" fill="none" stroke="#000" stroke-width="1.0" stroke-linejoin="round"/>\n<polyline points="341.8,370 338.6,384.8" fill="none" stroke="#000" stroke-width="1.0" stroke-linejoin="round"/>\n<polyline points="319.5,391.2 330,398 343,406" fill="none" stroke="#000" stroke-width="1.0" stroke-linejoin="round"/>\n<polyline points="313.1,414.6 330,420 347.2,427.3" fill="none" stroke="#000" stroke-width="1.0" stroke-linejoin="round"/>\n<text font-size="12.5" fill="#000" transform="translate(324.8,366) rotate(0)" text-anchor="middle">3</text>\n<text font-size="12.5" fill="#000" transform="translate(327,392) rotate(0)" text-anchor="middle">3</text>\n<text font-size="12.5" fill="#000" transform="translate(321.6,412) rotate(0)" text-anchor="middle">3</text>\n<text font-size="12.5" fill="#000" transform="translate(304.6,429) rotate(0)" text-anchor="middle">3</text>
<path d="M59.1 45.4L75.1 45.4M61.4 39.7L72.8 51.1M67.1 37.4L67.1 53.4M72.8 39.7L61.4 51.1" stroke="#ff0000" stroke-width="1.1" fill="none"/>
<path d="M96.6 156.8L112.6 156.8M98.9 151.1L110.3 162.5M104.6 148.8L104.6 164.8M110.3 151.1L98.9 162.5" stroke="#ff0000" stroke-width="1.1" fill="none"/>
<path d="M105.3 249.8L121.3 249.8M107.6 244.1L119 255.5M113.3 241.8L113.3 257.8M119 244.1L107.6 255.5" stroke="#ff0000" stroke-width="1.1" fill="none"/>
<path d="M54.3 272L70.3 272M56.6 266.3L68 277.7M62.3 264L62.3 280M68 266.3L56.6 277.7" stroke="#ff0000" stroke-width="1.1" fill="none"/>
</g>
<g shape-rendering="crispEdges">
<rect x="3.5" y="19.8" width="2" height="25.5" fill="#000087"/>
<rect x="5.2" y="19.8" width="2" height="25.5" fill="#000097"/>
<rect x="7" y="19.8" width="2" height="25.5" fill="#0000a7"/>
<rect x="8.7" y="19.8" width="2" height="25.5" fill="#0000b7"/>
<rect x="10.5" y="19.8" width="2" height="25.5" fill="#0000c7"/>
<rect x="12.2" y="19.8" width="2" height="25.5" fill="#0000d7"/>
<rect x="14" y="19.8" width="2" height="25.5" fill="#0000e7"/>
<rect x="15.7" y="19.8" width="2" height="25.5" fill="#0000f7"/>
<rect x="17.4" y="19.8" width="2" height="25.5" fill="#0008ff"/>
<rect x="19.2" y="19.8" width="2" height="25.5" fill="#0018ff"/>
<rect x="20.9" y="19.8" width="2" height="25.5" fill="#0028ff"/>
<rect x="22.7" y="19.8" width="2" height="25.5" fill="#0038ff"/>
<rect x="24.4" y="19.8" width="2" height="25.5" fill="#0048ff"/>
<rect x="26.2" y="19.8" width="2" height="25.5" fill="#0058ff"/>
<rect x="27.9" y="19.8" width="2" height="25.5" fill="#0068ff"/>
<rect x="29.7" y="19.8" width="2" height="25.5" fill="#0078ff"/>
<rect x="31.4" y="19.8" width="2" height="25.5" fill="#0087ff"/>
<rect x="33.1" y="19.8" width="2" height="25.5" fill="#0097ff"/>
<rect x="34.9" y="19.8" width="2" height="25.5" fill="#00a7ff"/>
<rect x="36.6" y="19.8" width="2" height="25.5" fill="#00b7ff"/>
<rect x="38.4" y="19.8" width="2" height="25.5" fill="#00c7ff"/>
<rect x="40.1" y="19.8" width="2" height="25.5" fill="#00d7ff"/>
<rect x="41.9" y="19.8" width="2" height="25.5" fill="#00e7ff"/>
<rect x="43.6" y="19.8" width="2" height="25.5" fill="#00f7ff"/>
<rect x="45.3" y="19.8" width="2" height="25.5" fill="#08fff7"/>
<rect x="47.1" y="19.8" width="2" height="25.5" fill="#18ffe7"/>
<rect x="48.8" y="19.8" width="2" height="25.5" fill="#28ffd7"/>
<rect x="50.6" y="19.8" width="2" height="25.5" fill="#38ffc7"/>
<rect x="52.3" y="19.8" width="2" height="25.5" fill="#48ffb7"/>
<rect x="54.1" y="19.8" width="2" height="25.5" fill="#58ffa7"/>
<rect x="55.8" y="19.8" width="2" height="25.5" fill="#68ff97"/>
<rect x="57.6" y="19.8" width="2" height="25.5" fill="#78ff87"/>
<rect x="59.3" y="19.8" width="2" height="25.5" fill="#87ff78"/>
<rect x="61" y="19.8" width="2" height="25.5" fill="#97ff68"/>
<rect x="62.8" y="19.8" width="2" height="25.5" fill="#a7ff58"/>
<rect x="64.5" y="19.8" width="2" height="25.5" fill="#b7ff48"/>
<rect x="66.3" y="19.8" width="2" height="25.5" fill="#c7ff38"/>
<rect x="68" y="19.8" width="2" height="25.5" fill="#d7ff28"/>
<rect x="69.8" y="19.8" width="2" height="25.5" fill="#e7ff18"/>
<rect x="71.5" y="19.8" width="2" height="25.5" fill="#f7ff08"/>
<rect x="73.2" y="19.8" width="2" height="25.5" fill="#fff700"/>
<rect x="75" y="19.8" width="2" height="25.5" fill="#ffe700"/>
<rect x="76.7" y="19.8" width="2" height="25.5" fill="#ffd700"/>
<rect x="78.5" y="19.8" width="2" height="25.5" fill="#ffc700"/>
<rect x="80.2" y="19.8" width="2" height="25.5" fill="#ffb700"/>
<rect x="82" y="19.8" width="2" height="25.5" fill="#ffa700"/>
<rect x="83.7" y="19.8" width="2" height="25.5" fill="#ff9700"/>
<rect x="85.5" y="19.8" width="2" height="25.5" fill="#ff8700"/>
<rect x="87.2" y="19.8" width="2" height="25.5" fill="#ff7800"/>
<rect x="88.9" y="19.8" width="2" height="25.5" fill="#ff6800"/>
<rect x="90.7" y="19.8" width="2" height="25.5" fill="#ff5800"/>
<rect x="92.4" y="19.8" width="2" height="25.5" fill="#ff4800"/>
<rect x="94.2" y="19.8" width="2" height="25.5" fill="#ff3800"/>
<rect x="95.9" y="19.8" width="2" height="25.5" fill="#ff2800"/>
<rect x="97.7" y="19.8" width="2" height="25.5" fill="#ff1800"/>
<rect x="99.4" y="19.8" width="2" height="25.5" fill="#ff0800"/>
<rect x="101.1" y="19.8" width="2" height="25.5" fill="#f70000"/>
<rect x="102.9" y="19.8" width="2" height="25.5" fill="#e70000"/>
<rect x="104.6" y="19.8" width="2" height="25.5" fill="#d70000"/>
<rect x="106.4" y="19.8" width="2" height="25.5" fill="#c70000"/>
<rect x="108.1" y="19.8" width="2" height="25.5" fill="#b70000"/>
<rect x="109.9" y="19.8" width="2" height="25.5" fill="#a70000"/>
<rect x="111.6" y="19.8" width="2" height="25.5" fill="#970000"/>
<rect x="113.4" y="19.8" width="2" height="25.5" fill="#870000"/>
</g>
<rect x="3.5" y="19.8" width="111.6" height="25.5" fill="none" stroke="#262626" stroke-width="1"/>
<text x="3.5" y="7.3" font-size="18" fill="#262626" text-anchor="middle">0</text>
<text x="99.8" y="7.3" font-size="18" fill="#262626" text-anchor="middle">50</text>
<text x="285.4" y="37.2" font-size="20" fill="#000">10 km</text><line x1="306.4" y1="43.6" x2="319.6" y2="43.6" stroke="#000" stroke-width="3.6" stroke-linecap="round"/>
</g>
<g transform="translate(1227.1,142.4)">
<g clip-path="url(#pc)">
<path d="M51 126.1L50 117L46 112.5L40 108L35 103.5L36 102L42 106L48 111L52 116L54 126.5L53.6 126.5L60.4 127.5L70.6 131L76.7 134L82.8 136L86 130L88 134L91.1 141L96.2 144.1L96.2 146L101.3 155L108.5 167L113 176L117 190L118.4 200.2L118 210.4L116.3 225.5L113.5 240L110.5 247L104.5 248.5L100.3 252.9L90.2 258L80 261L69.7 266.1L61.5 271.2L53.4 276.3L44.2 282.5L34 291.6L23.8 300.8L13.6 312L4.5 323.2L-1 331L-1 333.6L5.4 325.2L14.6 314L24.8 302.8L35 293.6L45.2 284.5L54.4 278.3L62.5 273.2L70.7 268.1L80.9 263L91.1 260L101.3 254.9L105.3 250.8L114 250.5L114.4 248.6L115.5 241L118.1 225.7L119.6 210.4L120.1 200.2L118.6 190L114.5 175.7L110.4 167.5L106 158L102.3 149.2L99 142L99 142L96.2 136L92 127L88 118.6L86 112L82.9 101L78.8 85.7L75.8 70.4L72.7 57.1L70 50.5L67.6 44.9L66.5 40L64.6 32.6L62.5 25L60.8 17L59.1 12.2L55.7 10.1L51.4 11.4L47.2 12.2L38.7 10.5L31.9 8.8L26.8 5.4L22.6 4.6L19.2 6.3L18.4 13.1L13.3 14.8L9.5 15.3L4.8 15.6L-1 17.4L-1 141L1.3 140L11.5 134L23.7 129.5L36.7 127.5L35 127.5L33 122.5L29 119L23 114.6L24 113L30 117L35 121L37 127.5L40 127L50.2 126L51 126.1ZM72 90L77 99L81.5 108L84 118L84.5 126L77 124L75 118L73.5 110L71 102L67 95L63 88L59 80L56 74L54.5 66L55 60L57 52L62 52L62.5 60L64.5 70L67.5 80L72 90ZM22 130L20 130.6L13 126.5L6 121.5L3.5 119.5L5 118L12 122.5L18 127L22 130ZM68 116L73 121L75 131L72.5 131L71 123L67 118.5L61 114L62 112L68 116ZM94.1 153.3L90 153.3L93.1 161.4L97.2 167.5L101.3 172.6L106.4 175.7L106.4 171.6L101.3 164.5L97.2 157.3L94.1 153.3ZM24.8 239.9L31.9 239.9L38 238.9L44.2 235.9L50.3 230.8L56.4 225.7L60.5 216.5L64.6 210.4L72.7 203.2L74.7 206.3L82.9 205.3L89 199.1L88 196.1L90 185.9L89 169.6L85 157.3L80.9 149.2L72.7 147.1L64.6 149.2L60.5 159.4L58.4 169.6L57.4 189L54.4 193L52.3 179.8L52.3 162.4L55.4 156.3L56.4 149.2L51.3 145.1L42.1 144.1L29.9 145.1L22.8 149.2L12.6 147.1L-1 149.2L-1 233.8L1.3 233.8L3.4 230.8L8.5 235.9L11.5 233.8L17.7 236.9L24.8 239.9ZM19.7 283.5L14.6 281.4L9.5 277.3L5.4 276.3L0.8 281.4L-1 281.4L-1 321L1.3 320.2L5.4 317.1L12.6 307.9L19.7 299.8L24.8 292.6L25.8 286.5L19.7 283.5Z" fill="#80e080" fill-rule="evenodd" stroke="#000" stroke-width="1.1" stroke-linejoin="round"/>
<polygon points="-1,-1 20,-1 19.7,5.1 18.7,14.3 9.5,15.3 -1,17.4" fill="#fff"/>
<polyline points="105.3,250.8 101.3,254.9 91.1,260 80.9,263 70.7,268.1 62.5,273.2 54.4,278.3 45.2,284.5 35,293.6 24.8,302.8 14.6,314 5.4,325.2 -1,333.6" fill="none" stroke="#000" stroke-width="1.6"/>
<path d="M18.5 5.4h0m9.2 2.6h0m-14.7 7h0m3.8-0.2h0m0.9-5h0m2.2 1h0m4.5 3h0m3-4.2h0m2.1-0.6h0m2.4 1.7h0m1.4 0.6h0m4.5 0.6h0m0.2-1.3h0m3.3 0.1h0m5.3 3.6h0m0.7-1.2h0m3.6-0.4h0m3-1h0m0.8-1.4h0m1.5 0.3h0m0.1 3.1h0m0.7-2.4h0m-53.7 6.5h0m8.2 0.5h0m2.4-1h0m3.6 1.3h0m0.2-1h0m3-2.2h0m39.3 4.2h0m-53.7 5.1h0m27.8-0.9h0m26.7 2h0m0.7 0.5h0m-36.7 5.6h0m31.2 0.6h0m4.7-3.1h0m2.1-0.1h0m-59.1 5.8h0m59.1 2.8h0m1.1-1h0m0.4-1.4h0m0.8-0.7h0m0.3 3.1h0m0.8-1.1h0m0.3-0.9h0m-1.1 4.4h0m3.2 4.2h0m-28.8 1.8h0m0.6 0.7h0m1.4-0.6h0m1 4.3h0m0.2-3.4h0m0.9-0.2h0m0.1 1.8h0m1.8 1h0m0.3-1.8h0m2.8 2.6h0m5.3-1h0m0.7-1.9h0m4.9 0.2h0m0.2 2h0m0.2-0.9h0m1.5 1.8h0m1.1-1.4h0m0.9 1.2h0m3.3-4.4h0m-26.2 7.6h0m0.1 2.7h0m3.6-3.9h0m0.6 4.2h0m6.9-3.8h0m0.6 3.4h0m1.2 0.4h0m0-4h0m0.5 1.6h0m1.7 0h0m1.1 1.9h0m0.5-0.1h0m0.1-4.9h0m0.2 1.4h0m1.5-1.8h0m2.1 0.8h0m1.3 3.2h0m1.3-0.3h0m5.2 1h0m3.7-4.4h0m-57.8 9.2h0m24.5 1.1h0m1.5 0.2h0m0.3-1.6h0m2.4 2.8h0m0.3-5.4h0m1.2-0.4h0m0.9 3.7h0m2.5 0.7h0m0.1-3.9h0m0.5 0.2h0m0.9 4.1h0m1.4-1.1h0m0.6-3.3h0m0.1 3h0m0.2 0.3h0m0.3-0.1h0m0.6 1.3h0m1.2-2.5h0m2.3 2.6h0m3.2-1h0m2.1 0.5h0m3.1-1.7h0m0.3 1.1h0m2.3 0.3h0m1.9-1h0m3.1-0.8h0m0.2 0.3h0m-32.6 8.3h0m0.3-1.3h0m1.9-1.1h0m0.3-0.8h0m2.6 0.2h0m5.6 2.8h0m0.1-3.7h0m1 0h0m0.5 2h0m0-3h0m1.4 1.2h0m3.4 2.7h0m0.9 0.5h0m3.3 0.3h0m1.2-4h0m0.8 0.5h0m0 2.3h0m0.6 2.1h0m1.8-5.8h0m2.8 5h0m1.4-1.8h0m1.4-3.1h0m1.8 1.1h0m0 2.8h0m-63.1 6.1h0m30.1 1h0m0.7-3.1h0m4.2 3.9h0m0-2h0m1.1-3h0m0.6-0.9h0m0.4 1.8h0m0.4 0.9h0m1.1 2.1h0m1.5-4.9h0m0.5 0h0m0.8 4.8h0m1-4.8h0m0.1 0.9h0m2.2 1.7h0m0.7 0.6h0m1.7 0.1h0m2.1 0.1h0m0.6 1.8h0m1.8 0.4h0m2.3-2h0m0.8-0.2h0m0.5-2.4h0m0.8 0.2h0m0.2 0.6h0m0.1 3.6h0m1.9-2.4h0m2.8-1.5h0m0.5-1.5h0m1.2 5.9h0m1.1-0.5h0m0.2-0.4h0m0.2 0.5h0m1-1.9h0m-35.7 3.7h0m5.5 0.4h0m0.2 1.2h0m0.2 2.7h0m1.1-3.7h0m4.1 0.7h0m4-0.8h0m0.5-1.4h0m1.3 3.3h0m0.8 0.2h0m0.1-3.1h0m1.7-0.6h0m1.7 2h0m5.3-1.3h0m0.5-0.2h0m1.2 0.4h0m0 2.6h0m0.3 0.2h0m2.8 1.7h0m1.2-4.3h0m0.7 4.6h0m0.6-5.1h0m0.2 4.5h0m0.2-3.4h0m0.9-1.9h0m0.6 2.4h0m-33.4 6.9h0m0.2 0.5h0m2.3 1.9h0m0.7-1.6h0m1.5-3.2h0m0.8-0.6h0m4.6 3.3h0m2-1.9h0m1-0.2h0m1.7 3.6h0m0.5-1.3h0m0.2 0.3h0m1.2 0.6h0m1.3-4h0m2 2h0m2.7 0.8h0m0.4 1.6h0m0.1-4.6h0m2.4 3.4h0m1.8-1.8h0m0.2 1.4h0m0.2-3.3h0m2.7 5.3h0m1.3-4.2h0m0.2 4.5h0m0.6-3.8h0m0.5-0.2h0m1.8 0.1h0m1.6 3.6h0m-36.8 3.2h0m0.7-1.9h0m1.2 4.2h0m1-4.3h0m0 1.7h0m1.3-1.4h0m1.4 4.3h0m1.6-0.8h0m4.8-3h0m1.6-0.2h0m0.5 3h0m1.7-0.9h0m0.5-3.3h0m1.8 5.7h0m1.5-3.5h0m0.5-1.3h0m0 3.7h0m0.3-2.8h0m0.1 3.2h0m0.1-4.1h0m0 1.7h0m0.3 2.7h0m3.7 0.2h0m6.2-2.2h0m0-2.4h0m1.4 4.7h0m0.5-5h0m1.6 4.9h0m0.4-3h0m2 0.1h0m1.3 1.3h0m-41.8 4.4h0m1.3-1.7h0m10.3-0.2h0m0.4 0.6h0m0.5 3.9h0m1.9-1.1h0m0.8-3.3h0m0.7-0.4h0m2.2 1.4h0m1.3 2.7h0m1.6-2.6h0m1.8-1.7h0m3.3 0.9h0m0.3 1.7h0m0.8 0.5h0m0.6 2.6h0m0.1-4h0m1 2.9h0m0.8-1.8h0m0.5-2.4h0m3.3 1.9h0m1-0.1h0m0 1.6h0m3.7-3.3h0m1.6 3.9h0m0.1-2.5h0m0.9 0.8h0m0.4 1.7h0m0.1-2.7h0m1 2.6h0m0.7 0.7h0m-80.1 4.3h0m6.7-2.5h0m16.5 4.2h0m7.5-1.8h0m2.9 0.1h0m0.5-1.1h0m2.1-2h0m1.3 2.9h0m1.9 0.2h0m1.8 0.4h0m0.8-0.7h0m1.5-0.1h0m0.2 1.1h0m5.1-2.5h0m5.1 1.9h0m0.4 2.5h0m3.1-5.7h0m0.2 0.9h0m0.8-0.3h0m2.8 0.3h0m0.5 2.4h0m0.2 0.8h0m0.6 0.7h0m1-4.3h0m1.2 0.4h0m1.5 0.5h0m1.8 1.6h0m0.9-1.4h0m0.7 2.8h0m0.5-3.2h0m0.5 4.3h0m1.4-0.7h0m0.1-3.5h0m3.1-1.2h0m0.5 2.8h0m0.4 1h0m0.9-0.1h0m1.8-1.1h0m0.5 2.6h0m0.2-1.2h0m0.4-2.4h0m0.6 3h0m1.7-0.5h0m-82.3 1.7h0m8.8 4.4h0m4-2.8h0m0.2 2.8h0m0.9 1h0m0.5-2.7h0m1.3 0.7h0m2.4 2.3h0m5.4-2.8h0m2.8-1.3h0m3.8 2.3h0m5.4-2.1h0m3.8-1.4h0m0 2h0m1.3 2.6h0m3.6-2h0m0.1 2.6h0m4.6-1.6h0m3.4 0h0m3.1-2h0m3.4 1.6h0m0.4 0.1h0m1.3-3h0m0 4.2h0m0.6-3.3h0m1.1 1.8h0m1.1-0.8h0m1.1-0.4h0m0.6-0.3h0m2.3-1.8h0m1 5.5h0m0-3.2h0m0.6 1.9h0m1-3.7h0m0.4 1.3h0m0.3-1h0m0.1 3.5h0m1.7 1.4h0m0.8-5.5h0m2 3.2h0m1.9 0.6h0m1.8 0.7h0m2.9-3h0m1.2 0.9h0m0.3-1.1h0m-80.1 9.6h0m6-3.5h0m6.4 2.4h0m6-2.3h0m3.8 1.5h0m2.2 0.2h0m0.7 1.1h0m0.2-0.9h0m3.7 1.5h0m10.2-2.9h0m0.1-2.3h0m0.3 1.9h0m2.7 1.5h0m0.7-0.6h0m3-0.4h0m0.5 0.8h0m2.8-2.7h0m3.8 2h0m0 0.4h0m1.6-0.4h0m1.4 1.1h0m3 2.1h0m0.4-0.4h0m0.6-3.4h0m1.6-1.6h0m1.4 2.9h0m2.2-2.6h0m0.5-0.5h0m0.1 3.4h0m0.1-2.3h0m3.5 2.1h0m0.3-0.6h0m0.3-0.2h0m0.3 0.9h0m1.6 1.4h0m0.4-0.8h0m1.9 1.7h0m1-5.8h0m0.2 5.5h0m1 0.4h0m2.4-1h0m0-3.9h0m2.8 0.1h0m-84.6 7.7h0m6.7-1.1h0m0.7 0h0m2.3 0.4h0m2.2 1h0m0.2 2.4h0m2.6-0.7h0m7.1 0.8h0m3.4-5.2h0m1.5 0.3h0m0.8 0.9h0m1.9 3.3h0m0.7-3.8h0m7.2 3.1h0m3.9-2.6h0m1.7 1.9h0m0.5-3.1h0m4.9 1.5h0m0.9-0.7h0m4.9-0.7h0m4.5 1.8h0m4.7 1.6h0m1.2-0.1h0m0.1-3.2h0m1.9 2.6h0m1.9 1.9h0m0.6-3.7h0m6.1 0.6h0m3.6-0.6h0m2.9 0.3h0m2.5 0h0m1.3-0.9h0m0.3 0.6h0m-86.1 6.2h0m2.4 1.7h0m4.8-1.6h0m2.5 3.1h0m1.1-2.6h0m0.9-1.6h0m0.3 4.9h0m0.7-0.8h0m3.8-1.3h0m2.9 1.5h0m2.6-2.6h0m4.8 0.5h0m1.3 1.2h0m2.1-0.8h0m1.4-1.5h0m0.6 2.7h0m0-3h0m0.9 4.3h0m7.1-2h0m2.5-2.1h0m3.8 1.6h0m0.9-1.8h0m0.4 4.6h0m0.5-2.5h0m0.5-3.2h0m11 2.6h0m0-0.5h0m0 1.3h0m0.2-0.1h0m1.2 0h0m3.3 1.5h0m4.8-3h0m2.9 3.7h0m0.2-0.5h0m0.6-3.5h0m2 0.2h0m1.2 3h0m0-1.6h0m0.4-1.9h0m6.1 1.4h0m5.6 0.3h0m-84.5 4.4h0m4 2h0m0.5-2.2h0m5.1 3.5h0m1.5-3h0m0.7-1.1h0m25-0.7h0m0.9 0.5h0m22 5.4h0m1.9-3.2h0m6.5 0.1h0m4.4 1.5h0m0.6 0.8h0m3.4-2.6h0m4 2.6h0m1.1-2h0m0-0.5h0m0.7-0.8h0m0.7 2.7h0m1.5-1.7h0m2-1.1h0m2.2-0.3h0m0.1 2.3h0m0.7-0.4h0m3.9 1.9h0m-9.3 1h0m0.8 0.5h0m0.7 2.1h0m-90.4 4.4h0m15.9 3.8h0m13.1 0.3h0m8.2-1.6h0m0.9-0.9h0m1.1 1.9h0m0.2-0.5h0m3.7-1.4h0m1.6 0.8h0m3.1-0.7h0m0.8 0.5h0m0.3 0.6h0m15.3 1.1h0m9.7-0.3h0m22.6 0.3h0m0.3 0.2h0m0.7-5.1h0m1.4 2.9h0m0-1.1h0m0.2 3h0m0.1-2.3h0m-96.5 6.4h0m2.3-0.8h0m3.5-0.6h0m2.1 0h0m3.7-0.7h0m2.7 0.8h0m0 0.1h0m17.2-1.3h0m7.7 3.9h0m4.4-1.9h0m0.2 2.1h0m0.1-3.8h0m0 2.5h0m1.3-2.5h0m1.2-0.9h0m0 5.3h0m2.3 0.2h0m1.9-5.6h0m0.9 5.3h0m0.3-3.6h0m0.6 0.4h0m0.6 0.8h0m10.5-0.4h0m2.8 2.4h0m3.3-2.8h0m1.6 1.8h0m6.2-1.5h0m1.7 2h0m17.2-2.7h0m1.2-1.7h0m2.9 4.7h0m0.9-1.3h0m-94.8 6.7h0m0.3-3.2h0m15.9 1.1h0m17.8 1.1h0m3.9-0.6h0m0.5-2.3h0m3.4 1.1h0m1.3 4.7h0m1.6-4.2h0m0.7-1.4h0m0 0.8h0m1.6 0.7h0m6.7-1h0m1.3 4.2h0m0.8-3.2h0m1.6 0.8h0m2.3 3.2h0m1.7-2.6h0m3.9-1.3h0m4.7-0.1h0m2.6 0.4h0m1.8 3.7h0m6.5-0.7h0m1.7-1.8h0m12.8-2.5h0m0.9 3.7h0m-105.4 7.2h0m40.4-0.8h0m0.8-0.3h0m1.1-1.3h0m0-0.9h0m1.5-2.2h0m0.7 1.9h0m3.6 0.7h0m1.3-1.9h0m0.3 0.4h0m1.2 0h0m0.5 3.7h0m0.7-1.4h0m8.4 1h0m1.1-4.5h0m0.1 2.4h0m0.3-1.1h0m0.4 0.5h0m1.7-1.9h0m0.4 4.8h0m7.1-2.9h0m0.9 0.1h0m1.2-0.9h0m5 1.7h0m0.1 0.2h0m3.1-0.9h0m3.7 0.4h0m1.2 1.7h0m9.4 1h0m0.8-1.3h0m3.9 1h0m2.7-4.9h0m0.7 0.1h0m1.3 1.2h0m-103.2 7.5h0m26.7 0.8h0m13.5-1.4h0m0-0.2h0m1 2.9h0m0.9-2.4h0m1.3 2.3h0m0.2-4.3h0m1.3 1.8h0m0.3 2.2h0m0.4-2.3h0m0 0.6h0m0.4-0.8h0m0.6 3.8h0m0.3-3.7h0m2.6 2.5h0m0.1 1h0m7.2-1.7h0m0.7-0.6h0m0.9 0.6h0m0.7-2.1h0m0.7 2.7h0m1.2 0.4h0m0.8-3.8h0m2.5 2.3h0m0.6-1.9h0m6.1-1.3h0m0.9-0.4h0m2.9 1.4h0m3.2 0.9h0m3.8-1.1h0m1.3 1.7h0m1.5-0.2h0m5.2-0.1h0m2.2-1.2h0m0.1-0.7h0m4.5 2.4h0m0.1 1.5h0m0-0.7h0m1.8-3.4h0m1.3 1.8h0m4.4 3h0m0.9-4.9h0m2.7 4.8h0m0.2 0h0m1.7-4.9h0m4.9 0.5h0m-115.9 8.6h0m0.1-3.1h0m5.9 1.2h0m1.4-1.3h0m1.8 3.1h0m14.7-2.7h0m18 5h0m0.2-5.4h0m0.8 1.5h0m0.2 1.8h0m1.8 2.1h0m0.3-5.1h0m0.1 2.9h0m4.7-1.3h0m0.4 0.1h0m0.9-1.4h0m8.1 1.7h0m0.8-1.8h0m1.6 0.7h0m1.7 1.7h0m0.6 0.4h0m2.8 0.3h0m2.1 0.5h0m1-0.1h0m1.9 1h0m2.6-0.9h0m0.8-3.6h0m1.5 2.5h0m1.9 2.6h0m1.7-1.8h0m0.1-0.6h0m1 2.1h0m0.4-5.3h0m2 0.5h0m0.4 2.5h0m1.2-2.3h0m14.9 0.4h0m4 1.7h0m0.8 1.9h0m0.6-2.4h0m6.5 0.5h0m-78.7 7h0m8.2 0.5h0m0.2-4.3h0m1.2 5.2h0m0.8-1.2h0m3.2-3.3h0m0.3 4.6h0m1.6-5.4h0m0.2 1.4h0m0.3-0.1h0m7.5 3.1h0m0.9 0.7h0m0.2 0.6h0m0-1.2h0m1.4-2.1h0m5.6 2h0m0.8-0.3h0m0.4-2.3h0m1 1.6h0m1-2.3h0m0.8 1.9h0m2.6-2.9h0m0.9 2.9h0m1.1-1.7h0m2.1 4.6h0m3.3-3.3h0m2.1-2.2h0m5.1 2.9h0m0.5 2.5h0m1.6-0.3h0m0.1 0.2h0m12.8-3.6h0m12.1 0.8h0m0.2-0.4h0m0.2 1.3h0m0.2-0.3h0m0.5 0.5h0m-114.6 6.5h0m4.9-2.4h0m24.6-1.8h0m12.8 0.5h0m4.5 3.8h0m2.9-0.9h0m0.7-2h0m0.2 3.6h0m5.4-0.9h0m2.4-2.1h0m0.6-1.6h0m0.3 1h0m4-1.4h0m1.8 5.4h0m1.6-5h0m7.7 0.5h0m1.8-0.7h0m0.9 3.5h0m0.3-2.5h0m0 3.6h0m1.6 0.7h0m0.9-2h0m0.2-3.8h0m0.4 3.4h0m3.2 1h0m0.7-0.3h0m0.5 1.1h0m0.8-1.7h0m2.3 0.1h0m0 1.4h0m0.4-1.7h0m1.3-1.8h0m24.8 1.7h0m0.2-2.8h0m-69.6 10.7h0m1.8-2h0m2.1 1.1h0m1.8 1.5h0m0.1-1.5h0m0.2-3.6h0m1.7 1h0m0.8 4h0m0.9-1.3h0m0.9-1.8h0m2.6 3.3h0m0-1.5h0m1.6-0.6h0m8.6 1h0m1.6-3.9h0m1.5 2h0m9.2 0h0m1.2 0.2h0m3.2 1.8h0m2.6-3.7h0m27.4 0.3h0m0.2 0.4h0m2 2.8h0m1.1-4.4h0m-75.4 9.7h0m3.1-2.3h0m4.6 0.4h0m2.4 1h0m2.8 2.2h0m3.2-5.2h0m3.7 4.8h0m0.3 0.2h0m1.3-4.8h0m1.2 4.4h0m0.2-1.8h0m1.1-2.6h0m0.2 1.5h0m0.4 2.6h0m0.1-0.8h0m0.6 1.7h0m0.4-2.6h0m0.3 0.6h0m0.6-2.6h0m2.2 3.7h0m1 0h0m5.5 0.8h0m1.1-0.1h0m0.6 0h0m1.4-4.2h0m0.8 2.3h0m1.8-2.5h0m0.2 3.3h0m0.2-2.3h0m0.3 3h0m34.3 0.5h0m1.5 0.6h0m-116.9 1.3h0m36.5 4.5h0m2.5-4.2h0m3 3.7h0m3.5-2.3h0m0.3-2.1h0m3.9 3.9h0m1.2-1.1h0m1.3 2h0m9.5-1.8h0m1 1.6h0m1.5-4.6h0m0.4 1.4h0m2.6-0.5h0m2.3 0.8h0m4.7-1.6h0m0.1 3.3h0m0-0.6h0m0.2 0.7h0m3.2-0.7h0m1.6-2.9h0m0.4 2.2h0m0.1-0.9h0m27.6-0.1h0m5.5-1.1h0m1.8 0.5h0m0.4 3.9h0m1-3.1h0m-116.4 6.6h0m0.4-0.5h0m3.8 1.2h0m2.2-1.6h0m3 3.5h0m6.6-0.8h0m19.7-1.2h0m4.2 0.8h0m0.2 1.6h0m7.6-1.8h0m5.8-1.3h0m1.4-2h0m1.3 2.1h0m1 3.4h0m1.2-2.9h0m0.4-0.1h0m3-1.7h0m32.7 0.4h0m-93.1 7h0m33.5-2.1h0m2-0.3h0m1.2 3.5h0m1.2-1.5h0m3.2 1.9h0m0.9 0.9h0m0.2-5.1h0m1 4.2h0m5.4 0.2h0m0.7-2.5h0m0 0.3h0m1 2.5h0m3.1-2.4h0m0.8 0.3h0m0.6-1.6h0m0.8 0.4h0m32 4.1h0m18.9 0.3h0m6.3-0.6h0m0.4-1.8h0m0.5 1.5h0m-111.3 5.4h0m31.8-1.6h0m3.5 3h0m4-0.7h0m1.8-2.2h0m1.9 1.2h0m1.2-3.3h0m0.2 2.8h0m2.6-0.6h0m0.3 1.5h0m1.3-3.3h0m0.2 1.9h0m0.1 0.8h0m44.6-3.4h0m1.3 2.3h0m1.5 0.6h0m13.4-1.2h0m0.4 2.1h0m0.8-3.7h0m-116.7 10.3h0m3.8-2.4h0m7.7-0.4h0m1.3 3.3h0m16.3-1.5h0m4.3 0.8h0m2.8-0.2h0m1-0.3h0m0.7-3.8h0m1 2.3h0m2 0.5h0m3.7-2.6h0m0.8 2.8h0m2.4 2.3h0m0.2 0.3h0m1-2h0m1.1-3.1h0m2.1 0.3h0m0.6 0.5h0m3.9 1.8h0m33.4-0.5h0m23.4 1.7h0m0.5-1.9h0m0.7 0.1h0m-116.3 4.7h0m6.5 1.5h0m0.1 0h0m2.8-0.1h0m5.1-1.7h0m0.2 2.3h0m0.5 1.3h0m1.6 0.9h0m0.1-0.1h0m0.6-5.6h0m3.6 5.6h0m0.5-1h0m0.7 0.9h0m10.6-4.6h0m0.4 1.8h0m0.9 0.8h0m0.3-1.2h0m1.6 3h0m1.2-4.1h0m1.2 2.4h0m0.4-2.1h0m0.9 3.5h0m3.8-0.2h0m1.7-4.6h0m1.1 1.3h0m0 0.4h0m67.4 2.4h0m0.3 0.9h0m0.1-0.8h0m0.9-0.6h0m-96.7 2.3h0m2.4 2.5h0m1.2-1.2h0m5.4 0.7h0m1 0.3h0m0 0.1h0m3.8-0.3h0m0.6 0.3h0m1.2-1.2h0m1.3 0.7h0m4.2-0.8h0m42.1 4.7h0m31.2-0.3h0m0.3-2.5h0m0.8 1.4h0m3.3-2.8h0m-45.2 5.5h0m23.6 0.4h0m4.9 3.5h0m3.5-4.4h0m2.3 4.4h0m4.2-1.1h0m0 0.9h0m2.6-3.7h0m0.4 4.8h0m-44.5 2h0m31 1.7h0m1.7-1.1h0m0.7 1h0m0.4-2.6h0m1.5 0.8h0m0.4-0.9h0m-43.5 6.2h0m25.1 3.3h0m4.2 0.7h0m0.1-1.7h0m3.2-1.6h0m-51 6.2h0m2.2 3.2h0m23.8 0.5h0m4.5-0.5h0m4.5-2.2h0m0.1-0.8h0m4.8 3.4h0m4.2-5.5h0m-27.6 11.1h0m1.1-1.2h0m0.7-0.4h0m3.1 0.6h0m-61.4 7.7h0m1.9-0.6h0m2 0h0m0.4 0.2h0m2.8-0.1h0m42.5 0.5h0m1.9-2.4h0m1.9-1.3h0m1.4-2h0m-54.4 8.6h0m1 3.2h0m0.1-2h0m0.3-0.5h0m2.3-2.6h0m5.7 0.6h0m0.5 2.4h0m1.9 0.6h0m4.7-2h0m16.4 3.2h0m3.3-0.7h0m2.7 0h0m3.5-1.3h0m0.6-0.9h0m0.8-0.3h0m1.8-1.8h0m0.3 0.9h0m-49.3 8.6h0m5.6 1.6h0m6.2-4.5h0m3.4 2.1h0m4-0.4h0m0.9-2.6h0m0.5 3.6h0m0-4h0m1.5 0.4h0m1.5 4.9h0m0.4-3h0m12.5 3.6h0m1.2-0.6h0m1.4-4.6h0m0.7 1.1h0m1.2 1.1h0m-34.4 8.4h0m5.5-2.5h0m2.9 1.9h0m3.7 1.2h0m2.4-1.1h0m0.3-1.6h0m25.3-0.8h0m-44.5 4.5h0m3.2 2h0m3.2 1.3h0m1.6-1.6h0m0.2 2.5h0m2.3 0.5h0m1.4-2.1h0m0.2-2.7h0m0.9 0.5h0m5.4-0.2h0m4.4 2.5h0m2.3 0.2h0m4.4-3.2h0m-31.6 8.6h0m0.7 1.3h0m6.5 1.3h0m1.4-1.2h0m2.3 0.2h0m0-0.9h0m3.4-3.1h0m1.5-0.6h0m4 4.4h0m2.6-1.8h0m3-2.3h0m-19.9 5.7h0m0.4 1.8h0m0.3 3.9h0m1.3-2.3h0m0.6 2.3h0m0.5-2.9h0m0.7-2.1h0m0.7 0.2h0m6.2 3.1h0m0.7-3.2h0m0.1 0h0m2.1 1.2h0m-19.5 6.4h0m1-0.2h0m2.1-1.6h0m6.2 2.8h0m1.7-0.8h0m-5.8 6.1h0m0.5 0.7h0m0.2 0.5h0m-4 2.1h0" stroke="#000" stroke-width="2.4" stroke-linecap="round" fill="none"/>
<g stroke="#c0c0c0" stroke-width="0.8" stroke-dasharray="3,5" fill="none">
<line x1="0" y1="72.3" x2="348" y2="72.3"/>
<line x1="0" y1="143.8" x2="348" y2="143.8"/>
<line x1="0" y1="216" x2="348" y2="216"/>
<line x1="0" y1="287" x2="348" y2="287"/>
<line x1="0" y1="357.2" x2="348" y2="357.2"/>
<line x1="58" y1="0" x2="58" y2="427.6"/>
<line x1="116" y1="0" x2="116" y2="427.6"/>
<line x1="174" y1="0" x2="174" y2="427.6"/>
<line x1="232" y1="0" x2="232" y2="427.6"/>
<line x1="290" y1="0" x2="290" y2="427.6"/>
</g>
<g stroke="#555" stroke-width="0.8">
<line x1="0" y1="72.3" x2="4" y2="72.3"/><line x1="344" y1="72.3" x2="348" y2="72.3"/>
<line x1="0" y1="143.8" x2="4" y2="143.8"/><line x1="344" y1="143.8" x2="348" y2="143.8"/>
<line x1="0" y1="216" x2="4" y2="216"/><line x1="344" y1="216" x2="348" y2="216"/>
<line x1="0" y1="287" x2="4" y2="287"/><line x1="344" y1="287" x2="348" y2="287"/>
<line x1="0" y1="357.2" x2="4" y2="357.2"/><line x1="344" y1="357.2" x2="348" y2="357.2"/>
<line x1="58" y1="0" x2="58" y2="4"/><line x1="58" y1="423.6" x2="58" y2="427.6"/>
<line x1="116" y1="0" x2="116" y2="4"/><line x1="116" y1="423.6" x2="116" y2="427.6"/>
<line x1="174" y1="0" x2="174" y2="4"/><line x1="174" y1="423.6" x2="174" y2="427.6"/>
<line x1="232" y1="0" x2="232" y2="4"/><line x1="232" y1="423.6" x2="232" y2="427.6"/>
<line x1="290" y1="0" x2="290" y2="4"/><line x1="290" y1="423.6" x2="290" y2="427.6"/>
</g>
<g shape-rendering="crispEdges"><path fill="#8fff70" d="M67.7 -1.1h84.3v8.1h-84.3zM281.6 -1.1h15.6v8.1h-15.6zM67.7 6.7h99.6v8.1h-99.6zM235.8 6.7h7.9v8.1h-7.9zM289.3 6.7h7.9v8.1h-7.9zM304.6 6.7h15.6v8.1h-15.6zM335.1 6.7h15.6v8.1h-15.6zM75.4 14.5h69.1v8.1h-69.1zM296.9 14.5h53.8v8.1h-53.8zM75.4 22.3h69.1v8.1h-69.1zM296.9 22.3h38.5v8.1h-38.5zM342.8 22.3h7.9v8.1h-7.9zM75.4 30.1h69.1v8.1h-69.1zM296.9 30.1h46.1v8.1h-46.1zM75.4 37.9h69.1v8.1h-69.1zM296.9 37.9h46.1v8.1h-46.1zM75.4 45.7h69.1v8.1h-69.1zM197.6 45.7h7.9v8.1h-7.9zM296.9 45.7h53.8v8.1h-53.8zM83 53.5h61.4v8.1h-61.4zM197.6 53.5h15.6v8.1h-15.6zM296.9 53.5h53.8v8.1h-53.8zM83 61.3h61.4v8.1h-61.4zM151.8 61.3h23.2v8.1h-23.2zM197.6 61.3h15.6v8.1h-15.6zM296.9 61.3h53.8v8.1h-53.8zM83 69.1h53.8v8.1h-53.8zM159.4 69.1h46.1v8.1h-46.1zM220.5 69.1h7.9v8.1h-7.9zM289.3 69.1h61.4v8.1h-61.4zM83 76.9h53.8v8h-53.8zM182.3 76.9h15.6v8h-15.6zM228.2 76.9h7.9v8h-7.9zM289.3 76.9h61.4v8h-61.4zM90.6 84.6h46.1v8h-46.1zM235.8 84.6h7.9v8h-7.9zM289.3 84.6h61.4v8h-61.4zM90.6 92.3h61.4v8h-61.4zM289.3 92.3h61.4v8h-61.4zM98.3 100h46.1v8h-46.1zM281.6 100h69.1v8h-69.1zM98.3 107.7h38.5v8h-38.5zM289.3 107.7h61.4v8h-61.4zM98.3 115.4h30.9v8h-30.9zM296.9 115.4h53.8v8h-53.8zM105.9 123.2h23.2v8h-23.2zM289.3 123.2h61.4v8h-61.4zM113.6 130.9h7.9v8h-7.9zM281.6 130.9h69.1v8h-69.1zM113.6 138.6h7.9v8h-7.9zM281.6 138.6h69.1v8h-69.1zM113.6 146.3h7.9v8.1h-7.9zM274 146.3h76.7v8.1h-76.7zM113.6 154.1h7.9v8.1h-7.9zM266.4 154.1h84.3v8.1h-84.3zM121.2 161.9h7.9v8.1h-7.9zM258.7 161.9h92v8.1h-92zM251.1 169.7h99.6v8.1h-99.6zM243.4 177.5h107.3v8.1h-107.3zM121.2 185.3h7.9v8.1h-7.9zM235.8 185.3h114.9v8.1h-114.9zM121.2 193.1h15.6v8.1h-15.6zM228.2 193.1h122.5v8.1h-122.5zM121.2 200.9h15.6v8.1h-15.6zM220.5 200.9h130.2v8.1h-130.2zM128.8 208.7h7.9v8.1h-7.9zM212.9 208.7h137.8v8.1h-137.8zM212.9 216.5h137.8v8h-137.8zM174.7 224.1h7.9v8h-7.9zM212.9 224.1h137.8v8h-137.8zM121.2 231.8h15.6v8h-15.6zM174.7 231.8h7.9v8h-7.9zM228.2 231.8h122.5v8h-122.5zM121.2 239.4h15.6v8h-15.6zM235.8 239.4h114.9v8h-114.9zM105.9 247.1h46.1v8h-46.1zM235.8 247.1h114.9v8h-114.9zM105.9 254.8h53.8v8h-53.8zM235.8 254.8h114.9v8h-114.9zM105.9 262.4h46.1v8h-46.1zM190 262.4h7.9v8h-7.9zM228.2 262.4h122.5v8h-122.5zM105.9 270.1h15.6v8h-15.6zM128.8 270.1h15.6v8h-15.6zM190 270.1h30.9v8h-30.9zM235.8 270.1h114.9v8h-114.9zM98.3 277.8h53.8v8h-53.8zM190 277.8h7.9v8h-7.9zM235.8 277.8h114.9v8h-114.9zM98.3 285.4h69.1v7.9h-69.1zM190 285.4h7.9v7.9h-7.9zM251.1 285.4h99.6v7.9h-99.6zM98.3 293h61.4v7.9h-61.4zM190 293h7.9v7.9h-7.9zM243.4 293h7.9v7.9h-7.9zM266.4 293h84.3v7.9h-84.3zM98.3 300.6h69.1v7.9h-69.1zM182.3 300.6h15.6v7.9h-15.6zM235.8 300.6h15.6v7.9h-15.6zM266.4 300.6h30.9v7.9h-30.9zM98.3 308.2h69.1v7.9h-69.1zM197.6 308.2h7.9v7.9h-7.9zM228.2 308.2h7.9v7.9h-7.9zM266.4 308.2h23.2v7.9h-23.2zM98.3 315.7h84.3v7.9h-84.3zM190 315.7h15.6v7.9h-15.6zM212.9 315.7h7.9v7.9h-7.9zM228.2 315.7h7.9v7.9h-7.9zM258.7 315.7h23.2v7.9h-23.2zM98.3 323.3h99.6v7.9h-99.6zM220.5 323.3h15.6v7.9h-15.6zM258.7 323.3h15.6v7.9h-15.6zM98.3 330.9h84.3v7.9h-84.3zM212.9 330.9h46.1v7.9h-46.1zM98.3 338.5h84.3v7.9h-84.3zM212.9 338.5h38.5v7.9h-38.5zM98.3 346h76.7v7.9h-76.7zM182.3 346h23.2v7.9h-23.2zM212.9 346h38.5v7.9h-38.5zM98.3 353.6h145.5v7.9h-145.5zM98.3 361.2h145.5v7.9h-145.5zM90.6 368.8h145.5v7.9h-145.5zM90.6 376.4h137.8v7.9h-137.8zM90.6 384h130.2v7.9h-130.2zM90.6 391.6h84.3v7.9h-84.3zM190 391.6h30.9v7.9h-30.9zM90.6 399.2h76.7v7.9h-76.7zM190 399.2h23.2v7.9h-23.2zM90.6 406.8h76.7v7.9h-76.7zM190 406.8h15.6v7.9h-15.6zM90.6 414.4h69.1v7.9h-69.1zM90.6 422h69.1v7.9h-69.1z"/><path fill="#ff7000" d="M151.8 -1.1h130.2v8.1h-130.2zM167 6.7h69.1v8.1h-69.1zM243.4 6.7h46.1v8.1h-46.1zM144.1 14.5h153.1v8.1h-153.1zM144.1 22.3h153.1v8.1h-153.1zM335.1 22.3h7.9v8.1h-7.9zM144.1 30.1h153.1v8.1h-153.1zM144.1 37.9h153.1v8.1h-153.1zM144.1 45.7h53.8v8.1h-53.8zM205.2 45.7h92v8.1h-92zM144.1 53.5h53.8v8.1h-53.8zM212.9 53.5h84.3v8.1h-84.3zM144.1 61.3h7.9v8.1h-7.9zM174.7 61.3h23.2v8.1h-23.2zM212.9 61.3h84.3v8.1h-84.3zM136.5 69.1h23.2v8.1h-23.2zM205.2 69.1h15.6v8.1h-15.6zM228.2 69.1h61.4v8.1h-61.4zM136.5 76.9h46.1v8h-46.1zM197.6 76.9h30.9v8h-30.9zM235.8 76.9h53.8v8h-53.8zM136.5 84.6h99.6v8h-99.6zM243.4 84.6h46.1v8h-46.1zM151.8 92.3h137.8v8h-137.8zM144.1 100h137.8v8h-137.8zM136.5 107.7h153.1v8h-153.1zM128.8 115.4h168.4v8h-168.4zM128.8 123.2h160.7v8h-160.7zM121.2 130.9h160.7v8h-160.7zM121.2 138.6h160.7v8h-160.7zM121.2 146.3h153.1v8.1h-153.1zM121.2 154.1h145.5v8.1h-145.5zM128.8 161.9h130.2v8.1h-130.2zM121.2 169.7h130.2v8.1h-130.2zM121.2 177.5h122.5v8.1h-122.5zM128.8 185.3h107.3v8.1h-107.3zM136.5 193.1h53.8v8.1h-53.8zM197.6 193.1h30.9v8.1h-30.9zM136.5 200.9h15.6v8.1h-15.6zM159.4 200.9h23.2v8.1h-23.2zM205.2 200.9h15.6v8.1h-15.6zM167 208.7h15.6v8.1h-15.6zM128.8 216.5h7.9v8h-7.9zM174.7 216.5h15.6v8h-15.6zM205.2 216.5h7.9v8h-7.9zM128.8 224.1h38.5v8h-38.5zM182.3 224.1h30.9v8h-30.9zM136.5 231.8h38.5v8h-38.5zM182.3 231.8h46.1v8h-46.1zM136.5 239.4h99.6v8h-99.6zM151.8 247.1h84.3v8h-84.3zM159.4 254.8h76.7v8h-76.7zM151.8 262.4h38.5v8h-38.5zM197.6 262.4h30.9v8h-30.9zM151.8 270.1h38.5v8h-38.5zM220.5 270.1h15.6v8h-15.6zM151.8 277.8h38.5v8h-38.5zM197.6 277.8h38.5v8h-38.5zM167 285.4h23.2v7.9h-23.2zM197.6 285.4h53.8v7.9h-53.8zM159.4 293h30.9v7.9h-30.9zM197.6 293h46.1v7.9h-46.1zM251.1 293h15.6v7.9h-15.6zM167 300.6h15.6v7.9h-15.6zM197.6 300.6h38.5v7.9h-38.5zM251.1 300.6h15.6v7.9h-15.6zM167 308.2h30.9v7.9h-30.9zM205.2 308.2h23.2v7.9h-23.2zM235.8 308.2h30.9v7.9h-30.9zM182.3 315.7h7.9v7.9h-7.9zM205.2 315.7h7.9v7.9h-7.9zM220.5 315.7h7.9v7.9h-7.9zM235.8 315.7h23.2v7.9h-23.2zM235.8 323.3h23.2v7.9h-23.2z"/><path fill="#008fff" d="M296.9 -1.1h53.8v8.1h-53.8zM296.9 6.7h7.9v8.1h-7.9zM319.8 6.7h15.6v8.1h-15.6zM342.8 30.1h7.9v8.1h-7.9zM342.8 37.9h7.9v8.1h-7.9zM98.3 123.2h7.9v8h-7.9zM105.9 130.9h7.9v8h-7.9zM105.9 138.6h7.9v8h-7.9zM113.6 161.9h7.9v8.1h-7.9zM121.2 208.7h7.9v8.1h-7.9zM121.2 216.5h7.9v8h-7.9zM121.2 224.1h7.9v8h-7.9zM90.6 247.1h15.6v8h-15.6zM90.6 254.8h15.6v8h-15.6zM83 262.4h23.2v8h-23.2zM75.4 270.1h30.9v8h-30.9zM121.2 270.1h7.9v8h-7.9zM144.1 270.1h7.9v8h-7.9zM60.1 277.8h38.5v8h-38.5zM52.4 285.4h46.1v7.9h-46.1zM44.8 293h53.8v7.9h-53.8zM37.2 300.6h61.4v7.9h-61.4zM296.9 300.6h53.8v7.9h-53.8zM29.5 308.2h69.1v7.9h-69.1zM289.3 308.2h61.4v7.9h-61.4zM29.5 315.7h69.1v7.9h-69.1zM281.6 315.7h69.1v7.9h-69.1zM37.2 323.3h61.4v7.9h-61.4zM197.6 323.3h23.2v7.9h-23.2zM274 323.3h76.7v7.9h-76.7zM29.5 330.9h69.1v7.9h-69.1zM182.3 330.9h30.9v7.9h-30.9zM258.7 330.9h92v7.9h-92zM21.9 338.5h76.7v7.9h-76.7zM182.3 338.5h30.9v7.9h-30.9zM251.1 338.5h99.6v7.9h-99.6zM6.6 346h92v7.9h-92zM174.7 346h7.9v7.9h-7.9zM205.2 346h7.9v7.9h-7.9zM251.1 346h99.6v7.9h-99.6zM6.6 353.6h92v7.9h-92zM243.4 353.6h107.3v7.9h-107.3zM6.6 361.2h92v7.9h-92zM243.4 361.2h107.3v7.9h-107.3zM6.6 368.8h84.3v7.9h-84.3zM235.8 368.8h114.9v7.9h-114.9zM6.6 376.4h84.3v7.9h-84.3zM228.2 376.4h122.5v7.9h-122.5zM6.6 384h84.3v7.9h-84.3zM220.5 384h130.2v7.9h-130.2zM6.6 391.6h84.3v7.9h-84.3zM174.7 391.6h15.6v7.9h-15.6zM220.5 391.6h130.2v7.9h-130.2zM6.6 399.2h84.3v7.9h-84.3zM167 399.2h23.2v7.9h-23.2zM212.9 399.2h137.8v7.9h-137.8zM6.6 406.8h84.3v7.9h-84.3zM167 406.8h23.2v7.9h-23.2zM205.2 406.8h145.5v7.9h-145.5zM6.6 414.4h84.3v7.9h-84.3zM159.4 414.4h191.3v7.9h-191.3zM6.6 422h84.3v7.9h-84.3zM159.4 422h183.7v7.9h-183.7z"/><path fill="#800000" d="M190 193.1h7.9v8.1h-7.9zM151.8 200.9h7.9v8.1h-7.9zM182.3 200.9h23.2v8.1h-23.2zM136.5 208.7h30.9v8.1h-30.9zM182.3 208.7h30.9v8.1h-30.9zM136.5 216.5h38.5v8h-38.5zM190 216.5h15.6v8h-15.6zM167 224.1h7.9v8h-7.9z"/><path fill="#00008f" d="M21.9 315.7h7.9v7.9h-7.9zM14.2 323.3h23.2v7.9h-23.2zM6.6 330.9h23.2v7.9h-23.2zM6.6 338.5h15.6v7.9h-15.6zM342.8 422h7.9v7.9h-7.9z"/></g><polyline points="97.8,263.5 97.8,367.8 90.4,371 90.4,427.6" fill="none" stroke="#000" stroke-width="1.0" stroke-linejoin="round"/>\n<text font-size="13" fill="#000" transform="translate(95.7,375) rotate(0)" text-anchor="middle">2</text>\n<polyline points="106.3,263.5 97.8,282" fill="none" stroke="#000" stroke-width="1.0" stroke-linejoin="round"/>\n<polyline points="111.6,275 117,271 125,284 120,288 111.6,280" fill="none" stroke="#000" stroke-width="1.0" stroke-linejoin="round"/>\n<polyline points="135,275 141,271 150,284 145,288 135,280" fill="none" stroke="#000" stroke-width="1.0" stroke-linejoin="round"/>\n<text font-size="13" fill="#000" transform="translate(116,283) rotate(-40)" text-anchor="middle">2</text>\n<text font-size="13" fill="#000" transform="translate(140,283) rotate(-40)" text-anchor="middle">2</text>\n<polyline points="190.3,323.1 196,324 211,324 220.1,330.5 213.7,342.2 211.6,352.9 205.2,361.4 196.7,353.9 181.8,353.9 174.4,361.4 166.9,353.9 181.8,339 190.3,338 190.3,330.5" fill="none" stroke="#000" stroke-width="1.0" stroke-linejoin="round"/>\n<text font-size="13" fill="#000" transform="translate(222,339) rotate(-20)" text-anchor="middle">2</text>\n<polyline points="158.4,427.6 158.4,414.6 166.9,408.2 166.9,399.7 175.5,391.2 181.8,384.8 189.3,391.2 189.3,414.6 205.2,414.6 220.1,399.7 220.1,393.3 235,378.4 235,369.9 243.5,361.4 243.5,353.9 251,346.5 251,339 258.4,331.6 273.3,331.6 273.3,325.2 281.8,316.7 289.3,316.7 289.3,308.2 304.2,293.3 311.6,293.3" fill="none" stroke="#000" stroke-width="1.0" stroke-linejoin="round"/>\n<polyline points="321,293.3 326.5,300.8 342.4,300.8" fill="none" stroke="#000" stroke-width="1.0" stroke-linejoin="round"/>\n<text font-size="13" fill="#000" transform="translate(316,298) rotate(0)" text-anchor="middle">2</text>\n<text font-size="13" fill="#000" transform="translate(169,399) rotate(-40)" text-anchor="middle">2</text>\n<polyline points="121.2,214.6 125,222 128.7,238" fill="none" stroke="#000" stroke-width="1.0" stroke-linejoin="round"/>\n<polyline points="284,-0.3 290.3,9.2 291.4,15.6 293,18" fill="none" stroke="#000" stroke-width="1.0" stroke-linejoin="round"/>\n<polyline points="300,16 303.1,14.6 318,14.6 327.5,22 335,14.6 342.4,14.6" fill="none" stroke="#000" stroke-width="1.0" stroke-linejoin="round"/>\n<text font-size="13" fill="#000" transform="translate(295.6,23.5) rotate(0)" text-anchor="middle">2</text>\n<polyline points="347.8,30.5 340,36" fill="none" stroke="#000" stroke-width="1.0" stroke-linejoin="round"/>\n<polyline points="335,45.4 342.4,52.8" fill="none" stroke="#000" stroke-width="1.0" stroke-linejoin="round"/>\n<text font-size="13" fill="#000" transform="translate(337.1,42) rotate(-60)" text-anchor="middle">2</text>\n<polyline points="98.9,124.1 111.6,136.9" fill="none" stroke="#000" stroke-width="1.0" stroke-linejoin="round"/>\n<text font-size="13" fill="#000" transform="translate(113.8,145) rotate(-50)" text-anchor="middle">2</text>\n<polyline points="106.3,147.5 114.8,166.6" fill="none" stroke="#000" stroke-width="1.0" stroke-linejoin="round"/>\n<text font-size="13" fill="#000" transform="translate(121.2,172) rotate(-50)" text-anchor="middle">2</text>
<path d="M59.1 45.4L75.1 45.4M61.4 39.7L72.8 51.1M67.1 37.4L67.1 53.4M72.8 39.7L61.4 51.1" stroke="#ff0000" stroke-width="1.1" fill="none"/>
<path d="M96.6 156.8L112.6 156.8M98.9 151.1L110.3 162.5M104.6 148.8L104.6 164.8M110.3 151.1L98.9 162.5" stroke="#ff0000" stroke-width="1.1" fill="none"/>
<path d="M105.3 249.8L121.3 249.8M107.6 244.1L119 255.5M113.3 241.8L113.3 257.8M119 244.1L107.6 255.5" stroke="#ff0000" stroke-width="1.1" fill="none"/>
<path d="M54.3 272L70.3 272M56.6 266.3L68 277.7M62.3 264L62.3 280M68 266.3L56.6 277.7" stroke="#ff0000" stroke-width="1.1" fill="none"/>
</g>
<g shape-rendering="crispEdges">
<rect x="4.1" y="19.8" width="2" height="25.5" fill="#000087"/>
<rect x="5.9" y="19.8" width="2" height="25.5" fill="#000097"/>
<rect x="7.6" y="19.8" width="2" height="25.5" fill="#0000a7"/>
<rect x="9.4" y="19.8" width="2" height="25.5" fill="#0000b7"/>
<rect x="11.1" y="19.8" width="2" height="25.5" fill="#0000c7"/>
<rect x="12.9" y="19.8" width="2" height="25.5" fill="#0000d7"/>
<rect x="14.6" y="19.8" width="2" height="25.5" fill="#0000e7"/>
<rect x="16.4" y="19.8" width="2" height="25.5" fill="#0000f7"/>
<rect x="18.1" y="19.8" width="2" height="25.5" fill="#0008ff"/>
<rect x="19.9" y="19.8" width="2" height="25.5" fill="#0018ff"/>
<rect x="21.7" y="19.8" width="2" height="25.5" fill="#0028ff"/>
<rect x="23.4" y="19.8" width="2" height="25.5" fill="#0038ff"/>
<rect x="25.2" y="19.8" width="2" height="25.5" fill="#0048ff"/>
<rect x="26.9" y="19.8" width="2" height="25.5" fill="#0058ff"/>
<rect x="28.7" y="19.8" width="2" height="25.5" fill="#0068ff"/>
<rect x="30.4" y="19.8" width="2" height="25.5" fill="#0078ff"/>
<rect x="32.2" y="19.8" width="2" height="25.5" fill="#0087ff"/>
<rect x="34" y="19.8" width="2" height="25.5" fill="#0097ff"/>
<rect x="35.7" y="19.8" width="2" height="25.5" fill="#00a7ff"/>
<rect x="37.5" y="19.8" width="2" height="25.5" fill="#00b7ff"/>
<rect x="39.2" y="19.8" width="2" height="25.5" fill="#00c7ff"/>
<rect x="41" y="19.8" width="2" height="25.5" fill="#00d7ff"/>
<rect x="42.7" y="19.8" width="2" height="25.5" fill="#00e7ff"/>
<rect x="44.5" y="19.8" width="2" height="25.5" fill="#00f7ff"/>
<rect x="46.3" y="19.8" width="2" height="25.5" fill="#08fff7"/>
<rect x="48" y="19.8" width="2" height="25.5" fill="#18ffe7"/>
<rect x="49.8" y="19.8" width="2" height="25.5" fill="#28ffd7"/>
<rect x="51.5" y="19.8" width="2" height="25.5" fill="#38ffc7"/>
<rect x="53.3" y="19.8" width="2" height="25.5" fill="#48ffb7"/>
<rect x="55" y="19.8" width="2" height="25.5" fill="#58ffa7"/>
<rect x="56.8" y="19.8" width="2" height="25.5" fill="#68ff97"/>
<rect x="58.5" y="19.8" width="2" height="25.5" fill="#78ff87"/>
<rect x="60.3" y="19.8" width="2" height="25.5" fill="#87ff78"/>
<rect x="62.1" y="19.8" width="2" height="25.5" fill="#97ff68"/>
<rect x="63.8" y="19.8" width="2" height="25.5" fill="#a7ff58"/>
<rect x="65.6" y="19.8" width="2" height="25.5" fill="#b7ff48"/>
<rect x="67.3" y="19.8" width="2" height="25.5" fill="#c7ff38"/>
<rect x="69.1" y="19.8" width="2" height="25.5" fill="#d7ff28"/>
<rect x="70.8" y="19.8" width="2" height="25.5" fill="#e7ff18"/>
<rect x="72.6" y="19.8" width="2" height="25.5" fill="#f7ff08"/>
<rect x="74.3" y="19.8" width="2" height="25.5" fill="#fff700"/>
<rect x="76.1" y="19.8" width="2" height="25.5" fill="#ffe700"/>
<rect x="77.9" y="19.8" width="2" height="25.5" fill="#ffd700"/>
<rect x="79.6" y="19.8" width="2" height="25.5" fill="#ffc700"/>
<rect x="81.4" y="19.8" width="2" height="25.5" fill="#ffb700"/>
<rect x="83.1" y="19.8" width="2" height="25.5" fill="#ffa700"/>
<rect x="84.9" y="19.8" width="2" height="25.5" fill="#ff9700"/>
<rect x="86.6" y="19.8" width="2" height="25.5" fill="#ff8700"/>
<rect x="88.4" y="19.8" width="2" height="25.5" fill="#ff7800"/>
<rect x="90.2" y="19.8" width="2" height="25.5" fill="#ff6800"/>
<rect x="91.9" y="19.8" width="2" height="25.5" fill="#ff5800"/>
<rect x="93.7" y="19.8" width="2" height="25.5" fill="#ff4800"/>
<rect x="95.4" y="19.8" width="2" height="25.5" fill="#ff3800"/>
<rect x="97.2" y="19.8" width="2" height="25.5" fill="#ff2800"/>
<rect x="98.9" y="19.8" width="2" height="25.5" fill="#ff1800"/>
<rect x="100.7" y="19.8" width="2" height="25.5" fill="#ff0800"/>
<rect x="102.5" y="19.8" width="2" height="25.5" fill="#f70000"/>
<rect x="104.2" y="19.8" width="2" height="25.5" fill="#e70000"/>
<rect x="106" y="19.8" width="2" height="25.5" fill="#d70000"/>
<rect x="107.7" y="19.8" width="2" height="25.5" fill="#c70000"/>
<rect x="109.5" y="19.8" width="2" height="25.5" fill="#b70000"/>
<rect x="111.2" y="19.8" width="2" height="25.5" fill="#a70000"/>
<rect x="113" y="19.8" width="2" height="25.5" fill="#970000"/>
<rect x="114.7" y="19.8" width="2" height="25.5" fill="#870000"/>
</g>
<rect x="4.1" y="19.8" width="112.4" height="25.5" fill="none" stroke="#262626" stroke-width="1"/>
<text x="3" y="7.3" font-size="18" fill="#262626" text-anchor="middle">0</text>
<text x="58.8" y="7.3" font-size="18" fill="#262626" text-anchor="middle">2</text>
<text x="115.4" y="7.3" font-size="18" fill="#262626" text-anchor="middle">4</text>
<text x="285.4" y="37.2" font-size="20" fill="#000">10 km</text><line x1="306.4" y1="43.6" x2="319.6" y2="43.6" stroke="#000" stroke-width="3.6" stroke-linecap="round"/>
</g>
<g transform="translate(74.7,742.4)">
<g clip-path="url(#pc)">
<path d="M51 126.1L50 117L46 112.5L40 108L35 103.5L36 102L42 106L48 111L52 116L54 126.5L53.6 126.5L60.4 127.5L70.6 131L76.7 134L82.8 136L86 130L88 134L91.1 141L96.2 144.1L96.2 146L101.3 155L108.5 167L113 176L117 190L118.4 200.2L118 210.4L116.3 225.5L113.5 240L110.5 247L104.5 248.5L100.3 252.9L90.2 258L80 261L69.7 266.1L61.5 271.2L53.4 276.3L44.2 282.5L34 291.6L23.8 300.8L13.6 312L4.5 323.2L-1 331L-1 333.6L5.4 325.2L14.6 314L24.8 302.8L35 293.6L45.2 284.5L54.4 278.3L62.5 273.2L70.7 268.1L80.9 263L91.1 260L101.3 254.9L105.3 250.8L114 250.5L114.4 248.6L115.5 241L118.1 225.7L119.6 210.4L120.1 200.2L118.6 190L114.5 175.7L110.4 167.5L106 158L102.3 149.2L99 142L99 142L96.2 136L92 127L88 118.6L86 112L82.9 101L78.8 85.7L75.8 70.4L72.7 57.1L70 50.5L67.6 44.9L66.5 40L64.6 32.6L62.5 25L60.8 17L59.1 12.2L55.7 10.1L51.4 11.4L47.2 12.2L38.7 10.5L31.9 8.8L26.8 5.4L22.6 4.6L19.2 6.3L18.4 13.1L13.3 14.8L9.5 15.3L4.8 15.6L-1 17.4L-1 141L1.3 140L11.5 134L23.7 129.5L36.7 127.5L35 127.5L33 122.5L29 119L23 114.6L24 113L30 117L35 121L37 127.5L40 127L50.2 126L51 126.1ZM72 90L77 99L81.5 108L84 118L84.5 126L77 124L75 118L73.5 110L71 102L67 95L63 88L59 80L56 74L54.5 66L55 60L57 52L62 52L62.5 60L64.5 70L67.5 80L72 90ZM22 130L20 130.6L13 126.5L6 121.5L3.5 119.5L5 118L12 122.5L18 127L22 130ZM68 116L73 121L75 131L72.5 131L71 123L67 118.5L61 114L62 112L68 116ZM94.1 153.3L90 153.3L93.1 161.4L97.2 167.5L101.3 172.6L106.4 175.7L106.4 171.6L101.3 164.5L97.2 157.3L94.1 153.3ZM24.8 239.9L31.9 239.9L38 238.9L44.2 235.9L50.3 230.8L56.4 225.7L60.5 216.5L64.6 210.4L72.7 203.2L74.7 206.3L82.9 205.3L89 199.1L88 196.1L90 185.9L89 169.6L85 157.3L80.9 149.2L72.7 147.1L64.6 149.2L60.5 159.4L58.4 169.6L57.4 189L54.4 193L52.3 179.8L52.3 162.4L55.4 156.3L56.4 149.2L51.3 145.1L42.1 144.1L29.9 145.1L22.8 149.2L12.6 147.1L-1 149.2L-1 233.8L1.3 233.8L3.4 230.8L8.5 235.9L11.5 233.8L17.7 236.9L24.8 239.9ZM19.7 283.5L14.6 281.4L9.5 277.3L5.4 276.3L0.8 281.4L-1 281.4L-1 321L1.3 320.2L5.4 317.1L12.6 307.9L19.7 299.8L24.8 292.6L25.8 286.5L19.7 283.5Z" fill="#80e080" fill-rule="evenodd" stroke="#000" stroke-width="1.1" stroke-linejoin="round"/>
<polygon points="-1,-1 20,-1 19.7,5.1 18.7,14.3 9.5,15.3 -1,17.4" fill="#fff"/>
<polyline points="105.3,250.8 101.3,254.9 91.1,260 80.9,263 70.7,268.1 62.5,273.2 54.4,278.3 45.2,284.5 35,293.6 24.8,302.8 14.6,314 5.4,325.2 -1,333.6" fill="none" stroke="#000" stroke-width="1.6"/>
<path d="M18.5 5.4h0m9.2 2.6h0m-14.7 7h0m3.8-0.2h0m0.9-5h0m2.2 1h0m4.5 3h0m3-4.2h0m2.1-0.6h0m2.4 1.7h0m1.4 0.6h0m4.5 0.6h0m0.2-1.3h0m3.3 0.1h0m5.3 3.6h0m0.7-1.2h0m3.6-0.4h0m3-1h0m0.8-1.4h0m1.5 0.3h0m0.1 3.1h0m0.7-2.4h0m-53.7 6.5h0m8.2 0.5h0m2.4-1h0m3.6 1.3h0m0.2-1h0m3-2.2h0m39.3 4.2h0m-53.7 5.1h0m27.8-0.9h0m26.7 2h0m0.7 0.5h0m-36.7 5.6h0m31.2 0.6h0m4.7-3.1h0m2.1-0.1h0m-59.1 5.8h0m59.1 2.8h0m1.1-1h0m0.4-1.4h0m0.8-0.7h0m0.3 3.1h0m0.8-1.1h0m0.3-0.9h0m-1.1 4.4h0m3.2 4.2h0m-28.8 1.8h0m0.6 0.7h0m1.4-0.6h0m1 4.3h0m0.2-3.4h0m0.9-0.2h0m0.1 1.8h0m1.8 1h0m0.3-1.8h0m2.8 2.6h0m5.3-1h0m0.7-1.9h0m4.9 0.2h0m0.2 2h0m0.2-0.9h0m1.5 1.8h0m1.1-1.4h0m0.9 1.2h0m3.3-4.4h0m-26.2 7.6h0m0.1 2.7h0m3.6-3.9h0m0.6 4.2h0m6.9-3.8h0m0.6 3.4h0m1.2 0.4h0m0-4h0m0.5 1.6h0m1.7 0h0m1.1 1.9h0m0.5-0.1h0m0.1-4.9h0m0.2 1.4h0m1.5-1.8h0m2.1 0.8h0m1.3 3.2h0m1.3-0.3h0m5.2 1h0m3.7-4.4h0m-57.8 9.2h0m24.5 1.1h0m1.5 0.2h0m0.3-1.6h0m2.4 2.8h0m0.3-5.4h0m1.2-0.4h0m0.9 3.7h0m2.5 0.7h0m0.1-3.9h0m0.5 0.2h0m0.9 4.1h0m1.4-1.1h0m0.6-3.3h0m0.1 3h0m0.2 0.3h0m0.3-0.1h0m0.6 1.3h0m1.2-2.5h0m2.3 2.6h0m3.2-1h0m2.1 0.5h0m3.1-1.7h0m0.3 1.1h0m2.3 0.3h0m1.9-1h0m3.1-0.8h0m0.2 0.3h0m-32.6 8.3h0m0.3-1.3h0m1.9-1.1h0m0.3-0.8h0m2.6 0.2h0m5.6 2.8h0m0.1-3.7h0m1 0h0m0.5 2h0m0-3h0m1.4 1.2h0m3.4 2.7h0m0.9 0.5h0m3.3 0.3h0m1.2-4h0m0.8 0.5h0m0 2.3h0m0.6 2.1h0m1.8-5.8h0m2.8 5h0m1.4-1.8h0m1.4-3.1h0m1.8 1.1h0m0 2.8h0m-63.1 6.1h0m30.1 1h0m0.7-3.1h0m4.2 3.9h0m0-2h0m1.1-3h0m0.6-0.9h0m0.4 1.8h0m0.4 0.9h0m1.1 2.1h0m1.5-4.9h0m0.5 0h0m0.8 4.8h0m1-4.8h0m0.1 0.9h0m2.2 1.7h0m0.7 0.6h0m1.7 0.1h0m2.1 0.1h0m0.6 1.8h0m1.8 0.4h0m2.3-2h0m0.8-0.2h0m0.5-2.4h0m0.8 0.2h0m0.2 0.6h0m0.1 3.6h0m1.9-2.4h0m2.8-1.5h0m0.5-1.5h0m1.2 5.9h0m1.1-0.5h0m0.2-0.4h0m0.2 0.5h0m1-1.9h0m-35.7 3.7h0m5.5 0.4h0m0.2 1.2h0m0.2 2.7h0m1.1-3.7h0m4.1 0.7h0m4-0.8h0m0.5-1.4h0m1.3 3.3h0m0.8 0.2h0m0.1-3.1h0m1.7-0.6h0m1.7 2h0m5.3-1.3h0m0.5-0.2h0m1.2 0.4h0m0 2.6h0m0.3 0.2h0m2.8 1.7h0m1.2-4.3h0m0.7 4.6h0m0.6-5.1h0m0.2 4.5h0m0.2-3.4h0m0.9-1.9h0m0.6 2.4h0m-33.4 6.9h0m0.2 0.5h0m2.3 1.9h0m0.7-1.6h0m1.5-3.2h0m0.8-0.6h0m4.6 3.3h0m2-1.9h0m1-0.2h0m1.7 3.6h0m0.5-1.3h0m0.2 0.3h0m1.2 0.6h0m1.3-4h0m2 2h0m2.7 0.8h0m0.4 1.6h0m0.1-4.6h0m2.4 3.4h0m1.8-1.8h0m0.2 1.4h0m0.2-3.3h0m2.7 5.3h0m1.3-4.2h0m0.2 4.5h0m0.6-3.8h0m0.5-0.2h0m1.8 0.1h0m1.6 3.6h0m-36.8 3.2h0m0.7-1.9h0m1.2 4.2h0m1-4.3h0m0 1.7h0m1.3-1.4h0m1.4 4.3h0m1.6-0.8h0m4.8-3h0m1.6-0.2h0m0.5 3h0m1.7-0.9h0m0.5-3.3h0m1.8 5.7h0m1.5-3.5h0m0.5-1.3h0m0 3.7h0m0.3-2.8h0m0.1 3.2h0m0.1-4.1h0m0 1.7h0m0.3 2.7h0m3.7 0.2h0m6.2-2.2h0m0-2.4h0m1.4 4.7h0m0.5-5h0m1.6 4.9h0m0.4-3h0m2 0.1h0m1.3 1.3h0m-41.8 4.4h0m1.3-1.7h0m10.3-0.2h0m0.4 0.6h0m0.5 3.9h0m1.9-1.1h0m0.8-3.3h0m0.7-0.4h0m2.2 1.4h0m1.3 2.7h0m1.6-2.6h0m1.8-1.7h0m3.3 0.9h0m0.3 1.7h0m0.8 0.5h0m0.6 2.6h0m0.1-4h0m1 2.9h0m0.8-1.8h0m0.5-2.4h0m3.3 1.9h0m1-0.1h0m0 1.6h0m3.7-3.3h0m1.6 3.9h0m0.1-2.5h0m0.9 0.8h0m0.4 1.7h0m0.1-2.7h0m1 2.6h0m0.7 0.7h0m-80.1 4.3h0m6.7-2.5h0m16.5 4.2h0m7.5-1.8h0m2.9 0.1h0m0.5-1.1h0m2.1-2h0m1.3 2.9h0m1.9 0.2h0m1.8 0.4h0m0.8-0.7h0m1.5-0.1h0m0.2 1.1h0m5.1-2.5h0m5.1 1.9h0m0.4 2.5h0m3.1-5.7h0m0.2 0.9h0m0.8-0.3h0m2.8 0.3h0m0.5 2.4h0m0.2 0.8h0m0.6 0.7h0m1-4.3h0m1.2 0.4h0m1.5 0.5h0m1.8 1.6h0m0.9-1.4h0m0.7 2.8h0m0.5-3.2h0m0.5 4.3h0m1.4-0.7h0m0.1-3.5h0m3.1-1.2h0m0.5 2.8h0m0.4 1h0m0.9-0.1h0m1.8-1.1h0m0.5 2.6h0m0.2-1.2h0m0.4-2.4h0m0.6 3h0m1.7-0.5h0m-82.3 1.7h0m8.8 4.4h0m4-2.8h0m0.2 2.8h0m0.9 1h0m0.5-2.7h0m1.3 0.7h0m2.4 2.3h0m5.4-2.8h0m2.8-1.3h0m3.8 2.3h0m5.4-2.1h0m3.8-1.4h0m0 2h0m1.3 2.6h0m3.6-2h0m0.1 2.6h0m4.6-1.6h0m3.4 0h0m3.1-2h0m3.4 1.6h0m0.4 0.1h0m1.3-3h0m0 4.2h0m0.6-3.3h0m1.1 1.8h0m1.1-0.8h0m1.1-0.4h0m0.6-0.3h0m2.3-1.8h0m1 5.5h0m0-3.2h0m0.6 1.9h0m1-3.7h0m0.4 1.3h0m0.3-1h0m0.1 3.5h0m1.7 1.4h0m0.8-5.5h0m2 3.2h0m1.9 0.6h0m1.8 0.7h0m2.9-3h0m1.2 0.9h0m0.3-1.1h0m-80.1 9.6h0m6-3.5h0m6.4 2.4h0m6-2.3h0m3.8 1.5h0m2.2 0.2h0m0.7 1.1h0m0.2-0.9h0m3.7 1.5h0m10.2-2.9h0m0.1-2.3h0m0.3 1.9h0m2.7 1.5h0m0.7-0.6h0m3-0.4h0m0.5 0.8h0m2.8-2.7h0m3.8 2h0m0 0.4h0m1.6-0.4h0m1.4 1.1h0m3 2.1h0m0.4-0.4h0m0.6-3.4h0m1.6-1.6h0m1.4 2.9h0m2.2-2.6h0m0.5-0.5h0m0.1 3.4h0m0.1-2.3h0m3.5 2.1h0m0.3-0.6h0m0.3-0.2h0m0.3 0.9h0m1.6 1.4h0m0.4-0.8h0m1.9 1.7h0m1-5.8h0m0.2 5.5h0m1 0.4h0m2.4-1h0m0-3.9h0m2.8 0.1h0m-84.6 7.7h0m6.7-1.1h0m0.7 0h0m2.3 0.4h0m2.2 1h0m0.2 2.4h0m2.6-0.7h0m7.1 0.8h0m3.4-5.2h0m1.5 0.3h0m0.8 0.9h0m1.9 3.3h0m0.7-3.8h0m7.2 3.1h0m3.9-2.6h0m1.7 1.9h0m0.5-3.1h0m4.9 1.5h0m0.9-0.7h0m4.9-0.7h0m4.5 1.8h0m4.7 1.6h0m1.2-0.1h0m0.1-3.2h0m1.9 2.6h0m1.9 1.9h0m0.6-3.7h0m6.1 0.6h0m3.6-0.6h0m2.9 0.3h0m2.5 0h0m1.3-0.9h0m0.3 0.6h0m-86.1 6.2h0m2.4 1.7h0m4.8-1.6h0m2.5 3.1h0m1.1-2.6h0m0.9-1.6h0m0.3 4.9h0m0.7-0.8h0m3.8-1.3h0m2.9 1.5h0m2.6-2.6h0m4.8 0.5h0m1.3 1.2h0m2.1-0.8h0m1.4-1.5h0m0.6 2.7h0m0-3h0m0.9 4.3h0m7.1-2h0m2.5-2.1h0m3.8 1.6h0m0.9-1.8h0m0.4 4.6h0m0.5-2.5h0m0.5-3.2h0m11 2.6h0m0-0.5h0m0 1.3h0m0.2-0.1h0m1.2 0h0m3.3 1.5h0m4.8-3h0m2.9 3.7h0m0.2-0.5h0m0.6-3.5h0m2 0.2h0m1.2 3h0m0-1.6h0m0.4-1.9h0m6.1 1.4h0m5.6 0.3h0m-84.5 4.4h0m4 2h0m0.5-2.2h0m5.1 3.5h0m1.5-3h0m0.7-1.1h0m25-0.7h0m0.9 0.5h0m22 5.4h0m1.9-3.2h0m6.5 0.1h0m4.4 1.5h0m0.6 0.8h0m3.4-2.6h0m4 2.6h0m1.1-2h0m0-0.5h0m0.7-0.8h0m0.7 2.7h0m1.5-1.7h0m2-1.1h0m2.2-0.3h0m0.1 2.3h0m0.7-0.4h0m3.9 1.9h0m-9.3 1h0m0.8 0.5h0m0.7 2.1h0m-90.4 4.4h0m15.9 3.8h0m13.1 0.3h0m8.2-1.6h0m0.9-0.9h0m1.1 1.9h0m0.2-0.5h0m3.7-1.4h0m1.6 0.8h0m3.1-0.7h0m0.8 0.5h0m0.3 0.6h0m15.3 1.1h0m9.7-0.3h0m22.6 0.3h0m0.3 0.2h0m0.7-5.1h0m1.4 2.9h0m0-1.1h0m0.2 3h0m0.1-2.3h0m-96.5 6.4h0m2.3-0.8h0m3.5-0.6h0m2.1 0h0m3.7-0.7h0m2.7 0.8h0m0 0.1h0m17.2-1.3h0m7.7 3.9h0m4.4-1.9h0m0.2 2.1h0m0.1-3.8h0m0 2.5h0m1.3-2.5h0m1.2-0.9h0m0 5.3h0m2.3 0.2h0m1.9-5.6h0m0.9 5.3h0m0.3-3.6h0m0.6 0.4h0m0.6 0.8h0m10.5-0.4h0m2.8 2.4h0m3.3-2.8h0m1.6 1.8h0m6.2-1.5h0m1.7 2h0m17.2-2.7h0m1.2-1.7h0m2.9 4.7h0m0.9-1.3h0m-94.8 6.7h0m0.3-3.2h0m15.9 1.1h0m17.8 1.1h0m3.9-0.6h0m0.5-2.3h0m3.4 1.1h0m1.3 4.7h0m1.6-4.2h0m0.7-1.4h0m0 0.8h0m1.6 0.7h0m6.7-1h0m1.3 4.2h0m0.8-3.2h0m1.6 0.8h0m2.3 3.2h0m1.7-2.6h0m3.9-1.3h0m4.7-0.1h0m2.6 0.4h0m1.8 3.7h0m6.5-0.7h0m1.7-1.8h0m12.8-2.5h0m0.9 3.7h0m-105.4 7.2h0m40.4-0.8h0m0.8-0.3h0m1.1-1.3h0m0-0.9h0m1.5-2.2h0m0.7 1.9h0m3.6 0.7h0m1.3-1.9h0m0.3 0.4h0m1.2 0h0m0.5 3.7h0m0.7-1.4h0m8.4 1h0m1.1-4.5h0m0.1 2.4h0m0.3-1.1h0m0.4 0.5h0m1.7-1.9h0m0.4 4.8h0m7.1-2.9h0m0.9 0.1h0m1.2-0.9h0m5 1.7h0m0.1 0.2h0m3.1-0.9h0m3.7 0.4h0m1.2 1.7h0m9.4 1h0m0.8-1.3h0m3.9 1h0m2.7-4.9h0m0.7 0.1h0m1.3 1.2h0m-103.2 7.5h0m26.7 0.8h0m13.5-1.4h0m0-0.2h0m1 2.9h0m0.9-2.4h0m1.3 2.3h0m0.2-4.3h0m1.3 1.8h0m0.3 2.2h0m0.4-2.3h0m0 0.6h0m0.4-0.8h0m0.6 3.8h0m0.3-3.7h0m2.6 2.5h0m0.1 1h0m7.2-1.7h0m0.7-0.6h0m0.9 0.6h0m0.7-2.1h0m0.7 2.7h0m1.2 0.4h0m0.8-3.8h0m2.5 2.3h0m0.6-1.9h0m6.1-1.3h0m0.9-0.4h0m2.9 1.4h0m3.2 0.9h0m3.8-1.1h0m1.3 1.7h0m1.5-0.2h0m5.2-0.1h0m2.2-1.2h0m0.1-0.7h0m4.5 2.4h0m0.1 1.5h0m0-0.7h0m1.8-3.4h0m1.3 1.8h0m4.4 3h0m0.9-4.9h0m2.7 4.8h0m0.2 0h0m1.7-4.9h0m4.9 0.5h0m-115.9 8.6h0m0.1-3.1h0m5.9 1.2h0m1.4-1.3h0m1.8 3.1h0m14.7-2.7h0m18 5h0m0.2-5.4h0m0.8 1.5h0m0.2 1.8h0m1.8 2.1h0m0.3-5.1h0m0.1 2.9h0m4.7-1.3h0m0.4 0.1h0m0.9-1.4h0m8.1 1.7h0m0.8-1.8h0m1.6 0.7h0m1.7 1.7h0m0.6 0.4h0m2.8 0.3h0m2.1 0.5h0m1-0.1h0m1.9 1h0m2.6-0.9h0m0.8-3.6h0m1.5 2.5h0m1.9 2.6h0m1.7-1.8h0m0.1-0.6h0m1 2.1h0m0.4-5.3h0m2 0.5h0m0.4 2.5h0m1.2-2.3h0m14.9 0.4h0m4 1.7h0m0.8 1.9h0m0.6-2.4h0m6.5 0.5h0m-78.7 7h0m8.2 0.5h0m0.2-4.3h0m1.2 5.2h0m0.8-1.2h0m3.2-3.3h0m0.3 4.6h0m1.6-5.4h0m0.2 1.4h0m0.3-0.1h0m7.5 3.1h0m0.9 0.7h0m0.2 0.6h0m0-1.2h0m1.4-2.1h0m5.6 2h0m0.8-0.3h0m0.4-2.3h0m1 1.6h0m1-2.3h0m0.8 1.9h0m2.6-2.9h0m0.9 2.9h0m1.1-1.7h0m2.1 4.6h0m3.3-3.3h0m2.1-2.2h0m5.1 2.9h0m0.5 2.5h0m1.6-0.3h0m0.1 0.2h0m12.8-3.6h0m12.1 0.8h0m0.2-0.4h0m0.2 1.3h0m0.2-0.3h0m0.5 0.5h0m-114.6 6.5h0m4.9-2.4h0m24.6-1.8h0m12.8 0.5h0m4.5 3.8h0m2.9-0.9h0m0.7-2h0m0.2 3.6h0m5.4-0.9h0m2.4-2.1h0m0.6-1.6h0m0.3 1h0m4-1.4h0m1.8 5.4h0m1.6-5h0m7.7 0.5h0m1.8-0.7h0m0.9 3.5h0m0.3-2.5h0m0 3.6h0m1.6 0.7h0m0.9-2h0m0.2-3.8h0m0.4 3.4h0m3.2 1h0m0.7-0.3h0m0.5 1.1h0m0.8-1.7h0m2.3 0.1h0m0 1.4h0m0.4-1.7h0m1.3-1.8h0m24.8 1.7h0m0.2-2.8h0m-69.6 10.7h0m1.8-2h0m2.1 1.1h0m1.8 1.5h0m0.1-1.5h0m0.2-3.6h0m1.7 1h0m0.8 4h0m0.9-1.3h0m0.9-1.8h0m2.6 3.3h0m0-1.5h0m1.6-0.6h0m8.6 1h0m1.6-3.9h0m1.5 2h0m9.2 0h0m1.2 0.2h0m3.2 1.8h0m2.6-3.7h0m27.4 0.3h0m0.2 0.4h0m2 2.8h0m1.1-4.4h0m-75.4 9.7h0m3.1-2.3h0m4.6 0.4h0m2.4 1h0m2.8 2.2h0m3.2-5.2h0m3.7 4.8h0m0.3 0.2h0m1.3-4.8h0m1.2 4.4h0m0.2-1.8h0m1.1-2.6h0m0.2 1.5h0m0.4 2.6h0m0.1-0.8h0m0.6 1.7h0m0.4-2.6h0m0.3 0.6h0m0.6-2.6h0m2.2 3.7h0m1 0h0m5.5 0.8h0m1.1-0.1h0m0.6 0h0m1.4-4.2h0m0.8 2.3h0m1.8-2.5h0m0.2 3.3h0m0.2-2.3h0m0.3 3h0m34.3 0.5h0m1.5 0.6h0m-116.9 1.3h0m36.5 4.5h0m2.5-4.2h0m3 3.7h0m3.5-2.3h0m0.3-2.1h0m3.9 3.9h0m1.2-1.1h0m1.3 2h0m9.5-1.8h0m1 1.6h0m1.5-4.6h0m0.4 1.4h0m2.6-0.5h0m2.3 0.8h0m4.7-1.6h0m0.1 3.3h0m0-0.6h0m0.2 0.7h0m3.2-0.7h0m1.6-2.9h0m0.4 2.2h0m0.1-0.9h0m27.6-0.1h0m5.5-1.1h0m1.8 0.5h0m0.4 3.9h0m1-3.1h0m-116.4 6.6h0m0.4-0.5h0m3.8 1.2h0m2.2-1.6h0m3 3.5h0m6.6-0.8h0m19.7-1.2h0m4.2 0.8h0m0.2 1.6h0m7.6-1.8h0m5.8-1.3h0m1.4-2h0m1.3 2.1h0m1 3.4h0m1.2-2.9h0m0.4-0.1h0m3-1.7h0m32.7 0.4h0m-93.1 7h0m33.5-2.1h0m2-0.3h0m1.2 3.5h0m1.2-1.5h0m3.2 1.9h0m0.9 0.9h0m0.2-5.1h0m1 4.2h0m5.4 0.2h0m0.7-2.5h0m0 0.3h0m1 2.5h0m3.1-2.4h0m0.8 0.3h0m0.6-1.6h0m0.8 0.4h0m32 4.1h0m18.9 0.3h0m6.3-0.6h0m0.4-1.8h0m0.5 1.5h0m-111.3 5.4h0m31.8-1.6h0m3.5 3h0m4-0.7h0m1.8-2.2h0m1.9 1.2h0m1.2-3.3h0m0.2 2.8h0m2.6-0.6h0m0.3 1.5h0m1.3-3.3h0m0.2 1.9h0m0.1 0.8h0m44.6-3.4h0m1.3 2.3h0m1.5 0.6h0m13.4-1.2h0m0.4 2.1h0m0.8-3.7h0m-116.7 10.3h0m3.8-2.4h0m7.7-0.4h0m1.3 3.3h0m16.3-1.5h0m4.3 0.8h0m2.8-0.2h0m1-0.3h0m0.7-3.8h0m1 2.3h0m2 0.5h0m3.7-2.6h0m0.8 2.8h0m2.4 2.3h0m0.2 0.3h0m1-2h0m1.1-3.1h0m2.1 0.3h0m0.6 0.5h0m3.9 1.8h0m33.4-0.5h0m23.4 1.7h0m0.5-1.9h0m0.7 0.1h0m-116.3 4.7h0m6.5 1.5h0m0.1 0h0m2.8-0.1h0m5.1-1.7h0m0.2 2.3h0m0.5 1.3h0m1.6 0.9h0m0.1-0.1h0m0.6-5.6h0m3.6 5.6h0m0.5-1h0m0.7 0.9h0m10.6-4.6h0m0.4 1.8h0m0.9 0.8h0m0.3-1.2h0m1.6 3h0m1.2-4.1h0m1.2 2.4h0m0.4-2.1h0m0.9 3.5h0m3.8-0.2h0m1.7-4.6h0m1.1 1.3h0m0 0.4h0m67.4 2.4h0m0.3 0.9h0m0.1-0.8h0m0.9-0.6h0m-96.7 2.3h0m2.4 2.5h0m1.2-1.2h0m5.4 0.7h0m1 0.3h0m0 0.1h0m3.8-0.3h0m0.6 0.3h0m1.2-1.2h0m1.3 0.7h0m4.2-0.8h0m42.1 4.7h0m31.2-0.3h0m0.3-2.5h0m0.8 1.4h0m3.3-2.8h0m-45.2 5.5h0m23.6 0.4h0m4.9 3.5h0m3.5-4.4h0m2.3 4.4h0m4.2-1.1h0m0 0.9h0m2.6-3.7h0m0.4 4.8h0m-44.5 2h0m31 1.7h0m1.7-1.1h0m0.7 1h0m0.4-2.6h0m1.5 0.8h0m0.4-0.9h0m-43.5 6.2h0m25.1 3.3h0m4.2 0.7h0m0.1-1.7h0m3.2-1.6h0m-51 6.2h0m2.2 3.2h0m23.8 0.5h0m4.5-0.5h0m4.5-2.2h0m0.1-0.8h0m4.8 3.4h0m4.2-5.5h0m-27.6 11.1h0m1.1-1.2h0m0.7-0.4h0m3.1 0.6h0m-61.4 7.7h0m1.9-0.6h0m2 0h0m0.4 0.2h0m2.8-0.1h0m42.5 0.5h0m1.9-2.4h0m1.9-1.3h0m1.4-2h0m-54.4 8.6h0m1 3.2h0m0.1-2h0m0.3-0.5h0m2.3-2.6h0m5.7 0.6h0m0.5 2.4h0m1.9 0.6h0m4.7-2h0m16.4 3.2h0m3.3-0.7h0m2.7 0h0m3.5-1.3h0m0.6-0.9h0m0.8-0.3h0m1.8-1.8h0m0.3 0.9h0m-49.3 8.6h0m5.6 1.6h0m6.2-4.5h0m3.4 2.1h0m4-0.4h0m0.9-2.6h0m0.5 3.6h0m0-4h0m1.5 0.4h0m1.5 4.9h0m0.4-3h0m12.5 3.6h0m1.2-0.6h0m1.4-4.6h0m0.7 1.1h0m1.2 1.1h0m-34.4 8.4h0m5.5-2.5h0m2.9 1.9h0m3.7 1.2h0m2.4-1.1h0m0.3-1.6h0m25.3-0.8h0m-44.5 4.5h0m3.2 2h0m3.2 1.3h0m1.6-1.6h0m0.2 2.5h0m2.3 0.5h0m1.4-2.1h0m0.2-2.7h0m0.9 0.5h0m5.4-0.2h0m4.4 2.5h0m2.3 0.2h0m4.4-3.2h0m-31.6 8.6h0m0.7 1.3h0m6.5 1.3h0m1.4-1.2h0m2.3 0.2h0m0-0.9h0m3.4-3.1h0m1.5-0.6h0m4 4.4h0m2.6-1.8h0m3-2.3h0m-19.9 5.7h0m0.4 1.8h0m0.3 3.9h0m1.3-2.3h0m0.6 2.3h0m0.5-2.9h0m0.7-2.1h0m0.7 0.2h0m6.2 3.1h0m0.7-3.2h0m0.1 0h0m2.1 1.2h0m-19.5 6.4h0m1-0.2h0m2.1-1.6h0m6.2 2.8h0m1.7-0.8h0m-5.8 6.1h0m0.5 0.7h0m0.2 0.5h0m-4 2.1h0" stroke="#000" stroke-width="2.4" stroke-linecap="round" fill="none"/>
<g stroke="#c0c0c0" stroke-width="0.8" stroke-dasharray="3,5" fill="none">
<line x1="0" y1="72.3" x2="348" y2="72.3"/>
<line x1="0" y1="143.8" x2="348" y2="143.8"/>
<line x1="0" y1="216" x2="348" y2="216"/>
<line x1="0" y1="287" x2="348" y2="287"/>
<line x1="0" y1="357.2" x2="348" y2="357.2"/>
<line x1="58" y1="0" x2="58" y2="427.6"/>
<line x1="116" y1="0" x2="116" y2="427.6"/>
<line x1="174" y1="0" x2="174" y2="427.6"/>
<line x1="232" y1="0" x2="232" y2="427.6"/>
<line x1="290" y1="0" x2="290" y2="427.6"/>
</g>
<g stroke="#555" stroke-width="0.8">
<line x1="0" y1="72.3" x2="4" y2="72.3"/><line x1="344" y1="72.3" x2="348" y2="72.3"/>
<line x1="0" y1="143.8" x2="4" y2="143.8"/><line x1="344" y1="143.8" x2="348" y2="143.8"/>
<line x1="0" y1="216" x2="4" y2="216"/><line x1="344" y1="216" x2="348" y2="216"/>
<line x1="0" y1="287" x2="4" y2="287"/><line x1="344" y1="287" x2="348" y2="287"/>
<line x1="0" y1="357.2" x2="4" y2="357.2"/><line x1="344" y1="357.2" x2="348" y2="357.2"/>
<line x1="58" y1="0" x2="58" y2="4"/><line x1="58" y1="423.6" x2="58" y2="427.6"/>
<line x1="116" y1="0" x2="116" y2="4"/><line x1="116" y1="423.6" x2="116" y2="427.6"/>
<line x1="174" y1="0" x2="174" y2="4"/><line x1="174" y1="423.6" x2="174" y2="427.6"/>
<line x1="232" y1="0" x2="232" y2="4"/><line x1="232" y1="423.6" x2="232" y2="427.6"/>
<line x1="290" y1="0" x2="290" y2="4"/><line x1="290" y1="423.6" x2="290" y2="427.6"/>
</g>
<polyline points="216,-1 211.6,33.3 205.4,58.2 200.9,74.2 197.4,99.1 195.6,113.3 192.9,123.9 192,141.7 189.4,159.4 193,177.2 195.6,195 194,205 189.7,223.2 179.1,238 164.3,254.9 147.4,273.9 130.4,293 117.7,305.7 100.8,331 88.1,343.7 79.7,356.4 67,369.1 54.3,386 41.6,403 22.6,424.1 19.4,429" fill="none" stroke="#000" stroke-width="0.9"/><text x="0" y="0" font-size="12" transform="translate(201.5,95) rotate(-80)" fill="#000">100</text><text x="0" y="0" font-size="12" transform="translate(126,301) rotate(-52)" fill="#000">100</text><path d="M76.5 270.3h0M76.6 271.5h0M76.6 272.7h0M76.5 273.9h0M76.3 275.1h0M76 276.2h0M75.6 277.4h0M75.1 278.5h0M74.5 279.5h0M73.8 280.5h0M73.1 281.4h0M72.2 282.3h0M71.3 283.1h0M70.3 283.8h0M69.3 284.4h0M68.2 284.9h0M67.1 285.3h0M65.9 285.6h0M64.7 285.9h0M63.5 286h0M62.3 286h0M61.1 285.9h0M59.9 285.7h0M58.8 285.4h0M57.6 285h0M56.5 284.5h0M55.5 283.9h0M54.5 283.2h0M83.9 269.2h0M84.1 271.1h0M84.1 272.9h0M83.9 274.8h0M83.6 276.6h0M83.2 278.4h0M82.5 280.2h0M81.8 281.9h0M80.9 283.5h0M79.8 285h0M78.6 286.5h0M77.3 287.8h0M75.9 289h0M74.4 290.1h0M72.8 291h0M71.1 291.8h0M69.4 292.5h0M67.6 293h0M65.8 293.3h0M63.9 293.5h0M62.1 293.5h0M60.2 293.3h0M58.4 293h0M56.6 292.6h0M54.8 291.9h0M53.1 291.2h0M51.5 290.3h0M50 289.2h0M91.3 268.2h0M91.6 270.7h0M91.6 273.2h0M91.4 275.7h0M91 278.2h0M90.3 280.6h0M89.5 283h0M88.5 285.3h0M87.2 287.5h0M85.8 289.5h0M84.2 291.5h0M82.4 293.3h0M80.5 294.9h0M78.5 296.4h0M76.3 297.6h0M74.1 298.7h0M71.7 299.6h0M69.3 300.3h0M66.8 300.7h0M64.3 301h0M61.8 301h0M59.3 300.8h0M56.8 300.4h0M54.4 299.7h0M52 298.9h0M49.7 297.9h0M47.5 296.6h0M45.5 295.2h0M98.7 267.1h0M99.1 270.3h0M99.1 273.5h0M98.8 276.6h0M98.3 279.7h0M97.5 282.8h0M96.5 285.8h0M95.1 288.7h0M93.6 291.4h0M91.8 294h0M89.8 296.5h0M87.6 298.7h0M85.1 300.8h0M82.6 302.6h0M79.8 304.3h0M77 305.6h0M74 306.7h0M71 307.6h0M67.9 308.1h0M64.7 308.5h0M61.5 308.5h0M58.4 308.2h0M55.3 307.7h0M52.2 306.9h0M49.2 305.9h0M46.3 304.5h0M43.6 303h0M41 301.2h0M106.2 266.1h0M106.5 269.9h0M106.6 273.7h0M106.3 277.5h0M105.6 281.3h0M104.7 285h0M103.4 288.6h0M101.8 292.1h0M99.9 295.4h0M97.8 298.6h0M95.3 301.5h0M92.7 304.2h0M89.8 306.7h0M86.7 308.9h0M83.4 310.9h0M79.9 312.5h0M76.3 313.9h0M72.7 314.9h0M68.9 315.6h0M65.1 315.9h0M61.3 316h0M57.5 315.7h0M53.7 315h0M50 314.1h0M46.4 312.8h0M42.9 311.2h0M39.6 309.3h0M36.4 307.2h0M113.6 265.1h0M114 269.5h0M114.1 274h0M113.7 278.5h0M113 282.9h0M111.9 287.2h0M110.4 291.4h0M108.5 295.5h0M106.3 299.4h0M103.8 303.1h0M100.9 306.5h0M97.8 309.7h0M94.4 312.6h0M90.7 315.2h0M86.9 317.5h0M82.8 319.4h0M78.7 321h0M74.3 322.2h0M69.9 323h0M65.5 323.4h0M61 323.5h0M56.5 323.1h0M52.1 322.4h0M47.8 321.3h0M43.6 319.8h0M39.5 317.9h0M35.6 315.7h0M31.9 313.2h0M121 264h0M121.5 269.1h0M121.6 274.3h0M121.2 279.4h0M120.3 284.4h0M119 289.4h0M117.3 294.2h0M115.2 298.9h0M112.7 303.4h0M109.8 307.6h0M106.5 311.5h0M102.9 315.2h0M99 318.5h0M94.8 321.5h0M90.4 324.1h0M85.8 326.3h0M81 328.1h0M76 329.5h0M71 330.4h0M65.9 330.9h0M60.7 331h0M55.6 330.6h0M50.6 329.7h0M45.6 328.4h0M40.8 326.7h0M36.1 324.6h0M31.6 322.1h0M27.4 319.2h0M128.5 263h0M129 268.7h0M129.1 274.5h0M128.6 280.3h0M127.7 286h0M126.2 291.6h0M124.3 297h0M121.9 302.3h0M119 307.3h0M115.7 312.1h0M112.1 316.6h0M108 320.7h0M103.6 324.4h0M98.9 327.8h0M93.9 330.7h0M88.7 333.2h0M83.3 335.3h0M77.7 336.8h0M72 337.9h0M66.3 338.4h0M60.5 338.5h0M54.7 338h0M49 337.1h0M43.4 335.6h0M38 333.7h0M32.7 331.3h0M27.7 328.4h0M22.9 325.1h0M135.9 261.9h0M136.5 268.3h0M136.6 274.8h0M136 281.2h0M135 287.5h0M133.4 293.8h0M131.2 299.8h0M128.6 305.7h0M125.4 311.3h0M121.7 316.6h0M117.6 321.6h0M113.1 326.2h0M108.2 330.4h0M103 334.1h0M97.4 337.4h0M91.6 340.1h0M85.6 342.4h0M79.4 344.1h0M73.1 345.3h0M66.7 345.9h0M60.2 346h0M53.8 345.4h0M47.5 344.4h0M41.2 342.8h0M35.2 340.6h0M29.3 338h0M23.7 334.8h0M18.4 331.1h0M143.3 260.9h0M144 267.9h0M144.1 275h0M143.5 282.1h0M142.3 289.1h0M140.5 296h0M138.2 302.7h0M135.2 309.1h0M131.7 315.3h0M127.7 321.1h0M123.2 326.6h0M118.2 331.7h0M112.9 336.3h0M107.1 340.4h0M101 344h0M94.6 347h0M87.9 349.5h0M81.1 351.4h0M74.1 352.7h0M67.1 353.4h0M60 353.5h0M52.9 352.9h0M45.9 351.7h0M39 349.9h0M32.3 347.6h0M25.9 344.6h0M19.7 341.1h0M13.9 337.1h0M150.7 259.8h0M151.5 267.6h0M151.5 275.3h0M150.9 283h0M149.7 290.7h0M147.7 298.2h0M145.1 305.5h0M141.9 312.5h0M138.1 319.3h0M133.7 325.6h0M128.8 331.6h0M123.4 337.1h0M117.5 342.2h0M111.2 346.7h0M104.5 350.6h0M97.5 353.9h0M90.2 356.7h0M82.8 358.7h0M75.2 360.1h0M67.4 360.9h0M59.7 360.9h0M52 360.3h0M44.3 359.1h0M36.8 357.1h0M29.5 354.5h0M22.5 351.3h0M15.7 347.5h0M9.4 343.1h0M158.2 258.8h0M159 267.2h0M159 275.6h0M158.4 283.9h0M157 292.2h0M154.9 300.4h0M152.1 308.3h0M148.6 315.9h0M144.5 323.2h0M139.7 330.2h0M134.4 336.6h0M128.5 342.6h0M122.1 348.1h0M115.2 353h0M108 357.2h0M100.4 360.8h0M92.6 363.8h0M84.5 366h0M76.2 367.6h0M67.8 368.4h0M59.4 368.4h0M51.1 367.8h0M42.8 366.4h0M34.6 364.3h0M26.7 361.5h0M19.1 358h0M11.8 353.9h0M4.8 349.1h0M165.6 257.8h0M166.5 266.8h0M166.5 275.8h0M165.8 284.9h0M164.3 293.8h0M162.1 302.5h0M159 311.1h0M155.3 319.3h0M150.8 327.2h0M145.7 334.7h0M139.9 341.7h0M133.6 348.1h0M126.7 354h0M119.3 359.3h0M111.5 363.8h0M103.4 367.7h0M94.9 370.9h0M86.1 373.3h0M77.2 375h0M68.2 375.9h0M59.2 375.9h0M50.1 375.2h0M41.2 373.7h0M32.5 371.5h0M23.9 368.4h0M15.7 364.7h0M7.8 360.2h0M0.3 355.1h0M173 256.7h0M173.9 266.4h0M174 276.1h0M173.3 285.8h0M171.7 295.3h0M169.2 304.7h0M166 313.9h0M162 322.7h0M157.2 331.2h0M151.7 339.2h0M145.5 346.7h0M138.7 353.6h0M131.3 359.9h0M123.4 365.5h0M115.1 370.5h0M106.3 374.7h0M97.2 378.1h0M87.8 380.6h0M78.3 382.4h0M68.6 383.3h0M58.9 383.4h0M49.2 382.7h0M39.7 381.1h0M30.3 378.6h0M21.1 375.4h0M12.3 371.4h0M3.8 366.6h0M180.4 255.7h0M181.4 266h0M181.5 276.3h0M180.7 286.7h0M179 296.9h0M176.4 306.9h0M172.9 316.7h0M168.7 326.1h0M163.5 335.2h0M157.7 343.7h0M151.1 351.7h0M143.8 359.1h0M135.9 365.8h0M127.5 371.8h0M118.6 377.1h0M109.2 381.6h0M99.5 385.2h0M89.5 388h0M79.3 389.8h0M69 390.8h0M58.7 390.9h0M48.3 390.1h0M38.1 388.4h0M28.1 385.8h0M18.3 382.3h0M8.9 378.1h0M-0.2 372.9h0M187.9 254.6h0M188.9 265.6h0M189 276.6h0M188.2 287.6h0M186.3 298.5h0M183.6 309.1h0M179.9 319.5h0M175.3 329.5h0M169.9 339.1h0M163.7 348.2h0M156.7 356.7h0M148.9 364.6h0M140.6 371.7h0M131.6 378.1h0M122.1 383.7h0M112.1 388.5h0M80.4 397.3h0M69.4 398.3h0M58.4 398.4h0M47.4 397.6h0M36.5 395.7h0M25.9 393h0M15.5 389.3h0M5.5 384.7h0M195.3 253.6h0M196.4 265.2h0M196.5 276.9h0M195.6 288.5h0M193.7 300h0M190.8 311.3h0M186.9 322.3h0M182 332.9h0M176.3 343.1h0M169.7 352.7h0M145.2 377.6h0M135.7 384.4h0M125.6 390.3h0M115.1 395.4h0M104.1 399.5h0M92.9 402.6h0M81.4 404.7h0M69.8 405.8h0M58.1 405.9h0M46.5 405h0M23.7 400.2h0M12.7 396.3h0M2.1 391.4h0M202.7 252.5h0M203.9 264.8h0M203 289.4h0M201 301.6h0M197.9 313.5h0M193.8 325.1h0M188.7 336.3h0M182.6 347.1h0M175.6 357.2h0M159.2 375.5h0M149.8 383.5h0M139.8 390.7h0M129.1 397h0M118 402.3h0M106.5 406.6h0M94.6 409.9h0M82.5 412.1h0M70.2 413.3h0M57.9 413.4h0M45.6 412.4h0M33.4 410.4h0M21.5 407.3h0M9.9 403.2h0M-1.3 398.1h0M210.2 251.5h0M211.4 264.4h0M210.5 290.3h0M208.3 303.1h0M205.1 315.7h0M200.8 327.9h0M195.4 339.8h0M189 351.1h0M181.6 361.8h0M173.4 371.8h0M154.4 389.5h0M143.8 397h0M132.7 403.6h0M120.9 409.2h0M108.8 413.7h0M96.3 417.2h0M83.5 419.6h0M70.6 420.8h0M57.6 420.9h0M44.7 419.9h0M31.9 417.7h0M19.3 414.5h0M217.6 250.4h0M218.9 264h0M219 277.7h0M217.9 291.2h0M215.7 304.7h0M212.3 317.9h0M207.7 330.8h0M202.1 343.2h0M195.3 355h0M187.6 366.3h0M169.4 386.5h0M147.9 403.3h0M136.2 410.2h0M123.9 416.1h0M111.1 420.9h0M98 424.5h0M71 428.3h0M57.3 428.4h0M43.8 427.3h0M30.3 425.1h0M17.1 421.7h0M4.2 417.1h0M225 249.4h0M226.4 263.6h0M226.5 277.9h0M225.4 292.2h0M223 306.3h0M219.4 320.1h0M214.7 333.6h0M208.7 346.6h0M201.7 359h0M193.6 370.8h0M184.5 381.8h0M174.5 392h0M163.6 401.3h0M152 409.6h0M139.7 416.8h0M126.8 423h0M113.4 428h0M14.9 428.8h0M1.4 424.1h0M232.4 248.4h0M234 278.2h0M232.8 293.1h0M230.4 307.8h0M226.6 322.3h0M221.6 336.4h0M215.4 350h0M208.1 363h0M199.6 375.3h0M179.6 397.5h0M168.3 407.2h0M156.1 415.9h0M143.2 423.4h0M239.9 247.3h0M241.5 278.4h0M240.3 294h0M237.7 309.4h0M233.8 324.5h0M228.6 339.2h0M222.1 353.4h0M214.4 366.9h0M205.6 379.8h0M195.7 391.8h0M184.7 403h0M172.9 413.1h0M160.2 422.2h0M247.3 246.3h0M248.8 262.4h0M249 278.7h0M247.7 294.9h0M245 310.9h0M241 326.7h0M235.5 342h0M228.8 356.8h0M220.8 370.9h0M211.6 384.3h0M189.9 408.5h0M177.5 419h0M164.3 428.4h0M254.7 245.2h0M256.3 262.1h0M256.5 279h0M255.2 295.8h0M252.4 312.5h0M248.1 328.9h0M242.5 344.8h0M235.5 360.2h0M227.2 374.9h0M217.6 388.8h0M206.8 401.9h0M195 413.9h0M182.1 424.9h0M262.1 244.2h0M263.8 261.7h0M264 279.2h0M262.6 296.7h0M259.7 314.1h0M255.3 331.1h0M249.4 347.6h0M242.2 363.6h0M233.5 378.9h0M223.6 393.3h0M212.4 406.9h0M200.1 419.4h0" stroke="#000000" stroke-width="3.3" stroke-linecap="round" fill="none"/>
<path d="M115.4 241.7h0M116.1 241.9h0M116.8 242.2h0M117.5 242.5h0M118.1 242.9h0M118.7 243.3h0M119.3 243.8h0M119.8 244.3h0M120.3 244.9h0M120.7 245.5h0M121.1 246.1h0M121.4 246.8h0M121.6 247.5h0M121.8 248.2h0M121.9 249h0M122 249.7h0M122 250.4h0M121.9 251.2h0M121.8 251.9h0M121.6 252.6h0M121.3 253.3h0M121 254h0M120.6 254.6h0M120.2 255.2h0M119.7 255.8h0M119.2 256.3h0M118.6 256.8h0M118 257.2h0M117.4 257.6h0M116.7 257.9h0M116 258.1h0M115.3 258.3h0M114.5 258.4h0M113.8 258.5h0M113.1 258.5h0M112.3 258.4h0M111.6 258.3h0M113 234.3h0M114.3 234.3h0M117 234.7h0M118.4 235.1h0M119.6 235.5h0M120.9 236.1h0M122.1 236.8h0M123.2 237.6h0M124.2 238.5h0M125.2 239.5h0M126 240.6h0M126.8 241.7h0M127.5 242.9h0M128.1 244.1h0M128.5 245.4h0M128.9 246.7h0M129.1 248.1h0M129.2 249.5h0M129.2 250.8h0M129 252.2h0M128.8 253.5h0M128.4 254.9h0M128 256.1h0M127.4 257.4h0M126.7 258.6h0M125.9 259.7h0M125 260.7h0M124 261.7h0M122.9 262.5h0M121.8 263.3h0M120.6 264h0M119.4 264.6h0M118.1 265h0M116.8 265.4h0M115.4 265.6h0M114 265.7h0M112.7 265.7h0M111.3 265.5h0M110 265.3h0M112.7 227.1h0M114.7 227.1h0M118.7 227.7h0M120.6 228.2h0M122.4 228.9h0M124.3 229.8h0M126 230.8h0M127.6 232h0M129.1 233.3h0M130.5 234.7h0M131.8 236.2h0M132.9 237.9h0M133.9 239.6h0M134.7 241.4h0M135.4 243.3h0M135.9 245.2h0M136.2 247.2h0M136.4 249.2h0M136.4 251.2h0M136.2 253.2h0M135.8 255.2h0M135.3 257.1h0M134.6 258.9h0M133.7 260.8h0M132.7 262.5h0M131.5 264.1h0M130.2 265.6h0M128.8 267h0M127.3 268.3h0M125.6 269.4h0M123.9 270.4h0M122.1 271.2h0M120.2 271.9h0M118.3 272.4h0M116.3 272.7h0M114.3 272.9h0M112.3 272.9h0M110.3 272.7h0M108.3 272.3h0M112.4 219.9h0M115.1 219.9h0M120.3 220.7h0M122.8 221.4h0M125.3 222.3h0M127.6 223.4h0M129.9 224.8h0M132 226.3h0M134 228h0M135.9 229.9h0M137.5 231.9h0M139 234h0M140.3 236.3h0M141.4 238.7h0M142.3 241.2h0M142.9 243.7h0M143.4 246.3h0M143.6 248.9h0M143.6 251.6h0M143.3 254.2h0M142.8 256.8h0M142.1 259.3h0M141.2 261.8h0M140.1 264.1h0M138.7 266.4h0M137.2 268.5h0M135.5 270.5h0M133.6 272.4h0M131.6 274h0M129.5 275.5h0M127.2 276.8h0M124.8 277.9h0M122.3 278.8h0M119.8 279.4h0M117.2 279.9h0M114.6 280.1h0M111.9 280.1h0M109.3 279.8h0M106.7 279.3h0M112.2 212.7h0M115.5 212.8h0M121.9 213.7h0M125 214.5h0M128.1 215.7h0M131 217.1h0M133.8 218.7h0M136.5 220.6h0M138.9 222.7h0M141.2 225h0M143.3 227.6h0M145.1 230.2h0M146.7 233.1h0M148.1 236h0M149.2 239.1h0M150 242.2h0M150.5 245.5h0M150.8 248.7h0M150.7 252h0M150.4 255.2h0M149.8 258.4h0M149 261.5h0M147.8 264.6h0M146.4 267.5h0M144.8 270.3h0M142.9 273h0M140.8 275.4h0M138.5 277.7h0M135.9 279.8h0M133.3 281.6h0M130.4 283.2h0M127.5 284.6h0M124.4 285.7h0M121.3 286.5h0M118 287h0M114.8 287.3h0M111.5 287.2h0M108.3 286.9h0M105.1 286.3h0M111.9 205.5h0M115.8 205.6h0M123.5 206.6h0M127.3 207.7h0M130.9 209h0M134.4 210.7h0M137.7 212.7h0M140.9 214.9h0M143.8 217.5h0M146.6 220.2h0M149 223.2h0M151.2 226.4h0M153.1 229.8h0M154.8 233.3h0M156.1 237h0M157 240.7h0M157.7 244.6h0M158 248.4h0M157.9 252.3h0M157.6 256.2h0M156.9 260h0M155.8 263.8h0M154.5 267.4h0M152.8 270.9h0M150.8 274.2h0M148.6 277.4h0M146 280.3h0M143.3 283.1h0M140.3 285.5h0M137.1 287.7h0M133.7 289.6h0M130.2 291.3h0M126.5 292.6h0M122.8 293.5h0M118.9 294.2h0M115.1 294.5h0M111.2 294.4h0M107.3 294.1h0M103.5 293.4h0M111.7 198.3h0M116.2 198.4h0M120.7 198.8h0M125.1 199.6h0M129.5 200.8h0M133.7 202.4h0M137.8 204.4h0M141.7 206.6h0M145.3 209.3h0M148.8 212.2h0M151.9 215.4h0M154.8 218.9h0M157.3 222.6h0M159.6 226.5h0M161.4 230.6h0M162.9 234.9h0M164.1 239.3h0M164.8 243.7h0M165.2 248.2h0M165.1 252.7h0M164.7 257.2h0M163.9 261.6h0M162.7 266h0M161.1 270.2h0M159.1 274.3h0M156.9 278.2h0M154.2 281.8h0M151.3 285.3h0M148.1 288.4h0M144.6 291.3h0M140.9 293.8h0M137 296.1h0M132.9 297.9h0M128.6 299.4h0M124.2 300.6h0M119.8 301.3h0M115.3 301.7h0M110.8 301.6h0M106.3 301.2h0M101.9 300.4h0M111.4 191.1h0M116.6 191.2h0M121.7 191.7h0M126.7 192.6h0M131.7 194h0M136.5 195.8h0M141.2 198h0M145.6 200.6h0M149.8 203.6h0M153.7 206.9h0M157.3 210.6h0M160.5 214.6h0M163.5 218.8h0M166 223.3h0M168.1 227.9h0M169.8 232.8h0M171.1 237.8h0M172 242.8h0M172.4 247.9h0M172.3 253.1h0M171.8 258.2h0M170.9 263.2h0M169.5 268.2h0M167.7 273h0M165.5 277.7h0M162.9 282.1h0M159.9 286.3h0M156.6 290.2h0M152.9 293.8h0M148.9 297h0M144.7 300h0M140.2 302.5h0M135.6 304.6h0M130.7 306.3h0M125.7 307.6h0M120.7 308.5h0M115.6 308.9h0M110.4 308.8h0M105.3 308.3h0M100.3 307.4h0M111.2 183.9h0M117 184h0M122.7 184.5h0M128.4 185.6h0M133.9 187.1h0M139.3 189.2h0M144.5 191.6h0M149.5 194.6h0M154.2 197.9h0M158.6 201.7h0M162.6 205.8h0M166.3 210.2h0M169.6 215h0M172.4 220h0M174.8 225.2h0M176.7 230.7h0M178.2 236.3h0M179.1 241.9h0M179.6 247.7h0M179.5 253.5h0M179 259.2h0M177.9 264.9h0M176.4 270.4h0M174.3 275.8h0M171.9 281h0M168.9 286h0M165.6 290.7h0M161.8 295.1h0M157.7 299.1h0M153.3 302.8h0M148.5 306.1h0M143.5 308.9h0M138.3 311.3h0M132.8 313.2h0M127.2 314.7h0M121.6 315.6h0M115.8 316.1h0M110 316h0M104.3 315.5h0M98.6 314.4h0M110.9 176.7h0M117.3 176.8h0M123.7 177.4h0M130 178.6h0M136.2 180.3h0M142.1 182.5h0M147.9 185.3h0M153.4 188.5h0M158.6 192.2h0M163.5 196.4h0M168 201h0M172 205.9h0M175.7 211.2h0M178.8 216.7h0M181.5 222.5h0M183.6 228.6h0M185.2 234.8h0M186.3 241.1h0M186.8 247.4h0M186.7 253.8h0M186.1 260.2h0M184.9 266.5h0M183.2 272.7h0M181 278.6h0M178.2 284.4h0M175 289.9h0M171.3 295.1h0M167.1 300h0M162.5 304.5h0M157.6 308.5h0M152.3 312.2h0M146.8 315.3h0M141 318h0M134.9 320.1h0M128.7 321.7h0M122.4 322.8h0M116.1 323.3h0M109.7 323.2h0M103.3 322.6h0M97 321.4h0M117.7 169.6h0M124.7 170.3h0M131.6 171.6h0M138.4 173.4h0M145 175.9h0M151.3 178.9h0M157.3 182.5h0M163.1 186.6h0M168.4 191.1h0M173.3 196.1h0M177.8 201.6h0M181.8 207.3h0M185.2 213.5h0M188.1 219.8h0M190.5 226.5h0M192.2 233.3h0M193.4 240.2h0M194 247.2h0M193.9 254.2h0M193.2 261.2h0M191.9 268.1h0M190.1 274.9h0M187.6 281.5h0M184.6 287.8h0M181 293.8h0M176.9 299.6h0M172.4 304.9h0M167.4 309.8h0M161.9 314.3h0M156.2 318.3h0M150 321.7h0M143.7 324.6h0M137 327h0M130.2 328.7h0M123.3 329.9h0M116.3 330.5h0M109.3 330.4h0M102.3 329.7h0M95.4 328.4h0M110.4 162.4h0M118.1 162.4h0M125.7 163.2h0M133.2 164.5h0M140.6 166.6h0M147.8 169.3h0M154.7 172.6h0M161.3 176.4h0M167.5 180.9h0M173.3 185.9h0M178.7 191.3h0M183.5 197.2h0M187.9 203.5h0M191.6 210.2h0M194.8 217.1h0M197.4 224.4h0M199.3 231.8h0M200.5 239.3h0M201.1 246.9h0M201.1 254.6h0M200.3 262.2h0M199 269.7h0M196.9 277.1h0M194.2 284.3h0M190.9 291.2h0M187.1 297.8h0M182.6 304h0M177.6 309.8h0M172.2 315.2h0M166.3 320h0M160 324.4h0M153.3 328.1h0M146.4 331.3h0M139.1 333.9h0M131.7 335.8h0M124.2 337h0M116.6 337.6h0M108.9 337.6h0M101.3 336.8h0M93.8 335.5h0M110.2 155.2h0M118.5 155.2h0M126.7 156h0M134.8 157.5h0M142.8 159.7h0M150.6 162.6h0M158.1 166.2h0M165.2 170.4h0M171.9 175.2h0M178.2 180.6h0M184 186.5h0M189.3 192.9h0M194 199.7h0M198.1 206.9h0M201.5 214.4h0M204.3 222.3h0M206.3 230.3h0M207.7 238.4h0M208.3 246.7h0M208.3 255h0M207.5 263.2h0M206 271.3h0M203.8 279.3h0M200.9 287.1h0M197.3 294.6h0M193.1 301.7h0M188.3 308.4h0M182.9 314.7h0M177 320.5h0M170.6 325.8h0M163.8 330.5h0M156.6 334.6h0M149.1 338h0M141.2 340.8h0M133.2 342.8h0M125.1 344.2h0M116.8 344.8h0M108.5 344.8h0M100.3 344h0M92.2 342.5h0M109.9 148h0M118.8 148h0M127.7 148.9h0M136.5 150.5h0M145.1 152.9h0M153.4 156h0M161.4 159.9h0M169.1 164.4h0M176.4 169.5h0M183.1 175.3h0M189.4 181.7h0M195 188.6h0M200.1 195.9h0M204.5 203.6h0M208.2 211.8h0M211.1 220.1h0M213.4 228.8h0M214.8 237.6h0M215.5 246.4h0M215.5 255.3h0M214.6 264.2h0M213 273h0M210.6 281.6h0M207.5 289.9h0M203.6 297.9h0M199.1 305.6h0M194 312.9h0M188.2 319.6h0M181.8 325.9h0M174.9 331.5h0M167.6 336.6h0M159.9 341h0M151.7 344.7h0M143.4 347.6h0M134.7 349.9h0M125.9 351.3h0M117.1 352h0M108.2 352h0M99.3 351.1h0M90.5 349.5h0M109.7 140.8h0M119.2 140.8h0M128.7 141.8h0M138.1 143.5h0M147.3 146h0M156.2 149.4h0M164.8 153.5h0M173 158.3h0M180.8 163.9h0M188 170.1h0M194.7 176.9h0M200.8 184.2h0M206.2 192.1h0M210.9 200.4h0M214.8 209.1h0M218 218h0M220.4 227.3h0M222 236.7h0M222.7 246.2h0M222.7 255.7h0M221.7 265.2h0M220 274.6h0M217.5 283.8h0M214.1 292.7h0M210 301.3h0M205.2 309.5h0M199.6 317.3h0M193.4 324.5h0M186.6 331.2h0M179.3 337.3h0M171.4 342.7h0M163.1 347.4h0M154.4 351.3h0M145.5 354.5h0M136.2 356.9h0M126.8 358.5h0M117.3 359.2h0M107.8 359.2h0M98.3 358.2h0M88.9 356.5h0M109.4 133.6h0M119.6 133.7h0M129.7 134.6h0M139.7 136.5h0M149.5 139.2h0M159 142.8h0M168.2 147.1h0M177 152.3h0M185.2 158.2h0M193 164.8h0M200.1 172h0M206.5 179.9h0M212.3 188.3h0M217.3 197.1h0M221.5 206.4h0M224.9 215.9h0M227.5 225.8h0M229.1 235.8h0M229.9 245.9h0M229.8 256.1h0M228.9 266.2h0M227 276.2h0M224.3 286h0M220.7 295.5h0M216.4 304.7h0M211.2 313.5h0M205.3 321.7h0M198.7 329.5h0M191.5 336.6h0M183.6 343h0M175.2 348.8h0M166.4 353.8h0M157.1 358h0M147.6 361.4h0M137.7 364h0M127.7 365.6h0M117.6 366.4h0M107.4 366.3h0M97.3 365.4h0M87.3 363.5h0M109.2 126.4h0M120 126.5h0M130.7 127.5h0M141.3 129.5h0M151.7 132.4h0M161.8 136.1h0M171.6 140.8h0M180.9 146.3h0M189.7 152.5h0M197.9 159.5h0M205.4 167.2h0M212.3 175.6h0M218.4 184.4h0M223.7 193.8h0M231.8 213.8h0M234.5 224.3h0M236.3 234.9h0M237.1 245.7h0M237 256.5h0M236 267.2h0M234 277.8h0M231.1 288.2h0M227.4 298.3h0M222.7 308.1h0M211 326.2h0M204 334.4h0M196.3 341.9h0M187.9 348.8h0M179.1 354.9h0M169.7 360.2h0M159.8 364.7h0M149.7 368.3h0M139.2 371h0M128.6 372.8h0M117.8 373.6h0M107 373.5h0M96.3 372.5h0M85.7 370.5h0M108.9 119.2h0M120.4 119.3h0M131.7 120.4h0M142.9 122.5h0M154 125.5h0M164.6 129.5h0M175 134.4h0M184.8 140.2h0M202.8 154.3h0M210.8 162.4h0M218 171.2h0M224.5 180.6h0M230.1 190.6h0M234.9 201h0M238.7 211.7h0M241.5 222.8h0M243.4 234h0M244.3 245.4h0M244.2 256.9h0M243.1 268.2h0M241 279.4h0M238 290.5h0M234 301.1h0M229.1 311.5h0M223.3 321.3h0M216.7 330.6h0M201.1 347.3h0M192.3 354.5h0M182.9 361h0M172.9 366.6h0M162.5 371.4h0M151.8 375.2h0M140.7 378h0M129.5 379.9h0M118.1 380.8h0M95.3 379.6h0M84.1 377.5h0M108.7 112h0M120.7 112.1h0M132.7 113.2h0M144.6 115.4h0M156.2 118.7h0M167.5 122.9h0M178.3 128.1h0M207.7 149h0M216.1 157.6h0M223.8 166.9h0M230.6 176.8h0M236.5 187.3h0M241.5 198.3h0M245.6 209.6h0M248.6 221.3h0M250.6 233.2h0M251.5 245.2h0M251.4 257.2h0M250.3 269.2h0M248.1 281.1h0M244.8 292.7h0M240.6 304h0M235.4 314.8h0M229.3 325.2h0M222.3 335h0M214.5 344.2h0M205.9 352.6h0M196.6 360.3h0M186.7 367.1h0M176.2 373h0M165.2 378h0M142.2 385.1h0M118.3 388h0M106.3 387.9h0M94.3 386.8h0M82.4 384.6h0M108.4 104.8h0M121.1 104.9h0M133.7 106.1h0M146.2 108.4h0M158.4 111.8h0M170.3 116.3h0M181.7 121.7h0M192.6 128.1h0M203 135.5h0M212.6 143.7h0M221.5 152.8h0M236.7 173h0M243 184h0M248.2 195.6h0M252.5 207.5h0M255.6 219.8h0M257.7 232.3h0M258.7 244.9h0M257.4 270.2h0M255.1 282.7h0M251.7 294.9h0M247.2 306.8h0M241.8 318.2h0M235.4 329.1h0M228 339.5h0M219.8 349.1h0M210.7 358h0M190.5 373.2h0M179.5 379.5h0M167.9 384.7h0M156 389h0M143.7 392.1h0M131.2 394.2h0M118.6 395.2h0M105.9 395.1h0M93.3 393.9h0M80.8 391.6h0M108.2 97.6h0M121.5 97.7h0M134.7 99h0M147.8 101.4h0M160.6 105h0M173.1 109.6h0M185.1 115.4h0M196.6 122.1h0M207.4 129.8h0M217.5 138.5h0M226.8 148h0M235.3 158.2h0M242.8 169.2h0M249.4 180.8h0M254.9 192.9h0M259.3 205.4h0M262.7 218.3h0M264.9 231.4h0M265.9 244.7h0M265.8 258h0M264.5 271.2h0M262.1 284.3h0M258.5 297.1h0M253.9 309.6h0M248.1 321.6h0M241.4 333.1h0M233.7 343.9h0M225 354h0M215.5 363.3h0M205.3 371.8h0M194.3 379.3h0M182.7 385.9h0M170.6 391.4h0M158.1 395.8h0M145.2 399.2h0M132.1 401.4h0M118.8 402.4h0M105.5 402.3h0M79.2 398.6h0M107.9 90.4h0M121.9 90.5h0M135.7 91.9h0M149.4 94.4h0M162.9 98.1h0M175.9 103h0M188.5 109h0M200.5 116.1h0M211.8 124.2h0M222.4 133.2h0M232.2 143.1h0M241 153.9h0M248.9 165.4h0M255.8 177.5h0M261.6 190.2h0M269.7 216.8h0M272 230.5h0M273.1 244.4h0M273 258.4h0M271.6 272.2h0M269.1 285.9h0M265.4 299.4h0M260.5 312.4h0M254.5 325h0M247.4 337h0M239.3 348.3h0M230.3 358.9h0M220.4 368.7h0M209.6 377.5h0M198.1 385.4h0M186 392.3h0M160.2 402.7h0M146.7 406.2h0M133 408.5h0M105.1 409.5h0M91.3 408.1h0M77.6 405.6h0M107.7 83.2h0M122.2 83.3h0M136.7 84.7h0M151 87.4h0M165.1 91.3h0M178.7 96.4h0M191.9 102.6h0M204.4 110h0M216.3 118.5h0M227.3 127.9h0M237.5 138.3h0M246.8 149.6h0M255 161.6h0M262.2 174.2h0M268.2 187.5h0M273.1 201.2h0M276.8 215.3h0M279.2 229.7h0M280.3 244.2h0M280.2 258.7h0M278.8 273.2h0M276.1 287.5h0M272.2 301.6h0M260.9 328.4h0M253.5 340.9h0M245 352.8h0M235.6 363.8h0M225.2 374h0M213.9 383.3h0M201.9 391.5h0M189.3 398.7h0M176 404.7h0M162.3 409.6h0M148.2 413.3h0M133.8 415.7h0M119.3 416.8h0M104.8 416.7h0M90.3 415.3h0M76 412.6h0M107.4 76h0M122.6 76.1h0M137.7 77.6h0M152.7 80.4h0M167.3 84.4h0M181.5 89.7h0M208.3 104h0M220.7 112.8h0M232.2 122.7h0M242.9 133.5h0M252.5 145.2h0M261.1 157.7h0M274.9 184.8h0M280 199.1h0M283.8 213.8h0M287.5 243.9h0M287.4 259.1h0M285.9 274.2h0M283.1 289.2h0M279.1 303.8h0M273.8 318h0M267.2 331.7h0M259.5 344.8h0M250.7 357.2h0M240.8 368.7h0M230 379.4h0M218.3 389h0M205.8 397.6h0M178.7 411.4h0M149.7 420.3h0M134.7 422.8h0M119.6 424h0M104.4 423.9h0M89.3 422.4h0M74.3 419.6h0M123 68.9h0M138.7 70.5h0M154.3 73.3h0M169.5 77.6h0M184.3 83.1h0M198.6 89.9h0M225.1 107.1h0M237.1 117.4h0M248.2 128.7h0M258.3 140.9h0M267.3 153.9h0M275 167.7h0M281.6 182.1h0M286.9 197h0M290.8 212.3h0M293.4 227.9h0M294.7 243.7h0M294.6 259.5h0M293 275.2h0M290.2 290.8h0M285.9 306h0M280.4 320.8h0M273.6 335.1h0M265.6 348.7h0M256.4 361.6h0M222.6 394.8h0M209.6 403.8h0M195.8 411.5h0M181.4 418.1h0M151.2 427.3h0M88.3 429.5h0M106.9 61.6h0M123.4 61.8h0M155.9 66.3h0M171.7 70.7h0M187.2 76.5h0M202 83.6h0M216.2 91.9h0M229.6 101.5h0M242.1 112.1h0M253.6 123.9h0M264 136.6h0M273.4 150.1h0M281.5 164.4h0M288.3 179.4h0M293.8 194.9h0M297.9 210.8h0M300.6 227h0M301.9 243.4h0M301.7 259.9h0M292.8 308.2h0M287 323.7h0M279.9 338.5h0M271.6 352.7h0M262 366.1h0M251.4 378.6h0M239.6 390.1h0M226.9 400.5h0M213.4 409.9h0M199.1 418h0M184.1 424.8h0M106.7 54.4h0M123.7 54.6h0M140.7 56.2h0M157.5 59.3h0M190 69.9h0M205.4 77.2h0M220.1 85.9h0M234 95.8h0M247 106.9h0M258.9 119.1h0M269.8 132.2h0M279.5 146.3h0M287.9 161.2h0M294.9 176.7h0M300.6 192.8h0M304.9 209.3h0M307.7 226.2h0M309.1 243.2h0M308.9 260.2h0M307.3 277.2h0M304.2 294h0M299.6 310.5h0M293.6 326.5h0M286.3 341.9h0M277.6 356.6h0M267.7 370.5h0M256.6 383.5h0M244.4 395.4h0M231.3 406.3h0M217.2 416h0M202.3 424.4h0M106.4 47.2h0M124.1 47.4h0M141.7 49.1h0M159.1 52.3h0M192.8 63.2h0M208.8 70.8h0M224 79.8h0M238.4 90.1h0M251.9 101.6h0M264.3 114.2h0M275.5 127.9h0M285.6 142.5h0M294.3 157.9h0M301.6 174h0M307.5 190.7h0M312 207.8h0M314.9 225.3h0M316.3 242.9h0M316.1 260.6h0M314.4 278.2h0M311.2 295.6h0M306.5 312.7h0M300.3 329.3h0M292.7 345.3h0M283.7 360.5h0M273.4 374.9h0M261.9 388.4h0M249.3 400.8h0M235.6 412h0M221 422.1h0M106.2 40h0M124.5 40.2h0M142.7 41.9h0M160.8 45.3h0M178.4 50.2h0M212.1 64.5h0M227.9 73.8h0M242.9 84.4h0M256.8 96.3h0M269.6 109.4h0M281.3 123.6h0M300.7 154.6h0M308.3 171.3h0M314.4 188.6h0M319 206.3h0M322 224.4h0M323.5 242.7h0M323.3 261h0M321.6 279.2h0M318.2 297.3h0M313.3 314.9h0M306.9 332.1h0M299 348.6h0M289.7 364.4h0M279.1 379.4h0M267.2 393.3h0M254.1 406.1h0M239.9 417.8h0M224.8 428.2h0M105.9 32.8h0M124.9 33h0M143.7 34.8h0M180.6 43.3h0M198.4 50h0M215.5 58.1h0M231.9 67.8h0M247.3 78.8h0M261.7 91.1h0M275 104.6h0M287 119.2h0M297.8 134.8h0M307.1 151.3h0M315 168.6h0M321.3 186.5h0M326.1 204.8h0M329.2 223.5h0M330.7 242.4h0M330.5 261.4h0M328.7 280.2h0M325.2 298.9h0M320.2 317.1h0M313.5 334.9h0M305.4 352h0M284.7 383.8h0M272.4 398.2h0M258.9 411.5h0M244.3 423.5h0M105.7 25.6h0M125.2 25.8h0M144.7 27.7h0M164 31.3h0M182.9 36.5h0M201.2 43.3h0M218.9 51.8h0M235.8 61.7h0M251.7 73.1h0M280.3 99.8h0M292.8 114.9h0M303.9 131h0M313.5 148.1h0M321.7 165.9h0M328.2 184.4h0M333.1 203.3h0M336.3 222.6h0M337.7 261.7h0M335.8 281.2h0M332.2 300.5h0M327 319.4h0M320.2 337.7h0M301.8 372.3h0M290.4 388.2h0M277.7 403.1h0M263.7 416.8h0M248.6 429.3h0M105.4 18.4h0M125.6 18.6h0M145.7 20.6h0M165.6 24.2h0M185.1 29.6h0M204 36.7h0M222.3 45.4h0M239.7 55.7h0M256.1 67.4h0M271.5 80.5h0M285.7 95h0M298.5 110.6h0M310 127.2h0M319.9 144.8h0M328.3 163.2h0M335.1 182.3h0M340.1 201.8h0M343.5 221.8h0M345.1 241.9h0M344.9 262.1h0M342.9 282.2h0M339.3 302.1h0M333.9 321.6h0M326.8 340.5h0M318.1 358.8h0M307.8 376.2h0M283 408h0M268.5 422.2h0M105.2 11.2h0M146.7 13.4h0M167.2 17.2h0M187.3 22.8h0M206.8 30.1h0M225.7 39.1h0M260.6 61.7h0M276.4 75.3h0M291 90.1h0M304.3 106.2h0M316.1 123.4h0M326.4 141.5h0M335 160.5h0M342 180.2h0M347.2 200.3h0M346.3 303.7h0M340.7 323.8h0M333.4 343.3h0M324.4 362.2h0M313.9 380.1h0M301.8 397.1h0M273.4 427.5h0M104.9 4h0M126.4 4.2h0M147.8 6.3h0M168.9 10.2h0M189.5 15.9h0M209.7 23.5h0M229 32.7h0M247.5 43.6h0M265 56.1h0M281.3 70h0M296.4 85.3h0M310 101.9h0M322.2 119.6h0M341.7 157.8h0M348.8 178h0M347.6 326h0M340 346.2h0M330.8 365.5h0M319.9 384h0M307.4 401.5h0M293.5 417.8h0M148.8 -0.8h0M170.5 3.2h0M191.8 9.1h0M212.5 16.8h0M232.4 26.3h0M251.5 37.6h0M269.4 50.4h0M286.3 64.7h0M301.7 80.5h0M315.8 97.6h0M328.3 115.8h0M339.2 135h0M348.4 155.1h0M346.7 349h0M337.2 368.9h0M325.9 388h0M298.8 422.8h0M194 2.2h0M215.3 10.2h0M235.8 20h0M255.4 31.5h0M273.9 44.7h0M291.2 59.5h0M307.1 75.7h0M321.5 93.2h0M345.6 131.7h0M343.5 372.3h0M332 391.9h0M318.8 410.4h0M304 427.7h0M218.1 3.6h0M239.2 13.6h0M259.3 25.5h0M278.3 39h0M296.1 54.2h0M312.4 70.9h0M327.3 88.9h0M340.5 108.1h0M349.9 375.7h0M324.5 414.8h0M242.6 7.3h0M263.2 19.4h0M282.7 33.4h0M301 49h0M317.8 66.1h0M333 84.6h0M346.6 104.3h0M344.1 399.7h0M330.1 419.2h0M245.9 0.9h0M267.1 13.4h0M287.2 27.7h0M305.9 43.7h0M323.1 61.2h0M338.8 80.2h0M335.8 423.7h0M271.1 7.4h0M291.6 22h0M310.8 38.4h0M328.5 56.4h0M344.5 75.9h0M341.5 428.1h0M275 1.3h0M296 16.4h0M315.7 33.2h0M333.8 51.6h0M300.5 10.7h0M320.6 27.9h0M339.2 46.8h0M304.9 5h0M344.5 42h0M309.3 -0.7h0M330.4 17.4h0M349.9 37.1h0M335.4 12.1h0M340.3 6.8h0M345.2 1.6h0" stroke="#00ff00" stroke-width="3.3" stroke-linecap="round" fill="none"/>
<path d="M102.8 149.9h0M103.4 149.8h0M104 149.7h0M104.6 149.7h0M105.2 149.7h0M105.8 149.8h0M106.4 149.9h0M107 150.1h0M107.6 150.4h0M108.1 150.7h0M108.7 151h0M109.2 151.4h0M109.6 151.8h0M110 152.2h0M110.4 152.7h0M110.7 153.2h0M111 153.8h0M111.3 154.4h0M111.5 155h0M111.6 155.6h0M111.7 156.2h0M111.7 156.8h0M111.7 157.4h0M111.6 158h0M111.5 158.6h0M111.3 159.2h0M111 159.8h0M110.7 160.4h0M110.4 160.9h0M110 161.4h0M109.6 161.8h0M109.2 162.2h0M108.7 162.6h0M100.9 143.1h0M102.1 142.8h0M103.4 142.7h0M104.6 142.6h0M105.8 142.7h0M107.1 142.8h0M108.3 143.1h0M109.5 143.5h0M110.6 143.9h0M111.7 144.5h0M112.7 145.2h0M113.7 145.9h0M114.6 146.8h0M115.5 147.7h0M116.2 148.7h0M116.9 149.7h0M117.5 150.8h0M117.9 151.9h0M118.3 153.1h0M118.6 154.3h0M118.7 155.6h0M118.8 156.8h0M118.7 158h0M118.6 159.3h0M118.3 160.5h0M117.9 161.7h0M117.5 162.8h0M116.9 163.9h0M116.2 164.9h0M115.5 165.9h0M114.6 166.8h0M113.7 167.7h0M112.7 168.4h0M111.7 169.1h0M109.5 170.1h0M99.1 136.2h0M100.9 135.8h0M102.7 135.6h0M104.6 135.5h0M106.5 135.6h0M108.3 135.8h0M110.1 136.2h0M111.9 136.8h0M113.6 137.5h0M115.2 138.4h0M116.8 139.4h0M118.3 140.5h0M119.7 141.7h0M120.9 143.1h0M122 144.6h0M123 146.2h0M123.9 147.8h0M124.6 149.5h0M125.2 151.3h0M125.6 153.1h0M125.8 154.9h0M125.9 156.8h0M125.8 158.7h0M125.6 160.5h0M125.2 162.3h0M124.6 164.1h0M123.9 165.8h0M123 167.5h0M122 169h0M120.9 170.5h0M119.7 171.9h0M118.3 173.1h0M116.8 174.2h0M115.2 175.2h0M111.9 176.8h0M97.2 129.4h0M99.7 128.8h0M102.1 128.5h0M104.6 128.4h0M107.1 128.5h0M109.5 128.8h0M112 129.4h0M114.3 130.1h0M116.6 131.1h0M118.8 132.2h0M120.9 133.5h0M122.9 135h0M124.7 136.7h0M126.4 138.5h0M127.9 140.5h0M129.2 142.6h0M130.3 144.8h0M131.3 147.1h0M132 149.4h0M132.6 151.9h0M132.9 154.3h0M133 156.8h0M132.9 159.3h0M132.6 161.7h0M132 164.2h0M131.3 166.5h0M130.3 168.8h0M129.2 171h0M127.9 173.1h0M126.4 175.1h0M124.7 176.9h0M122.9 178.6h0M120.9 180.1h0M118.8 181.4h0M116.6 182.5h0M114.3 183.5h0M95.4 122.5h0M98.4 121.8h0M101.5 121.4h0M104.6 121.3h0M107.7 121.4h0M110.8 121.8h0M113.8 122.5h0M116.7 123.4h0M119.6 124.6h0M122.3 126.1h0M125 127.7h0M127.4 129.6h0M129.7 131.7h0M131.8 134h0M133.7 136.4h0M135.3 139.1h0M136.8 141.8h0M138 144.7h0M138.9 147.6h0M139.6 150.6h0M140 153.7h0M140.1 156.8h0M140 159.9h0M139.6 163h0M138.9 166h0M138 168.9h0M136.8 171.8h0M135.3 174.6h0M133.7 177.2h0M131.8 179.6h0M129.7 181.9h0M127.4 184h0M125 185.9h0M122.3 187.5h0M119.6 189h0M116.7 190.2h0M93.6 115.7h0M97.2 114.8h0M100.9 114.4h0M104.6 114.2h0M108.3 114.4h0M112 114.8h0M115.6 115.7h0M119.2 116.8h0M122.6 118.2h0M125.9 119.9h0M129 121.9h0M132 124.2h0M134.7 126.7h0M137.2 129.4h0M139.5 132.4h0M141.5 135.5h0M143.2 138.8h0M144.6 142.2h0M145.7 145.8h0M146.6 149.4h0M147 153.1h0M147.2 156.8h0M147 160.5h0M146.6 164.2h0M145.7 167.8h0M144.6 171.4h0M143.2 174.8h0M141.5 178.1h0M139.5 181.2h0M137.2 184.2h0M134.7 186.9h0M132 189.4h0M129 191.7h0M125.9 193.7h0M122.6 195.4h0M91.7 108.8h0M96 107.9h0M100.3 107.3h0M104.6 107.1h0M108.9 107.3h0M113.2 107.9h0M117.5 108.8h0M121.6 110.1h0M125.6 111.8h0M129.4 113.8h0M133.1 116.1h0M136.5 118.7h0M139.7 121.7h0M142.7 124.9h0M145.3 128.3h0M147.6 132h0M149.6 135.8h0M151.3 139.8h0M152.6 143.9h0M153.5 148.2h0M154.1 152.5h0M154.3 156.8h0M154.1 161.1h0M153.5 165.4h0M152.6 169.7h0M151.3 173.8h0M149.6 177.8h0M147.6 181.7h0M145.3 185.3h0M142.7 188.7h0M139.7 191.9h0M136.5 194.9h0M133.1 197.5h0M129.4 199.8h0M125.6 201.8h0M121.6 203.5h0M89.9 101.9h0M94.7 100.9h0M99.6 100.2h0M104.6 100h0M109.6 100.2h0M114.5 100.9h0M119.3 101.9h0M124 103.4h0M128.6 105.3h0M133 107.6h0M137.2 110.3h0M141.1 113.3h0M144.8 116.6h0M148.1 120.3h0M151.1 124.2h0M153.8 128.4h0M156.1 132.8h0M158 137.4h0M159.5 142.1h0M160.5 146.9h0M161.2 151.8h0M161.4 156.8h0M161.2 161.8h0M160.5 166.7h0M159.5 171.5h0M158 176.2h0M156.1 180.8h0M153.8 185.2h0M151.1 189.4h0M148.1 193.3h0M144.8 197h0M141.1 200.3h0M137.2 203.3h0M133 206h0M128.6 208.3h0M124 210.2h0M88.1 95.1h0M93.5 93.9h0M99 93.1h0M104.6 92.9h0M110.2 93.1h0M115.7 93.9h0M121.1 95.1h0M126.5 96.8h0M131.6 98.9h0M136.5 101.5h0M141.3 104.5h0M145.7 107.8h0M149.8 111.6h0M153.6 115.7h0M156.9 120.1h0M159.9 124.9h0M162.5 129.8h0M164.6 134.9h0M166.3 140.3h0M167.5 145.7h0M168.3 151.2h0M168.5 156.8h0M168.3 162.4h0M167.5 167.9h0M166.3 173.3h0M164.6 178.7h0M162.5 183.8h0M159.9 188.8h0M156.9 193.5h0M153.6 197.9h0M149.8 202h0M145.7 205.8h0M141.3 209.1h0M136.5 212.1h0M131.6 214.7h0M126.5 216.8h0M86.2 88.2h0M92.3 86.9h0M98.4 86.1h0M104.6 85.8h0M110.8 86.1h0M116.9 86.9h0M123 88.2h0M128.9 90.1h0M134.6 92.5h0M140.1 95.3h0M145.3 98.6h0M150.2 102.4h0M154.8 106.6h0M159 111.2h0M162.8 116.1h0M166.1 121.3h0M168.9 126.8h0M171.3 132.5h0M173.2 138.4h0M174.5 144.5h0M175.3 150.6h0M175.6 156.8h0M175.3 163h0M174.5 169.1h0M173.2 175.2h0M171.3 181.1h0M168.9 186.8h0M166.1 192.3h0M162.8 197.5h0M159 202.4h0M154.8 207h0M150.2 211.2h0M145.3 215h0M140.1 218.3h0M134.6 221.1h0M128.9 223.5h0M84.4 81.4h0M91 79.9h0M97.8 79h0M104.6 78.7h0M111.4 79h0M118.2 79.9h0M124.8 81.4h0M131.3 83.4h0M137.6 86h0M143.6 89.2h0M149.4 92.8h0M154.8 97h0M159.8 101.6h0M164.4 106.6h0M168.6 112h0M172.2 117.8h0M175.4 123.8h0M178 130.1h0M180 136.6h0M181.5 143.2h0M182.4 150h0M182.7 156.8h0M182.4 163.6h0M181.5 170.4h0M180 177h0M178 183.5h0M175.4 189.8h0M172.2 195.8h0M168.6 201.6h0M164.4 207h0M159.8 212h0M154.8 216.6h0M149.4 220.8h0M143.6 224.4h0M137.6 227.6h0M131.3 230.2h0M82.5 74.5h0M89.8 72.9h0M97.2 71.9h0M104.6 71.6h0M112 71.9h0M119.4 72.9h0M126.7 74.5h0M133.7 76.7h0M140.6 79.6h0M147.2 83h0M153.5 87h0M159.4 91.5h0M164.8 96.6h0M169.9 102h0M174.4 107.9h0M178.4 114.2h0M181.8 120.8h0M184.7 127.7h0M186.9 134.7h0M188.5 142h0M189.5 149.4h0M189.8 156.8h0M189.5 164.2h0M188.5 171.6h0M186.9 178.9h0M184.7 185.9h0M181.8 192.8h0M178.4 199.4h0M174.4 205.7h0M169.9 211.6h0M164.8 217h0M159.4 222.1h0M153.5 226.6h0M147.2 230.6h0M140.6 234h0M133.7 236.9h0M80.7 67.6h0M88.6 65.9h0M96.6 64.9h0M104.6 64.5h0M112.6 64.9h0M120.6 65.9h0M128.5 67.6h0M136.2 70.1h0M143.6 73.1h0M150.7 76.9h0M157.5 81.2h0M163.9 86.1h0M169.9 91.5h0M175.3 97.5h0M180.2 103.9h0M184.5 110.7h0M188.3 117.8h0M191.3 125.2h0M193.8 132.9h0M195.5 140.8h0M196.5 148.8h0M196.9 156.8h0M196.5 164.8h0M195.5 172.8h0M193.8 180.7h0M191.3 188.4h0M188.3 195.8h0M184.5 202.9h0M180.2 209.7h0M175.3 216.1h0M169.9 222.1h0M163.9 227.5h0M157.5 232.4h0M150.7 236.7h0M143.6 240.5h0M136.2 243.5h0M78.9 60.8h0M87.3 58.9h0M95.9 57.8h0M104.6 57.4h0M113.3 57.8h0M121.9 58.9h0M130.3 60.8h0M138.6 63.4h0M146.6 66.7h0M154.3 70.7h0M161.6 75.4h0M168.5 80.7h0M174.9 86.5h0M180.7 92.9h0M186 99.8h0M190.7 107.1h0M194.7 114.8h0M198 122.8h0M200.6 131.1h0M202.5 139.5h0M203.6 148.1h0M204 156.8h0M203.6 165.5h0M202.5 174.1h0M200.6 182.5h0M198 190.8h0M194.7 198.8h0M190.7 206.5h0M186 213.8h0M180.7 220.7h0M174.9 227.1h0M168.5 232.9h0M161.6 238.2h0M154.3 242.9h0M146.6 246.9h0M138.6 250.2h0M77 53.9h0M86.1 51.9h0M95.3 50.7h0M104.6 50.3h0M113.9 50.7h0M123.1 51.9h0M132.2 53.9h0M141 56.7h0M149.6 60.3h0M157.8 64.6h0M165.7 69.6h0M173.1 75.2h0M179.9 81.5h0M186.2 88.3h0M191.8 95.7h0M196.8 103.6h0M201.1 111.8h0M204.7 120.4h0M207.5 129.2h0M209.5 138.3h0M210.7 147.5h0M211.1 156.8h0M210.7 166.1h0M209.5 175.3h0M207.5 184.4h0M204.7 193.2h0M201.1 201.8h0M196.8 210h0M191.8 217.9h0M186.2 225.3h0M179.9 232.1h0M173.1 238.4h0M165.7 244h0M157.8 249h0M149.6 253.3h0M141 256.9h0M75.2 47.1h0M84.9 44.9h0M94.7 43.6h0M104.6 43.2h0M114.5 43.6h0M124.3 44.9h0M134 47.1h0M143.5 50.1h0M152.6 53.8h0M161.4 58.4h0M169.8 63.7h0M177.6 69.8h0M184.9 76.5h0M191.6 83.8h0M197.7 91.6h0M203 100h0M207.6 108.8h0M211.3 117.9h0M214.3 127.4h0M216.5 137.1h0M217.8 146.9h0M218.2 156.8h0M217.8 166.7h0M216.5 176.5h0M214.3 186.2h0M211.3 195.7h0M207.6 204.8h0M203 213.6h0M197.7 222h0M191.6 229.8h0M184.9 237.1h0M177.6 243.8h0M169.8 249.9h0M161.4 255.2h0M152.6 259.8h0M143.5 263.5h0M73.4 40.2h0M83.6 37.9h0M94.1 36.6h0M104.6 36.1h0M115.1 36.6h0M125.6 37.9h0M135.8 40.2h0M145.9 43.4h0M155.6 47.4h0M164.9 52.3h0M173.8 57.9h0M182.2 64.3h0M189.9 71.5h0M197.1 79.2h0M209.1 96.5h0M214 105.8h0M218 115.5h0M221.2 125.6h0M224.8 146.3h0M225.3 156.8h0M224.8 167.3h0M223.5 177.8h0M221.2 188h0M218 198.1h0M214 207.8h0M209.1 217.1h0M203.5 226h0M197.1 234.4h0M189.9 242.1h0M173.8 255.7h0M164.9 261.3h0M155.6 266.2h0M145.9 270.2h0M71.5 33.4h0M82.4 30.9h0M93.5 29.5h0M115.7 29.5h0M126.8 30.9h0M137.7 33.4h0M148.3 36.7h0M158.6 41h0M168.5 46.1h0M177.9 52.1h0M186.7 58.9h0M195 66.4h0M202.5 74.7h0M209.3 83.5h0M215.3 92.9h0M220.4 102.8h0M224.7 113.1h0M231.9 145.7h0M232.4 156.8h0M231.9 167.9h0M230.5 179h0M228 189.9h0M224.7 200.5h0M220.4 210.8h0M215.3 220.7h0M209.3 230.1h0M202.5 238.9h0M195 247.2h0M186.7 254.7h0M177.9 261.5h0M168.5 267.5h0M158.6 272.6h0M148.3 276.9h0M69.7 26.5h0M81.2 23.9h0M92.8 22.4h0M104.6 21.9h0M116.4 22.4h0M128 23.9h0M150.7 30h0M161.6 34.5h0M172 40h0M182 46.3h0M191.3 53.5h0M200 61.4h0M207.9 70.1h0M215.1 79.4h0M226.9 99.8h0M231.4 110.7h0M234.9 121.9h0M237.5 133.4h0M239 145h0M239.5 156.8h0M239 168.6h0M237.5 180.2h0M234.9 191.7h0M231.4 202.9h0M226.9 213.8h0M221.4 224.2h0M215.1 234.2h0M207.9 243.5h0M200 252.2h0M191.3 260.1h0M182 267.3h0M172 273.6h0M161.6 279.1h0M150.7 283.6h0M67.8 19.6h0M79.9 17h0M92.2 15.3h0M104.6 14.8h0M117 15.3h0M129.3 17h0M141.4 19.6h0M153.2 23.4h0M164.6 28.1h0M175.6 33.8h0M186 40.5h0M195.9 48h0M205 56.4h0M220.9 75.4h0M227.6 85.8h0M233.3 96.8h0M238 108.2h0M241.8 120h0M244.4 132.1h0M246.1 144.4h0M246.6 156.8h0M246.1 169.2h0M244.4 181.5h0M241.8 193.6h0M238 205.4h0M227.6 227.8h0M220.9 238.2h0M213.4 248.1h0M205 257.2h0M195.9 265.6h0M186 273.1h0M175.6 279.8h0M164.6 285.5h0M153.2 290.2h0M66 12.8h0M78.7 10h0M91.6 8.3h0M104.6 7.7h0M117.6 8.3h0M130.5 10h0M167.6 21.7h0M179.1 27.7h0M190.1 34.7h0M200.4 42.6h0M210 51.4h0M218.8 61h0M226.7 71.3h0M233.7 82.2h0M239.7 93.8h0M244.7 105.8h0M248.6 118.2h0M253.1 143.8h0M253.7 156.8h0M253.1 169.8h0M251.4 182.7h0M248.6 195.4h0M244.7 207.8h0M239.7 219.8h0M233.7 231.3h0M226.7 242.3h0M218.8 252.6h0M210 262.2h0M200.4 271h0M190.1 278.9h0M167.6 291.9h0M155.6 296.9h0M64.2 5.9h0M77.5 3h0M91 1.2h0M104.6 0.6h0M118.2 1.2h0M131.7 3h0M145 5.9h0M158 10h0M170.6 15.2h0M182.7 21.5h0M194.2 28.8h0M205 37.1h0M215.1 46.3h0M224.3 56.4h0M232.6 67.2h0M239.9 78.7h0M246.2 90.8h0M251.4 103.4h0M255.5 116.4h0M260.2 143.2h0M260.8 156.8h0M260.2 170.4h0M258.4 183.9h0M255.5 197.2h0M251.4 210.2h0M246.2 222.8h0M239.9 234.9h0M232.6 246.4h0M224.3 257.2h0M215.1 267.3h0M205 276.5h0M194.2 284.8h0M182.7 292.1h0M170.6 298.4h0M158 303.6h0M146.9 -0.9h0M160.5 3.3h0M173.6 8.8h0M186.2 15.4h0M198.3 23h0M209.6 31.7h0M220.1 41.3h0M229.7 51.8h0M238.4 63.1h0M246 75.2h0M252.6 87.8h0M258.1 100.9h0M262.3 114.5h0M265.4 128.4h0M267.3 142.6h0M267.9 156.8h0M267.3 171h0M262.3 199.1h0M258.1 212.7h0M252.6 225.8h0M246 238.4h0M238.4 250.5h0M229.7 261.8h0M220.1 272.3h0M209.6 281.9h0M198.3 290.6h0M186.2 298.2h0M173.6 304.8h0M160.5 310.3h0M176.6 2.4h0M189.8 9.2h0M202.3 17.2h0M214.1 26.3h0M225.1 36.3h0M235.1 47.3h0M244.2 59.1h0M252.2 71.6h0M259 84.8h0M264.7 98.5h0M269.2 112.7h0M272.4 127.2h0M274.4 141.9h0M275 156.8h0M274.4 171.7h0M272.4 186.4h0M269.2 200.9h0M264.7 215.1h0M259 228.8h0M252.2 242h0M244.2 254.5h0M235.1 266.3h0M225.1 277.3h0M214.1 287.3h0M202.3 296.4h0M189.8 304.4h0M176.6 311.2h0M193.3 3.1h0M206.4 11.4h0M218.7 20.8h0M230.1 31.3h0M240.6 42.7h0M250 55h0M258.3 68.1h0M265.5 81.8h0M271.4 96.1h0M276.1 110.9h0M279.4 126h0M281.4 141.3h0M282.1 156.8h0M281.4 172.3h0M276.1 202.7h0M271.4 217.5h0M265.5 231.8h0M250 258.6h0M240.6 270.9h0M230.1 282.3h0M218.7 292.8h0M206.4 302.2h0M193.3 310.5h0M179.6 317.7h0M210.5 5.6h0M223.3 15.4h0M235.1 26.3h0M246 38.1h0M255.8 50.9h0M271.9 78.8h0M278.1 93.7h0M282.9 109h0M286.4 124.7h0M288.5 140.7h0M289.2 156.8h0M288.5 172.9h0M282.9 204.6h0M278.1 219.9h0M264.5 249.1h0M255.8 262.7h0M246 275.5h0M235.1 287.3h0M223.3 298.2h0M210.5 308h0M196.9 316.7h0M214.6 -0.2h0M227.8 9.9h0M240.2 21.2h0M251.5 33.6h0M261.6 46.8h0M270.6 61h0M278.3 75.8h0M284.7 91.2h0M289.8 107.2h0M293.4 123.5h0M295.6 140.1h0M296.3 156.8h0M295.6 173.5h0M293.4 190.1h0M289.8 206.4h0M284.7 222.4h0M278.3 237.8h0M270.6 252.6h0M251.5 280h0M240.2 292.4h0M227.8 303.7h0M214.6 313.8h0M232.4 4.5h0M245.2 16.2h0M256.9 29h0M267.4 42.8h0M276.8 57.4h0M284.8 72.8h0M291.4 88.8h0M296.6 105.3h0M300.4 122.3h0M302.6 139.5h0M303.4 156.8h0M302.6 174.1h0M300.4 191.3h0M291.4 224.8h0M284.8 240.8h0M276.8 256.2h0M267.4 270.8h0M256.9 284.6h0M245.2 297.4h0M232.4 309.1h0M218.6 319.6h0M236.9 -0.9h0M250.2 11.2h0M262.3 24.5h0M273.3 38.7h0M282.9 53.8h0M291.2 69.8h0M298.1 86.4h0M303.5 103.5h0M307.4 121h0M309.7 138.9h0M310.5 156.8h0M309.7 174.7h0M307.4 192.6h0M303.5 210.1h0M298.1 227.2h0M291.2 243.8h0M282.9 259.7h0M273.3 274.9h0M262.3 289.1h0M250.2 302.4h0M236.9 314.5h0M255.2 6.2h0M267.8 19.9h0M279.1 34.6h0M289.1 50.3h0M297.6 66.8h0M304.8 83.9h0M310.3 101.7h0M314.4 119.8h0M316.8 138.2h0M317.6 156.8h0M316.8 175.4h0M314.4 193.8h0M310.3 211.9h0M304.8 229.7h0M289.1 263.3h0M279.1 279h0M267.8 293.7h0M255.2 307.4h0M241.5 320h0M260.2 1.2h0M284.9 30.6h0M295.2 46.7h0M304.1 63.8h0M311.4 81.5h0M317.2 99.8h0M321.4 118.6h0M323.9 137.6h0M324.7 156.8h0M323.9 176h0M321.4 195h0M317.2 213.8h0M311.4 232.1h0M304.1 249.8h0M295.2 266.8h0M284.9 283h0M273.2 298.3h0M260.2 312.4h0M278.6 10.8h0M290.7 26.5h0M301.4 43.2h0M310.5 60.8h0M318.1 79.1h0M324.1 98h0M328.3 117.3h0M330.9 137h0M331.8 156.8h0M330.9 176.6h0M328.3 196.3h0M324.1 215.6h0M318.1 234.5h0M310.5 252.8h0M301.4 270.4h0M290.7 287.1h0M278.6 302.8h0M265.3 317.5h0M284.1 6.2h0M296.5 22.4h0M307.5 39.6h0M316.9 57.8h0M324.8 76.7h0M330.9 96.2h0M335.3 116.1h0M338 136.4h0M338.9 156.8h0M338 177.2h0M330.9 217.4h0M324.8 236.9h0M307.5 273.9h0M296.5 291.2h0M284.1 307.4h0M289.5 1.6h0M302.3 18.3h0M313.7 36.1h0M323.4 54.8h0M331.4 74.2h0M337.8 94.3h0M342.3 114.9h0M345.1 135.8h0M346 156.8h0M345.1 177.8h0M342.3 198.7h0M337.8 219.3h0M323.4 258.8h0M313.7 277.5h0M302.3 295.3h0M289.5 312h0M308.2 14.3h0M319.8 32.5h0M329.8 51.8h0M338.1 71.8h0M344.6 92.5h0M349.3 113.6h0M349.3 200h0M344.6 221.1h0M338.1 241.8h0M329.8 261.8h0M319.8 281h0M314 10.2h0M326 29h0M336.3 48.8h0M344.8 69.4h0M344.8 244.2h0M336.3 264.8h0M326 284.6h0M319.8 6.1h0M332.1 25.4h0M342.7 45.8h0M342.7 267.8h0M332.1 288.1h0M325.6 2h0M338.3 21.9h0M349.1 42.8h0M349.1 270.8h0M344.4 18.3h0" stroke="#ff0000" stroke-width="3.3" stroke-linecap="round" fill="none"/>
<path d="M66 29.4h0M67.4 29.4h0M68.8 29.5h0M70.2 29.7h0M71.5 30h0M72.8 30.5h0M74.1 31h0M75.3 31.7h0M76.5 32.5h0M77.6 33.3h0M78.6 34.3h0M79.5 35.3h0M80.4 36.5h0M81.1 37.6h0M81.7 38.9h0M82.2 40.2h0M82.6 41.5h0M82.9 42.9h0M83.1 44.3h0M83.1 45.7h0M83 47.1h0M82.8 48.5h0M82.5 49.8h0M82 51.1h0M81.5 52.4h0M80.8 53.6h0M80 54.8h0M79.2 55.9h0M78.2 56.9h0M77.2 57.8h0M76 58.7h0M74.9 59.4h0M73.6 60h0M65.5 22.2h0M67.5 22.1h0M69.5 22.2h0M71.5 22.5h0M73.5 23h0M75.4 23.6h0M77.3 24.5h0M79.1 25.4h0M80.8 26.5h0M82.4 27.8h0M83.9 29.2h0M85.2 30.7h0M86.4 32.4h0M87.5 34.1h0M88.4 35.9h0M89.1 37.8h0M89.7 39.8h0M90.1 41.8h0M90.3 43.8h0M90.4 45.8h0M90.3 47.8h0M90 49.8h0M89.5 51.8h0M88.9 53.7h0M88 55.6h0M87.1 57.4h0M86 59.1h0M84.7 60.7h0M83.3 62.2h0M81.8 63.5h0M80.1 64.7h0M78.4 65.8h0M76.6 66.7h0M65 14.9h0M67.6 14.8h0M70.3 15h0M72.9 15.4h0M75.5 16h0M78.1 16.8h0M80.5 17.9h0M82.9 19.2h0M85.1 20.6h0M87.2 22.3h0M89.1 24.1h0M90.9 26.1h0M92.5 28.3h0M93.9 30.6h0M95.1 33h0M96 35.4h0M96.8 38h0M97.3 40.6h0M97.6 43.3h0M97.7 45.9h0M97.5 48.6h0M97.1 51.2h0M96.5 53.8h0M95.7 56.4h0M94.6 58.8h0M93.3 61.2h0M91.9 63.4h0M90.2 65.5h0M88.4 67.4h0M86.4 69.2h0M84.2 70.8h0M81.9 72.2h0M79.5 73.4h0M64.5 7.6h0M67.8 7.5h0M71.1 7.7h0M74.3 8.2h0M77.5 9h0M80.7 10h0M83.7 11.3h0M86.6 12.9h0M89.4 14.7h0M92 16.8h0M94.4 19.1h0M96.6 21.5h0M98.5 24.2h0M100.2 27h0M101.7 30h0M102.9 33.1h0M103.9 36.2h0M104.5 39.5h0M104.9 42.8h0M105 46.1h0M104.8 49.4h0M104.3 52.6h0M103.5 55.8h0M102.5 59h0M101.2 62h0M99.6 64.9h0M97.8 67.7h0M95.7 70.3h0M93.4 72.7h0M91 74.9h0M88.3 76.8h0M85.5 78.5h0M82.5 80h0M63.9 0.3h0M67.9 0.2h0M71.8 0.4h0M75.7 1h0M79.6 2h0M83.3 3.2h0M86.9 4.8h0M90.4 6.7h0M93.7 8.8h0M96.8 11.3h0M99.6 14h0M102.2 17h0M104.6 20.1h0M106.6 23.5h0M108.4 27h0M109.8 30.7h0M111 34.5h0M111.7 38.3h0M112.2 42.2h0M112.3 46.2h0M112.1 50.1h0M111.5 54h0M110.5 57.9h0M109.3 61.6h0M107.7 65.2h0M105.8 68.7h0M103.7 72h0M101.2 75.1h0M98.5 77.9h0M95.5 80.5h0M92.4 82.9h0M89 84.9h0M85.5 86.7h0M90.1 -1.8h0M94.1 0.4h0M98 2.9h0M101.5 5.8h0M104.9 8.9h0M107.9 12.4h0M110.6 16h0M113 19.9h0M115.1 24h0M116.7 28.3h0M118 32.7h0M119 37.2h0M119.5 41.7h0M119.6 46.3h0M119.3 50.9h0M118.6 55.4h0M117.6 59.9h0M116.1 64.2h0M114.3 68.4h0M112.1 72.4h0M109.6 76.3h0M106.7 79.8h0M103.6 83.2h0M100.1 86.2h0M96.5 88.9h0M92.6 91.3h0M88.5 93.4h0M106.3 0.3h0M110.1 3.9h0M113.6 7.8h0M116.7 12h0M119.4 16.4h0M121.7 21.1h0M123.6 25.9h0M125.1 30.9h0M126.2 36h0M126.8 41.2h0M126.9 46.4h0M126.6 51.7h0M125.8 56.8h0M124.6 61.9h0M122.9 66.8h0M120.8 71.6h0M118.4 76.2h0M115.5 80.5h0M112.2 84.6h0M108.6 88.4h0M104.7 91.9h0M100.5 95h0M96.1 97.7h0M91.4 100h0M115.4 -1.2h0M119.2 3.2h0M122.7 7.9h0M125.8 12.9h0M128.4 18.1h0M130.5 23.6h0M132.2 29.2h0M133.4 34.9h0M134 40.7h0M134.2 46.6h0M133.8 52.4h0M133 58.2h0M131.6 63.9h0M129.7 69.4h0M127.4 74.8h0M124.6 80h0M121.4 84.8h0M117.7 89.4h0M113.7 93.7h0M109.3 97.5h0M104.6 101h0M99.6 104.1h0M94.4 106.7h0M124.9 -1.4h0M128.8 3.8h0M132.2 9.3h0M135.1 15.1h0M137.4 21.2h0M139.3 27.4h0M140.6 33.8h0M141.3 40.2h0M141.5 46.7h0M141.1 53.2h0M140.1 59.6h0M138.6 65.9h0M136.6 72.1h0M134 78h0M130.9 83.7h0M127.3 89.1h0M123.3 94.2h0M118.8 98.9h0M113.9 103.2h0M108.7 107.1h0M103.2 110.5h0M97.4 113.4h0M134.8 -0.3h0M138.6 5.8h0M141.7 12.2h0M144.3 18.8h0M146.4 25.6h0M147.8 32.6h0M148.6 39.7h0M148.8 46.8h0M148.4 53.9h0M147.3 61h0M145.6 67.9h0M143.4 74.7h0M140.5 81.2h0M137.1 87.5h0M133.2 93.4h0M128.8 99h0M123.9 104.2h0M118.5 108.9h0M112.8 113.1h0M106.7 116.9h0M100.3 120h0M144.9 2.3h0M148.4 9.2h0M151.3 16.4h0M153.5 23.9h0M155 31.5h0M155.9 39.2h0M156.1 47h0M155.6 54.7h0M154.5 62.4h0M152.7 69.9h0M150.2 77.3h0M147.1 84.4h0M143.4 91.2h0M139.1 97.7h0M134.3 103.8h0M128.9 109.4h0M123.1 114.6h0M116.9 119.2h0M110.2 123.2h0M103.3 126.7h0M151.3 -1.3h0M155.1 6.2h0M158.2 14h0M160.5 22.1h0M162.2 30.3h0M163.2 38.7h0M163.4 47.1h0M162.9 55.5h0M161.6 63.8h0M159.7 71.9h0M157 79.9h0M153.7 87.6h0M149.6 95h0M145 102h0M139.8 108.6h0M134 114.7h0M127.7 120.2h0M121 125.2h0M113.8 129.6h0M106.3 133.4h0M161.7 3.3h0M165.1 11.7h0M167.6 20.3h0M169.4 29.2h0M170.4 38.2h0M170.7 47.2h0M170.1 56.2h0M168.8 65.2h0M166.7 74h0M163.8 82.5h0M160.2 90.8h0M155.9 98.8h0M150.9 106.3h0M145.3 113.4h0M139.1 119.9h0M132.3 125.9h0M125 131.3h0M117.3 136h0M109.2 140h0M168.4 0.3h0M172 9.3h0M174.7 18.6h0M176.6 28.1h0M177.7 37.7h0M178 47.3h0M177.4 57h0M176 66.6h0M173.7 76h0M170.6 85.1h0M166.8 94h0M162.2 102.5h0M156.8 110.6h0M150.8 118.2h0M144.1 125.2h0M136.9 131.6h0M129.1 137.3h0M120.9 142.4h0M112.2 146.7h0M178.9 6.9h0M181.8 16.8h0M183.8 26.9h0M185 37.2h0M185.3 47.5h0M184.7 57.8h0M183.1 68h0M180.7 78h0M177.4 87.8h0M173.3 97.2h0M168.4 106.3h0M162.7 114.9h0M156.3 122.9h0M149.2 130.4h0M141.5 137.3h0M133.2 143.4h0M124.4 148.8h0M115.2 153.4h0M185.8 4.5h0M188.9 15h0M191.1 25.8h0M192.3 36.6h0M192.6 47.6h0M191.9 58.5h0M190.3 69.3h0M187.7 80h0M184.3 90.4h0M179.9 100.4h0M174.7 110h0M168.6 119.2h0M161.8 127.7h0M154.3 135.7h0M146.1 142.9h0M137.3 149.4h0M127.9 155.2h0M118.1 160h0M192.7 2.2h0M196 13.3h0M198.3 24.6h0M199.6 36.1h0M199.9 47.7h0M199.2 59.3h0M197.5 70.7h0M194.8 82h0M191.1 93h0M186.5 103.6h0M180.9 113.8h0M174.5 123.5h0M167.3 132.5h0M159.4 140.9h0M150.7 148.6h0M141.4 155.5h0M131.5 161.5h0M121.1 166.7h0M199.6 -0.2h0M203 11.5h0M205.5 23.5h0M206.9 35.6h0M207.2 47.8h0M206.4 60h0M197.9 95.6h0M193 106.8h0M187.2 117.6h0M180.4 127.7h0M172.8 137.3h0M145.4 161.5h0M135 167.9h0M124.1 173.4h0M210.1 9.7h0M212.7 22.3h0M214.1 35.1h0M213.7 60.8h0M211.8 73.5h0M208.8 86h0M204.7 98.2h0M199.6 110h0M193.4 121.3h0M186.3 132h0M178.3 142.1h0M169.5 151.4h0M159.9 160h0M149.5 167.6h0M138.6 174.3h0M127.1 180.1h0M219.9 21.2h0M221.4 34.6h0M221.8 48.1h0M221 61.6h0M219 74.9h0M215.8 88h0M211.5 100.8h0M199.7 125.1h0M192.3 136.3h0M183.9 146.9h0M174.6 156.7h0M164.5 165.6h0M153.6 173.7h0M142.1 180.7h0M130 186.7h0M224.3 6.2h0M227.1 20.1h0M228.7 34.1h0M229.1 48.2h0M228.2 62.3h0M226.1 76.3h0M222.8 90.1h0M218.3 103.5h0M212.7 116.4h0M206 128.8h0M198.2 140.6h0M189.4 151.7h0M169 171.3h0M157.7 179.7h0M145.6 187.1h0M133 193.4h0M231.4 4.4h0M234.3 18.9h0M236 33.6h0M236.4 48.4h0M235.5 63.1h0M233.3 77.7h0M229.8 92.1h0M219.3 119.6h0M204.1 144.9h0M194.9 156.5h0M184.7 167.2h0M173.6 177h0M161.8 185.8h0M149.2 193.5h0M136 200.1h0M238.5 2.7h0M241.5 17.8h0M243.3 33.1h0M243.7 48.5h0M242.7 63.9h0M240.5 79.1h0M236.9 94.1h0M225.8 122.8h0M218.5 136.4h0M210 149.2h0M200.4 161.3h0M189.8 172.4h0M178.2 182.6h0M165.9 191.8h0M152.7 199.9h0M138.9 206.7h0M248.7 16.6h0M251 48.6h0M250 64.6h0M247.6 80.5h0M243.9 96.1h0M238.8 111.3h0M232.4 126h0M224.7 140.1h0M215.9 153.5h0M205.9 166h0M194.8 177.7h0M182.8 188.3h0M169.9 197.9h0M156.3 206.2h0M141.9 213.4h0M252.6 -0.9h0M255.9 15.5h0M257.8 32.1h0M258.3 48.7h0M257.3 65.4h0M254.8 81.9h0M250.9 98.1h0M245.6 113.9h0M238.9 129.2h0M231 143.9h0M221.8 157.8h0M211.4 170.8h0M199.9 182.9h0M187.4 194h0M174 203.9h0M159.8 212.6h0M144.9 220.1h0M263.2 14.3h0M265.1 31.6h0M265.6 48.9h0M262 83.3h0M257.9 100.1h0M252.4 116.5h0M245.5 132.4h0M237.2 147.6h0M216.9 175.6h0M192 199.7h0M178.1 210h0M163.3 219h0M147.8 226.7h0M270.4 13.2h0M272.4 31h0M271.8 66.9h0M269.1 84.7h0M264.9 102.1h0M252.1 135.6h0M243.5 151.4h0M233.6 166.4h0M222.4 180.4h0M277.6 12.1h0M279.7 30.5h0M280.2 49.1h0M279 67.7h0M276.3 86.1h0M271.9 104.1h0M266 121.8h0M258.6 138.8h0M249.8 155.2h0M239.5 170.7h0M227.9 185.2h0M284.8 10.9h0M287 30h0M287.5 49.2h0M286.3 68.4h0M283.5 87.5h0M279 106.2h0M272.9 124.4h0M265.2 142h0M256 158.9h0M245.4 174.9h0M233.4 190h0" stroke="#0000ff" stroke-width="3.3" stroke-linecap="round" fill="none"/>
<path d="M59.1 45.4L75.1 45.4M61.4 39.7L72.8 51.1M67.1 37.4L67.1 53.4M72.8 39.7L61.4 51.1" stroke="#ff0000" stroke-width="1.1" fill="none"/>
<path d="M96.6 156.8L112.6 156.8M98.9 151.1L110.3 162.5M104.6 148.8L104.6 164.8M110.3 151.1L98.9 162.5" stroke="#ff0000" stroke-width="1.1" fill="none"/>
<path d="M105.3 249.8L121.3 249.8M107.6 244.1L119 255.5M113.3 241.8L113.3 257.8M119 244.1L107.6 255.5" stroke="#ff0000" stroke-width="1.1" fill="none"/>
<path d="M54.3 272L70.3 272M56.6 266.3L68 277.7M62.3 264L62.3 280M68 266.3L56.6 277.7" stroke="#ff0000" stroke-width="1.1" fill="none"/>
</g>
<text x="285.4" y="37.2" font-size="20" fill="#000">10 km</text><line x1="306.4" y1="43.6" x2="319.6" y2="43.6" stroke="#000" stroke-width="3.6" stroke-linecap="round"/>
</g>
<g transform="translate(458.4,742.4)">
<g clip-path="url(#pc)">
<path d="M51 126.1L50 117L46 112.5L40 108L35 103.5L36 102L42 106L48 111L52 116L54 126.5L53.6 126.5L60.4 127.5L70.6 131L76.7 134L82.8 136L86 130L88 134L91.1 141L96.2 144.1L96.2 146L101.3 155L108.5 167L113 176L117 190L118.4 200.2L118 210.4L116.3 225.5L113.5 240L110.5 247L104.5 248.5L100.3 252.9L90.2 258L80 261L69.7 266.1L61.5 271.2L53.4 276.3L44.2 282.5L34 291.6L23.8 300.8L13.6 312L4.5 323.2L-1 331L-1 333.6L5.4 325.2L14.6 314L24.8 302.8L35 293.6L45.2 284.5L54.4 278.3L62.5 273.2L70.7 268.1L80.9 263L91.1 260L101.3 254.9L105.3 250.8L114 250.5L114.4 248.6L115.5 241L118.1 225.7L119.6 210.4L120.1 200.2L118.6 190L114.5 175.7L110.4 167.5L106 158L102.3 149.2L99 142L99 142L96.2 136L92 127L88 118.6L86 112L82.9 101L78.8 85.7L75.8 70.4L72.7 57.1L70 50.5L67.6 44.9L66.5 40L64.6 32.6L62.5 25L60.8 17L59.1 12.2L55.7 10.1L51.4 11.4L47.2 12.2L38.7 10.5L31.9 8.8L26.8 5.4L22.6 4.6L19.2 6.3L18.4 13.1L13.3 14.8L9.5 15.3L4.8 15.6L-1 17.4L-1 141L1.3 140L11.5 134L23.7 129.5L36.7 127.5L35 127.5L33 122.5L29 119L23 114.6L24 113L30 117L35 121L37 127.5L40 127L50.2 126L51 126.1ZM72 90L77 99L81.5 108L84 118L84.5 126L77 124L75 118L73.5 110L71 102L67 95L63 88L59 80L56 74L54.5 66L55 60L57 52L62 52L62.5 60L64.5 70L67.5 80L72 90ZM22 130L20 130.6L13 126.5L6 121.5L3.5 119.5L5 118L12 122.5L18 127L22 130ZM68 116L73 121L75 131L72.5 131L71 123L67 118.5L61 114L62 112L68 116ZM94.1 153.3L90 153.3L93.1 161.4L97.2 167.5L101.3 172.6L106.4 175.7L106.4 171.6L101.3 164.5L97.2 157.3L94.1 153.3ZM24.8 239.9L31.9 239.9L38 238.9L44.2 235.9L50.3 230.8L56.4 225.7L60.5 216.5L64.6 210.4L72.7 203.2L74.7 206.3L82.9 205.3L89 199.1L88 196.1L90 185.9L89 169.6L85 157.3L80.9 149.2L72.7 147.1L64.6 149.2L60.5 159.4L58.4 169.6L57.4 189L54.4 193L52.3 179.8L52.3 162.4L55.4 156.3L56.4 149.2L51.3 145.1L42.1 144.1L29.9 145.1L22.8 149.2L12.6 147.1L-1 149.2L-1 233.8L1.3 233.8L3.4 230.8L8.5 235.9L11.5 233.8L17.7 236.9L24.8 239.9ZM19.7 283.5L14.6 281.4L9.5 277.3L5.4 276.3L0.8 281.4L-1 281.4L-1 321L1.3 320.2L5.4 317.1L12.6 307.9L19.7 299.8L24.8 292.6L25.8 286.5L19.7 283.5Z" fill="#80e080" fill-rule="evenodd" stroke="#000" stroke-width="1.1" stroke-linejoin="round"/>
<polygon points="-1,-1 20,-1 19.7,5.1 18.7,14.3 9.5,15.3 -1,17.4" fill="#fff"/>
<polyline points="105.3,250.8 101.3,254.9 91.1,260 80.9,263 70.7,268.1 62.5,273.2 54.4,278.3 45.2,284.5 35,293.6 24.8,302.8 14.6,314 5.4,325.2 -1,333.6" fill="none" stroke="#000" stroke-width="1.6"/>
<path d="M18.5 5.4h0m9.2 2.6h0m-14.7 7h0m3.8-0.2h0m0.9-5h0m2.2 1h0m4.5 3h0m3-4.2h0m2.1-0.6h0m2.4 1.7h0m1.4 0.6h0m4.5 0.6h0m0.2-1.3h0m3.3 0.1h0m5.3 3.6h0m0.7-1.2h0m3.6-0.4h0m3-1h0m0.8-1.4h0m1.5 0.3h0m0.1 3.1h0m0.7-2.4h0m-53.7 6.5h0m8.2 0.5h0m2.4-1h0m3.6 1.3h0m0.2-1h0m3-2.2h0m39.3 4.2h0m-53.7 5.1h0m27.8-0.9h0m26.7 2h0m0.7 0.5h0m-36.7 5.6h0m31.2 0.6h0m4.7-3.1h0m2.1-0.1h0m-59.1 5.8h0m59.1 2.8h0m1.1-1h0m0.4-1.4h0m0.8-0.7h0m0.3 3.1h0m0.8-1.1h0m0.3-0.9h0m-1.1 4.4h0m3.2 4.2h0m-28.8 1.8h0m0.6 0.7h0m1.4-0.6h0m1 4.3h0m0.2-3.4h0m0.9-0.2h0m0.1 1.8h0m1.8 1h0m0.3-1.8h0m2.8 2.6h0m5.3-1h0m0.7-1.9h0m4.9 0.2h0m0.2 2h0m0.2-0.9h0m1.5 1.8h0m1.1-1.4h0m0.9 1.2h0m3.3-4.4h0m-26.2 7.6h0m0.1 2.7h0m3.6-3.9h0m0.6 4.2h0m6.9-3.8h0m0.6 3.4h0m1.2 0.4h0m0-4h0m0.5 1.6h0m1.7 0h0m1.1 1.9h0m0.5-0.1h0m0.1-4.9h0m0.2 1.4h0m1.5-1.8h0m2.1 0.8h0m1.3 3.2h0m1.3-0.3h0m5.2 1h0m3.7-4.4h0m-57.8 9.2h0m24.5 1.1h0m1.5 0.2h0m0.3-1.6h0m2.4 2.8h0m0.3-5.4h0m1.2-0.4h0m0.9 3.7h0m2.5 0.7h0m0.1-3.9h0m0.5 0.2h0m0.9 4.1h0m1.4-1.1h0m0.6-3.3h0m0.1 3h0m0.2 0.3h0m0.3-0.1h0m0.6 1.3h0m1.2-2.5h0m2.3 2.6h0m3.2-1h0m2.1 0.5h0m3.1-1.7h0m0.3 1.1h0m2.3 0.3h0m1.9-1h0m3.1-0.8h0m0.2 0.3h0m-32.6 8.3h0m0.3-1.3h0m1.9-1.1h0m0.3-0.8h0m2.6 0.2h0m5.6 2.8h0m0.1-3.7h0m1 0h0m0.5 2h0m0-3h0m1.4 1.2h0m3.4 2.7h0m0.9 0.5h0m3.3 0.3h0m1.2-4h0m0.8 0.5h0m0 2.3h0m0.6 2.1h0m1.8-5.8h0m2.8 5h0m1.4-1.8h0m1.4-3.1h0m1.8 1.1h0m0 2.8h0m-63.1 6.1h0m30.1 1h0m0.7-3.1h0m4.2 3.9h0m0-2h0m1.1-3h0m0.6-0.9h0m0.4 1.8h0m0.4 0.9h0m1.1 2.1h0m1.5-4.9h0m0.5 0h0m0.8 4.8h0m1-4.8h0m0.1 0.9h0m2.2 1.7h0m0.7 0.6h0m1.7 0.1h0m2.1 0.1h0m0.6 1.8h0m1.8 0.4h0m2.3-2h0m0.8-0.2h0m0.5-2.4h0m0.8 0.2h0m0.2 0.6h0m0.1 3.6h0m1.9-2.4h0m2.8-1.5h0m0.5-1.5h0m1.2 5.9h0m1.1-0.5h0m0.2-0.4h0m0.2 0.5h0m1-1.9h0m-35.7 3.7h0m5.5 0.4h0m0.2 1.2h0m0.2 2.7h0m1.1-3.7h0m4.1 0.7h0m4-0.8h0m0.5-1.4h0m1.3 3.3h0m0.8 0.2h0m0.1-3.1h0m1.7-0.6h0m1.7 2h0m5.3-1.3h0m0.5-0.2h0m1.2 0.4h0m0 2.6h0m0.3 0.2h0m2.8 1.7h0m1.2-4.3h0m0.7 4.6h0m0.6-5.1h0m0.2 4.5h0m0.2-3.4h0m0.9-1.9h0m0.6 2.4h0m-33.4 6.9h0m0.2 0.5h0m2.3 1.9h0m0.7-1.6h0m1.5-3.2h0m0.8-0.6h0m4.6 3.3h0m2-1.9h0m1-0.2h0m1.7 3.6h0m0.5-1.3h0m0.2 0.3h0m1.2 0.6h0m1.3-4h0m2 2h0m2.7 0.8h0m0.4 1.6h0m0.1-4.6h0m2.4 3.4h0m1.8-1.8h0m0.2 1.4h0m0.2-3.3h0m2.7 5.3h0m1.3-4.2h0m0.2 4.5h0m0.6-3.8h0m0.5-0.2h0m1.8 0.1h0m1.6 3.6h0m-36.8 3.2h0m0.7-1.9h0m1.2 4.2h0m1-4.3h0m0 1.7h0m1.3-1.4h0m1.4 4.3h0m1.6-0.8h0m4.8-3h0m1.6-0.2h0m0.5 3h0m1.7-0.9h0m0.5-3.3h0m1.8 5.7h0m1.5-3.5h0m0.5-1.3h0m0 3.7h0m0.3-2.8h0m0.1 3.2h0m0.1-4.1h0m0 1.7h0m0.3 2.7h0m3.7 0.2h0m6.2-2.2h0m0-2.4h0m1.4 4.7h0m0.5-5h0m1.6 4.9h0m0.4-3h0m2 0.1h0m1.3 1.3h0m-41.8 4.4h0m1.3-1.7h0m10.3-0.2h0m0.4 0.6h0m0.5 3.9h0m1.9-1.1h0m0.8-3.3h0m0.7-0.4h0m2.2 1.4h0m1.3 2.7h0m1.6-2.6h0m1.8-1.7h0m3.3 0.9h0m0.3 1.7h0m0.8 0.5h0m0.6 2.6h0m0.1-4h0m1 2.9h0m0.8-1.8h0m0.5-2.4h0m3.3 1.9h0m1-0.1h0m0 1.6h0m3.7-3.3h0m1.6 3.9h0m0.1-2.5h0m0.9 0.8h0m0.4 1.7h0m0.1-2.7h0m1 2.6h0m0.7 0.7h0m-80.1 4.3h0m6.7-2.5h0m16.5 4.2h0m7.5-1.8h0m2.9 0.1h0m0.5-1.1h0m2.1-2h0m1.3 2.9h0m1.9 0.2h0m1.8 0.4h0m0.8-0.7h0m1.5-0.1h0m0.2 1.1h0m5.1-2.5h0m5.1 1.9h0m0.4 2.5h0m3.1-5.7h0m0.2 0.9h0m0.8-0.3h0m2.8 0.3h0m0.5 2.4h0m0.2 0.8h0m0.6 0.7h0m1-4.3h0m1.2 0.4h0m1.5 0.5h0m1.8 1.6h0m0.9-1.4h0m0.7 2.8h0m0.5-3.2h0m0.5 4.3h0m1.4-0.7h0m0.1-3.5h0m3.1-1.2h0m0.5 2.8h0m0.4 1h0m0.9-0.1h0m1.8-1.1h0m0.5 2.6h0m0.2-1.2h0m0.4-2.4h0m0.6 3h0m1.7-0.5h0m-82.3 1.7h0m8.8 4.4h0m4-2.8h0m0.2 2.8h0m0.9 1h0m0.5-2.7h0m1.3 0.7h0m2.4 2.3h0m5.4-2.8h0m2.8-1.3h0m3.8 2.3h0m5.4-2.1h0m3.8-1.4h0m0 2h0m1.3 2.6h0m3.6-2h0m0.1 2.6h0m4.6-1.6h0m3.4 0h0m3.1-2h0m3.4 1.6h0m0.4 0.1h0m1.3-3h0m0 4.2h0m0.6-3.3h0m1.1 1.8h0m1.1-0.8h0m1.1-0.4h0m0.6-0.3h0m2.3-1.8h0m1 5.5h0m0-3.2h0m0.6 1.9h0m1-3.7h0m0.4 1.3h0m0.3-1h0m0.1 3.5h0m1.7 1.4h0m0.8-5.5h0m2 3.2h0m1.9 0.6h0m1.8 0.7h0m2.9-3h0m1.2 0.9h0m0.3-1.1h0m-80.1 9.6h0m6-3.5h0m6.4 2.4h0m6-2.3h0m3.8 1.5h0m2.2 0.2h0m0.7 1.1h0m0.2-0.9h0m3.7 1.5h0m10.2-2.9h0m0.1-2.3h0m0.3 1.9h0m2.7 1.5h0m0.7-0.6h0m3-0.4h0m0.5 0.8h0m2.8-2.7h0m3.8 2h0m0 0.4h0m1.6-0.4h0m1.4 1.1h0m3 2.1h0m0.4-0.4h0m0.6-3.4h0m1.6-1.6h0m1.4 2.9h0m2.2-2.6h0m0.5-0.5h0m0.1 3.4h0m0.1-2.3h0m3.5 2.1h0m0.3-0.6h0m0.3-0.2h0m0.3 0.9h0m1.6 1.4h0m0.4-0.8h0m1.9 1.7h0m1-5.8h0m0.2 5.5h0m1 0.4h0m2.4-1h0m0-3.9h0m2.8 0.1h0m-84.6 7.7h0m6.7-1.1h0m0.7 0h0m2.3 0.4h0m2.2 1h0m0.2 2.4h0m2.6-0.7h0m7.1 0.8h0m3.4-5.2h0m1.5 0.3h0m0.8 0.9h0m1.9 3.3h0m0.7-3.8h0m7.2 3.1h0m3.9-2.6h0m1.7 1.9h0m0.5-3.1h0m4.9 1.5h0m0.9-0.7h0m4.9-0.7h0m4.5 1.8h0m4.7 1.6h0m1.2-0.1h0m0.1-3.2h0m1.9 2.6h0m1.9 1.9h0m0.6-3.7h0m6.1 0.6h0m3.6-0.6h0m2.9 0.3h0m2.5 0h0m1.3-0.9h0m0.3 0.6h0m-86.1 6.2h0m2.4 1.7h0m4.8-1.6h0m2.5 3.1h0m1.1-2.6h0m0.9-1.6h0m0.3 4.9h0m0.7-0.8h0m3.8-1.3h0m2.9 1.5h0m2.6-2.6h0m4.8 0.5h0m1.3 1.2h0m2.1-0.8h0m1.4-1.5h0m0.6 2.7h0m0-3h0m0.9 4.3h0m7.1-2h0m2.5-2.1h0m3.8 1.6h0m0.9-1.8h0m0.4 4.6h0m0.5-2.5h0m0.5-3.2h0m11 2.6h0m0-0.5h0m0 1.3h0m0.2-0.1h0m1.2 0h0m3.3 1.5h0m4.8-3h0m2.9 3.7h0m0.2-0.5h0m0.6-3.5h0m2 0.2h0m1.2 3h0m0-1.6h0m0.4-1.9h0m6.1 1.4h0m5.6 0.3h0m-84.5 4.4h0m4 2h0m0.5-2.2h0m5.1 3.5h0m1.5-3h0m0.7-1.1h0m25-0.7h0m0.9 0.5h0m22 5.4h0m1.9-3.2h0m6.5 0.1h0m4.4 1.5h0m0.6 0.8h0m3.4-2.6h0m4 2.6h0m1.1-2h0m0-0.5h0m0.7-0.8h0m0.7 2.7h0m1.5-1.7h0m2-1.1h0m2.2-0.3h0m0.1 2.3h0m0.7-0.4h0m3.9 1.9h0m-9.3 1h0m0.8 0.5h0m0.7 2.1h0m-90.4 4.4h0m15.9 3.8h0m13.1 0.3h0m8.2-1.6h0m0.9-0.9h0m1.1 1.9h0m0.2-0.5h0m3.7-1.4h0m1.6 0.8h0m3.1-0.7h0m0.8 0.5h0m0.3 0.6h0m15.3 1.1h0m9.7-0.3h0m22.6 0.3h0m0.3 0.2h0m0.7-5.1h0m1.4 2.9h0m0-1.1h0m0.2 3h0m0.1-2.3h0m-96.5 6.4h0m2.3-0.8h0m3.5-0.6h0m2.1 0h0m3.7-0.7h0m2.7 0.8h0m0 0.1h0m17.2-1.3h0m7.7 3.9h0m4.4-1.9h0m0.2 2.1h0m0.1-3.8h0m0 2.5h0m1.3-2.5h0m1.2-0.9h0m0 5.3h0m2.3 0.2h0m1.9-5.6h0m0.9 5.3h0m0.3-3.6h0m0.6 0.4h0m0.6 0.8h0m10.5-0.4h0m2.8 2.4h0m3.3-2.8h0m1.6 1.8h0m6.2-1.5h0m1.7 2h0m17.2-2.7h0m1.2-1.7h0m2.9 4.7h0m0.9-1.3h0m-94.8 6.7h0m0.3-3.2h0m15.9 1.1h0m17.8 1.1h0m3.9-0.6h0m0.5-2.3h0m3.4 1.1h0m1.3 4.7h0m1.6-4.2h0m0.7-1.4h0m0 0.8h0m1.6 0.7h0m6.7-1h0m1.3 4.2h0m0.8-3.2h0m1.6 0.8h0m2.3 3.2h0m1.7-2.6h0m3.9-1.3h0m4.7-0.1h0m2.6 0.4h0m1.8 3.7h0m6.5-0.7h0m1.7-1.8h0m12.8-2.5h0m0.9 3.7h0m-105.4 7.2h0m40.4-0.8h0m0.8-0.3h0m1.1-1.3h0m0-0.9h0m1.5-2.2h0m0.7 1.9h0m3.6 0.7h0m1.3-1.9h0m0.3 0.4h0m1.2 0h0m0.5 3.7h0m0.7-1.4h0m8.4 1h0m1.1-4.5h0m0.1 2.4h0m0.3-1.1h0m0.4 0.5h0m1.7-1.9h0m0.4 4.8h0m7.1-2.9h0m0.9 0.1h0m1.2-0.9h0m5 1.7h0m0.1 0.2h0m3.1-0.9h0m3.7 0.4h0m1.2 1.7h0m9.4 1h0m0.8-1.3h0m3.9 1h0m2.7-4.9h0m0.7 0.1h0m1.3 1.2h0m-103.2 7.5h0m26.7 0.8h0m13.5-1.4h0m0-0.2h0m1 2.9h0m0.9-2.4h0m1.3 2.3h0m0.2-4.3h0m1.3 1.8h0m0.3 2.2h0m0.4-2.3h0m0 0.6h0m0.4-0.8h0m0.6 3.8h0m0.3-3.7h0m2.6 2.5h0m0.1 1h0m7.2-1.7h0m0.7-0.6h0m0.9 0.6h0m0.7-2.1h0m0.7 2.7h0m1.2 0.4h0m0.8-3.8h0m2.5 2.3h0m0.6-1.9h0m6.1-1.3h0m0.9-0.4h0m2.9 1.4h0m3.2 0.9h0m3.8-1.1h0m1.3 1.7h0m1.5-0.2h0m5.2-0.1h0m2.2-1.2h0m0.1-0.7h0m4.5 2.4h0m0.1 1.5h0m0-0.7h0m1.8-3.4h0m1.3 1.8h0m4.4 3h0m0.9-4.9h0m2.7 4.8h0m0.2 0h0m1.7-4.9h0m4.9 0.5h0m-115.9 8.6h0m0.1-3.1h0m5.9 1.2h0m1.4-1.3h0m1.8 3.1h0m14.7-2.7h0m18 5h0m0.2-5.4h0m0.8 1.5h0m0.2 1.8h0m1.8 2.1h0m0.3-5.1h0m0.1 2.9h0m4.7-1.3h0m0.4 0.1h0m0.9-1.4h0m8.1 1.7h0m0.8-1.8h0m1.6 0.7h0m1.7 1.7h0m0.6 0.4h0m2.8 0.3h0m2.1 0.5h0m1-0.1h0m1.9 1h0m2.6-0.9h0m0.8-3.6h0m1.5 2.5h0m1.9 2.6h0m1.7-1.8h0m0.1-0.6h0m1 2.1h0m0.4-5.3h0m2 0.5h0m0.4 2.5h0m1.2-2.3h0m14.9 0.4h0m4 1.7h0m0.8 1.9h0m0.6-2.4h0m6.5 0.5h0m-78.7 7h0m8.2 0.5h0m0.2-4.3h0m1.2 5.2h0m0.8-1.2h0m3.2-3.3h0m0.3 4.6h0m1.6-5.4h0m0.2 1.4h0m0.3-0.1h0m7.5 3.1h0m0.9 0.7h0m0.2 0.6h0m0-1.2h0m1.4-2.1h0m5.6 2h0m0.8-0.3h0m0.4-2.3h0m1 1.6h0m1-2.3h0m0.8 1.9h0m2.6-2.9h0m0.9 2.9h0m1.1-1.7h0m2.1 4.6h0m3.3-3.3h0m2.1-2.2h0m5.1 2.9h0m0.5 2.5h0m1.6-0.3h0m0.1 0.2h0m12.8-3.6h0m12.1 0.8h0m0.2-0.4h0m0.2 1.3h0m0.2-0.3h0m0.5 0.5h0m-114.6 6.5h0m4.9-2.4h0m24.6-1.8h0m12.8 0.5h0m4.5 3.8h0m2.9-0.9h0m0.7-2h0m0.2 3.6h0m5.4-0.9h0m2.4-2.1h0m0.6-1.6h0m0.3 1h0m4-1.4h0m1.8 5.4h0m1.6-5h0m7.7 0.5h0m1.8-0.7h0m0.9 3.5h0m0.3-2.5h0m0 3.6h0m1.6 0.7h0m0.9-2h0m0.2-3.8h0m0.4 3.4h0m3.2 1h0m0.7-0.3h0m0.5 1.1h0m0.8-1.7h0m2.3 0.1h0m0 1.4h0m0.4-1.7h0m1.3-1.8h0m24.8 1.7h0m0.2-2.8h0m-69.6 10.7h0m1.8-2h0m2.1 1.1h0m1.8 1.5h0m0.1-1.5h0m0.2-3.6h0m1.7 1h0m0.8 4h0m0.9-1.3h0m0.9-1.8h0m2.6 3.3h0m0-1.5h0m1.6-0.6h0m8.6 1h0m1.6-3.9h0m1.5 2h0m9.2 0h0m1.2 0.2h0m3.2 1.8h0m2.6-3.7h0m27.4 0.3h0m0.2 0.4h0m2 2.8h0m1.1-4.4h0m-75.4 9.7h0m3.1-2.3h0m4.6 0.4h0m2.4 1h0m2.8 2.2h0m3.2-5.2h0m3.7 4.8h0m0.3 0.2h0m1.3-4.8h0m1.2 4.4h0m0.2-1.8h0m1.1-2.6h0m0.2 1.5h0m0.4 2.6h0m0.1-0.8h0m0.6 1.7h0m0.4-2.6h0m0.3 0.6h0m0.6-2.6h0m2.2 3.7h0m1 0h0m5.5 0.8h0m1.1-0.1h0m0.6 0h0m1.4-4.2h0m0.8 2.3h0m1.8-2.5h0m0.2 3.3h0m0.2-2.3h0m0.3 3h0m34.3 0.5h0m1.5 0.6h0m-116.9 1.3h0m36.5 4.5h0m2.5-4.2h0m3 3.7h0m3.5-2.3h0m0.3-2.1h0m3.9 3.9h0m1.2-1.1h0m1.3 2h0m9.5-1.8h0m1 1.6h0m1.5-4.6h0m0.4 1.4h0m2.6-0.5h0m2.3 0.8h0m4.7-1.6h0m0.1 3.3h0m0-0.6h0m0.2 0.7h0m3.2-0.7h0m1.6-2.9h0m0.4 2.2h0m0.1-0.9h0m27.6-0.1h0m5.5-1.1h0m1.8 0.5h0m0.4 3.9h0m1-3.1h0m-116.4 6.6h0m0.4-0.5h0m3.8 1.2h0m2.2-1.6h0m3 3.5h0m6.6-0.8h0m19.7-1.2h0m4.2 0.8h0m0.2 1.6h0m7.6-1.8h0m5.8-1.3h0m1.4-2h0m1.3 2.1h0m1 3.4h0m1.2-2.9h0m0.4-0.1h0m3-1.7h0m32.7 0.4h0m-93.1 7h0m33.5-2.1h0m2-0.3h0m1.2 3.5h0m1.2-1.5h0m3.2 1.9h0m0.9 0.9h0m0.2-5.1h0m1 4.2h0m5.4 0.2h0m0.7-2.5h0m0 0.3h0m1 2.5h0m3.1-2.4h0m0.8 0.3h0m0.6-1.6h0m0.8 0.4h0m32 4.1h0m18.9 0.3h0m6.3-0.6h0m0.4-1.8h0m0.5 1.5h0m-111.3 5.4h0m31.8-1.6h0m3.5 3h0m4-0.7h0m1.8-2.2h0m1.9 1.2h0m1.2-3.3h0m0.2 2.8h0m2.6-0.6h0m0.3 1.5h0m1.3-3.3h0m0.2 1.9h0m0.1 0.8h0m44.6-3.4h0m1.3 2.3h0m1.5 0.6h0m13.4-1.2h0m0.4 2.1h0m0.8-3.7h0m-116.7 10.3h0m3.8-2.4h0m7.7-0.4h0m1.3 3.3h0m16.3-1.5h0m4.3 0.8h0m2.8-0.2h0m1-0.3h0m0.7-3.8h0m1 2.3h0m2 0.5h0m3.7-2.6h0m0.8 2.8h0m2.4 2.3h0m0.2 0.3h0m1-2h0m1.1-3.1h0m2.1 0.3h0m0.6 0.5h0m3.9 1.8h0m33.4-0.5h0m23.4 1.7h0m0.5-1.9h0m0.7 0.1h0m-116.3 4.7h0m6.5 1.5h0m0.1 0h0m2.8-0.1h0m5.1-1.7h0m0.2 2.3h0m0.5 1.3h0m1.6 0.9h0m0.1-0.1h0m0.6-5.6h0m3.6 5.6h0m0.5-1h0m0.7 0.9h0m10.6-4.6h0m0.4 1.8h0m0.9 0.8h0m0.3-1.2h0m1.6 3h0m1.2-4.1h0m1.2 2.4h0m0.4-2.1h0m0.9 3.5h0m3.8-0.2h0m1.7-4.6h0m1.1 1.3h0m0 0.4h0m67.4 2.4h0m0.3 0.9h0m0.1-0.8h0m0.9-0.6h0m-96.7 2.3h0m2.4 2.5h0m1.2-1.2h0m5.4 0.7h0m1 0.3h0m0 0.1h0m3.8-0.3h0m0.6 0.3h0m1.2-1.2h0m1.3 0.7h0m4.2-0.8h0m42.1 4.7h0m31.2-0.3h0m0.3-2.5h0m0.8 1.4h0m3.3-2.8h0m-45.2 5.5h0m23.6 0.4h0m4.9 3.5h0m3.5-4.4h0m2.3 4.4h0m4.2-1.1h0m0 0.9h0m2.6-3.7h0m0.4 4.8h0m-44.5 2h0m31 1.7h0m1.7-1.1h0m0.7 1h0m0.4-2.6h0m1.5 0.8h0m0.4-0.9h0m-43.5 6.2h0m25.1 3.3h0m4.2 0.7h0m0.1-1.7h0m3.2-1.6h0m-51 6.2h0m2.2 3.2h0m23.8 0.5h0m4.5-0.5h0m4.5-2.2h0m0.1-0.8h0m4.8 3.4h0m4.2-5.5h0m-27.6 11.1h0m1.1-1.2h0m0.7-0.4h0m3.1 0.6h0m-61.4 7.7h0m1.9-0.6h0m2 0h0m0.4 0.2h0m2.8-0.1h0m42.5 0.5h0m1.9-2.4h0m1.9-1.3h0m1.4-2h0m-54.4 8.6h0m1 3.2h0m0.1-2h0m0.3-0.5h0m2.3-2.6h0m5.7 0.6h0m0.5 2.4h0m1.9 0.6h0m4.7-2h0m16.4 3.2h0m3.3-0.7h0m2.7 0h0m3.5-1.3h0m0.6-0.9h0m0.8-0.3h0m1.8-1.8h0m0.3 0.9h0m-49.3 8.6h0m5.6 1.6h0m6.2-4.5h0m3.4 2.1h0m4-0.4h0m0.9-2.6h0m0.5 3.6h0m0-4h0m1.5 0.4h0m1.5 4.9h0m0.4-3h0m12.5 3.6h0m1.2-0.6h0m1.4-4.6h0m0.7 1.1h0m1.2 1.1h0m-34.4 8.4h0m5.5-2.5h0m2.9 1.9h0m3.7 1.2h0m2.4-1.1h0m0.3-1.6h0m25.3-0.8h0m-44.5 4.5h0m3.2 2h0m3.2 1.3h0m1.6-1.6h0m0.2 2.5h0m2.3 0.5h0m1.4-2.1h0m0.2-2.7h0m0.9 0.5h0m5.4-0.2h0m4.4 2.5h0m2.3 0.2h0m4.4-3.2h0m-31.6 8.6h0m0.7 1.3h0m6.5 1.3h0m1.4-1.2h0m2.3 0.2h0m0-0.9h0m3.4-3.1h0m1.5-0.6h0m4 4.4h0m2.6-1.8h0m3-2.3h0m-19.9 5.7h0m0.4 1.8h0m0.3 3.9h0m1.3-2.3h0m0.6 2.3h0m0.5-2.9h0m0.7-2.1h0m0.7 0.2h0m6.2 3.1h0m0.7-3.2h0m0.1 0h0m2.1 1.2h0m-19.5 6.4h0m1-0.2h0m2.1-1.6h0m6.2 2.8h0m1.7-0.8h0m-5.8 6.1h0m0.5 0.7h0m0.2 0.5h0m-4 2.1h0" stroke="#000" stroke-width="2.4" stroke-linecap="round" fill="none"/>
<g stroke="#c0c0c0" stroke-width="0.8" stroke-dasharray="3,5" fill="none">
<line x1="0" y1="72.3" x2="348" y2="72.3"/>
<line x1="0" y1="143.8" x2="348" y2="143.8"/>
<line x1="0" y1="216" x2="348" y2="216"/>
<line x1="0" y1="287" x2="348" y2="287"/>
<line x1="0" y1="357.2" x2="348" y2="357.2"/>
<line x1="58" y1="0" x2="58" y2="427.6"/>
<line x1="116" y1="0" x2="116" y2="427.6"/>
<line x1="174" y1="0" x2="174" y2="427.6"/>
<line x1="232" y1="0" x2="232" y2="427.6"/>
<line x1="290" y1="0" x2="290" y2="427.6"/>
</g>
<g stroke="#555" stroke-width="0.8">
<line x1="0" y1="72.3" x2="4" y2="72.3"/><line x1="344" y1="72.3" x2="348" y2="72.3"/>
<line x1="0" y1="143.8" x2="4" y2="143.8"/><line x1="344" y1="143.8" x2="348" y2="143.8"/>
<line x1="0" y1="216" x2="4" y2="216"/><line x1="344" y1="216" x2="348" y2="216"/>
<line x1="0" y1="287" x2="4" y2="287"/><line x1="344" y1="287" x2="348" y2="287"/>
<line x1="0" y1="357.2" x2="4" y2="357.2"/><line x1="344" y1="357.2" x2="348" y2="357.2"/>
<line x1="58" y1="0" x2="58" y2="4"/><line x1="58" y1="423.6" x2="58" y2="427.6"/>
<line x1="116" y1="0" x2="116" y2="4"/><line x1="116" y1="423.6" x2="116" y2="427.6"/>
<line x1="174" y1="0" x2="174" y2="4"/><line x1="174" y1="423.6" x2="174" y2="427.6"/>
<line x1="232" y1="0" x2="232" y2="4"/><line x1="232" y1="423.6" x2="232" y2="427.6"/>
<line x1="290" y1="0" x2="290" y2="4"/><line x1="290" y1="423.6" x2="290" y2="427.6"/>
</g>
<g shape-rendering="crispEdges"><path fill="#0000e1" d="M67.7 -1.1h23.2v8.1h-23.2zM98.3 -1.1h38.5v8.1h-38.5zM197.6 -1.1h7.9v8.1h-7.9zM228.2 -1.1h7.9v8.1h-7.9zM312.2 -1.1h7.9v8.1h-7.9zM327.5 -1.1h15.6v8.1h-15.6zM75.4 6.7h15.6v8.1h-15.6zM98.3 6.7h15.6v8.1h-15.6zM121.2 6.7h23.2v8.1h-23.2zM228.2 6.7h7.9v8.1h-7.9zM327.5 6.7h7.9v8.1h-7.9zM83 14.5h7.9v8.1h-7.9zM128.8 14.5h7.9v8.1h-7.9zM67.7 22.3h7.9v8.1h-7.9zM83 22.3h7.9v8.1h-7.9zM98.3 22.3h7.9v8.1h-7.9zM128.8 22.3h15.6v8.1h-15.6zM335.1 22.3h7.9v8.1h-7.9zM67.7 30.1h15.6v8.1h-15.6zM90.6 30.1h15.6v8.1h-15.6zM113.6 30.1h7.9v8.1h-7.9zM136.5 30.1h7.9v8.1h-7.9zM327.5 30.1h7.9v8.1h-7.9zM342.8 30.1h7.9v8.1h-7.9zM67.7 37.9h7.9v8.1h-7.9zM90.6 37.9h23.2v8.1h-23.2zM121.2 37.9h7.9v8.1h-7.9zM136.5 37.9h7.9v8.1h-7.9zM335.1 37.9h15.6v8.1h-15.6zM75.4 45.7h7.9v8.1h-7.9zM105.9 45.7h7.9v8.1h-7.9zM319.8 45.7h15.6v8.1h-15.6zM342.8 45.7h7.9v8.1h-7.9zM83 53.5h7.9v8.1h-7.9zM105.9 53.5h7.9v8.1h-7.9zM128.8 53.5h7.9v8.1h-7.9zM335.1 53.5h7.9v8.1h-7.9zM105.9 61.3h7.9v8.1h-7.9zM128.8 61.3h7.9v8.1h-7.9zM342.8 61.3h7.9v8.1h-7.9zM90.6 69.1h7.9v8.1h-7.9zM105.9 69.1h7.9v8.1h-7.9zM121.2 69.1h7.9v8.1h-7.9zM182.3 69.1h15.6v8.1h-15.6zM113.6 76.9h7.9v8h-7.9zM128.8 76.9h7.9v8h-7.9zM167 76.9h15.6v8h-15.6zM90.6 84.6h15.6v8h-15.6zM113.6 84.6h7.9v8h-7.9zM128.8 84.6h7.9v8h-7.9zM90.6 92.3h23.2v8h-23.2zM121.2 92.3h15.6v8h-15.6zM174.7 92.3h15.6v8h-15.6zM105.9 100h23.2v8h-23.2zM121.2 107.7h15.6v8h-15.6zM121.2 115.4h7.9v8h-7.9zM128.8 123.2h7.9v8h-7.9zM304.6 123.2h7.9v8h-7.9zM319.8 123.2h7.9v8h-7.9zM304.6 130.9h15.6v8h-15.6zM296.9 138.6h7.9v8h-7.9zM289.3 146.3h7.9v8.1h-7.9zM121.2 154.1h7.9v8.1h-7.9zM281.6 154.1h15.6v8.1h-15.6zM258.7 169.7h15.6v8.1h-15.6zM296.9 169.7h7.9v8.1h-7.9zM319.8 169.7h15.6v8.1h-15.6zM243.4 177.5h15.6v8.1h-15.6zM319.8 177.5h15.6v8.1h-15.6zM327.5 185.3h15.6v8.1h-15.6zM243.4 193.1h7.9v8.1h-7.9zM274 193.1h7.9v8.1h-7.9zM304.6 193.1h15.6v8.1h-15.6zM327.5 193.1h7.9v8.1h-7.9zM243.4 200.9h7.9v8.1h-7.9zM312.2 200.9h15.6v8.1h-15.6zM289.3 208.7h7.9v8.1h-7.9zM289.3 216.5h15.6v8h-15.6zM327.5 216.5h23.2v8h-23.2zM266.4 224.1h7.9v8h-7.9zM304.6 224.1h7.9v8h-7.9zM327.5 224.1h23.2v8h-23.2zM289.3 231.8h7.9v8h-7.9zM312.2 231.8h7.9v8h-7.9zM251.1 239.4h15.6v8h-15.6zM274 239.4h15.6v8h-15.6zM304.6 239.4h15.6v8h-15.6zM327.5 239.4h7.9v8h-7.9zM251.1 247.1h7.9v8h-7.9zM266.4 247.1h7.9v8h-7.9zM281.6 247.1h7.9v8h-7.9zM243.4 254.8h23.2v8h-23.2zM274 254.8h7.9v8h-7.9zM289.3 254.8h15.6v8h-15.6zM327.5 254.8h7.9v8h-7.9zM105.9 262.4h7.9v8h-7.9zM243.4 262.4h23.2v8h-23.2zM274 262.4h7.9v8h-7.9zM289.3 262.4h15.6v8h-15.6zM105.9 270.1h7.9v8h-7.9zM220.5 270.1h30.9v8h-30.9zM258.7 270.1h15.6v8h-15.6zM296.9 270.1h7.9v8h-7.9zM319.8 270.1h30.9v8h-30.9zM98.3 277.8h7.9v8h-7.9zM228.2 277.8h7.9v8h-7.9zM243.4 277.8h7.9v8h-7.9zM258.7 277.8h23.2v8h-23.2zM296.9 277.8h7.9v8h-7.9zM319.8 277.8h15.6v8h-15.6zM342.8 277.8h7.9v8h-7.9zM289.3 285.4h7.9v7.9h-7.9zM319.8 285.4h7.9v7.9h-7.9zM98.3 293h7.9v7.9h-7.9zM281.6 293h7.9v7.9h-7.9zM296.9 293h7.9v7.9h-7.9zM327.5 293h7.9v7.9h-7.9zM342.8 293h7.9v7.9h-7.9zM289.3 300.6h7.9v7.9h-7.9zM98.3 315.7h7.9v7.9h-7.9zM266.4 323.3h7.9v7.9h-7.9zM167 353.6h7.9v7.9h-7.9zM197.6 353.6h15.6v7.9h-15.6zM90.6 368.8h7.9v7.9h-7.9zM190 368.8h23.2v7.9h-23.2zM90.6 376.4h7.9v7.9h-7.9zM90.6 384h15.6v7.9h-15.6zM197.6 384h7.9v7.9h-7.9zM90.6 391.6h7.9v7.9h-7.9zM113.6 391.6h7.9v7.9h-7.9zM190 391.6h15.6v7.9h-15.6zM113.6 399.2h15.6v7.9h-15.6zM136.5 406.8h7.9v7.9h-7.9zM128.8 422h7.9v7.9h-7.9z"/><path fill="#0012ff" d="M90.6 -1.1h7.9v8.1h-7.9zM212.9 6.7h7.9v8.1h-7.9zM342.8 6.7h7.9v8.1h-7.9zM75.4 14.5h7.9v8.1h-7.9zM121.2 30.1h7.9v8.1h-7.9zM319.8 30.1h7.9v8.1h-7.9zM327.5 37.9h7.9v8.1h-7.9zM83 45.7h7.9v8.1h-7.9zM98.3 45.7h7.9v8.1h-7.9zM113.6 45.7h7.9v8.1h-7.9zM75.4 53.5h7.9v8.1h-7.9zM136.5 53.5h7.9v8.1h-7.9zM75.4 61.3h7.9v8.1h-7.9zM327.5 61.3h7.9v8.1h-7.9zM190 76.9h7.9v8h-7.9zM342.8 76.9h7.9v8h-7.9zM121.2 84.6h7.9v8h-7.9zM167 84.6h7.9v8h-7.9zM190 92.3h7.9v8h-7.9zM327.5 92.3h7.9v8h-7.9zM136.5 100h7.9v8h-7.9zM151.8 100h7.9v8h-7.9zM312.2 100h15.6v8h-15.6zM296.9 107.7h7.9v8h-7.9zM335.1 107.7h7.9v8h-7.9zM296.9 115.4h7.9v8h-7.9zM312.2 115.4h7.9v8h-7.9zM121.2 123.2h7.9v8h-7.9zM289.3 123.2h7.9v8h-7.9zM342.8 123.2h7.9v8h-7.9zM128.8 130.9h15.6v8h-15.6zM327.5 130.9h15.6v8h-15.6zM121.2 138.6h15.6v8h-15.6zM304.6 138.6h15.6v8h-15.6zM342.8 138.6h7.9v8h-7.9zM121.2 146.3h7.9v8.1h-7.9zM136.5 146.3h7.9v8.1h-7.9zM274 146.3h15.6v8.1h-15.6zM327.5 146.3h15.6v8.1h-15.6zM296.9 154.1h30.9v8.1h-30.9zM128.8 161.9h15.6v8.1h-15.6zM243.4 161.9h15.6v8.1h-15.6zM274 161.9h7.9v8.1h-7.9zM289.3 161.9h7.9v8.1h-7.9zM304.6 161.9h7.9v8.1h-7.9zM335.1 161.9h15.6v8.1h-15.6zM121.2 169.7h15.6v8.1h-15.6zM235.8 169.7h15.6v8.1h-15.6zM335.1 169.7h15.6v8.1h-15.6zM128.8 177.5h7.9v8.1h-7.9zM235.8 177.5h7.9v8.1h-7.9zM296.9 177.5h7.9v8.1h-7.9zM312.2 177.5h7.9v8.1h-7.9zM342.8 177.5h7.9v8.1h-7.9zM136.5 185.3h7.9v8.1h-7.9zM235.8 185.3h7.9v8.1h-7.9zM274 185.3h15.6v8.1h-15.6zM312.2 185.3h7.9v8.1h-7.9zM342.8 185.3h7.9v8.1h-7.9zM258.7 193.1h15.6v8.1h-15.6zM296.9 193.1h7.9v8.1h-7.9zM258.7 200.9h7.9v8.1h-7.9zM281.6 200.9h15.6v8.1h-15.6zM335.1 200.9h7.9v8.1h-7.9zM228.2 208.7h7.9v8.1h-7.9zM281.6 208.7h7.9v8.1h-7.9zM342.8 208.7h7.9v8.1h-7.9zM251.1 216.5h15.6v8h-15.6zM220.5 224.1h15.6v8h-15.6zM258.7 224.1h7.9v8h-7.9zM289.3 224.1h7.9v8h-7.9zM212.9 231.8h15.6v8h-15.6zM235.8 231.8h15.6v8h-15.6zM144.1 239.4h7.9v8h-7.9zM342.8 247.1h7.9v8h-7.9zM228.2 254.8h7.9v8h-7.9zM220.5 262.4h7.9v8h-7.9zM235.8 262.4h7.9v8h-7.9zM167 270.1h7.9v8h-7.9zM182.3 270.1h7.9v8h-7.9zM205.2 270.1h7.9v8h-7.9zM251.1 270.1h7.9v8h-7.9zM205.2 277.8h15.6v8h-15.6zM105.9 285.4h7.9v7.9h-7.9zM205.2 285.4h7.9v7.9h-7.9zM258.7 285.4h7.9v7.9h-7.9zM304.6 285.4h7.9v7.9h-7.9zM342.8 285.4h7.9v7.9h-7.9zM205.2 293h7.9v7.9h-7.9zM251.1 293h7.9v7.9h-7.9zM266.4 293h15.6v7.9h-15.6zM205.2 300.6h15.6v7.9h-15.6zM266.4 300.6h7.9v7.9h-7.9zM251.1 308.2h7.9v7.9h-7.9zM220.5 315.7h7.9v7.9h-7.9zM243.4 315.7h7.9v7.9h-7.9zM190 323.3h7.9v7.9h-7.9zM243.4 323.3h7.9v7.9h-7.9zM220.5 330.9h7.9v7.9h-7.9zM235.8 330.9h7.9v7.9h-7.9zM167 346h7.9v7.9h-7.9zM212.9 346h15.6v7.9h-15.6zM159.4 353.6h7.9v7.9h-7.9zM212.9 353.6h15.6v7.9h-15.6zM98.3 368.8h7.9v7.9h-7.9zM212.9 384h7.9v7.9h-7.9zM128.8 391.6h7.9v7.9h-7.9zM205.2 391.6h7.9v7.9h-7.9zM105.9 399.2h7.9v7.9h-7.9zM128.8 399.2h7.9v7.9h-7.9zM144.1 399.2h15.6v7.9h-15.6zM197.6 406.8h7.9v7.9h-7.9zM128.8 414.4h7.9v7.9h-7.9zM121.2 422h7.9v7.9h-7.9zM159.4 422h7.9v7.9h-7.9z"/><path fill="#0002ff" d="M136.5 -1.1h7.9v8.1h-7.9zM220.5 6.7h7.9v8.1h-7.9zM335.1 6.7h7.9v8.1h-7.9zM113.6 22.3h7.9v8.1h-7.9zM342.8 22.3h7.9v8.1h-7.9zM128.8 30.1h7.9v8.1h-7.9zM83 37.9h7.9v8.1h-7.9zM113.6 37.9h7.9v8.1h-7.9zM90.6 45.7h7.9v8.1h-7.9zM312.2 53.5h7.9v8.1h-7.9zM342.8 53.5h7.9v8.1h-7.9zM113.6 61.3h7.9v8.1h-7.9zM174.7 69.1h7.9v8.1h-7.9zM342.8 69.1h7.9v8.1h-7.9zM83 76.9h7.9v8h-7.9zM190 84.6h7.9v8h-7.9zM144.1 100h7.9v8h-7.9zM159.4 100h7.9v8h-7.9zM144.1 107.7h7.9v8h-7.9zM319.8 107.7h15.6v8h-15.6zM136.5 123.2h7.9v8h-7.9zM335.1 123.2h7.9v8h-7.9zM281.6 130.9h7.9v8h-7.9zM296.9 130.9h7.9v8h-7.9zM342.8 130.9h7.9v8h-7.9zM312.2 146.3h7.9v8.1h-7.9zM327.5 154.1h7.9v8.1h-7.9zM266.4 161.9h7.9v8.1h-7.9zM296.9 161.9h7.9v8.1h-7.9zM281.6 169.7h7.9v8.1h-7.9zM121.2 177.5h7.9v8.1h-7.9zM266.4 177.5h7.9v8.1h-7.9zM121.2 185.3h7.9v8.1h-7.9zM289.3 185.3h7.9v8.1h-7.9zM319.8 185.3h7.9v8.1h-7.9zM235.8 193.1h7.9v8.1h-7.9zM251.1 193.1h7.9v8.1h-7.9zM289.3 193.1h7.9v8.1h-7.9zM319.8 193.1h7.9v8.1h-7.9zM235.8 200.9h7.9v8.1h-7.9zM266.4 200.9h7.9v8.1h-7.9zM342.8 200.9h7.9v8.1h-7.9zM258.7 208.7h23.2v8.1h-23.2zM304.6 208.7h7.9v8.1h-7.9zM327.5 208.7h7.9v8.1h-7.9zM220.5 216.5h7.9v8h-7.9zM274 216.5h7.9v8h-7.9zM304.6 216.5h7.9v8h-7.9zM212.9 224.1h7.9v8h-7.9zM258.7 231.8h7.9v8h-7.9zM281.6 231.8h7.9v8h-7.9zM304.6 231.8h7.9v8h-7.9zM319.8 231.8h7.9v8h-7.9zM144.1 247.1h7.9v8h-7.9zM228.2 247.1h7.9v8h-7.9zM243.4 247.1h7.9v8h-7.9zM274 247.1h7.9v8h-7.9zM296.9 247.1h7.9v8h-7.9zM312.2 247.1h7.9v8h-7.9zM304.6 254.8h23.2v8h-23.2zM281.6 262.4h7.9v8h-7.9zM319.8 262.4h15.6v8h-15.6zM212.9 270.1h7.9v8h-7.9zM304.6 270.1h7.9v8h-7.9zM220.5 277.8h7.9v8h-7.9zM235.8 277.8h7.9v8h-7.9zM281.6 277.8h7.9v8h-7.9zM312.2 277.8h7.9v8h-7.9zM220.5 285.4h7.9v7.9h-7.9zM251.1 285.4h7.9v7.9h-7.9zM335.1 285.4h7.9v7.9h-7.9zM212.9 293h7.9v7.9h-7.9zM212.9 308.2h7.9v7.9h-7.9zM289.3 308.2h7.9v7.9h-7.9zM105.9 315.7h7.9v7.9h-7.9zM228.2 315.7h7.9v7.9h-7.9zM220.5 323.3h7.9v7.9h-7.9zM251.1 323.3h15.6v7.9h-15.6zM190 330.9h7.9v7.9h-7.9zM151.8 346h7.9v7.9h-7.9zM197.6 361.2h7.9v7.9h-7.9zM212.9 361.2h7.9v7.9h-7.9zM197.6 376.4h7.9v7.9h-7.9zM220.5 376.4h7.9v7.9h-7.9zM121.2 391.6h7.9v7.9h-7.9zM90.6 399.2h7.9v7.9h-7.9zM190 399.2h7.9v7.9h-7.9zM144.1 406.8h7.9v7.9h-7.9zM136.5 422h7.9v7.9h-7.9z"/><path fill="#0000c0" d="M144.1 -1.1h7.9v8.1h-7.9zM90.6 14.5h15.6v8.1h-15.6zM113.6 14.5h7.9v8.1h-7.9zM90.6 22.3h7.9v8.1h-7.9zM105.9 22.3h7.9v8.1h-7.9zM136.5 45.7h7.9v8.1h-7.9zM182.3 76.9h7.9v8h-7.9zM128.8 115.4h7.9v8h-7.9zM289.3 130.9h7.9v8h-7.9zM289.3 138.6h7.9v8h-7.9zM136.5 169.7h7.9v8.1h-7.9zM251.1 169.7h7.9v8.1h-7.9zM296.9 208.7h7.9v8.1h-7.9zM319.8 216.5h7.9v8h-7.9zM274 231.8h7.9v8h-7.9zM342.8 231.8h7.9v8h-7.9zM335.1 239.4h15.6v8h-15.6zM258.7 247.1h7.9v8h-7.9zM319.8 247.1h15.6v8h-15.6zM266.4 254.8h7.9v8h-7.9zM342.8 254.8h7.9v8h-7.9zM335.1 262.4h7.9v8h-7.9zM304.6 277.8h7.9v8h-7.9zM312.2 285.4h7.9v7.9h-7.9zM327.5 285.4h7.9v7.9h-7.9zM335.1 293h7.9v7.9h-7.9zM98.3 300.6h7.9v7.9h-7.9zM182.3 330.9h7.9v7.9h-7.9zM159.4 346h7.9v7.9h-7.9zM98.3 376.4h7.9v7.9h-7.9zM98.3 391.6h7.9v7.9h-7.9z"/><path fill="#a8ff57" d="M151.8 -1.1h7.9v8.1h-7.9zM205.2 6.7h7.9v8.1h-7.9zM205.2 45.7h7.9v8.1h-7.9zM243.4 146.3h7.9v8.1h-7.9zM174.7 216.5h7.9v8h-7.9zM190 254.8h7.9v8h-7.9zM182.3 346h7.9v7.9h-7.9zM182.3 353.6h7.9v7.9h-7.9zM113.6 376.4h7.9v7.9h-7.9z"/><path fill="#c8ff37" d="M159.4 -1.1h7.9v8.1h-7.9zM197.6 6.7h7.9v8.1h-7.9zM197.6 14.5h7.9v8.1h-7.9zM205.2 76.9h7.9v8h-7.9zM205.2 177.5h7.9v8.1h-7.9z"/><path fill="#f9ff06" d="M167 -1.1h7.9v8.1h-7.9zM174.7 6.7h7.9v8.1h-7.9zM174.7 14.5h7.9v8.1h-7.9zM274 84.6h7.9v8h-7.9zM235.8 146.3h7.9v8.1h-7.9zM197.6 193.1h7.9v8.1h-7.9zM182.3 239.4h7.9v8h-7.9z"/><path fill="#ffb400" d="M174.7 -1.1h7.9v8.1h-7.9zM144.1 6.7h7.9v8.1h-7.9zM251.1 6.7h7.9v8.1h-7.9zM190 22.3h7.9v8.1h-7.9zM167 30.1h7.9v8.1h-7.9zM266.4 84.6h7.9v8h-7.9zM266.4 92.3h7.9v8h-7.9zM182.3 100h7.9v8h-7.9zM258.7 100h7.9v8h-7.9zM190 107.7h7.9v8h-7.9zM182.3 115.4h7.9v8h-7.9zM205.2 115.4h7.9v8h-7.9zM212.9 123.2h7.9v8h-7.9zM243.4 123.2h7.9v8h-7.9zM258.7 123.2h15.6v8h-15.6zM258.7 130.9h7.9v8h-7.9zM197.6 138.6h23.2v8h-23.2zM243.4 138.6h7.9v8h-7.9zM205.2 154.1h7.9v8.1h-7.9zM205.2 193.1h7.9v8.1h-7.9zM205.2 224.1h7.9v8h-7.9zM197.6 247.1h7.9v8h-7.9z"/><path fill="#ffc400" d="M182.3 -1.1h7.9v8.1h-7.9zM167 14.5h7.9v8.1h-7.9zM274 37.9h7.9v8.1h-7.9zM167 107.7h7.9v8h-7.9zM228.2 146.3h7.9v8.1h-7.9zM197.6 154.1h7.9v8.1h-7.9zM190 200.9h7.9v8.1h-7.9zM197.6 208.7h7.9v8.1h-7.9zM182.3 231.8h7.9v8h-7.9zM174.7 247.1h7.9v8h-7.9z"/><path fill="#00f5ff" d="M190 -1.1h7.9v8.1h-7.9zM289.3 45.7h7.9v8.1h-7.9zM266.4 61.3h7.9v8.1h-7.9zM220.5 76.9h7.9v8h-7.9zM159.4 115.4h7.9v8h-7.9zM167 123.2h7.9v8h-7.9zM174.7 161.9h7.9v8.1h-7.9zM159.4 231.8h7.9v8h-7.9zM128.8 262.4h15.6v8h-15.6zM182.3 285.4h7.9v7.9h-7.9zM151.8 338.5h7.9v7.9h-7.9zM121.2 346h7.9v7.9h-7.9zM182.3 361.2h7.9v7.9h-7.9z"/><path fill="#0000d0" d="M205.2 -1.1h7.9v8.1h-7.9zM220.5 -1.1h7.9v8.1h-7.9zM342.8 14.5h7.9v8.1h-7.9zM105.9 30.1h7.9v8.1h-7.9zM121.2 53.5h7.9v8.1h-7.9zM90.6 61.3h15.6v8.1h-15.6zM98.3 69.1h7.9v8.1h-7.9zM128.8 69.1h7.9v8.1h-7.9zM105.9 76.9h7.9v8h-7.9zM121.2 76.9h7.9v8h-7.9zM105.9 84.6h7.9v8h-7.9zM113.6 92.3h7.9v8h-7.9zM151.8 107.7h7.9v8h-7.9zM304.6 107.7h7.9v8h-7.9zM304.6 115.4h7.9v8h-7.9zM296.9 123.2h7.9v8h-7.9zM319.8 130.9h7.9v8h-7.9zM128.8 146.3h7.9v8.1h-7.9zM296.9 146.3h7.9v8.1h-7.9zM128.8 154.1h7.9v8.1h-7.9zM258.7 161.9h7.9v8.1h-7.9zM136.5 177.5h7.9v8.1h-7.9zM281.6 177.5h7.9v8.1h-7.9zM128.8 185.3h7.9v8.1h-7.9zM243.4 185.3h15.6v8.1h-15.6zM281.6 193.1h7.9v8.1h-7.9zM235.8 208.7h7.9v8.1h-7.9zM281.6 216.5h7.9v8h-7.9zM312.2 216.5h7.9v8h-7.9zM296.9 224.1h7.9v8h-7.9zM312.2 224.1h7.9v8h-7.9zM266.4 231.8h7.9v8h-7.9zM296.9 231.8h7.9v8h-7.9zM327.5 231.8h7.9v8h-7.9zM266.4 239.4h7.9v8h-7.9zM289.3 247.1h7.9v8h-7.9zM281.6 254.8h7.9v8h-7.9zM335.1 254.8h7.9v8h-7.9zM304.6 262.4h7.9v8h-7.9zM281.6 270.1h7.9v8h-7.9zM98.3 285.4h7.9v7.9h-7.9zM281.6 285.4h7.9v7.9h-7.9zM190 376.4h7.9v7.9h-7.9zM136.5 399.2h7.9v7.9h-7.9zM121.2 406.8h7.9v7.9h-7.9zM121.2 414.4h7.9v7.9h-7.9z"/><path fill="#0000f1" d="M212.9 -1.1h7.9v8.1h-7.9zM319.8 -1.1h7.9v8.1h-7.9zM342.8 -1.1h7.9v8.1h-7.9zM90.6 6.7h7.9v8.1h-7.9zM113.6 6.7h7.9v8.1h-7.9zM319.8 6.7h7.9v8.1h-7.9zM105.9 14.5h7.9v8.1h-7.9zM121.2 14.5h7.9v8.1h-7.9zM136.5 14.5h7.9v8.1h-7.9zM75.4 22.3h7.9v8.1h-7.9zM121.2 22.3h7.9v8.1h-7.9zM83 30.1h7.9v8.1h-7.9zM335.1 30.1h7.9v8.1h-7.9zM75.4 37.9h7.9v8.1h-7.9zM128.8 37.9h7.9v8.1h-7.9zM121.2 45.7h7.9v8.1h-7.9zM312.2 45.7h7.9v8.1h-7.9zM90.6 53.5h15.6v8.1h-15.6zM83 61.3h7.9v8.1h-7.9zM121.2 61.3h7.9v8.1h-7.9zM83 69.1h7.9v8.1h-7.9zM113.6 69.1h7.9v8.1h-7.9zM167 69.1h7.9v8.1h-7.9zM90.6 76.9h15.6v8h-15.6zM174.7 84.6h7.9v8h-7.9zM319.8 84.6h7.9v8h-7.9zM136.5 92.3h7.9v8h-7.9zM319.8 92.3h7.9v8h-7.9zM98.3 100h7.9v8h-7.9zM128.8 100h7.9v8h-7.9zM304.6 100h7.9v8h-7.9zM342.8 146.3h7.9v8.1h-7.9zM342.8 154.1h7.9v8.1h-7.9zM281.6 161.9h7.9v8.1h-7.9zM319.8 161.9h15.6v8.1h-15.6zM289.3 169.7h7.9v8.1h-7.9zM144.1 177.5h7.9v8.1h-7.9zM258.7 177.5h7.9v8.1h-7.9zM274 177.5h7.9v8.1h-7.9zM289.3 177.5h7.9v8.1h-7.9zM304.6 177.5h7.9v8.1h-7.9zM304.6 185.3h7.9v8.1h-7.9zM335.1 193.1h7.9v8.1h-7.9zM274 200.9h7.9v8.1h-7.9zM296.9 200.9h15.6v8.1h-15.6zM312.2 208.7h7.9v8.1h-7.9zM335.1 208.7h7.9v8.1h-7.9zM228.2 216.5h7.9v8h-7.9zM274 224.1h15.6v8h-15.6zM251.1 231.8h7.9v8h-7.9zM335.1 231.8h7.9v8h-7.9zM136.5 239.4h7.9v8h-7.9zM220.5 239.4h7.9v8h-7.9zM235.8 239.4h15.6v8h-15.6zM319.8 239.4h7.9v8h-7.9zM304.6 247.1h7.9v8h-7.9zM335.1 247.1h7.9v8h-7.9zM228.2 262.4h7.9v8h-7.9zM266.4 262.4h7.9v8h-7.9zM312.2 262.4h7.9v8h-7.9zM342.8 262.4h7.9v8h-7.9zM274 270.1h7.9v8h-7.9zM312.2 270.1h7.9v8h-7.9zM251.1 277.8h7.9v8h-7.9zM335.1 277.8h7.9v8h-7.9zM212.9 285.4h7.9v7.9h-7.9zM243.4 285.4h7.9v7.9h-7.9zM266.4 285.4h15.6v7.9h-15.6zM296.9 285.4h7.9v7.9h-7.9zM289.3 293h7.9v7.9h-7.9zM281.6 300.6h7.9v7.9h-7.9zM98.3 308.2h7.9v7.9h-7.9zM228.2 308.2h7.9v7.9h-7.9zM281.6 308.2h7.9v7.9h-7.9zM98.3 323.3h7.9v7.9h-7.9zM228.2 330.9h7.9v7.9h-7.9zM220.5 338.5h7.9v7.9h-7.9zM205.2 361.2h7.9v7.9h-7.9zM228.2 368.8h7.9v7.9h-7.9zM212.9 376.4h7.9v7.9h-7.9zM205.2 384h7.9v7.9h-7.9zM136.5 391.6h7.9v7.9h-7.9zM190 406.8h7.9v7.9h-7.9z"/><path fill="#0063ff" d="M235.8 -1.1h7.9v8.1h-7.9zM296.9 14.5h7.9v8.1h-7.9zM159.4 61.3h7.9v8.1h-7.9zM182.3 61.3h15.6v8.1h-15.6zM327.5 69.1h7.9v8.1h-7.9zM136.5 84.6h7.9v8h-7.9zM296.9 84.6h7.9v8h-7.9zM335.1 84.6h7.9v8h-7.9zM144.1 130.9h7.9v8h-7.9zM235.8 161.9h7.9v8.1h-7.9zM159.4 169.7h7.9v8.1h-7.9zM228.2 169.7h7.9v8.1h-7.9zM128.8 200.9h7.9v8.1h-7.9zM128.8 216.5h7.9v8h-7.9zM212.9 216.5h7.9v8h-7.9zM243.4 224.1h7.9v8h-7.9zM128.8 239.4h7.9v8h-7.9zM144.1 254.8h7.9v8h-7.9zM113.6 277.8h7.9v8h-7.9zM128.8 277.8h7.9v8h-7.9zM167 277.8h7.9v8h-7.9zM190 277.8h7.9v8h-7.9zM190 293h7.9v7.9h-7.9zM220.5 300.6h7.9v7.9h-7.9zM235.8 300.6h7.9v7.9h-7.9zM128.8 315.7h7.9v7.9h-7.9zM190 315.7h7.9v7.9h-7.9zM121.2 323.3h7.9v7.9h-7.9zM159.4 338.5h7.9v7.9h-7.9zM220.5 361.2h7.9v7.9h-7.9zM144.1 368.8h7.9v7.9h-7.9zM98.3 414.4h7.9v7.9h-7.9zM113.6 414.4h7.9v7.9h-7.9zM105.9 422h7.9v7.9h-7.9z"/><path fill="#00e5ff" d="M243.4 -1.1h7.9v8.1h-7.9zM235.8 14.5h7.9v8.1h-7.9zM312.2 14.5h7.9v8.1h-7.9zM243.4 22.3h7.9v8.1h-7.9zM296.9 30.1h7.9v8.1h-7.9zM174.7 45.7h7.9v8.1h-7.9zM205.2 53.5h7.9v8.1h-7.9zM266.4 53.5h15.6v8.1h-15.6zM205.2 61.3h7.9v8.1h-7.9zM136.5 69.1h15.6v8.1h-15.6zM212.9 69.1h7.9v8.1h-7.9zM228.2 69.1h7.9v8.1h-7.9zM144.1 76.9h7.9v8h-7.9zM212.9 76.9h7.9v8h-7.9zM235.8 76.9h7.9v8h-7.9zM289.3 84.6h7.9v8h-7.9zM144.1 92.3h15.6v8h-15.6zM197.6 92.3h7.9v8h-7.9zM228.2 92.3h7.9v8h-7.9zM281.6 92.3h7.9v8h-7.9zM243.4 100h7.9v8h-7.9zM274 123.2h7.9v8h-7.9zM174.7 138.6h7.9v8h-7.9zM174.7 154.1h7.9v8.1h-7.9zM243.4 154.1h7.9v8.1h-7.9zM167 161.9h7.9v8.1h-7.9zM228.2 161.9h7.9v8.1h-7.9zM174.7 177.5h15.6v8.1h-15.6zM220.5 177.5h7.9v8.1h-7.9zM174.7 185.3h7.9v8.1h-7.9zM167 193.1h7.9v8.1h-7.9zM151.8 216.5h7.9v8h-7.9zM151.8 224.1h15.6v8h-15.6zM159.4 239.4h7.9v8h-7.9zM113.6 247.1h15.6v8h-15.6zM105.9 254.8h15.6v8h-15.6zM167 254.8h7.9v8h-7.9zM212.9 254.8h7.9v8h-7.9zM197.6 262.4h7.9v8h-7.9zM151.8 277.8h15.6v8h-15.6zM144.1 285.4h15.6v7.9h-15.6zM159.4 293h7.9v7.9h-7.9zM174.7 293h7.9v7.9h-7.9zM121.2 300.6h7.9v7.9h-7.9zM121.2 308.2h7.9v7.9h-7.9zM159.4 308.2h7.9v7.9h-7.9zM182.3 308.2h7.9v7.9h-7.9zM151.8 315.7h15.6v7.9h-15.6zM182.3 315.7h7.9v7.9h-7.9zM136.5 330.9h15.6v7.9h-15.6zM128.8 338.5h7.9v7.9h-7.9zM144.1 338.5h7.9v7.9h-7.9zM128.8 346h7.9v7.9h-7.9zM113.6 353.6h7.9v7.9h-7.9zM98.3 361.2h7.9v7.9h-7.9zM113.6 361.2h7.9v7.9h-7.9zM128.8 368.8h7.9v7.9h-7.9zM182.3 368.8h7.9v7.9h-7.9zM128.8 376.4h7.9v7.9h-7.9zM128.8 384h7.9v7.9h-7.9z"/><path fill="#ff2200" d="M251.1 -1.1h7.9v8.1h-7.9zM159.4 6.7h7.9v8.1h-7.9zM212.9 22.3h7.9v8.1h-7.9zM235.8 45.7h7.9v8.1h-7.9zM251.1 107.7h7.9v8h-7.9zM190 115.4h7.9v8h-7.9z"/><path fill="#ff0200" d="M258.7 -1.1h7.9v8.1h-7.9zM190 130.9h7.9v8h-7.9z"/><path fill="#ff1200" d="M266.4 -1.1h7.9v8.1h-7.9zM220.5 14.5h7.9v8.1h-7.9zM289.3 22.3h7.9v8.1h-7.9zM159.4 30.1h7.9v8.1h-7.9zM235.8 30.1h7.9v8.1h-7.9zM281.6 30.1h7.9v8.1h-7.9zM266.4 37.9h7.9v8.1h-7.9zM220.5 45.7h7.9v8.1h-7.9zM251.1 92.3h7.9v8h-7.9zM220.5 107.7h7.9v8h-7.9zM197.6 115.4h7.9v8h-7.9zM243.4 115.4h7.9v8h-7.9zM190 123.2h7.9v8h-7.9z"/><path fill="#b8ff47" d="M274 -1.1h7.9v8.1h-7.9zM182.3 6.7h15.6v8.1h-15.6zM281.6 6.7h7.9v8.1h-7.9zM197.6 22.3h7.9v8.1h-7.9zM258.7 22.3h7.9v8.1h-7.9zM182.3 30.1h15.6v8.1h-15.6zM167 37.9h15.6v8.1h-15.6zM144.1 45.7h7.9v8.1h-7.9zM197.6 69.1h7.9v8.1h-7.9zM205.2 146.3h7.9v8.1h-7.9zM235.8 154.1h7.9v8.1h-7.9zM205.2 208.7h7.9v8.1h-7.9zM205.2 247.1h7.9v8h-7.9zM113.6 346h7.9v7.9h-7.9zM105.9 368.8h7.9v7.9h-7.9z"/><path fill="#88ff77" d="M281.6 -1.1h7.9v8.1h-7.9zM266.4 6.7h15.6v8.1h-15.6zM205.2 22.3h7.9v8.1h-7.9zM274 45.7h7.9v8.1h-7.9zM289.3 61.3h7.9v8.1h-7.9zM197.6 84.6h7.9v8h-7.9zM266.4 130.9h7.9v8h-7.9zM182.3 138.6h7.9v8h-7.9zM258.7 138.6h7.9v8h-7.9zM190 154.1h7.9v8.1h-7.9zM197.6 169.7h7.9v8.1h-7.9zM197.6 177.5h7.9v8.1h-7.9zM212.9 177.5h7.9v8.1h-7.9zM190 193.1h7.9v8.1h-7.9zM182.3 200.9h7.9v8.1h-7.9zM182.3 254.8h7.9v8h-7.9zM197.6 254.8h15.6v8h-15.6zM174.7 308.2h7.9v7.9h-7.9zM159.4 323.3h7.9v7.9h-7.9zM151.8 330.9h7.9v7.9h-7.9zM105.9 346h7.9v7.9h-7.9zM174.7 353.6h7.9v7.9h-7.9zM174.7 361.2h7.9v7.9h-7.9zM105.9 376.4h7.9v7.9h-7.9zM121.2 384h7.9v7.9h-7.9z"/><path fill="#0094ff" d="M289.3 -1.1h7.9v8.1h-7.9zM289.3 6.7h7.9v8.1h-7.9zM312.2 6.7h7.9v8.1h-7.9zM212.9 45.7h7.9v8.1h-7.9zM266.4 45.7h7.9v8.1h-7.9zM197.6 53.5h7.9v8.1h-7.9zM220.5 61.3h7.9v8.1h-7.9zM151.8 69.1h7.9v8.1h-7.9zM335.1 92.3h15.6v8h-15.6zM105.9 107.7h7.9v8h-7.9zM289.3 107.7h7.9v8h-7.9zM258.7 146.3h7.9v8.1h-7.9zM159.4 154.1h7.9v8.1h-7.9zM182.3 161.9h7.9v8.1h-7.9zM182.3 169.7h7.9v8.1h-7.9zM167 177.5h7.9v8.1h-7.9zM136.5 200.9h15.6v8.1h-15.6zM136.5 224.1h15.6v8h-15.6zM121.2 231.8h7.9v8h-7.9zM151.8 231.8h7.9v8h-7.9zM128.8 247.1h7.9v8h-7.9zM121.2 262.4h7.9v8h-7.9zM144.1 262.4h7.9v8h-7.9zM205.2 262.4h7.9v8h-7.9zM121.2 293h7.9v7.9h-7.9zM167 293h7.9v7.9h-7.9zM128.8 300.6h7.9v7.9h-7.9zM151.8 300.6h7.9v7.9h-7.9zM121.2 315.7h7.9v7.9h-7.9zM251.1 338.5h7.9v7.9h-7.9zM190 361.2h7.9v7.9h-7.9zM136.5 384h7.9v7.9h-7.9zM167 384h7.9v7.9h-7.9zM205.2 399.2h7.9v7.9h-7.9zM105.9 414.4h7.9v7.9h-7.9z"/><path fill="#ffa400" d="M151.8 6.7h7.9v8.1h-7.9zM190 14.5h7.9v8.1h-7.9zM167 22.3h7.9v8.1h-7.9zM266.4 69.1h7.9v8.1h-7.9zM258.7 84.6h7.9v8h-7.9zM258.7 92.3h7.9v8h-7.9zM190 100h7.9v8h-7.9zM182.3 107.7h7.9v8h-7.9zM220.5 123.2h7.9v8h-7.9zM212.9 130.9h7.9v8h-7.9zM235.8 130.9h7.9v8h-7.9zM235.8 138.6h7.9v8h-7.9zM212.9 154.1h7.9v8.1h-7.9zM228.2 154.1h7.9v8.1h-7.9zM190 231.8h15.6v8h-15.6zM190 239.4h15.6v8h-15.6z"/><path fill="#ffd500" d="M167 6.7h7.9v8.1h-7.9zM151.8 37.9h7.9v8.1h-7.9zM174.7 100h7.9v8h-7.9zM274 115.4h7.9v8h-7.9zM220.5 138.6h7.9v8h-7.9zM197.6 146.3h7.9v8.1h-7.9zM205.2 161.9h7.9v8.1h-7.9zM212.9 169.7h7.9v8.1h-7.9zM205.2 185.3h7.9v8.1h-7.9zM197.6 200.9h7.9v8.1h-7.9zM205.2 216.5h7.9v8h-7.9zM182.3 247.1h7.9v8h-7.9z"/><path fill="#00c4ff" d="M235.8 6.7h7.9v8.1h-7.9zM304.6 14.5h7.9v8.1h-7.9zM144.1 30.1h7.9v8.1h-7.9zM190 45.7h15.6v8.1h-15.6zM289.3 53.5h7.9v8.1h-7.9zM144.1 61.3h7.9v8.1h-7.9zM243.4 61.3h7.9v8.1h-7.9zM220.5 69.1h7.9v8.1h-7.9zM304.6 69.1h7.9v8.1h-7.9zM335.1 69.1h7.9v8.1h-7.9zM289.3 76.9h7.9v8h-7.9zM159.4 130.9h7.9v8h-7.9zM174.7 169.7h7.9v8.1h-7.9zM220.5 185.3h7.9v8.1h-7.9zM220.5 193.1h7.9v8.1h-7.9zM159.4 200.9h7.9v8.1h-7.9zM151.8 208.7h7.9v8.1h-7.9zM136.5 216.5h7.9v8h-7.9zM159.4 216.5h7.9v8h-7.9zM105.9 247.1h7.9v8h-7.9zM159.4 254.8h7.9v8h-7.9zM174.7 262.4h7.9v8h-7.9zM136.5 277.8h7.9v8h-7.9zM113.6 293h7.9v7.9h-7.9zM113.6 300.6h7.9v7.9h-7.9zM182.3 300.6h7.9v7.9h-7.9zM113.6 308.2h7.9v7.9h-7.9zM144.1 323.3h15.6v7.9h-15.6zM167 323.3h7.9v7.9h-7.9zM159.4 330.9h7.9v7.9h-7.9zM136.5 338.5h7.9v7.9h-7.9z"/><path fill="#06fff9" d="M243.4 6.7h7.9v8.1h-7.9zM212.9 37.9h7.9v8.1h-7.9zM274 61.3h7.9v8.1h-7.9zM281.6 84.6h7.9v8h-7.9zM205.2 92.3h23.2v8h-23.2zM289.3 92.3h7.9v8h-7.9zM159.4 146.3h7.9v8.1h-7.9zM174.7 146.3h15.6v8.1h-15.6zM190 169.7h7.9v8.1h-7.9zM174.7 193.1h7.9v8.1h-7.9zM167 200.9h7.9v8.1h-7.9zM190 262.4h7.9v8h-7.9zM151.8 293h7.9v7.9h-7.9zM159.4 300.6h7.9v7.9h-7.9zM197.6 315.7h7.9v7.9h-7.9zM121.2 353.6h7.9v7.9h-7.9zM174.7 384h7.9v7.9h-7.9zM167 391.6h7.9v7.9h-7.9z"/><path fill="#fff500" d="M258.7 6.7h7.9v8.1h-7.9zM251.1 14.5h7.9v8.1h-7.9zM274 22.3h7.9v8.1h-7.9zM266.4 30.1h7.9v8.1h-7.9zM159.4 37.9h7.9v8.1h-7.9zM281.6 115.4h7.9v8h-7.9zM174.7 123.2h7.9v8h-7.9zM197.6 185.3h7.9v8.1h-7.9zM174.7 208.7h7.9v8.1h-7.9zM205.2 231.8h7.9v8h-7.9z"/><path fill="#00b4ff" d="M304.6 6.7h7.9v8.1h-7.9zM289.3 14.5h7.9v8.1h-7.9zM319.8 14.5h7.9v8.1h-7.9zM296.9 37.9h7.9v8.1h-7.9zM182.3 45.7h7.9v8.1h-7.9zM258.7 53.5h7.9v8.1h-7.9zM296.9 53.5h7.9v8.1h-7.9zM151.8 61.3h7.9v8.1h-7.9zM167 61.3h15.6v8.1h-15.6zM251.1 61.3h7.9v8.1h-7.9zM151.8 76.9h7.9v8h-7.9zM235.8 92.3h7.9v8h-7.9zM281.6 100h7.9v8h-7.9zM151.8 115.4h7.9v8h-7.9zM159.4 138.6h7.9v8h-7.9zM167 169.7h7.9v8.1h-7.9zM159.4 193.1h7.9v8.1h-7.9zM144.1 208.7h7.9v8.1h-7.9zM128.8 231.8h7.9v8h-7.9zM151.8 239.4h7.9v8h-7.9zM128.8 254.8h7.9v8h-7.9zM136.5 285.4h7.9v7.9h-7.9zM167 285.4h7.9v7.9h-7.9zM182.3 293h7.9v7.9h-7.9zM205.2 315.7h7.9v7.9h-7.9zM128.8 330.9h7.9v7.9h-7.9zM136.5 368.8h7.9v7.9h-7.9zM174.7 376.4h7.9v7.9h-7.9z"/><path fill="#ff8400" d="M144.1 14.5h7.9v8.1h-7.9zM251.1 53.5h7.9v8.1h-7.9zM258.7 76.9h7.9v8h-7.9zM167 100h7.9v8h-7.9zM258.7 107.7h7.9v8h-7.9zM258.7 115.4h7.9v8h-7.9zM228.2 130.9h7.9v8h-7.9zM220.5 146.3h7.9v8.1h-7.9zM220.5 154.1h7.9v8.1h-7.9zM190 216.5h7.9v8h-7.9zM190 224.1h7.9v8h-7.9z"/><path fill="#ff5300" d="M151.8 14.5h7.9v8.1h-7.9zM212.9 14.5h7.9v8.1h-7.9zM220.5 53.5h7.9v8.1h-7.9zM258.7 69.1h7.9v8.1h-7.9zM274 100h7.9v8h-7.9zM266.4 107.7h7.9v8h-7.9zM212.9 115.4h15.6v8h-15.6zM235.8 123.2h7.9v8h-7.9zM197.6 130.9h15.6v8h-15.6z"/><path fill="#ff3300" d="M159.4 14.5h7.9v8.1h-7.9zM335.1 14.5h7.9v8.1h-7.9zM220.5 30.1h7.9v8.1h-7.9zM274 30.1h7.9v8.1h-7.9zM182.3 123.2h7.9v8h-7.9zM182.3 130.9h7.9v8h-7.9zM190 208.7h7.9v8.1h-7.9zM197.6 216.5h7.9v8h-7.9z"/><path fill="#ffe500" d="M182.3 14.5h7.9v8.1h-7.9zM174.7 22.3h7.9v8.1h-7.9zM281.6 22.3h7.9v8.1h-7.9zM174.7 30.1h7.9v8.1h-7.9zM144.1 37.9h7.9v8.1h-7.9zM258.7 37.9h7.9v8.1h-7.9zM151.8 45.7h7.9v8.1h-7.9zM274 76.9h7.9v8h-7.9zM281.6 107.7h7.9v8h-7.9zM190 138.6h7.9v8h-7.9zM251.1 138.6h7.9v8h-7.9zM212.9 146.3h7.9v8.1h-7.9zM205.2 169.7h7.9v8.1h-7.9zM205.2 200.9h7.9v8.1h-7.9zM182.3 216.5h7.9v8h-7.9zM167 247.1h7.9v8h-7.9zM190 247.1h7.9v8h-7.9z"/><path fill="#98ff67" d="M205.2 14.5h7.9v8.1h-7.9zM258.7 14.5h15.6v8.1h-15.6zM197.6 76.9h7.9v8h-7.9zM167 115.4h7.9v8h-7.9zM190 146.3h7.9v8.1h-7.9zM174.7 231.8h7.9v8h-7.9zM205.2 239.4h7.9v8h-7.9zM167 308.2h7.9v7.9h-7.9z"/><path fill="#ff9400" d="M228.2 14.5h7.9v8.1h-7.9zM144.1 22.3h7.9v8.1h-7.9zM243.4 53.5h7.9v8.1h-7.9zM243.4 69.1h7.9v8.1h-7.9zM266.4 76.9h7.9v8h-7.9zM266.4 100h7.9v8h-7.9zM174.7 107.7h7.9v8h-7.9zM205.2 107.7h7.9v8h-7.9zM182.3 208.7h7.9v8.1h-7.9z"/><path fill="#d9ff26" d="M243.4 14.5h7.9v8.1h-7.9zM281.6 14.5h7.9v8.1h-7.9zM289.3 69.1h7.9v8.1h-7.9zM205.2 84.6h7.9v8h-7.9zM274 92.3h7.9v8h-7.9zM220.5 161.9h7.9v8.1h-7.9zM182.3 224.1h7.9v8h-7.9zM121.2 376.4h7.9v7.9h-7.9z"/><path fill="#47ffb8" d="M274 14.5h7.9v8.1h-7.9zM205.2 37.9h7.9v8.1h-7.9zM167 208.7h7.9v8.1h-7.9zM174.7 254.8h7.9v8h-7.9z"/><path fill="#0033ff" d="M327.5 14.5h7.9v8.1h-7.9zM335.1 45.7h7.9v8.1h-7.9zM159.4 53.5h7.9v8.1h-7.9zM190 53.5h7.9v8.1h-7.9zM319.8 61.3h7.9v8.1h-7.9zM304.6 76.9h7.9v8h-7.9zM327.5 76.9h7.9v8h-7.9zM167 92.3h7.9v8h-7.9zM342.8 100h7.9v8h-7.9zM342.8 107.7h7.9v8h-7.9zM335.1 115.4h15.6v8h-15.6zM144.1 123.2h7.9v8h-7.9zM312.2 123.2h7.9v8h-7.9zM319.8 138.6h7.9v8h-7.9zM251.1 154.1h7.9v8.1h-7.9zM312.2 161.9h7.9v8.1h-7.9zM304.6 169.7h7.9v8.1h-7.9zM296.9 185.3h7.9v8.1h-7.9zM319.8 208.7h7.9v8.1h-7.9zM235.8 216.5h7.9v8h-7.9zM266.4 216.5h7.9v8h-7.9zM251.1 224.1h7.9v8h-7.9zM136.5 247.1h7.9v8h-7.9zM235.8 247.1h7.9v8h-7.9zM151.8 262.4h7.9v8h-7.9zM113.6 270.1h7.9v8h-7.9zM174.7 270.1h7.9v8h-7.9zM105.9 277.8h7.9v8h-7.9zM258.7 293h7.9v7.9h-7.9zM197.6 300.6h7.9v7.9h-7.9zM258.7 300.6h7.9v7.9h-7.9zM274 300.6h7.9v7.9h-7.9zM190 308.2h7.9v7.9h-7.9zM220.5 308.2h7.9v7.9h-7.9zM266.4 308.2h7.9v7.9h-7.9zM212.9 315.7h7.9v7.9h-7.9zM235.8 315.7h7.9v7.9h-7.9zM266.4 315.7h7.9v7.9h-7.9zM235.8 323.3h7.9v7.9h-7.9zM228.2 361.2h7.9v7.9h-7.9zM220.5 368.8h7.9v7.9h-7.9zM144.1 384h15.6v7.9h-15.6zM197.6 399.2h7.9v7.9h-7.9zM113.6 406.8h7.9v7.9h-7.9zM159.4 406.8h7.9v7.9h-7.9zM151.8 422h7.9v7.9h-7.9z"/><path fill="#c00000" d="M151.8 22.3h7.9v8.1h-7.9zM243.4 30.1h7.9v8.1h-7.9zM289.3 30.1h7.9v8.1h-7.9zM228.2 45.7h7.9v8.1h-7.9z"/><path fill="#ff7300" d="M159.4 22.3h7.9v8.1h-7.9zM228.2 53.5h15.6v8.1h-15.6zM212.9 100h15.6v8h-15.6zM212.9 107.7h7.9v8h-7.9zM274 107.7h7.9v8h-7.9zM228.2 123.2h7.9v8h-7.9zM212.9 161.9h7.9v8.1h-7.9zM197.6 224.1h7.9v8h-7.9z"/><path fill="#e9ff16" d="M182.3 22.3h7.9v8.1h-7.9zM205.2 69.1h7.9v8.1h-7.9zM197.6 161.9h7.9v8.1h-7.9zM174.7 239.4h7.9v8h-7.9zM113.6 368.8h7.9v7.9h-7.9z"/><path fill="#a00000" d="M220.5 22.3h7.9v8.1h-7.9zM243.4 37.9h7.9v8.1h-7.9zM281.6 37.9h7.9v8.1h-7.9zM151.8 368.8h7.9v7.9h-7.9z"/><path fill="#f10000" d="M228.2 22.3h15.6v8.1h-15.6zM266.4 22.3h7.9v8.1h-7.9zM228.2 37.9h7.9v8.1h-7.9zM258.7 45.7h7.9v8.1h-7.9z"/><path fill="#57ffa8" d="M251.1 22.3h7.9v8.1h-7.9zM182.3 37.9h7.9v8.1h-7.9zM212.9 185.3h7.9v8.1h-7.9zM174.7 315.7h7.9v7.9h-7.9zM121.2 338.5h7.9v7.9h-7.9zM105.9 353.6h7.9v7.9h-7.9zM105.9 384h7.9v7.9h-7.9zM167 399.2h7.9v7.9h-7.9z"/><path fill="#0084ff" d="M296.9 22.3h7.9v8.1h-7.9zM304.6 30.1h7.9v8.1h-7.9zM304.6 37.9h7.9v8.1h-7.9zM136.5 76.9h7.9v8h-7.9zM312.2 76.9h7.9v8h-7.9zM151.8 84.6h7.9v8h-7.9zM228.2 84.6h7.9v8h-7.9zM296.9 92.3h7.9v8h-7.9zM228.2 100h7.9v8h-7.9zM289.3 100h7.9v8h-7.9zM335.1 100h7.9v8h-7.9zM289.3 115.4h7.9v8h-7.9zM151.8 123.2h7.9v8h-7.9zM274 130.9h7.9v8h-7.9zM266.4 138.6h7.9v8h-7.9zM151.8 154.1h7.9v8.1h-7.9zM182.3 154.1h7.9v8.1h-7.9zM151.8 161.9h15.6v8.1h-15.6zM151.8 185.3h7.9v8.1h-7.9zM151.8 193.1h7.9v8.1h-7.9zM220.5 200.9h7.9v8.1h-7.9zM128.8 208.7h7.9v8.1h-7.9zM128.8 224.1h7.9v8h-7.9zM121.2 239.4h7.9v8h-7.9zM167 262.4h7.9v8h-7.9zM121.2 277.8h7.9v8h-7.9zM144.1 277.8h7.9v8h-7.9zM182.3 277.8h7.9v8h-7.9zM136.5 293h15.6v7.9h-15.6zM228.2 293h7.9v7.9h-7.9zM144.1 300.6h7.9v7.9h-7.9zM144.1 308.2h7.9v7.9h-7.9zM144.1 315.7h7.9v7.9h-7.9zM128.8 323.3h7.9v7.9h-7.9zM174.7 323.3h7.9v7.9h-7.9zM105.9 330.9h7.9v7.9h-7.9zM121.2 330.9h7.9v7.9h-7.9zM243.4 346h7.9v7.9h-7.9zM128.8 353.6h7.9v7.9h-7.9zM128.8 361.2h7.9v7.9h-7.9zM159.4 391.6h7.9v7.9h-7.9zM90.6 414.4h7.9v7.9h-7.9zM113.6 422h7.9v7.9h-7.9z"/><path fill="#0053ff" d="M304.6 22.3h23.2v8.1h-23.2zM312.2 30.1h7.9v8.1h-7.9zM296.9 45.7h7.9v8.1h-7.9zM174.7 53.5h15.6v8.1h-15.6zM319.8 53.5h7.9v8.1h-7.9zM235.8 61.3h7.9v8.1h-7.9zM258.7 61.3h7.9v8.1h-7.9zM335.1 61.3h7.9v8.1h-7.9zM319.8 76.9h7.9v8h-7.9zM335.1 76.9h7.9v8h-7.9zM159.4 84.6h7.9v8h-7.9zM342.8 84.6h7.9v8h-7.9zM197.6 100h7.9v8h-7.9zM327.5 100h7.9v8h-7.9zM197.6 107.7h7.9v8h-7.9zM312.2 107.7h7.9v8h-7.9zM144.1 115.4h7.9v8h-7.9zM327.5 115.4h7.9v8h-7.9zM151.8 130.9h7.9v8h-7.9zM144.1 138.6h15.6v8h-15.6zM144.1 146.3h15.6v8.1h-15.6zM144.1 154.1h7.9v8.1h-7.9zM258.7 154.1h7.9v8.1h-7.9zM121.2 161.9h7.9v8.1h-7.9zM151.8 169.7h7.9v8.1h-7.9zM228.2 177.5h7.9v8.1h-7.9zM144.1 185.3h7.9v8.1h-7.9zM159.4 185.3h7.9v8.1h-7.9zM136.5 193.1h7.9v8.1h-7.9zM228.2 193.1h7.9v8.1h-7.9zM228.2 200.9h7.9v8.1h-7.9zM121.2 208.7h7.9v8.1h-7.9zM243.4 216.5h7.9v8h-7.9zM235.8 224.1h7.9v8h-7.9zM212.9 239.4h7.9v8h-7.9zM151.8 247.1h7.9v8h-7.9zM136.5 254.8h7.9v8h-7.9zM151.8 254.8h7.9v8h-7.9zM159.4 262.4h7.9v8h-7.9zM212.9 262.4h7.9v8h-7.9zM128.8 270.1h7.9v8h-7.9zM151.8 270.1h15.6v8h-15.6zM113.6 285.4h15.6v7.9h-15.6zM190 285.4h7.9v7.9h-7.9zM235.8 285.4h7.9v7.9h-7.9zM128.8 293h7.9v7.9h-7.9zM197.6 293h7.9v7.9h-7.9zM220.5 293h7.9v7.9h-7.9zM235.8 293h7.9v7.9h-7.9zM105.9 300.6h7.9v7.9h-7.9zM136.5 300.6h7.9v7.9h-7.9zM190 300.6h7.9v7.9h-7.9zM128.8 308.2h7.9v7.9h-7.9zM235.8 308.2h7.9v7.9h-7.9zM113.6 315.7h7.9v7.9h-7.9zM136.5 315.7h7.9v7.9h-7.9zM251.1 315.7h7.9v7.9h-7.9zM113.6 323.3h7.9v7.9h-7.9zM182.3 323.3h7.9v7.9h-7.9zM98.3 330.9h7.9v7.9h-7.9zM113.6 330.9h7.9v7.9h-7.9zM167 330.9h15.6v7.9h-15.6zM243.4 330.9h15.6v7.9h-15.6zM167 338.5h7.9v7.9h-7.9zM212.9 338.5h7.9v7.9h-7.9zM235.8 338.5h7.9v7.9h-7.9zM144.1 346h7.9v7.9h-7.9zM190 346h15.6v7.9h-15.6zM228.2 346h15.6v7.9h-15.6zM151.8 353.6h7.9v7.9h-7.9zM190 353.6h7.9v7.9h-7.9zM144.1 391.6h7.9v7.9h-7.9zM212.9 391.6h7.9v7.9h-7.9zM98.3 399.2h7.9v7.9h-7.9zM90.6 406.8h7.9v7.9h-7.9zM151.8 406.8h7.9v7.9h-7.9zM144.1 422h7.9v7.9h-7.9z"/><path fill="#0022ff" d="M327.5 22.3h7.9v8.1h-7.9zM312.2 37.9h7.9v8.1h-7.9zM128.8 45.7h7.9v8.1h-7.9zM136.5 61.3h7.9v8.1h-7.9zM319.8 69.1h7.9v8.1h-7.9zM327.5 84.6h7.9v8h-7.9zM304.6 92.3h15.6v8h-15.6zM113.6 107.7h7.9v8h-7.9zM159.4 107.7h7.9v8h-7.9zM113.6 115.4h7.9v8h-7.9zM136.5 115.4h7.9v8h-7.9zM319.8 115.4h7.9v8h-7.9zM113.6 123.2h7.9v8h-7.9zM327.5 123.2h7.9v8h-7.9zM136.5 138.6h7.9v8h-7.9zM335.1 138.6h7.9v8h-7.9zM304.6 146.3h7.9v8.1h-7.9zM136.5 154.1h7.9v8.1h-7.9zM266.4 154.1h15.6v8.1h-15.6zM144.1 169.7h7.9v8.1h-7.9zM274 169.7h7.9v8.1h-7.9zM266.4 185.3h7.9v8.1h-7.9zM121.2 193.1h7.9v8.1h-7.9zM342.8 193.1h7.9v8.1h-7.9zM251.1 200.9h7.9v8.1h-7.9zM243.4 208.7h15.6v8.1h-15.6zM235.8 254.8h7.9v8h-7.9zM197.6 277.8h7.9v8h-7.9zM251.1 300.6h7.9v7.9h-7.9zM105.9 308.2h7.9v7.9h-7.9zM258.7 308.2h7.9v7.9h-7.9zM258.7 315.7h7.9v7.9h-7.9zM228.2 338.5h7.9v7.9h-7.9zM228.2 353.6h7.9v7.9h-7.9zM235.8 361.2h7.9v7.9h-7.9zM212.9 368.8h7.9v7.9h-7.9zM205.2 376.4h7.9v7.9h-7.9zM190 384h7.9v7.9h-7.9zM105.9 406.8h7.9v7.9h-7.9zM90.6 422h7.9v7.9h-7.9z"/><path fill="#b00000" d="M151.8 30.1h7.9v8.1h-7.9zM228.2 30.1h7.9v8.1h-7.9zM235.8 107.7h7.9v8h-7.9z"/><path fill="#77ff88" d="M197.6 30.1h7.9v8.1h-7.9zM190 37.9h7.9v8.1h-7.9zM159.4 45.7h7.9v8.1h-7.9zM281.6 69.1h7.9v8.1h-7.9zM174.7 285.4h7.9v7.9h-7.9zM113.6 384h7.9v7.9h-7.9z"/><path fill="#67ff98" d="M205.2 30.1h15.6v8.1h-15.6zM281.6 76.9h7.9v8h-7.9zM212.9 193.1h7.9v8.1h-7.9zM167 239.4h7.9v8h-7.9zM174.7 300.6h7.9v7.9h-7.9zM98.3 346h7.9v7.9h-7.9z"/><path fill="#900000" d="M251.1 30.1h7.9v8.1h-7.9zM251.1 45.7h7.9v8.1h-7.9zM251.1 84.6h7.9v8h-7.9zM228.2 115.4h7.9v8h-7.9z"/><path fill="#800000" d="M258.7 30.1h7.9v8.1h-7.9zM251.1 37.9h7.9v8.1h-7.9zM243.4 45.7h7.9v8.1h-7.9zM281.6 45.7h7.9v8.1h-7.9zM251.1 76.9h7.9v8h-7.9zM243.4 84.6h7.9v8h-7.9zM228.2 107.7h7.9v8h-7.9zM235.8 115.4h7.9v8h-7.9zM151.8 361.2h23.2v7.9h-23.2zM159.4 368.8h15.6v7.9h-15.6zM151.8 376.4h23.2v7.9h-23.2z"/><path fill="#37ffc8" d="M197.6 37.9h7.9v8.1h-7.9zM212.9 84.6h7.9v8h-7.9zM174.7 200.9h7.9v8.1h-7.9zM167 224.1h7.9v8h-7.9zM167 231.8h7.9v8h-7.9zM212.9 247.1h7.9v8h-7.9zM105.9 338.5h7.9v7.9h-7.9zM174.7 368.8h7.9v7.9h-7.9z"/><path fill="#d00000" d="M220.5 37.9h7.9v8.1h-7.9zM243.4 92.3h7.9v8h-7.9z"/><path fill="#ff6300" d="M235.8 37.9h7.9v8.1h-7.9zM281.6 53.5h7.9v8.1h-7.9zM243.4 107.7h7.9v8h-7.9zM174.7 115.4h7.9v8h-7.9zM266.4 115.4h7.9v8h-7.9zM205.2 123.2h7.9v8h-7.9zM251.1 123.2h7.9v8h-7.9zM220.5 130.9h7.9v8h-7.9zM243.4 130.9h15.6v8h-15.6zM228.2 138.6h7.9v8h-7.9z"/><path fill="#26ffd9" d="M289.3 37.9h7.9v8.1h-7.9zM296.9 69.1h7.9v8.1h-7.9zM167 216.5h7.9v8h-7.9zM174.7 224.1h7.9v8h-7.9zM98.3 338.5h7.9v7.9h-7.9zM113.6 338.5h7.9v7.9h-7.9zM98.3 353.6h7.9v7.9h-7.9zM174.7 391.6h7.9v7.9h-7.9z"/><path fill="#0073ff" d="M319.8 37.9h7.9v8.1h-7.9zM151.8 53.5h7.9v8.1h-7.9zM167 53.5h7.9v8.1h-7.9zM312.2 69.1h7.9v8.1h-7.9zM159.4 92.3h7.9v8h-7.9zM335.1 154.1h7.9v8.1h-7.9zM144.1 161.9h7.9v8.1h-7.9zM159.4 177.5h7.9v8.1h-7.9zM228.2 185.3h7.9v8.1h-7.9zM121.2 200.9h7.9v8.1h-7.9zM136.5 231.8h7.9v8h-7.9zM190 270.1h15.6v8h-15.6zM197.6 285.4h7.9v7.9h-7.9zM105.9 293h7.9v7.9h-7.9zM243.4 293h7.9v7.9h-7.9zM228.2 300.6h7.9v7.9h-7.9zM243.4 300.6h7.9v7.9h-7.9zM151.8 308.2h7.9v7.9h-7.9zM197.6 308.2h7.9v7.9h-7.9zM274 308.2h7.9v7.9h-7.9zM243.4 338.5h7.9v7.9h-7.9zM136.5 346h7.9v7.9h-7.9zM144.1 353.6h7.9v7.9h-7.9zM235.8 353.6h7.9v7.9h-7.9zM144.1 361.2h7.9v7.9h-7.9zM144.1 376.4h7.9v7.9h-7.9zM151.8 391.6h7.9v7.9h-7.9zM136.5 414.4h7.9v7.9h-7.9zM151.8 414.4h7.9v7.9h-7.9zM98.3 422h7.9v7.9h-7.9z"/><path fill="#16ffe9" d="M167 45.7h7.9v8.1h-7.9zM281.6 61.3h7.9v8.1h-7.9zM235.8 69.1h7.9v8.1h-7.9zM296.9 76.9h7.9v8h-7.9zM174.7 130.9h7.9v8h-7.9zM190 161.9h7.9v8.1h-7.9zM220.5 169.7h7.9v8.1h-7.9zM190 177.5h7.9v8.1h-7.9zM190 185.3h7.9v8.1h-7.9zM182.3 193.1h7.9v8.1h-7.9zM212.9 200.9h7.9v8.1h-7.9zM159.4 208.7h7.9v8.1h-7.9zM105.9 361.2h7.9v7.9h-7.9zM121.2 368.8h7.9v7.9h-7.9z"/><path fill="#0043ff" d="M304.6 45.7h7.9v8.1h-7.9zM113.6 53.5h7.9v8.1h-7.9zM212.9 53.5h7.9v8.1h-7.9zM304.6 53.5h7.9v8.1h-7.9zM327.5 53.5h7.9v8.1h-7.9zM228.2 61.3h7.9v8.1h-7.9zM304.6 61.3h7.9v8.1h-7.9zM159.4 69.1h7.9v8.1h-7.9zM159.4 76.9h7.9v8h-7.9zM182.3 84.6h7.9v8h-7.9zM304.6 84.6h15.6v8h-15.6zM205.2 100h7.9v8h-7.9zM296.9 100h7.9v8h-7.9zM136.5 107.7h7.9v8h-7.9zM281.6 123.2h7.9v8h-7.9zM121.2 130.9h7.9v8h-7.9zM274 138.6h15.6v8h-15.6zM327.5 138.6h7.9v8h-7.9zM266.4 146.3h7.9v8.1h-7.9zM319.8 146.3h7.9v8.1h-7.9zM312.2 169.7h7.9v8.1h-7.9zM151.8 177.5h7.9v8.1h-7.9zM335.1 177.5h7.9v8.1h-7.9zM258.7 185.3h7.9v8.1h-7.9zM128.8 193.1h7.9v8.1h-7.9zM327.5 200.9h7.9v8.1h-7.9zM144.1 231.8h7.9v8h-7.9zM228.2 231.8h7.9v8h-7.9zM228.2 239.4h7.9v8h-7.9zM220.5 247.1h7.9v8h-7.9zM220.5 254.8h7.9v8h-7.9zM136.5 270.1h7.9v8h-7.9zM228.2 285.4h7.9v7.9h-7.9zM136.5 308.2h7.9v7.9h-7.9zM205.2 308.2h7.9v7.9h-7.9zM243.4 308.2h7.9v7.9h-7.9zM105.9 323.3h7.9v7.9h-7.9zM258.7 330.9h7.9v7.9h-7.9zM174.7 338.5h7.9v7.9h-7.9zM136.5 353.6h7.9v7.9h-7.9zM182.3 376.4h7.9v7.9h-7.9zM159.4 384h7.9v7.9h-7.9zM105.9 391.6h7.9v7.9h-7.9zM128.8 406.8h7.9v7.9h-7.9zM205.2 406.8h7.9v7.9h-7.9zM144.1 414.4h7.9v7.9h-7.9z"/><path fill="#00d4ff" d="M144.1 53.5h7.9v8.1h-7.9zM212.9 61.3h7.9v8.1h-7.9zM296.9 61.3h7.9v8.1h-7.9zM274 69.1h7.9v8.1h-7.9zM228.2 76.9h7.9v8h-7.9zM144.1 84.6h7.9v8h-7.9zM220.5 84.6h7.9v8h-7.9zM235.8 100h7.9v8h-7.9zM251.1 100h7.9v8h-7.9zM159.4 123.2h7.9v8h-7.9zM167 130.9h7.9v8h-7.9zM167 138.6h7.9v8h-7.9zM251.1 146.3h7.9v8.1h-7.9zM167 154.1h7.9v8.1h-7.9zM167 185.3h7.9v8.1h-7.9zM182.3 185.3h7.9v8.1h-7.9zM151.8 200.9h7.9v8.1h-7.9zM212.9 208.7h7.9v8.1h-7.9zM144.1 216.5h7.9v8h-7.9zM159.4 247.1h7.9v8h-7.9zM113.6 262.4h7.9v8h-7.9zM159.4 285.4h7.9v7.9h-7.9zM167 300.6h7.9v7.9h-7.9zM167 315.7h7.9v7.9h-7.9zM136.5 323.3h7.9v7.9h-7.9zM136.5 361.2h7.9v7.9h-7.9z"/><path fill="#00a4ff" d="M197.6 61.3h7.9v8.1h-7.9zM312.2 61.3h7.9v8.1h-7.9zM235.8 84.6h7.9v8h-7.9zM167 146.3h7.9v8.1h-7.9zM144.1 193.1h7.9v8.1h-7.9zM136.5 208.7h7.9v8.1h-7.9zM220.5 208.7h7.9v8.1h-7.9zM121.2 254.8h7.9v8h-7.9zM182.3 262.4h7.9v8h-7.9zM174.7 277.8h7.9v8h-7.9zM128.8 285.4h7.9v7.9h-7.9zM121.2 361.2h7.9v7.9h-7.9zM136.5 376.4h7.9v7.9h-7.9zM159.4 399.2h7.9v7.9h-7.9zM98.3 406.8h7.9v7.9h-7.9zM159.4 414.4h7.9v7.9h-7.9z"/><path fill="#e10000" d="M251.1 69.1h7.9v8.1h-7.9zM243.4 76.9h7.9v8h-7.9zM197.6 123.2h7.9v8h-7.9z"/><path fill="#ff4300" d="M251.1 115.4h7.9v8h-7.9z"/><path fill="#0000b0" d="M319.8 224.1h7.9v8h-7.9zM296.9 239.4h7.9v8h-7.9zM289.3 277.8h7.9v8h-7.9zM228.2 323.3h7.9v7.9h-7.9z"/><path fill="#0000a0" d="M289.3 239.4h7.9v8h-7.9zM274 315.7h7.9v7.9h-7.9z"/><path fill="#000090" d="M289.3 270.1h7.9v8h-7.9z"/></g><polyline points="143.2,19.9 141.1,36.9 145.4,49.7 143.2,62.4 160.3,58.2 173,53.9 175.2,47.5 190.1,45.4 211.3,43.3 213.4,51.8 224.1,60.3 234.7,64.5 243.2,73.1 258.1,77.3 270.9,70.9 275.1,58.2 264.5,45.4 262,38" fill="none" stroke="#000" stroke-width="1.0" stroke-linejoin="round"/>\n<text font-size="12.5" fill="#000" transform="translate(157,23) rotate(-30)" text-anchor="middle">30</text>\n<polyline points="160,18 172,5 176,0" fill="none" stroke="#000" stroke-width="1.0" stroke-linejoin="round"/>\n<polyline points="185,0 195,10 210,15 218,22 222,25 240,28 250,22 262,20 268,8 270,0" fill="none" stroke="#000" stroke-width="1.0" stroke-linejoin="round"/>\n<text font-size="12.5" fill="#000" transform="translate(214,25) rotate(30)" text-anchor="middle">30</text>\n<text font-size="12.5" fill="#000" transform="translate(272,55) rotate(-60)" text-anchor="middle">30</text>\n<polyline points="290,0 295,14 300,25 302,40 296,60 292,80 300,85 292,90 286,110 290,120 280,128 278,140" fill="none" stroke="#000" stroke-width="1.0" stroke-linejoin="round"/>\n<text font-size="12.5" fill="#000" transform="translate(287,20) rotate(60)" text-anchor="middle">30</text>\n<polyline points="198,78 210,82 217,88 214,100 206,102 200,95 199,85" fill="none" stroke="#000" stroke-width="1.0" stroke-linejoin="round"/>\n<text font-size="12.5" fill="#000" transform="translate(205,82) rotate(-40)" text-anchor="middle">30</text>\n<polyline points="241,90 238,100 244,110 255,110 262,102 260,95" fill="none" stroke="#000" stroke-width="1.0" stroke-linejoin="round"/>\n<text font-size="12.5" fill="#000" transform="translate(258,104) rotate(-40)" text-anchor="middle">30</text>\n<polyline points="165,106 175,104 188,106 198,115 206,125 212,120 222,108 232,104 244,118 262,122 280,122 289,110" fill="none" stroke="#000" stroke-width="1.0" stroke-linejoin="round"/>\n<polyline points="165,106 164,116 175,124 183,135 195,148 200,160 205,172 209,185 212,190" fill="none" stroke="#000" stroke-width="1.0" stroke-linejoin="round"/>\n<polyline points="290,122 285,135 270,150 258,162 248,168 240,178 235,190" fill="none" stroke="#000" stroke-width="1.0" stroke-linejoin="round"/>\n<text font-size="12.5" fill="#000" transform="translate(215,184) rotate(-60)" text-anchor="middle">30</text>\n<text font-size="12.5" fill="#000" transform="translate(240,185) rotate(-60)" text-anchor="middle">30</text>\n<polyline points="212,190 215,205 210,220 207,228" fill="none" stroke="#000" stroke-width="1.0" stroke-linejoin="round"/>\n<polyline points="235,190 232,205 233,215 230,222 220,240 207,258 210,272 222,270" fill="none" stroke="#000" stroke-width="1.0" stroke-linejoin="round"/>\n<polyline points="207,228 198,236 192,242" fill="none" stroke="#000" stroke-width="1.0" stroke-linejoin="round"/>\n<polyline points="173,294 170,301 176,318 176,328" fill="none" stroke="#000" stroke-width="1.0" stroke-linejoin="round"/>\n<text font-size="12.5" fill="#000" transform="translate(176,303) rotate(-30)" text-anchor="middle">30</text>\n<polyline points="114,353 112,363 120,370 125,375 128,365 124,358" fill="none" stroke="#000" stroke-width="1.0" stroke-linejoin="round"/>\n<text font-size="12.5" fill="#000" transform="translate(118,376) rotate(0)" text-anchor="middle">30</text>\n<polyline points="150,363 148,380 152,388 162,388 170,380 175,365 182,354" fill="none" stroke="#000" stroke-width="1.0" stroke-linejoin="round"/>\n<text font-size="12.5" fill="#000" transform="translate(166,389) rotate(-40)" text-anchor="middle">30</text>
<path d="M59.1 45.4L75.1 45.4M61.4 39.7L72.8 51.1M67.1 37.4L67.1 53.4M72.8 39.7L61.4 51.1" stroke="#ff0000" stroke-width="1.1" fill="none"/>
<path d="M96.6 156.8L112.6 156.8M98.9 151.1L110.3 162.5M104.6 148.8L104.6 164.8M110.3 151.1L98.9 162.5" stroke="#ff0000" stroke-width="1.1" fill="none"/>
<path d="M105.3 249.8L121.3 249.8M107.6 244.1L119 255.5M113.3 241.8L113.3 257.8M119 244.1L107.6 255.5" stroke="#ff0000" stroke-width="1.1" fill="none"/>
<path d="M54.3 272L70.3 272M56.6 266.3L68 277.7M62.3 264L62.3 280M68 266.3L56.6 277.7" stroke="#ff0000" stroke-width="1.1" fill="none"/>
</g>
<g shape-rendering="crispEdges">
<rect x="3.8" y="19.8" width="2" height="25.5" fill="#000087"/>
<rect x="5.6" y="19.8" width="2" height="25.5" fill="#000097"/>
<rect x="7.4" y="19.8" width="2" height="25.5" fill="#0000a7"/>
<rect x="9.1" y="19.8" width="2" height="25.5" fill="#0000b7"/>
<rect x="10.9" y="19.8" width="2" height="25.5" fill="#0000c7"/>
<rect x="12.7" y="19.8" width="2" height="25.5" fill="#0000d7"/>
<rect x="14.5" y="19.8" width="2" height="25.5" fill="#0000e7"/>
<rect x="16.2" y="19.8" width="2" height="25.5" fill="#0000f7"/>
<rect x="18" y="19.8" width="2" height="25.5" fill="#0008ff"/>
<rect x="19.8" y="19.8" width="2" height="25.5" fill="#0018ff"/>
<rect x="21.6" y="19.8" width="2" height="25.5" fill="#0028ff"/>
<rect x="23.3" y="19.8" width="2" height="25.5" fill="#0038ff"/>
<rect x="25.1" y="19.8" width="2" height="25.5" fill="#0048ff"/>
<rect x="26.9" y="19.8" width="2" height="25.5" fill="#0058ff"/>
<rect x="28.7" y="19.8" width="2" height="25.5" fill="#0068ff"/>
<rect x="30.4" y="19.8" width="2" height="25.5" fill="#0078ff"/>
<rect x="32.2" y="19.8" width="2" height="25.5" fill="#0087ff"/>
<rect x="34" y="19.8" width="2" height="25.5" fill="#0097ff"/>
<rect x="35.8" y="19.8" width="2" height="25.5" fill="#00a7ff"/>
<rect x="37.6" y="19.8" width="2" height="25.5" fill="#00b7ff"/>
<rect x="39.3" y="19.8" width="2" height="25.5" fill="#00c7ff"/>
<rect x="41.1" y="19.8" width="2" height="25.5" fill="#00d7ff"/>
<rect x="42.9" y="19.8" width="2" height="25.5" fill="#00e7ff"/>
<rect x="44.7" y="19.8" width="2" height="25.5" fill="#00f7ff"/>
<rect x="46.4" y="19.8" width="2" height="25.5" fill="#08fff7"/>
<rect x="48.2" y="19.8" width="2" height="25.5" fill="#18ffe7"/>
<rect x="50" y="19.8" width="2" height="25.5" fill="#28ffd7"/>
<rect x="51.8" y="19.8" width="2" height="25.5" fill="#38ffc7"/>
<rect x="53.5" y="19.8" width="2" height="25.5" fill="#48ffb7"/>
<rect x="55.3" y="19.8" width="2" height="25.5" fill="#58ffa7"/>
<rect x="57.1" y="19.8" width="2" height="25.5" fill="#68ff97"/>
<rect x="58.9" y="19.8" width="2" height="25.5" fill="#78ff87"/>
<rect x="60.6" y="19.8" width="2" height="25.5" fill="#87ff78"/>
<rect x="62.4" y="19.8" width="2" height="25.5" fill="#97ff68"/>
<rect x="64.2" y="19.8" width="2" height="25.5" fill="#a7ff58"/>
<rect x="66" y="19.8" width="2" height="25.5" fill="#b7ff48"/>
<rect x="67.8" y="19.8" width="2" height="25.5" fill="#c7ff38"/>
<rect x="69.5" y="19.8" width="2" height="25.5" fill="#d7ff28"/>
<rect x="71.3" y="19.8" width="2" height="25.5" fill="#e7ff18"/>
<rect x="73.1" y="19.8" width="2" height="25.5" fill="#f7ff08"/>
<rect x="74.9" y="19.8" width="2" height="25.5" fill="#fff700"/>
<rect x="76.6" y="19.8" width="2" height="25.5" fill="#ffe700"/>
<rect x="78.4" y="19.8" width="2" height="25.5" fill="#ffd700"/>
<rect x="80.2" y="19.8" width="2" height="25.5" fill="#ffc700"/>
<rect x="82" y="19.8" width="2" height="25.5" fill="#ffb700"/>
<rect x="83.7" y="19.8" width="2" height="25.5" fill="#ffa700"/>
<rect x="85.5" y="19.8" width="2" height="25.5" fill="#ff9700"/>
<rect x="87.3" y="19.8" width="2" height="25.5" fill="#ff8700"/>
<rect x="89.1" y="19.8" width="2" height="25.5" fill="#ff7800"/>
<rect x="90.9" y="19.8" width="2" height="25.5" fill="#ff6800"/>
<rect x="92.6" y="19.8" width="2" height="25.5" fill="#ff5800"/>
<rect x="94.4" y="19.8" width="2" height="25.5" fill="#ff4800"/>
<rect x="96.2" y="19.8" width="2" height="25.5" fill="#ff3800"/>
<rect x="98" y="19.8" width="2" height="25.5" fill="#ff2800"/>
<rect x="99.7" y="19.8" width="2" height="25.5" fill="#ff1800"/>
<rect x="101.5" y="19.8" width="2" height="25.5" fill="#ff0800"/>
<rect x="103.3" y="19.8" width="2" height="25.5" fill="#f70000"/>
<rect x="105.1" y="19.8" width="2" height="25.5" fill="#e70000"/>
<rect x="106.8" y="19.8" width="2" height="25.5" fill="#d70000"/>
<rect x="108.6" y="19.8" width="2" height="25.5" fill="#c70000"/>
<rect x="110.4" y="19.8" width="2" height="25.5" fill="#b70000"/>
<rect x="112.2" y="19.8" width="2" height="25.5" fill="#a70000"/>
<rect x="113.9" y="19.8" width="2" height="25.5" fill="#970000"/>
<rect x="115.7" y="19.8" width="2" height="25.5" fill="#870000"/>
</g>
<rect x="3.8" y="19.8" width="113.7" height="25.5" fill="none" stroke="#262626" stroke-width="1"/>
<text x="2.8" y="7.3" font-size="18" fill="#262626" text-anchor="middle">0</text>
<text x="96.7" y="7.3" font-size="18" fill="#262626" text-anchor="middle">50</text>
<text x="285.4" y="37.2" font-size="20" fill="#000">10 km</text><line x1="306.4" y1="43.6" x2="319.6" y2="43.6" stroke="#000" stroke-width="3.6" stroke-linecap="round"/>
</g>
<g transform="translate(843.7,742.4)">
<g clip-path="url(#pc)">
<path d="M51 126.1L50 117L46 112.5L40 108L35 103.5L36 102L42 106L48 111L52 116L54 126.5L53.6 126.5L60.4 127.5L70.6 131L76.7 134L82.8 136L86 130L88 134L91.1 141L96.2 144.1L96.2 146L101.3 155L108.5 167L113 176L117 190L118.4 200.2L118 210.4L116.3 225.5L113.5 240L110.5 247L104.5 248.5L100.3 252.9L90.2 258L80 261L69.7 266.1L61.5 271.2L53.4 276.3L44.2 282.5L34 291.6L23.8 300.8L13.6 312L4.5 323.2L-1 331L-1 333.6L5.4 325.2L14.6 314L24.8 302.8L35 293.6L45.2 284.5L54.4 278.3L62.5 273.2L70.7 268.1L80.9 263L91.1 260L101.3 254.9L105.3 250.8L114 250.5L114.4 248.6L115.5 241L118.1 225.7L119.6 210.4L120.1 200.2L118.6 190L114.5 175.7L110.4 167.5L106 158L102.3 149.2L99 142L99 142L96.2 136L92 127L88 118.6L86 112L82.9 101L78.8 85.7L75.8 70.4L72.7 57.1L70 50.5L67.6 44.9L66.5 40L64.6 32.6L62.5 25L60.8 17L59.1 12.2L55.7 10.1L51.4 11.4L47.2 12.2L38.7 10.5L31.9 8.8L26.8 5.4L22.6 4.6L19.2 6.3L18.4 13.1L13.3 14.8L9.5 15.3L4.8 15.6L-1 17.4L-1 141L1.3 140L11.5 134L23.7 129.5L36.7 127.5L35 127.5L33 122.5L29 119L23 114.6L24 113L30 117L35 121L37 127.5L40 127L50.2 126L51 126.1ZM72 90L77 99L81.5 108L84 118L84.5 126L77 124L75 118L73.5 110L71 102L67 95L63 88L59 80L56 74L54.5 66L55 60L57 52L62 52L62.5 60L64.5 70L67.5 80L72 90ZM22 130L20 130.6L13 126.5L6 121.5L3.5 119.5L5 118L12 122.5L18 127L22 130ZM68 116L73 121L75 131L72.5 131L71 123L67 118.5L61 114L62 112L68 116ZM94.1 153.3L90 153.3L93.1 161.4L97.2 167.5L101.3 172.6L106.4 175.7L106.4 171.6L101.3 164.5L97.2 157.3L94.1 153.3ZM24.8 239.9L31.9 239.9L38 238.9L44.2 235.9L50.3 230.8L56.4 225.7L60.5 216.5L64.6 210.4L72.7 203.2L74.7 206.3L82.9 205.3L89 199.1L88 196.1L90 185.9L89 169.6L85 157.3L80.9 149.2L72.7 147.1L64.6 149.2L60.5 159.4L58.4 169.6L57.4 189L54.4 193L52.3 179.8L52.3 162.4L55.4 156.3L56.4 149.2L51.3 145.1L42.1 144.1L29.9 145.1L22.8 149.2L12.6 147.1L-1 149.2L-1 233.8L1.3 233.8L3.4 230.8L8.5 235.9L11.5 233.8L17.7 236.9L24.8 239.9ZM19.7 283.5L14.6 281.4L9.5 277.3L5.4 276.3L0.8 281.4L-1 281.4L-1 321L1.3 320.2L5.4 317.1L12.6 307.9L19.7 299.8L24.8 292.6L25.8 286.5L19.7 283.5Z" fill="#80e080" fill-rule="evenodd" stroke="#000" stroke-width="1.1" stroke-linejoin="round"/>
<polygon points="-1,-1 20,-1 19.7,5.1 18.7,14.3 9.5,15.3 -1,17.4" fill="#fff"/>
<polyline points="105.3,250.8 101.3,254.9 91.1,260 80.9,263 70.7,268.1 62.5,273.2 54.4,278.3 45.2,284.5 35,293.6 24.8,302.8 14.6,314 5.4,325.2 -1,333.6" fill="none" stroke="#000" stroke-width="1.6"/>
<path d="M18.5 5.4h0m9.2 2.6h0m-14.7 7h0m3.8-0.2h0m0.9-5h0m2.2 1h0m4.5 3h0m3-4.2h0m2.1-0.6h0m2.4 1.7h0m1.4 0.6h0m4.5 0.6h0m0.2-1.3h0m3.3 0.1h0m5.3 3.6h0m0.7-1.2h0m3.6-0.4h0m3-1h0m0.8-1.4h0m1.5 0.3h0m0.1 3.1h0m0.7-2.4h0m-53.7 6.5h0m8.2 0.5h0m2.4-1h0m3.6 1.3h0m0.2-1h0m3-2.2h0m39.3 4.2h0m-53.7 5.1h0m27.8-0.9h0m26.7 2h0m0.7 0.5h0m-36.7 5.6h0m31.2 0.6h0m4.7-3.1h0m2.1-0.1h0m-59.1 5.8h0m59.1 2.8h0m1.1-1h0m0.4-1.4h0m0.8-0.7h0m0.3 3.1h0m0.8-1.1h0m0.3-0.9h0m-1.1 4.4h0m3.2 4.2h0m-28.8 1.8h0m0.6 0.7h0m1.4-0.6h0m1 4.3h0m0.2-3.4h0m0.9-0.2h0m0.1 1.8h0m1.8 1h0m0.3-1.8h0m2.8 2.6h0m5.3-1h0m0.7-1.9h0m4.9 0.2h0m0.2 2h0m0.2-0.9h0m1.5 1.8h0m1.1-1.4h0m0.9 1.2h0m3.3-4.4h0m-26.2 7.6h0m0.1 2.7h0m3.6-3.9h0m0.6 4.2h0m6.9-3.8h0m0.6 3.4h0m1.2 0.4h0m0-4h0m0.5 1.6h0m1.7 0h0m1.1 1.9h0m0.5-0.1h0m0.1-4.9h0m0.2 1.4h0m1.5-1.8h0m2.1 0.8h0m1.3 3.2h0m1.3-0.3h0m5.2 1h0m3.7-4.4h0m-57.8 9.2h0m24.5 1.1h0m1.5 0.2h0m0.3-1.6h0m2.4 2.8h0m0.3-5.4h0m1.2-0.4h0m0.9 3.7h0m2.5 0.7h0m0.1-3.9h0m0.5 0.2h0m0.9 4.1h0m1.4-1.1h0m0.6-3.3h0m0.1 3h0m0.2 0.3h0m0.3-0.1h0m0.6 1.3h0m1.2-2.5h0m2.3 2.6h0m3.2-1h0m2.1 0.5h0m3.1-1.7h0m0.3 1.1h0m2.3 0.3h0m1.9-1h0m3.1-0.8h0m0.2 0.3h0m-32.6 8.3h0m0.3-1.3h0m1.9-1.1h0m0.3-0.8h0m2.6 0.2h0m5.6 2.8h0m0.1-3.7h0m1 0h0m0.5 2h0m0-3h0m1.4 1.2h0m3.4 2.7h0m0.9 0.5h0m3.3 0.3h0m1.2-4h0m0.8 0.5h0m0 2.3h0m0.6 2.1h0m1.8-5.8h0m2.8 5h0m1.4-1.8h0m1.4-3.1h0m1.8 1.1h0m0 2.8h0m-63.1 6.1h0m30.1 1h0m0.7-3.1h0m4.2 3.9h0m0-2h0m1.1-3h0m0.6-0.9h0m0.4 1.8h0m0.4 0.9h0m1.1 2.1h0m1.5-4.9h0m0.5 0h0m0.8 4.8h0m1-4.8h0m0.1 0.9h0m2.2 1.7h0m0.7 0.6h0m1.7 0.1h0m2.1 0.1h0m0.6 1.8h0m1.8 0.4h0m2.3-2h0m0.8-0.2h0m0.5-2.4h0m0.8 0.2h0m0.2 0.6h0m0.1 3.6h0m1.9-2.4h0m2.8-1.5h0m0.5-1.5h0m1.2 5.9h0m1.1-0.5h0m0.2-0.4h0m0.2 0.5h0m1-1.9h0m-35.7 3.7h0m5.5 0.4h0m0.2 1.2h0m0.2 2.7h0m1.1-3.7h0m4.1 0.7h0m4-0.8h0m0.5-1.4h0m1.3 3.3h0m0.8 0.2h0m0.1-3.1h0m1.7-0.6h0m1.7 2h0m5.3-1.3h0m0.5-0.2h0m1.2 0.4h0m0 2.6h0m0.3 0.2h0m2.8 1.7h0m1.2-4.3h0m0.7 4.6h0m0.6-5.1h0m0.2 4.5h0m0.2-3.4h0m0.9-1.9h0m0.6 2.4h0m-33.4 6.9h0m0.2 0.5h0m2.3 1.9h0m0.7-1.6h0m1.5-3.2h0m0.8-0.6h0m4.6 3.3h0m2-1.9h0m1-0.2h0m1.7 3.6h0m0.5-1.3h0m0.2 0.3h0m1.2 0.6h0m1.3-4h0m2 2h0m2.7 0.8h0m0.4 1.6h0m0.1-4.6h0m2.4 3.4h0m1.8-1.8h0m0.2 1.4h0m0.2-3.3h0m2.7 5.3h0m1.3-4.2h0m0.2 4.5h0m0.6-3.8h0m0.5-0.2h0m1.8 0.1h0m1.6 3.6h0m-36.8 3.2h0m0.7-1.9h0m1.2 4.2h0m1-4.3h0m0 1.7h0m1.3-1.4h0m1.4 4.3h0m1.6-0.8h0m4.8-3h0m1.6-0.2h0m0.5 3h0m1.7-0.9h0m0.5-3.3h0m1.8 5.7h0m1.5-3.5h0m0.5-1.3h0m0 3.7h0m0.3-2.8h0m0.1 3.2h0m0.1-4.1h0m0 1.7h0m0.3 2.7h0m3.7 0.2h0m6.2-2.2h0m0-2.4h0m1.4 4.7h0m0.5-5h0m1.6 4.9h0m0.4-3h0m2 0.1h0m1.3 1.3h0m-41.8 4.4h0m1.3-1.7h0m10.3-0.2h0m0.4 0.6h0m0.5 3.9h0m1.9-1.1h0m0.8-3.3h0m0.7-0.4h0m2.2 1.4h0m1.3 2.7h0m1.6-2.6h0m1.8-1.7h0m3.3 0.9h0m0.3 1.7h0m0.8 0.5h0m0.6 2.6h0m0.1-4h0m1 2.9h0m0.8-1.8h0m0.5-2.4h0m3.3 1.9h0m1-0.1h0m0 1.6h0m3.7-3.3h0m1.6 3.9h0m0.1-2.5h0m0.9 0.8h0m0.4 1.7h0m0.1-2.7h0m1 2.6h0m0.7 0.7h0m-80.1 4.3h0m6.7-2.5h0m16.5 4.2h0m7.5-1.8h0m2.9 0.1h0m0.5-1.1h0m2.1-2h0m1.3 2.9h0m1.9 0.2h0m1.8 0.4h0m0.8-0.7h0m1.5-0.1h0m0.2 1.1h0m5.1-2.5h0m5.1 1.9h0m0.4 2.5h0m3.1-5.7h0m0.2 0.9h0m0.8-0.3h0m2.8 0.3h0m0.5 2.4h0m0.2 0.8h0m0.6 0.7h0m1-4.3h0m1.2 0.4h0m1.5 0.5h0m1.8 1.6h0m0.9-1.4h0m0.7 2.8h0m0.5-3.2h0m0.5 4.3h0m1.4-0.7h0m0.1-3.5h0m3.1-1.2h0m0.5 2.8h0m0.4 1h0m0.9-0.1h0m1.8-1.1h0m0.5 2.6h0m0.2-1.2h0m0.4-2.4h0m0.6 3h0m1.7-0.5h0m-82.3 1.7h0m8.8 4.4h0m4-2.8h0m0.2 2.8h0m0.9 1h0m0.5-2.7h0m1.3 0.7h0m2.4 2.3h0m5.4-2.8h0m2.8-1.3h0m3.8 2.3h0m5.4-2.1h0m3.8-1.4h0m0 2h0m1.3 2.6h0m3.6-2h0m0.1 2.6h0m4.6-1.6h0m3.4 0h0m3.1-2h0m3.4 1.6h0m0.4 0.1h0m1.3-3h0m0 4.2h0m0.6-3.3h0m1.1 1.8h0m1.1-0.8h0m1.1-0.4h0m0.6-0.3h0m2.3-1.8h0m1 5.5h0m0-3.2h0m0.6 1.9h0m1-3.7h0m0.4 1.3h0m0.3-1h0m0.1 3.5h0m1.7 1.4h0m0.8-5.5h0m2 3.2h0m1.9 0.6h0m1.8 0.7h0m2.9-3h0m1.2 0.9h0m0.3-1.1h0m-80.1 9.6h0m6-3.5h0m6.4 2.4h0m6-2.3h0m3.8 1.5h0m2.2 0.2h0m0.7 1.1h0m0.2-0.9h0m3.7 1.5h0m10.2-2.9h0m0.1-2.3h0m0.3 1.9h0m2.7 1.5h0m0.7-0.6h0m3-0.4h0m0.5 0.8h0m2.8-2.7h0m3.8 2h0m0 0.4h0m1.6-0.4h0m1.4 1.1h0m3 2.1h0m0.4-0.4h0m0.6-3.4h0m1.6-1.6h0m1.4 2.9h0m2.2-2.6h0m0.5-0.5h0m0.1 3.4h0m0.1-2.3h0m3.5 2.1h0m0.3-0.6h0m0.3-0.2h0m0.3 0.9h0m1.6 1.4h0m0.4-0.8h0m1.9 1.7h0m1-5.8h0m0.2 5.5h0m1 0.4h0m2.4-1h0m0-3.9h0m2.8 0.1h0m-84.6 7.7h0m6.7-1.1h0m0.7 0h0m2.3 0.4h0m2.2 1h0m0.2 2.4h0m2.6-0.7h0m7.1 0.8h0m3.4-5.2h0m1.5 0.3h0m0.8 0.9h0m1.9 3.3h0m0.7-3.8h0m7.2 3.1h0m3.9-2.6h0m1.7 1.9h0m0.5-3.1h0m4.9 1.5h0m0.9-0.7h0m4.9-0.7h0m4.5 1.8h0m4.7 1.6h0m1.2-0.1h0m0.1-3.2h0m1.9 2.6h0m1.9 1.9h0m0.6-3.7h0m6.1 0.6h0m3.6-0.6h0m2.9 0.3h0m2.5 0h0m1.3-0.9h0m0.3 0.6h0m-86.1 6.2h0m2.4 1.7h0m4.8-1.6h0m2.5 3.1h0m1.1-2.6h0m0.9-1.6h0m0.3 4.9h0m0.7-0.8h0m3.8-1.3h0m2.9 1.5h0m2.6-2.6h0m4.8 0.5h0m1.3 1.2h0m2.1-0.8h0m1.4-1.5h0m0.6 2.7h0m0-3h0m0.9 4.3h0m7.1-2h0m2.5-2.1h0m3.8 1.6h0m0.9-1.8h0m0.4 4.6h0m0.5-2.5h0m0.5-3.2h0m11 2.6h0m0-0.5h0m0 1.3h0m0.2-0.1h0m1.2 0h0m3.3 1.5h0m4.8-3h0m2.9 3.7h0m0.2-0.5h0m0.6-3.5h0m2 0.2h0m1.2 3h0m0-1.6h0m0.4-1.9h0m6.1 1.4h0m5.6 0.3h0m-84.5 4.4h0m4 2h0m0.5-2.2h0m5.1 3.5h0m1.5-3h0m0.7-1.1h0m25-0.7h0m0.9 0.5h0m22 5.4h0m1.9-3.2h0m6.5 0.1h0m4.4 1.5h0m0.6 0.8h0m3.4-2.6h0m4 2.6h0m1.1-2h0m0-0.5h0m0.7-0.8h0m0.7 2.7h0m1.5-1.7h0m2-1.1h0m2.2-0.3h0m0.1 2.3h0m0.7-0.4h0m3.9 1.9h0m-9.3 1h0m0.8 0.5h0m0.7 2.1h0m-90.4 4.4h0m15.9 3.8h0m13.1 0.3h0m8.2-1.6h0m0.9-0.9h0m1.1 1.9h0m0.2-0.5h0m3.7-1.4h0m1.6 0.8h0m3.1-0.7h0m0.8 0.5h0m0.3 0.6h0m15.3 1.1h0m9.7-0.3h0m22.6 0.3h0m0.3 0.2h0m0.7-5.1h0m1.4 2.9h0m0-1.1h0m0.2 3h0m0.1-2.3h0m-96.5 6.4h0m2.3-0.8h0m3.5-0.6h0m2.1 0h0m3.7-0.7h0m2.7 0.8h0m0 0.1h0m17.2-1.3h0m7.7 3.9h0m4.4-1.9h0m0.2 2.1h0m0.1-3.8h0m0 2.5h0m1.3-2.5h0m1.2-0.9h0m0 5.3h0m2.3 0.2h0m1.9-5.6h0m0.9 5.3h0m0.3-3.6h0m0.6 0.4h0m0.6 0.8h0m10.5-0.4h0m2.8 2.4h0m3.3-2.8h0m1.6 1.8h0m6.2-1.5h0m1.7 2h0m17.2-2.7h0m1.2-1.7h0m2.9 4.7h0m0.9-1.3h0m-94.8 6.7h0m0.3-3.2h0m15.9 1.1h0m17.8 1.1h0m3.9-0.6h0m0.5-2.3h0m3.4 1.1h0m1.3 4.7h0m1.6-4.2h0m0.7-1.4h0m0 0.8h0m1.6 0.7h0m6.7-1h0m1.3 4.2h0m0.8-3.2h0m1.6 0.8h0m2.3 3.2h0m1.7-2.6h0m3.9-1.3h0m4.7-0.1h0m2.6 0.4h0m1.8 3.7h0m6.5-0.7h0m1.7-1.8h0m12.8-2.5h0m0.9 3.7h0m-105.4 7.2h0m40.4-0.8h0m0.8-0.3h0m1.1-1.3h0m0-0.9h0m1.5-2.2h0m0.7 1.9h0m3.6 0.7h0m1.3-1.9h0m0.3 0.4h0m1.2 0h0m0.5 3.7h0m0.7-1.4h0m8.4 1h0m1.1-4.5h0m0.1 2.4h0m0.3-1.1h0m0.4 0.5h0m1.7-1.9h0m0.4 4.8h0m7.1-2.9h0m0.9 0.1h0m1.2-0.9h0m5 1.7h0m0.1 0.2h0m3.1-0.9h0m3.7 0.4h0m1.2 1.7h0m9.4 1h0m0.8-1.3h0m3.9 1h0m2.7-4.9h0m0.7 0.1h0m1.3 1.2h0m-103.2 7.5h0m26.7 0.8h0m13.5-1.4h0m0-0.2h0m1 2.9h0m0.9-2.4h0m1.3 2.3h0m0.2-4.3h0m1.3 1.8h0m0.3 2.2h0m0.4-2.3h0m0 0.6h0m0.4-0.8h0m0.6 3.8h0m0.3-3.7h0m2.6 2.5h0m0.1 1h0m7.2-1.7h0m0.7-0.6h0m0.9 0.6h0m0.7-2.1h0m0.7 2.7h0m1.2 0.4h0m0.8-3.8h0m2.5 2.3h0m0.6-1.9h0m6.1-1.3h0m0.9-0.4h0m2.9 1.4h0m3.2 0.9h0m3.8-1.1h0m1.3 1.7h0m1.5-0.2h0m5.2-0.1h0m2.2-1.2h0m0.1-0.7h0m4.5 2.4h0m0.1 1.5h0m0-0.7h0m1.8-3.4h0m1.3 1.8h0m4.4 3h0m0.9-4.9h0m2.7 4.8h0m0.2 0h0m1.7-4.9h0m4.9 0.5h0m-115.9 8.6h0m0.1-3.1h0m5.9 1.2h0m1.4-1.3h0m1.8 3.1h0m14.7-2.7h0m18 5h0m0.2-5.4h0m0.8 1.5h0m0.2 1.8h0m1.8 2.1h0m0.3-5.1h0m0.1 2.9h0m4.7-1.3h0m0.4 0.1h0m0.9-1.4h0m8.1 1.7h0m0.8-1.8h0m1.6 0.7h0m1.7 1.7h0m0.6 0.4h0m2.8 0.3h0m2.1 0.5h0m1-0.1h0m1.9 1h0m2.6-0.9h0m0.8-3.6h0m1.5 2.5h0m1.9 2.6h0m1.7-1.8h0m0.1-0.6h0m1 2.1h0m0.4-5.3h0m2 0.5h0m0.4 2.5h0m1.2-2.3h0m14.9 0.4h0m4 1.7h0m0.8 1.9h0m0.6-2.4h0m6.5 0.5h0m-78.7 7h0m8.2 0.5h0m0.2-4.3h0m1.2 5.2h0m0.8-1.2h0m3.2-3.3h0m0.3 4.6h0m1.6-5.4h0m0.2 1.4h0m0.3-0.1h0m7.5 3.1h0m0.9 0.7h0m0.2 0.6h0m0-1.2h0m1.4-2.1h0m5.6 2h0m0.8-0.3h0m0.4-2.3h0m1 1.6h0m1-2.3h0m0.8 1.9h0m2.6-2.9h0m0.9 2.9h0m1.1-1.7h0m2.1 4.6h0m3.3-3.3h0m2.1-2.2h0m5.1 2.9h0m0.5 2.5h0m1.6-0.3h0m0.1 0.2h0m12.8-3.6h0m12.1 0.8h0m0.2-0.4h0m0.2 1.3h0m0.2-0.3h0m0.5 0.5h0m-114.6 6.5h0m4.9-2.4h0m24.6-1.8h0m12.8 0.5h0m4.5 3.8h0m2.9-0.9h0m0.7-2h0m0.2 3.6h0m5.4-0.9h0m2.4-2.1h0m0.6-1.6h0m0.3 1h0m4-1.4h0m1.8 5.4h0m1.6-5h0m7.7 0.5h0m1.8-0.7h0m0.9 3.5h0m0.3-2.5h0m0 3.6h0m1.6 0.7h0m0.9-2h0m0.2-3.8h0m0.4 3.4h0m3.2 1h0m0.7-0.3h0m0.5 1.1h0m0.8-1.7h0m2.3 0.1h0m0 1.4h0m0.4-1.7h0m1.3-1.8h0m24.8 1.7h0m0.2-2.8h0m-69.6 10.7h0m1.8-2h0m2.1 1.1h0m1.8 1.5h0m0.1-1.5h0m0.2-3.6h0m1.7 1h0m0.8 4h0m0.9-1.3h0m0.9-1.8h0m2.6 3.3h0m0-1.5h0m1.6-0.6h0m8.6 1h0m1.6-3.9h0m1.5 2h0m9.2 0h0m1.2 0.2h0m3.2 1.8h0m2.6-3.7h0m27.4 0.3h0m0.2 0.4h0m2 2.8h0m1.1-4.4h0m-75.4 9.7h0m3.1-2.3h0m4.6 0.4h0m2.4 1h0m2.8 2.2h0m3.2-5.2h0m3.7 4.8h0m0.3 0.2h0m1.3-4.8h0m1.2 4.4h0m0.2-1.8h0m1.1-2.6h0m0.2 1.5h0m0.4 2.6h0m0.1-0.8h0m0.6 1.7h0m0.4-2.6h0m0.3 0.6h0m0.6-2.6h0m2.2 3.7h0m1 0h0m5.5 0.8h0m1.1-0.1h0m0.6 0h0m1.4-4.2h0m0.8 2.3h0m1.8-2.5h0m0.2 3.3h0m0.2-2.3h0m0.3 3h0m34.3 0.5h0m1.5 0.6h0m-116.9 1.3h0m36.5 4.5h0m2.5-4.2h0m3 3.7h0m3.5-2.3h0m0.3-2.1h0m3.9 3.9h0m1.2-1.1h0m1.3 2h0m9.5-1.8h0m1 1.6h0m1.5-4.6h0m0.4 1.4h0m2.6-0.5h0m2.3 0.8h0m4.7-1.6h0m0.1 3.3h0m0-0.6h0m0.2 0.7h0m3.2-0.7h0m1.6-2.9h0m0.4 2.2h0m0.1-0.9h0m27.6-0.1h0m5.5-1.1h0m1.8 0.5h0m0.4 3.9h0m1-3.1h0m-116.4 6.6h0m0.4-0.5h0m3.8 1.2h0m2.2-1.6h0m3 3.5h0m6.6-0.8h0m19.7-1.2h0m4.2 0.8h0m0.2 1.6h0m7.6-1.8h0m5.8-1.3h0m1.4-2h0m1.3 2.1h0m1 3.4h0m1.2-2.9h0m0.4-0.1h0m3-1.7h0m32.7 0.4h0m-93.1 7h0m33.5-2.1h0m2-0.3h0m1.2 3.5h0m1.2-1.5h0m3.2 1.9h0m0.9 0.9h0m0.2-5.1h0m1 4.2h0m5.4 0.2h0m0.7-2.5h0m0 0.3h0m1 2.5h0m3.1-2.4h0m0.8 0.3h0m0.6-1.6h0m0.8 0.4h0m32 4.1h0m18.9 0.3h0m6.3-0.6h0m0.4-1.8h0m0.5 1.5h0m-111.3 5.4h0m31.8-1.6h0m3.5 3h0m4-0.7h0m1.8-2.2h0m1.9 1.2h0m1.2-3.3h0m0.2 2.8h0m2.6-0.6h0m0.3 1.5h0m1.3-3.3h0m0.2 1.9h0m0.1 0.8h0m44.6-3.4h0m1.3 2.3h0m1.5 0.6h0m13.4-1.2h0m0.4 2.1h0m0.8-3.7h0m-116.7 10.3h0m3.8-2.4h0m7.7-0.4h0m1.3 3.3h0m16.3-1.5h0m4.3 0.8h0m2.8-0.2h0m1-0.3h0m0.7-3.8h0m1 2.3h0m2 0.5h0m3.7-2.6h0m0.8 2.8h0m2.4 2.3h0m0.2 0.3h0m1-2h0m1.1-3.1h0m2.1 0.3h0m0.6 0.5h0m3.9 1.8h0m33.4-0.5h0m23.4 1.7h0m0.5-1.9h0m0.7 0.1h0m-116.3 4.7h0m6.5 1.5h0m0.1 0h0m2.8-0.1h0m5.1-1.7h0m0.2 2.3h0m0.5 1.3h0m1.6 0.9h0m0.1-0.1h0m0.6-5.6h0m3.6 5.6h0m0.5-1h0m0.7 0.9h0m10.6-4.6h0m0.4 1.8h0m0.9 0.8h0m0.3-1.2h0m1.6 3h0m1.2-4.1h0m1.2 2.4h0m0.4-2.1h0m0.9 3.5h0m3.8-0.2h0m1.7-4.6h0m1.1 1.3h0m0 0.4h0m67.4 2.4h0m0.3 0.9h0m0.1-0.8h0m0.9-0.6h0m-96.7 2.3h0m2.4 2.5h0m1.2-1.2h0m5.4 0.7h0m1 0.3h0m0 0.1h0m3.8-0.3h0m0.6 0.3h0m1.2-1.2h0m1.3 0.7h0m4.2-0.8h0m42.1 4.7h0m31.2-0.3h0m0.3-2.5h0m0.8 1.4h0m3.3-2.8h0m-45.2 5.5h0m23.6 0.4h0m4.9 3.5h0m3.5-4.4h0m2.3 4.4h0m4.2-1.1h0m0 0.9h0m2.6-3.7h0m0.4 4.8h0m-44.5 2h0m31 1.7h0m1.7-1.1h0m0.7 1h0m0.4-2.6h0m1.5 0.8h0m0.4-0.9h0m-43.5 6.2h0m25.1 3.3h0m4.2 0.7h0m0.1-1.7h0m3.2-1.6h0m-51 6.2h0m2.2 3.2h0m23.8 0.5h0m4.5-0.5h0m4.5-2.2h0m0.1-0.8h0m4.8 3.4h0m4.2-5.5h0m-27.6 11.1h0m1.1-1.2h0m0.7-0.4h0m3.1 0.6h0m-61.4 7.7h0m1.9-0.6h0m2 0h0m0.4 0.2h0m2.8-0.1h0m42.5 0.5h0m1.9-2.4h0m1.9-1.3h0m1.4-2h0m-54.4 8.6h0m1 3.2h0m0.1-2h0m0.3-0.5h0m2.3-2.6h0m5.7 0.6h0m0.5 2.4h0m1.9 0.6h0m4.7-2h0m16.4 3.2h0m3.3-0.7h0m2.7 0h0m3.5-1.3h0m0.6-0.9h0m0.8-0.3h0m1.8-1.8h0m0.3 0.9h0m-49.3 8.6h0m5.6 1.6h0m6.2-4.5h0m3.4 2.1h0m4-0.4h0m0.9-2.6h0m0.5 3.6h0m0-4h0m1.5 0.4h0m1.5 4.9h0m0.4-3h0m12.5 3.6h0m1.2-0.6h0m1.4-4.6h0m0.7 1.1h0m1.2 1.1h0m-34.4 8.4h0m5.5-2.5h0m2.9 1.9h0m3.7 1.2h0m2.4-1.1h0m0.3-1.6h0m25.3-0.8h0m-44.5 4.5h0m3.2 2h0m3.2 1.3h0m1.6-1.6h0m0.2 2.5h0m2.3 0.5h0m1.4-2.1h0m0.2-2.7h0m0.9 0.5h0m5.4-0.2h0m4.4 2.5h0m2.3 0.2h0m4.4-3.2h0m-31.6 8.6h0m0.7 1.3h0m6.5 1.3h0m1.4-1.2h0m2.3 0.2h0m0-0.9h0m3.4-3.1h0m1.5-0.6h0m4 4.4h0m2.6-1.8h0m3-2.3h0m-19.9 5.7h0m0.4 1.8h0m0.3 3.9h0m1.3-2.3h0m0.6 2.3h0m0.5-2.9h0m0.7-2.1h0m0.7 0.2h0m6.2 3.1h0m0.7-3.2h0m0.1 0h0m2.1 1.2h0m-19.5 6.4h0m1-0.2h0m2.1-1.6h0m6.2 2.8h0m1.7-0.8h0m-5.8 6.1h0m0.5 0.7h0m0.2 0.5h0m-4 2.1h0" stroke="#000" stroke-width="2.4" stroke-linecap="round" fill="none"/>
<g stroke="#c0c0c0" stroke-width="0.8" stroke-dasharray="3,5" fill="none">
<line x1="0" y1="72.3" x2="348" y2="72.3"/>
<line x1="0" y1="143.8" x2="348" y2="143.8"/>
<line x1="0" y1="216" x2="348" y2="216"/>
<line x1="0" y1="287" x2="348" y2="287"/>
<line x1="0" y1="357.2" x2="348" y2="357.2"/>
<line x1="58" y1="0" x2="58" y2="427.6"/>
<line x1="116" y1="0" x2="116" y2="427.6"/>
<line x1="174" y1="0" x2="174" y2="427.6"/>
<line x1="232" y1="0" x2="232" y2="427.6"/>
<line x1="290" y1="0" x2="290" y2="427.6"/>
</g>
<g stroke="#555" stroke-width="0.8">
<line x1="0" y1="72.3" x2="4" y2="72.3"/><line x1="344" y1="72.3" x2="348" y2="72.3"/>
<line x1="0" y1="143.8" x2="4" y2="143.8"/><line x1="344" y1="143.8" x2="348" y2="143.8"/>
<line x1="0" y1="216" x2="4" y2="216"/><line x1="344" y1="216" x2="348" y2="216"/>
<line x1="0" y1="287" x2="4" y2="287"/><line x1="344" y1="287" x2="348" y2="287"/>
<line x1="0" y1="357.2" x2="4" y2="357.2"/><line x1="344" y1="357.2" x2="348" y2="357.2"/>
<line x1="58" y1="0" x2="58" y2="4"/><line x1="58" y1="423.6" x2="58" y2="427.6"/>
<line x1="116" y1="0" x2="116" y2="4"/><line x1="116" y1="423.6" x2="116" y2="427.6"/>
<line x1="174" y1="0" x2="174" y2="4"/><line x1="174" y1="423.6" x2="174" y2="427.6"/>
<line x1="232" y1="0" x2="232" y2="4"/><line x1="232" y1="423.6" x2="232" y2="427.6"/>
<line x1="290" y1="0" x2="290" y2="4"/><line x1="290" y1="423.6" x2="290" y2="427.6"/>
</g>
<g shape-rendering="crispEdges"><path fill="#0066ff" d="M67.7 -1.1h84.3v8.1h-84.3zM67.7 6.7h99.6v8.1h-99.6zM235.8 6.7h7.9v8.1h-7.9zM327.5 6.7h15.6v8.1h-15.6zM75.4 14.5h69.1v8.1h-69.1zM327.5 14.5h15.6v8.1h-15.6zM75.4 22.3h69.1v8.1h-69.1zM327.5 22.3h7.9v8.1h-7.9zM75.4 30.1h69.1v8.1h-69.1zM75.4 37.9h69.1v8.1h-69.1zM75.4 45.7h69.1v8.1h-69.1zM197.6 45.7h7.9v8.1h-7.9zM83 53.5h61.4v8.1h-61.4zM197.6 53.5h15.6v8.1h-15.6zM83 61.3h61.4v8.1h-61.4zM151.8 61.3h23.2v8.1h-23.2zM197.6 61.3h15.6v8.1h-15.6zM83 69.1h53.8v8.1h-53.8zM159.4 69.1h46.1v8.1h-46.1zM220.5 69.1h7.9v8.1h-7.9zM83 76.9h53.8v8h-53.8zM182.3 76.9h15.6v8h-15.6zM228.2 76.9h7.9v8h-7.9zM90.6 84.6h46.1v8h-46.1zM235.8 84.6h7.9v8h-7.9zM90.6 92.3h61.4v8h-61.4zM98.3 100h46.1v8h-46.1zM98.3 107.7h38.5v8h-38.5zM98.3 115.4h30.9v8h-30.9zM105.9 123.2h23.2v8h-23.2zM113.6 130.9h7.9v8h-7.9zM113.6 138.6h7.9v8h-7.9zM113.6 146.3h7.9v8.1h-7.9zM113.6 154.1h7.9v8.1h-7.9zM121.2 161.9h7.9v8.1h-7.9zM121.2 169.7h7.9v8.1h-7.9z"/><path fill="#00bfff" d="M151.8 -1.1h137.8v8.1h-137.8zM167 6.7h69.1v8.1h-69.1zM243.4 6.7h46.1v8.1h-46.1zM144.1 14.5h153.1v8.1h-153.1zM144.1 22.3h153.1v8.1h-153.1zM144.1 30.1h153.1v8.1h-153.1zM144.1 37.9h153.1v8.1h-153.1zM144.1 45.7h53.8v8.1h-53.8zM205.2 45.7h92v8.1h-92zM144.1 53.5h53.8v8.1h-53.8zM212.9 53.5h84.3v8.1h-84.3zM144.1 61.3h7.9v8.1h-7.9zM174.7 61.3h23.2v8.1h-23.2zM212.9 61.3h84.3v8.1h-84.3zM136.5 69.1h23.2v8.1h-23.2zM205.2 69.1h15.6v8.1h-15.6zM228.2 69.1h61.4v8.1h-61.4zM136.5 76.9h46.1v8h-46.1zM197.6 76.9h30.9v8h-30.9zM235.8 76.9h53.8v8h-53.8zM136.5 84.6h99.6v8h-99.6zM243.4 84.6h46.1v8h-46.1zM151.8 92.3h137.8v8h-137.8zM144.1 100h137.8v8h-137.8zM136.5 107.7h153.1v8h-153.1zM128.8 115.4h168.4v8h-168.4zM128.8 123.2h160.7v8h-160.7zM121.2 130.9h160.7v8h-160.7zM121.2 138.6h160.7v8h-160.7zM121.2 146.3h153.1v8.1h-153.1zM121.2 154.1h145.5v8.1h-145.5zM128.8 161.9h130.2v8.1h-130.2zM128.8 169.7h122.5v8.1h-122.5zM121.2 177.5h122.5v8.1h-122.5zM128.8 185.3h107.3v8.1h-107.3zM136.5 193.1h53.8v8.1h-53.8zM197.6 193.1h30.9v8.1h-30.9zM136.5 200.9h15.6v8.1h-15.6zM159.4 200.9h23.2v8.1h-23.2zM205.2 200.9h15.6v8.1h-15.6zM167 208.7h15.6v8.1h-15.6zM174.7 216.5h15.6v8h-15.6z"/><path fill="#0000f0" d="M289.3 -1.1h15.6v8.1h-15.6zM335.1 -1.1h15.6v8.1h-15.6zM289.3 6.7h7.9v8.1h-7.9zM304.6 6.7h23.2v8.1h-23.2zM342.8 6.7h7.9v8.1h-7.9zM296.9 14.5h30.9v8.1h-30.9zM342.8 14.5h7.9v8.1h-7.9zM296.9 22.3h30.9v8.1h-30.9zM335.1 22.3h15.6v8.1h-15.6zM296.9 30.1h46.1v8.1h-46.1zM296.9 37.9h46.1v8.1h-46.1zM296.9 45.7h53.8v8.1h-53.8zM296.9 53.5h53.8v8.1h-53.8zM296.9 61.3h53.8v8.1h-53.8zM289.3 69.1h61.4v8.1h-61.4zM289.3 76.9h61.4v8h-61.4zM289.3 84.6h61.4v8h-61.4zM289.3 92.3h61.4v8h-61.4zM281.6 100h69.1v8h-69.1zM289.3 107.7h61.4v8h-61.4zM296.9 115.4h53.8v8h-53.8zM289.3 123.2h61.4v8h-61.4zM281.6 130.9h69.1v8h-69.1zM281.6 138.6h69.1v8h-69.1zM274 146.3h76.7v8.1h-76.7zM266.4 154.1h84.3v8.1h-84.3zM258.7 161.9h92v8.1h-92zM251.1 169.7h99.6v8.1h-99.6zM243.4 177.5h107.3v8.1h-107.3zM121.2 185.3h7.9v8.1h-7.9zM235.8 185.3h114.9v8.1h-114.9zM121.2 193.1h15.6v8.1h-15.6zM228.2 193.1h122.5v8.1h-122.5zM121.2 200.9h15.6v8.1h-15.6zM220.5 200.9h130.2v8.1h-130.2zM121.2 208.7h15.6v8.1h-15.6zM212.9 208.7h137.8v8.1h-137.8zM121.2 216.5h7.9v8h-7.9zM212.9 216.5h137.8v8h-137.8zM121.2 224.1h7.9v8h-7.9zM174.7 224.1h7.9v8h-7.9zM212.9 224.1h137.8v8h-137.8zM174.7 231.8h7.9v8h-7.9zM228.2 231.8h122.5v8h-122.5zM235.8 239.4h114.9v8h-114.9zM144.1 247.1h7.9v8h-7.9zM235.8 247.1h114.9v8h-114.9zM235.8 254.8h114.9v8h-114.9zM190 262.4h7.9v8h-7.9zM228.2 262.4h122.5v8h-122.5zM121.2 270.1h7.9v8h-7.9zM144.1 270.1h7.9v8h-7.9zM190 270.1h23.2v8h-23.2zM243.4 270.1h107.3v8h-107.3zM190 277.8h7.9v8h-7.9zM251.1 277.8h99.6v8h-99.6zM190 285.4h7.9v7.9h-7.9zM251.1 285.4h99.6v7.9h-99.6zM190 293h7.9v7.9h-7.9zM266.4 293h38.5v7.9h-38.5zM327.5 293h23.2v7.9h-23.2zM182.3 300.6h15.6v7.9h-15.6zM266.4 300.6h30.9v7.9h-30.9zM182.3 308.2h15.6v7.9h-15.6zM266.4 308.2h15.6v7.9h-15.6zM197.6 315.7h7.9v7.9h-7.9zM212.9 315.7h7.9v7.9h-7.9zM258.7 315.7h23.2v7.9h-23.2zM205.2 323.3h23.2v7.9h-23.2zM182.3 330.9h38.5v7.9h-38.5zM182.3 338.5h30.9v7.9h-30.9zM174.7 346h7.9v7.9h-7.9zM205.2 346h7.9v7.9h-7.9z"/><path fill="#0000a0" d="M304.6 -1.1h30.9v8.1h-30.9zM296.9 6.7h7.9v8.1h-7.9zM342.8 30.1h7.9v8.1h-7.9zM342.8 37.9h7.9v8.1h-7.9zM98.3 123.2h7.9v8h-7.9zM105.9 130.9h7.9v8h-7.9zM105.9 138.6h7.9v8h-7.9zM113.6 161.9h7.9v8.1h-7.9zM21.9 315.7h7.9v7.9h-7.9zM14.2 323.3h23.2v7.9h-23.2zM6.6 330.9h23.2v7.9h-23.2zM6.6 338.5h15.6v7.9h-15.6zM342.8 422h7.9v7.9h-7.9z"/><path fill="#800000" d="M190 193.1h7.9v8.1h-7.9zM151.8 200.9h7.9v8.1h-7.9zM182.3 200.9h23.2v8.1h-23.2zM136.5 208.7h30.9v8.1h-30.9zM182.3 208.7h30.9v8.1h-30.9zM136.5 216.5h38.5v8h-38.5zM190 216.5h15.6v8h-15.6zM167 224.1h7.9v8h-7.9z"/><path fill="#ff3300" d="M128.8 216.5h7.9v8h-7.9zM205.2 216.5h7.9v8h-7.9zM128.8 224.1h38.5v8h-38.5zM182.3 224.1h30.9v8h-30.9zM136.5 231.8h38.5v8h-38.5zM182.3 231.8h46.1v8h-46.1zM136.5 239.4h99.6v8h-99.6zM151.8 247.1h84.3v8h-84.3zM151.8 254.8h84.3v8h-84.3zM159.4 262.4h30.9v8h-30.9zM197.6 262.4h30.9v8h-30.9zM159.4 270.1h30.9v8h-30.9zM212.9 270.1h30.9v8h-30.9zM159.4 277.8h30.9v8h-30.9zM197.6 277.8h53.8v8h-53.8zM167 285.4h23.2v7.9h-23.2zM197.6 285.4h53.8v7.9h-53.8zM159.4 293h30.9v7.9h-30.9zM197.6 293h38.5v7.9h-38.5zM243.4 293h23.2v7.9h-23.2zM167 300.6h15.6v7.9h-15.6zM197.6 300.6h30.9v7.9h-30.9zM235.8 300.6h30.9v7.9h-30.9zM167 308.2h15.6v7.9h-15.6zM197.6 308.2h23.2v7.9h-23.2zM235.8 308.2h30.9v7.9h-30.9zM174.7 315.7h23.2v7.9h-23.2zM205.2 315.7h7.9v7.9h-7.9zM235.8 315.7h23.2v7.9h-23.2zM182.3 323.3h7.9v7.9h-7.9zM243.4 323.3h23.2v7.9h-23.2z"/><path fill="#ff6600" d="M121.2 231.8h15.6v8h-15.6zM121.2 239.4h15.6v8h-15.6zM105.9 247.1h38.5v8h-38.5zM105.9 254.8h46.1v8h-46.1zM105.9 262.4h53.8v8h-53.8zM105.9 270.1h15.6v8h-15.6zM128.8 270.1h15.6v8h-15.6zM151.8 270.1h7.9v8h-7.9zM98.3 277.8h61.4v8h-61.4zM98.3 285.4h69.1v7.9h-69.1zM98.3 293h61.4v7.9h-61.4zM235.8 293h7.9v7.9h-7.9zM98.3 300.6h69.1v7.9h-69.1zM228.2 300.6h7.9v7.9h-7.9zM98.3 308.2h69.1v7.9h-69.1zM220.5 308.2h15.6v7.9h-15.6zM98.3 315.7h76.7v7.9h-76.7zM220.5 315.7h15.6v7.9h-15.6zM98.3 323.3h84.3v7.9h-84.3zM190 323.3h15.6v7.9h-15.6zM228.2 323.3h15.6v7.9h-15.6zM98.3 330.9h84.3v7.9h-84.3zM220.5 330.9h38.5v7.9h-38.5zM98.3 338.5h84.3v7.9h-84.3zM212.9 338.5h46.1v7.9h-46.1zM98.3 346h76.7v7.9h-76.7zM182.3 346h23.2v7.9h-23.2zM212.9 346h38.5v7.9h-38.5zM98.3 353.6h153.1v7.9h-153.1zM98.3 361.2h145.5v7.9h-145.5zM90.6 368.8h153.1v7.9h-153.1zM90.6 376.4h145.5v7.9h-145.5zM90.6 384h92v7.9h-92zM190 384h38.5v7.9h-38.5zM90.6 391.6h84.3v7.9h-84.3zM190 391.6h38.5v7.9h-38.5zM90.6 399.2h84.3v7.9h-84.3zM190 399.2h30.9v7.9h-30.9zM90.6 406.8h76.7v7.9h-76.7zM190 406.8h23.2v7.9h-23.2zM90.6 414.4h76.7v7.9h-76.7zM90.6 422h76.7v7.9h-76.7z"/><path fill="#ffb400" d="M90.6 247.1h15.6v8h-15.6zM83 254.8h23.2v8h-23.2zM75.4 262.4h30.9v8h-30.9zM60.1 270.1h46.1v8h-46.1zM60.1 277.8h38.5v8h-38.5zM52.4 285.4h46.1v7.9h-46.1zM44.8 293h53.8v7.9h-53.8zM37.2 300.6h61.4v7.9h-61.4zM29.5 308.2h69.1v7.9h-69.1zM29.5 315.7h69.1v7.9h-69.1zM37.2 323.3h61.4v7.9h-61.4zM29.5 330.9h69.1v7.9h-69.1zM21.9 338.5h76.7v7.9h-76.7zM6.6 346h92v7.9h-92zM6.6 353.6h92v7.9h-92zM6.6 361.2h92v7.9h-92zM6.6 368.8h84.3v7.9h-84.3zM6.6 376.4h84.3v7.9h-84.3zM6.6 384h84.3v7.9h-84.3zM6.6 391.6h84.3v7.9h-84.3zM6.6 399.2h84.3v7.9h-84.3zM6.6 406.8h84.3v7.9h-84.3zM6.6 414.4h84.3v7.9h-84.3zM6.6 422h84.3v7.9h-84.3z"/><path fill="#0000c8" d="M304.6 293h23.2v7.9h-23.2zM296.9 300.6h53.8v7.9h-53.8zM281.6 308.2h69.1v7.9h-69.1zM281.6 315.7h69.1v7.9h-69.1zM266.4 323.3h84.3v7.9h-84.3zM258.7 330.9h92v7.9h-92zM258.7 338.5h92v7.9h-92zM251.1 346h99.6v7.9h-99.6zM251.1 353.6h99.6v7.9h-99.6zM243.4 361.2h107.3v7.9h-107.3zM243.4 368.8h107.3v7.9h-107.3zM235.8 376.4h114.9v7.9h-114.9zM182.3 384h7.9v7.9h-7.9zM228.2 384h122.5v7.9h-122.5zM174.7 391.6h15.6v7.9h-15.6zM228.2 391.6h122.5v7.9h-122.5zM174.7 399.2h15.6v7.9h-15.6zM220.5 399.2h130.2v7.9h-130.2zM167 406.8h23.2v7.9h-23.2zM212.9 406.8h137.8v7.9h-137.8zM167 414.4h183.7v7.9h-183.7zM167 422h176v7.9h-176z"/></g>
<path d="M59.1 45.4L75.1 45.4M61.4 39.7L72.8 51.1M67.1 37.4L67.1 53.4M72.8 39.7L61.4 51.1" stroke="#ff0000" stroke-width="1.1" fill="none"/>
<path d="M96.6 156.8L112.6 156.8M98.9 151.1L110.3 162.5M104.6 148.8L104.6 164.8M110.3 151.1L98.9 162.5" stroke="#ff0000" stroke-width="1.1" fill="none"/>
<path d="M105.3 249.8L121.3 249.8M107.6 244.1L119 255.5M113.3 241.8L113.3 257.8M119 244.1L107.6 255.5" stroke="#ff0000" stroke-width="1.1" fill="none"/>
<path d="M54.3 272L70.3 272M56.6 266.3L68 277.7M62.3 264L62.3 280M68 266.3L56.6 277.7" stroke="#ff0000" stroke-width="1.1" fill="none"/>
</g>
<g shape-rendering="crispEdges">
<rect x="3.5" y="19.8" width="2" height="25.5" fill="#000087"/>
<rect x="5.2" y="19.8" width="2" height="25.5" fill="#000097"/>
<rect x="7" y="19.8" width="2" height="25.5" fill="#0000a7"/>
<rect x="8.7" y="19.8" width="2" height="25.5" fill="#0000b7"/>
<rect x="10.5" y="19.8" width="2" height="25.5" fill="#0000c7"/>
<rect x="12.2" y="19.8" width="2" height="25.5" fill="#0000d7"/>
<rect x="14" y="19.8" width="2" height="25.5" fill="#0000e7"/>
<rect x="15.7" y="19.8" width="2" height="25.5" fill="#0000f7"/>
<rect x="17.4" y="19.8" width="2" height="25.5" fill="#0008ff"/>
<rect x="19.2" y="19.8" width="2" height="25.5" fill="#0018ff"/>
<rect x="20.9" y="19.8" width="2" height="25.5" fill="#0028ff"/>
<rect x="22.7" y="19.8" width="2" height="25.5" fill="#0038ff"/>
<rect x="24.4" y="19.8" width="2" height="25.5" fill="#0048ff"/>
<rect x="26.2" y="19.8" width="2" height="25.5" fill="#0058ff"/>
<rect x="27.9" y="19.8" width="2" height="25.5" fill="#0068ff"/>
<rect x="29.7" y="19.8" width="2" height="25.5" fill="#0078ff"/>
<rect x="31.4" y="19.8" width="2" height="25.5" fill="#0087ff"/>
<rect x="33.1" y="19.8" width="2" height="25.5" fill="#0097ff"/>
<rect x="34.9" y="19.8" width="2" height="25.5" fill="#00a7ff"/>
<rect x="36.6" y="19.8" width="2" height="25.5" fill="#00b7ff"/>
<rect x="38.4" y="19.8" width="2" height="25.5" fill="#00c7ff"/>
<rect x="40.1" y="19.8" width="2" height="25.5" fill="#00d7ff"/>
<rect x="41.9" y="19.8" width="2" height="25.5" fill="#00e7ff"/>
<rect x="43.6" y="19.8" width="2" height="25.5" fill="#00f7ff"/>
<rect x="45.3" y="19.8" width="2" height="25.5" fill="#08fff7"/>
<rect x="47.1" y="19.8" width="2" height="25.5" fill="#18ffe7"/>
<rect x="48.8" y="19.8" width="2" height="25.5" fill="#28ffd7"/>
<rect x="50.6" y="19.8" width="2" height="25.5" fill="#38ffc7"/>
<rect x="52.3" y="19.8" width="2" height="25.5" fill="#48ffb7"/>
<rect x="54.1" y="19.8" width="2" height="25.5" fill="#58ffa7"/>
<rect x="55.8" y="19.8" width="2" height="25.5" fill="#68ff97"/>
<rect x="57.6" y="19.8" width="2" height="25.5" fill="#78ff87"/>
<rect x="59.3" y="19.8" width="2" height="25.5" fill="#87ff78"/>
<rect x="61" y="19.8" width="2" height="25.5" fill="#97ff68"/>
<rect x="62.8" y="19.8" width="2" height="25.5" fill="#a7ff58"/>
<rect x="64.5" y="19.8" width="2" height="25.5" fill="#b7ff48"/>
<rect x="66.3" y="19.8" width="2" height="25.5" fill="#c7ff38"/>
<rect x="68" y="19.8" width="2" height="25.5" fill="#d7ff28"/>
<rect x="69.8" y="19.8" width="2" height="25.5" fill="#e7ff18"/>
<rect x="71.5" y="19.8" width="2" height="25.5" fill="#f7ff08"/>
<rect x="73.2" y="19.8" width="2" height="25.5" fill="#fff700"/>
<rect x="75" y="19.8" width="2" height="25.5" fill="#ffe700"/>
<rect x="76.7" y="19.8" width="2" height="25.5" fill="#ffd700"/>
<rect x="78.5" y="19.8" width="2" height="25.5" fill="#ffc700"/>
<rect x="80.2" y="19.8" width="2" height="25.5" fill="#ffb700"/>
<rect x="82" y="19.8" width="2" height="25.5" fill="#ffa700"/>
<rect x="83.7" y="19.8" width="2" height="25.5" fill="#ff9700"/>
<rect x="85.5" y="19.8" width="2" height="25.5" fill="#ff8700"/>
<rect x="87.2" y="19.8" width="2" height="25.5" fill="#ff7800"/>
<rect x="88.9" y="19.8" width="2" height="25.5" fill="#ff6800"/>
<rect x="90.7" y="19.8" width="2" height="25.5" fill="#ff5800"/>
<rect x="92.4" y="19.8" width="2" height="25.5" fill="#ff4800"/>
<rect x="94.2" y="19.8" width="2" height="25.5" fill="#ff3800"/>
<rect x="95.9" y="19.8" width="2" height="25.5" fill="#ff2800"/>
<rect x="97.7" y="19.8" width="2" height="25.5" fill="#ff1800"/>
<rect x="99.4" y="19.8" width="2" height="25.5" fill="#ff0800"/>
<rect x="101.1" y="19.8" width="2" height="25.5" fill="#f70000"/>
<rect x="102.9" y="19.8" width="2" height="25.5" fill="#e70000"/>
<rect x="104.6" y="19.8" width="2" height="25.5" fill="#d70000"/>
<rect x="106.4" y="19.8" width="2" height="25.5" fill="#c70000"/>
<rect x="108.1" y="19.8" width="2" height="25.5" fill="#b70000"/>
<rect x="109.9" y="19.8" width="2" height="25.5" fill="#a70000"/>
<rect x="111.6" y="19.8" width="2" height="25.5" fill="#970000"/>
<rect x="113.4" y="19.8" width="2" height="25.5" fill="#870000"/>
</g>
<rect x="3.5" y="19.8" width="111.6" height="25.5" fill="none" stroke="#262626" stroke-width="1"/>
<text x="3.5" y="7.3" font-size="18" fill="#262626" text-anchor="middle">0</text>
<text x="51" y="7.3" font-size="18" fill="#262626" text-anchor="middle">20</text>
<text x="99.1" y="7.3" font-size="18" fill="#262626" text-anchor="middle">40</text>
<text x="285.4" y="37.2" font-size="20" fill="#000">10 km</text><line x1="306.4" y1="43.6" x2="319.6" y2="43.6" stroke="#000" stroke-width="3.6" stroke-linecap="round"/>
</g>
<rect x="74.7" y="142.4" width="348" height="427.6" fill="none" stroke="#262626" stroke-width="1"/>
<g font-size="21" fill="#000" text-anchor="end">
<text x="68.1" y="149.4">37°N</text>
<text x="68.1" y="293.2">36°N</text>
<text x="68.1" y="436.4">35°N</text>
<text x="68.1" y="577">34°N</text>
</g><g font-size="15" fill="#000" text-anchor="end">
<text x="67.5" y="220.7">30'</text>
<text x="67.5" y="364.4">30'</text>
<text x="67.5" y="505.6">30'</text>
</g><g font-size="21" fill="#000" text-anchor="middle">
<text x="135.7" y="590.9">76°W</text>
<text x="251.7" y="590.9">75°W</text>
<text x="367.7" y="590.9">74°W</text>
</g><g font-size="15" fill="#000" text-anchor="middle">
<text x="74.7" y="586.9">30'</text>
<text x="190.7" y="586.9">30'</text>
<text x="306.7" y="586.9">30'</text>
<text x="422.7" y="586.9">30'</text>
</g>
<rect x="458.4" y="142.4" width="348" height="427.6" fill="none" stroke="#262626" stroke-width="1"/>
<g font-size="21" fill="#000" text-anchor="end">
<text x="451.8" y="149.4">37°N</text>
<text x="451.8" y="293.2">36°N</text>
<text x="451.8" y="436.4">35°N</text>
<text x="451.8" y="577">34°N</text>
</g><g font-size="15" fill="#000" text-anchor="end">
<text x="451.2" y="220.7">30'</text>
<text x="451.2" y="364.4">30'</text>
<text x="451.2" y="505.6">30'</text>
</g><g font-size="21" fill="#000" text-anchor="middle">
<text x="519.4" y="590.9">76°W</text>
<text x="635.4" y="590.9">75°W</text>
<text x="751.4" y="590.9">74°W</text>
</g><g font-size="15" fill="#000" text-anchor="middle">
<text x="458.4" y="586.9">30'</text>
<text x="574.4" y="586.9">30'</text>
<text x="690.4" y="586.9">30'</text>
<text x="806.4" y="586.9">30'</text>
</g>
<text x="632.4" y="130.9" font-size="20.6" font-weight="bold" text-anchor="middle">GDOP TotalErrors (1.25)</text>
<rect x="843.7" y="142.4" width="348" height="427.6" fill="none" stroke="#262626" stroke-width="1"/>
<g font-size="21" fill="#000" text-anchor="end">
<text x="837.1" y="149.4">37°N</text>
<text x="837.1" y="293.2">36°N</text>
<text x="837.1" y="436.4">35°N</text>
<text x="837.1" y="577">34°N</text>
</g><g font-size="15" fill="#000" text-anchor="end">
<text x="836.5" y="220.7">30'</text>
<text x="836.5" y="364.4">30'</text>
<text x="836.5" y="505.6">30'</text>
</g><g font-size="21" fill="#000" text-anchor="middle">
<text x="904.7" y="590.9">76°W</text>
<text x="1020.7" y="590.9">75°W</text>
<text x="1136.7" y="590.9">74°W</text>
</g><g font-size="15" fill="#000" text-anchor="middle">
<text x="843.7" y="586.9">30'</text>
<text x="959.7" y="586.9">30'</text>
<text x="1075.7" y="586.9">30'</text>
<text x="1191.7" y="586.9">30'</text>
</g>
<text x="1017.7" y="130.9" font-size="20.6" font-weight="bold" text-anchor="middle">Number of Rads (3)</text>
<rect x="1227.1" y="142.4" width="348" height="427.6" fill="none" stroke="#262626" stroke-width="1"/>
<g font-size="21" fill="#000" text-anchor="end">
<text x="1220.5" y="149.4">37°N</text>
<text x="1220.5" y="293.2">36°N</text>
<text x="1220.5" y="436.4">35°N</text>
<text x="1220.5" y="577">34°N</text>
</g><g font-size="15" fill="#000" text-anchor="end">
<text x="1219.9" y="220.7">30'</text>
<text x="1219.9" y="364.4">30'</text>
<text x="1219.9" y="505.6">30'</text>
</g><g font-size="21" fill="#000" text-anchor="middle">
<text x="1288.1" y="590.9">76°W</text>
<text x="1404.1" y="590.9">75°W</text>
<text x="1520.1" y="590.9">74°W</text>
</g><g font-size="15" fill="#000" text-anchor="middle">
<text x="1227.1" y="586.9">30'</text>
<text x="1343.1" y="586.9">30'</text>
<text x="1459.1" y="586.9">30'</text>
<text x="1575.1" y="586.9">30'</text>
</g>
<text x="1401.1" y="130.9" font-size="20.6" font-weight="bold" text-anchor="middle">Number of Sites (2)</text>
<rect x="74.7" y="742.4" width="348" height="427.6" fill="none" stroke="#262626" stroke-width="1"/>
<g font-size="21" fill="#000" text-anchor="end">
<text x="68.1" y="749.4">37°N</text>
<text x="68.1" y="893.2">36°N</text>
<text x="68.1" y="1036.4">35°N</text>
<text x="68.1" y="1177">34°N</text>
</g><g font-size="15" fill="#000" text-anchor="end">
<text x="67.5" y="820.7">30'</text>
<text x="67.5" y="964.4">30'</text>
<text x="67.5" y="1105.6">30'</text>
</g><g font-size="21" fill="#000" text-anchor="middle">
<text x="135.7" y="1190.9">76°W</text>
<text x="251.7" y="1190.9">75°W</text>
<text x="367.7" y="1190.9">74°W</text>
</g><g font-size="15" fill="#000" text-anchor="middle">
<text x="74.7" y="1186.9">30'</text>
<text x="190.7" y="1186.9">30'</text>
<text x="306.7" y="1186.9">30'</text>
<text x="422.7" y="1186.9">30'</text>
</g>
<text x="248.7" y="729.6" font-size="24.3" font-weight="bold" text-anchor="middle">Radial Grid</text>
<rect x="458.4" y="742.4" width="348" height="427.6" fill="none" stroke="#262626" stroke-width="1"/>
<g font-size="21" fill="#000" text-anchor="end">
<text x="451.8" y="749.4">37°N</text>
<text x="451.8" y="893.2">36°N</text>
<text x="451.8" y="1036.4">35°N</text>
<text x="451.8" y="1177">34°N</text>
</g><g font-size="15" fill="#000" text-anchor="end">
<text x="451.2" y="820.7">30'</text>
<text x="451.2" y="964.4">30'</text>
<text x="451.2" y="1105.6">30'</text>
</g><g font-size="21" fill="#000" text-anchor="middle">
<text x="519.4" y="1190.9">76°W</text>
<text x="635.4" y="1190.9">75°W</text>
<text x="751.4" y="1190.9">74°W</text>
</g><g font-size="15" fill="#000" text-anchor="middle">
<text x="458.4" y="1186.9">30'</text>
<text x="574.4" y="1186.9">30'</text>
<text x="690.4" y="1186.9">30'</text>
<text x="806.4" y="1186.9">30'</text>
</g>
<text x="632.4" y="731" font-size="20.6" font-weight="bold" text-anchor="middle">FitDif TotalErrors (30)</text>
<rect x="843.7" y="742.4" width="348" height="427.6" fill="none" stroke="#262626" stroke-width="1"/>
<g font-size="21" fill="#000" text-anchor="end">
<text x="837.1" y="749.4">37°N</text>
<text x="837.1" y="893.2">36°N</text>
<text x="837.1" y="1036.4">35°N</text>
<text x="837.1" y="1177">34°N</text>
</g><g font-size="15" fill="#000" text-anchor="end">
<text x="836.5" y="820.7">30'</text>
<text x="836.5" y="964.4">30'</text>
<text x="836.5" y="1105.6">30'</text>
</g><g font-size="21" fill="#000" text-anchor="middle">
<text x="904.7" y="1190.9">76°W</text>
<text x="1020.7" y="1190.9">75°W</text>
<text x="1136.7" y="1190.9">74°W</text>
</g><g font-size="15" fill="#000" text-anchor="middle">
<text x="843.7" y="1186.9">30'</text>
<text x="959.7" y="1186.9">30'</text>
<text x="1075.7" y="1186.9">30'</text>
<text x="1191.7" y="1186.9">30'</text>
</g>
<text x="1017.7" y="729.6" font-size="24.3" font-weight="bold" text-anchor="middle">Site Codes</text>
</svg></body></html>
